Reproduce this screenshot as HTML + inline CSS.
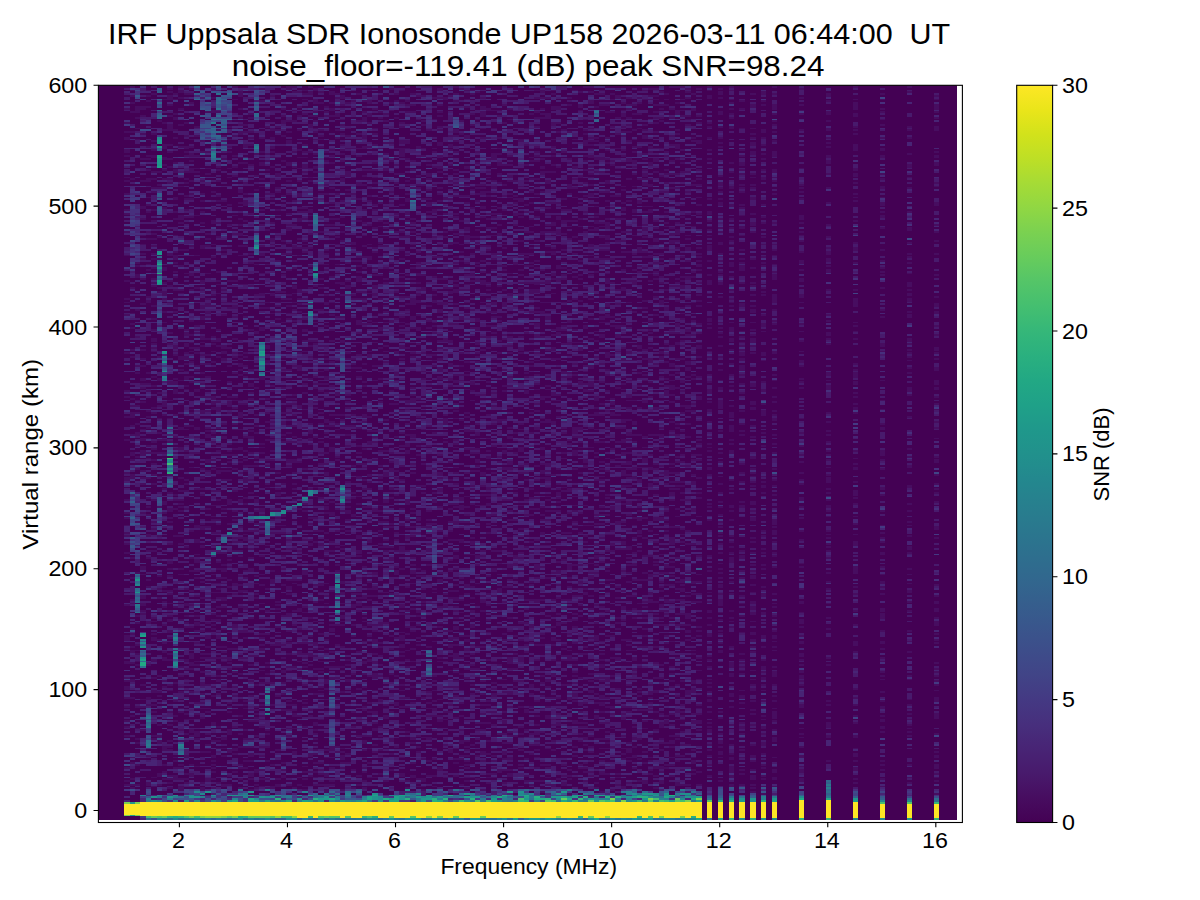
<!DOCTYPE html>
<html><head><meta charset="utf-8"><style>
html,body{margin:0;padding:0;background:#fff;width:1200px;height:900px;overflow:hidden}
svg{display:block}
text{font-family:"Liberation Sans",sans-serif;fill:#000}
</style></head><body>
<svg width="1200" height="900" viewBox="0 0 1200 900">
<defs><linearGradient id="vir" x1="0" y1="1" x2="0" y2="0"><stop offset="0.0000" stop-color="#440154"/><stop offset="0.0333" stop-color="#470d60"/><stop offset="0.0667" stop-color="#481a6c"/><stop offset="0.1000" stop-color="#482475"/><stop offset="0.1333" stop-color="#472f7d"/><stop offset="0.1667" stop-color="#443983"/><stop offset="0.2000" stop-color="#414487"/><stop offset="0.2333" stop-color="#3d4d8a"/><stop offset="0.2667" stop-color="#39568c"/><stop offset="0.3000" stop-color="#355f8d"/><stop offset="0.3333" stop-color="#31688e"/><stop offset="0.3667" stop-color="#2d708e"/><stop offset="0.4000" stop-color="#2a788e"/><stop offset="0.4333" stop-color="#27808e"/><stop offset="0.4667" stop-color="#23888e"/><stop offset="0.5000" stop-color="#21918c"/><stop offset="0.5333" stop-color="#1f988b"/><stop offset="0.5667" stop-color="#1fa188"/><stop offset="0.6000" stop-color="#22a884"/><stop offset="0.6333" stop-color="#2ab07f"/><stop offset="0.6667" stop-color="#35b779"/><stop offset="0.7000" stop-color="#44bf70"/><stop offset="0.7333" stop-color="#54c568"/><stop offset="0.7667" stop-color="#67cc5c"/><stop offset="0.8000" stop-color="#7ad151"/><stop offset="0.8333" stop-color="#90d743"/><stop offset="0.8667" stop-color="#a5db36"/><stop offset="0.9000" stop-color="#bddf26"/><stop offset="0.9333" stop-color="#d2e21b"/><stop offset="0.9667" stop-color="#eae51a"/><stop offset="1.0000" stop-color="#fde725"/></linearGradient></defs>
<rect x="0" y="0" width="1200" height="900" fill="#fff"/>
<g font-size="30">
<text x="107.95" y="43.8" textLength="842.3" lengthAdjust="spacingAndGlyphs" xml:space="preserve">IRF Uppsala SDR Ionosonde UP158 2026-03-11 06:44:00  UT</text>
<text x="231.7" y="76.3" textLength="592.8" lengthAdjust="spacingAndGlyphs">noise_floor=-119.41 (dB) peak SNR=98.24</text>
</g>
<rect x="98.4" y="85.3" width="858.60" height="734.70" fill="#440154"/>
<g transform="translate(124.2000,85.9375) scale(5.397,1.8125)" shape-rendering="crispEdges">
<path fill="#470d60" d="M23 390h1v1h-1zM30 390h1v1h-1zM61 390h1v1h-1zM82 390h1v1h-1zM92 390h1v1h-1zM118 390h1v1h-1zM150 390h1v1h-1zM37 389h1v1h-1zM77 389h1v1h-1zM88 389h1v1h-1zM95 389h1v1h-1zM116 389h1v1h-1zM10 388h1v1h-1zM14 388h1v1h-1zM23 388h1v1h-1zM33 388h1v1h-1zM37 388h1v1h-1zM40 388h1v1h-1zM55 388h1v1h-1zM66 388h1v1h-1zM90 388h1v1h-1zM1 387h1v1h-1zM8 387h1v1h-1zM10 387h1v1h-1zM14 387h1v1h-1zM16 387h1v1h-1zM21 387h1v1h-1zM24 387h1v1h-1zM26 387h2v1h-2zM31 387h1v1h-1zM42 387h1v1h-1zM44 387h1v1h-1zM52 387h1v1h-1zM63 387h1v1h-1zM87 387h1v1h-1zM92 387h1v1h-1zM94 387h1v1h-1zM98 387h1v1h-1zM116 387h1v1h-1zM5 386h1v1h-1zM10 386h1v1h-1zM13 386h1v1h-1zM18 386h1v1h-1zM25 386h1v1h-1zM27 386h2v1h-2zM33 386h1v1h-1zM37 386h1v1h-1zM54 386h2v1h-2zM57 386h1v1h-1zM79 386h1v1h-1zM92 386h1v1h-1zM112 386h1v1h-1zM118 386h1v1h-1zM120 386h1v1h-1zM140 386h1v1h-1zM0 385h3v1h-3zM4 385h1v1h-1zM6 385h1v1h-1zM18 385h2v1h-2zM24 385h1v1h-1zM28 385h1v1h-1zM30 385h1v1h-1zM32 385h1v1h-1zM35 385h4v1h-4zM43 385h1v1h-1zM62 385h1v1h-1zM75 385h1v1h-1zM78 385h2v1h-2zM81 385h1v1h-1zM91 385h1v1h-1zM102 385h3v1h-3zM106 385h1v1h-1zM112 385h1v1h-1zM114 385h1v1h-1zM116 385h1v1h-1zM4 384h1v1h-1zM8 384h1v1h-1zM11 384h1v1h-1zM14 384h1v1h-1zM17 384h1v1h-1zM22 384h1v1h-1zM54 384h1v1h-1zM67 384h1v1h-1zM70 384h1v1h-1zM81 384h1v1h-1zM87 384h1v1h-1zM93 384h1v1h-1zM96 384h1v1h-1zM99 384h1v1h-1zM102 384h1v1h-1zM135 384h1v1h-1zM145 384h1v1h-1zM0 383h1v1h-1zM15 383h1v1h-1zM38 383h1v1h-1zM44 383h1v1h-1zM48 383h1v1h-1zM52 383h1v1h-1zM55 383h1v1h-1zM63 383h1v1h-1zM74 383h4v1h-4zM85 383h1v1h-1zM95 383h2v1h-2zM99 383h1v1h-1zM110 383h1v1h-1zM125 383h1v1h-1zM150 383h1v1h-1zM1 382h1v1h-1zM7 382h5v1h-5zM15 382h2v1h-2zM21 382h1v1h-1zM23 382h1v1h-1zM25 382h2v1h-2zM28 382h1v1h-1zM33 382h1v1h-1zM41 382h1v1h-1zM54 382h2v1h-2zM65 382h1v1h-1zM80 382h1v1h-1zM82 382h1v1h-1zM90 382h1v1h-1zM116 382h1v1h-1zM118 382h1v1h-1zM120 382h1v1h-1zM125 382h1v1h-1zM135 382h1v1h-1zM140 382h1v1h-1zM5 381h1v1h-1zM9 381h1v1h-1zM29 381h1v1h-1zM32 381h1v1h-1zM35 381h1v1h-1zM40 381h1v1h-1zM45 381h2v1h-2zM49 381h1v1h-1zM53 381h1v1h-1zM59 381h1v1h-1zM63 381h2v1h-2zM67 381h2v1h-2zM78 381h1v1h-1zM91 381h1v1h-1zM112 381h1v1h-1zM116 381h1v1h-1zM120 381h1v1h-1zM145 381h1v1h-1zM150 381h1v1h-1zM6 380h1v1h-1zM8 380h2v1h-2zM12 380h1v1h-1zM19 380h1v1h-1zM23 380h1v1h-1zM29 380h1v1h-1zM34 380h1v1h-1zM37 380h1v1h-1zM43 380h1v1h-1zM51 380h1v1h-1zM53 380h1v1h-1zM56 380h2v1h-2zM61 380h1v1h-1zM71 380h1v1h-1zM74 380h1v1h-1zM81 380h2v1h-2zM86 380h1v1h-1zM98 380h1v1h-1zM101 380h1v1h-1zM108 380h1v1h-1zM112 380h1v1h-1zM116 380h1v1h-1zM118 380h1v1h-1zM6 379h1v1h-1zM11 379h2v1h-2zM23 379h1v1h-1zM36 379h2v1h-2zM47 379h1v1h-1zM51 379h1v1h-1zM59 379h1v1h-1zM67 379h2v1h-2zM71 379h1v1h-1zM78 379h1v1h-1zM88 379h2v1h-2zM91 379h1v1h-1zM97 379h1v1h-1zM105 379h1v1h-1zM114 379h1v1h-1zM150 379h1v1h-1zM7 378h1v1h-1zM16 378h1v1h-1zM20 378h1v1h-1zM24 378h1v1h-1zM33 378h3v1h-3zM44 378h1v1h-1zM62 378h1v1h-1zM69 378h1v1h-1zM85 378h2v1h-2zM88 378h1v1h-1zM99 378h1v1h-1zM106 378h1v1h-1zM112 378h1v1h-1zM120 378h1v1h-1zM125 378h1v1h-1zM24 377h2v1h-2zM29 377h1v1h-1zM36 377h1v1h-1zM42 377h1v1h-1zM49 377h1v1h-1zM58 377h1v1h-1zM69 377h3v1h-3zM82 377h1v1h-1zM97 377h1v1h-1zM103 377h1v1h-1zM105 377h1v1h-1zM112 377h1v1h-1zM114 377h1v1h-1zM116 377h1v1h-1zM120 377h1v1h-1zM125 377h1v1h-1zM135 377h1v1h-1zM140 377h1v1h-1zM0 376h1v1h-1zM9 376h2v1h-2zM16 376h1v1h-1zM21 376h2v1h-2zM38 376h1v1h-1zM40 376h1v1h-1zM44 376h1v1h-1zM58 376h1v1h-1zM63 376h1v1h-1zM68 376h1v1h-1zM73 376h1v1h-1zM76 376h1v1h-1zM78 376h1v1h-1zM84 376h2v1h-2zM94 376h1v1h-1zM98 376h3v1h-3zM112 376h1v1h-1zM118 376h1v1h-1zM135 376h1v1h-1zM150 376h1v1h-1zM13 375h1v1h-1zM33 375h1v1h-1zM75 375h1v1h-1zM89 375h1v1h-1zM97 375h3v1h-3zM112 375h1v1h-1zM125 375h1v1h-1zM150 375h1v1h-1zM2 374h1v1h-1zM7 374h1v1h-1zM10 374h1v1h-1zM12 374h1v1h-1zM16 374h1v1h-1zM21 374h1v1h-1zM27 374h1v1h-1zM63 374h1v1h-1zM73 374h1v1h-1zM77 374h2v1h-2zM81 374h1v1h-1zM84 374h1v1h-1zM100 374h2v1h-2zM108 374h1v1h-1zM118 374h1v1h-1zM140 374h1v1h-1zM145 374h1v1h-1zM150 374h1v1h-1zM1 373h1v1h-1zM29 373h1v1h-1zM35 373h2v1h-2zM40 373h2v1h-2zM45 373h1v1h-1zM53 373h1v1h-1zM61 373h1v1h-1zM85 373h1v1h-1zM96 373h1v1h-1zM105 373h1v1h-1zM9 372h1v1h-1zM16 372h1v1h-1zM22 372h2v1h-2zM26 372h1v1h-1zM56 372h1v1h-1zM63 372h1v1h-1zM66 372h1v1h-1zM68 372h1v1h-1zM88 372h1v1h-1zM93 372h1v1h-1zM97 372h1v1h-1zM102 372h1v1h-1zM105 372h1v1h-1zM116 372h1v1h-1zM130 372h1v1h-1zM135 372h1v1h-1zM140 372h1v1h-1zM40 371h1v1h-1zM55 371h1v1h-1zM57 371h1v1h-1zM61 371h2v1h-2zM70 371h2v1h-2zM74 371h1v1h-1zM92 371h1v1h-1zM95 371h1v1h-1zM112 371h1v1h-1zM1 370h1v1h-1zM9 370h1v1h-1zM11 370h1v1h-1zM16 370h1v1h-1zM33 370h1v1h-1zM37 370h2v1h-2zM40 370h1v1h-1zM51 370h1v1h-1zM71 370h1v1h-1zM76 370h1v1h-1zM93 370h2v1h-2zM97 370h1v1h-1zM101 370h1v1h-1zM105 370h1v1h-1zM110 370h1v1h-1zM112 370h1v1h-1zM114 370h1v1h-1zM116 370h1v1h-1zM120 370h1v1h-1zM125 370h1v1h-1zM150 370h1v1h-1zM4 369h1v1h-1zM11 369h1v1h-1zM16 369h1v1h-1zM18 369h1v1h-1zM23 369h1v1h-1zM25 369h1v1h-1zM34 369h1v1h-1zM40 369h1v1h-1zM47 369h1v1h-1zM62 369h2v1h-2zM65 369h1v1h-1zM68 369h1v1h-1zM83 369h1v1h-1zM94 369h1v1h-1zM102 369h2v1h-2zM108 369h1v1h-1zM116 369h1v1h-1zM125 369h1v1h-1zM135 369h1v1h-1zM150 369h1v1h-1zM20 368h1v1h-1zM23 368h1v1h-1zM31 368h1v1h-1zM34 368h2v1h-2zM37 368h1v1h-1zM41 368h1v1h-1zM49 368h1v1h-1zM66 368h2v1h-2zM70 368h1v1h-1zM75 368h1v1h-1zM92 368h1v1h-1zM110 368h1v1h-1zM112 368h1v1h-1zM118 368h1v1h-1zM135 368h1v1h-1zM14 367h2v1h-2zM19 367h1v1h-1zM31 367h1v1h-1zM39 367h2v1h-2zM46 367h1v1h-1zM54 367h1v1h-1zM60 367h1v1h-1zM66 367h1v1h-1zM70 367h1v1h-1zM86 367h1v1h-1zM93 367h1v1h-1zM96 367h1v1h-1zM110 367h1v1h-1zM150 367h1v1h-1zM7 366h2v1h-2zM19 366h2v1h-2zM28 366h1v1h-1zM35 366h1v1h-1zM37 366h2v1h-2zM44 366h1v1h-1zM47 366h1v1h-1zM60 366h1v1h-1zM63 366h1v1h-1zM73 366h1v1h-1zM76 366h1v1h-1zM79 366h1v1h-1zM85 366h1v1h-1zM93 366h1v1h-1zM99 366h1v1h-1zM105 366h1v1h-1zM108 366h1v1h-1zM114 366h1v1h-1zM7 365h1v1h-1zM15 365h1v1h-1zM17 365h2v1h-2zM20 365h1v1h-1zM38 365h1v1h-1zM40 365h1v1h-1zM45 365h1v1h-1zM57 365h1v1h-1zM61 365h1v1h-1zM68 365h1v1h-1zM78 365h1v1h-1zM88 365h2v1h-2zM92 365h2v1h-2zM135 365h1v1h-1zM7 364h2v1h-2zM21 364h3v1h-3zM25 364h2v1h-2zM38 364h2v1h-2zM50 364h1v1h-1zM54 364h1v1h-1zM63 364h1v1h-1zM72 364h1v1h-1zM83 364h1v1h-1zM86 364h1v1h-1zM90 364h1v1h-1zM94 364h1v1h-1zM98 364h1v1h-1zM101 364h1v1h-1zM110 364h1v1h-1zM125 364h1v1h-1zM15 363h1v1h-1zM46 363h1v1h-1zM59 363h1v1h-1zM64 363h1v1h-1zM75 363h2v1h-2zM85 363h1v1h-1zM103 363h2v1h-2zM108 363h1v1h-1zM112 363h1v1h-1zM116 363h1v1h-1zM118 363h1v1h-1zM2 362h1v1h-1zM6 362h1v1h-1zM42 362h1v1h-1zM44 362h1v1h-1zM53 362h1v1h-1zM62 362h1v1h-1zM70 362h2v1h-2zM82 362h1v1h-1zM89 362h1v1h-1zM93 362h1v1h-1zM98 362h4v1h-4zM110 362h1v1h-1zM118 362h1v1h-1zM6 361h1v1h-1zM8 361h1v1h-1zM10 361h2v1h-2zM16 361h2v1h-2zM44 361h1v1h-1zM49 361h1v1h-1zM62 361h2v1h-2zM67 361h1v1h-1zM76 361h1v1h-1zM79 361h1v1h-1zM84 361h1v1h-1zM101 361h1v1h-1zM110 361h1v1h-1zM120 361h1v1h-1zM2 360h1v1h-1zM5 360h1v1h-1zM13 360h1v1h-1zM18 360h1v1h-1zM22 360h2v1h-2zM35 360h1v1h-1zM49 360h1v1h-1zM53 360h1v1h-1zM56 360h1v1h-1zM65 360h1v1h-1zM85 360h1v1h-1zM87 360h3v1h-3zM94 360h2v1h-2zM99 360h1v1h-1zM102 360h1v1h-1zM120 360h1v1h-1zM6 359h1v1h-1zM18 359h1v1h-1zM53 359h1v1h-1zM55 359h2v1h-2zM73 359h1v1h-1zM76 359h1v1h-1zM84 359h2v1h-2zM94 359h1v1h-1zM97 359h1v1h-1zM120 359h1v1h-1zM125 359h1v1h-1zM130 359h1v1h-1zM135 359h1v1h-1zM0 358h1v1h-1zM5 358h2v1h-2zM12 358h2v1h-2zM24 358h1v1h-1zM30 358h1v1h-1zM43 358h3v1h-3zM47 358h1v1h-1zM54 358h1v1h-1zM71 358h2v1h-2zM86 358h1v1h-1zM92 358h1v1h-1zM101 358h2v1h-2zM130 358h1v1h-1zM135 358h1v1h-1zM145 358h1v1h-1zM11 357h1v1h-1zM13 357h1v1h-1zM15 357h1v1h-1zM19 357h1v1h-1zM21 357h1v1h-1zM26 357h1v1h-1zM35 357h1v1h-1zM69 357h2v1h-2zM73 357h1v1h-1zM75 357h2v1h-2zM84 357h1v1h-1zM95 357h1v1h-1zM97 357h1v1h-1zM110 357h1v1h-1zM114 357h1v1h-1zM118 357h1v1h-1zM125 357h1v1h-1zM150 357h1v1h-1zM12 356h2v1h-2zM19 356h1v1h-1zM52 356h1v1h-1zM59 356h1v1h-1zM71 356h1v1h-1zM76 356h2v1h-2zM82 356h1v1h-1zM89 356h1v1h-1zM103 356h1v1h-1zM108 356h1v1h-1zM140 356h1v1h-1zM145 356h1v1h-1zM3 355h1v1h-1zM10 355h1v1h-1zM12 355h1v1h-1zM19 355h1v1h-1zM22 355h1v1h-1zM26 355h1v1h-1zM35 355h1v1h-1zM46 355h1v1h-1zM62 355h1v1h-1zM65 355h2v1h-2zM74 355h1v1h-1zM79 355h1v1h-1zM98 355h1v1h-1zM106 355h1v1h-1zM108 355h1v1h-1zM120 355h1v1h-1zM2 354h1v1h-1zM21 354h1v1h-1zM30 354h2v1h-2zM46 354h1v1h-1zM51 354h1v1h-1zM72 354h1v1h-1zM80 354h1v1h-1zM90 354h1v1h-1zM92 354h1v1h-1zM96 354h1v1h-1zM110 354h1v1h-1zM114 354h1v1h-1zM118 354h1v1h-1zM125 354h1v1h-1zM140 354h1v1h-1zM145 354h1v1h-1zM0 353h1v1h-1zM17 353h1v1h-1zM20 353h1v1h-1zM25 353h1v1h-1zM33 353h1v1h-1zM42 353h1v1h-1zM47 353h1v1h-1zM73 353h1v1h-1zM84 353h2v1h-2zM94 353h1v1h-1zM99 353h1v1h-1zM108 353h1v1h-1zM114 353h1v1h-1zM118 353h1v1h-1zM130 353h1v1h-1zM140 353h1v1h-1zM6 352h1v1h-1zM8 352h1v1h-1zM16 352h1v1h-1zM32 352h1v1h-1zM35 352h1v1h-1zM44 352h1v1h-1zM68 352h1v1h-1zM76 352h1v1h-1zM79 352h2v1h-2zM99 352h1v1h-1zM101 352h1v1h-1zM112 352h1v1h-1zM116 352h1v1h-1zM130 352h1v1h-1zM145 352h1v1h-1zM16 351h1v1h-1zM35 351h1v1h-1zM46 351h1v1h-1zM53 351h1v1h-1zM65 351h3v1h-3zM70 351h1v1h-1zM80 351h1v1h-1zM83 351h3v1h-3zM88 351h2v1h-2zM99 351h2v1h-2zM105 351h2v1h-2zM108 351h1v1h-1zM114 351h1v1h-1zM130 351h1v1h-1zM135 351h1v1h-1zM0 350h1v1h-1zM9 350h1v1h-1zM23 350h2v1h-2zM39 350h1v1h-1zM58 350h1v1h-1zM70 350h1v1h-1zM83 350h1v1h-1zM96 350h1v1h-1zM100 350h1v1h-1zM105 350h2v1h-2zM120 350h1v1h-1zM140 350h1v1h-1zM11 349h2v1h-2zM25 349h1v1h-1zM36 349h1v1h-1zM39 349h1v1h-1zM42 349h3v1h-3zM58 349h2v1h-2zM79 349h1v1h-1zM92 349h1v1h-1zM98 349h1v1h-1zM102 349h2v1h-2zM112 349h1v1h-1zM118 349h1v1h-1zM140 349h1v1h-1zM145 349h1v1h-1zM14 348h1v1h-1zM24 348h1v1h-1zM48 348h1v1h-1zM61 348h1v1h-1zM78 348h1v1h-1zM87 348h1v1h-1zM92 348h1v1h-1zM110 348h1v1h-1zM120 348h1v1h-1zM150 348h1v1h-1zM1 347h1v1h-1zM9 347h1v1h-1zM21 347h1v1h-1zM25 347h1v1h-1zM31 347h2v1h-2zM34 347h1v1h-1zM48 347h1v1h-1zM56 347h3v1h-3zM62 347h1v1h-1zM76 347h1v1h-1zM78 347h1v1h-1zM85 347h1v1h-1zM87 347h1v1h-1zM100 347h1v1h-1zM103 347h1v1h-1zM118 347h1v1h-1zM120 347h1v1h-1zM135 347h1v1h-1zM140 347h1v1h-1zM150 347h1v1h-1zM3 346h1v1h-1zM11 346h1v1h-1zM13 346h1v1h-1zM24 346h1v1h-1zM31 346h1v1h-1zM46 346h1v1h-1zM66 346h1v1h-1zM80 346h1v1h-1zM90 346h1v1h-1zM92 346h1v1h-1zM99 346h1v1h-1zM101 346h1v1h-1zM105 346h2v1h-2zM116 346h1v1h-1zM120 346h1v1h-1zM145 346h1v1h-1zM150 346h1v1h-1zM5 345h1v1h-1zM8 345h1v1h-1zM10 345h1v1h-1zM15 345h1v1h-1zM19 345h1v1h-1zM42 345h1v1h-1zM45 345h2v1h-2zM49 345h1v1h-1zM59 345h2v1h-2zM67 345h2v1h-2zM70 345h1v1h-1zM74 345h1v1h-1zM84 345h1v1h-1zM88 345h1v1h-1zM93 345h1v1h-1zM98 345h1v1h-1zM102 345h2v1h-2zM108 345h1v1h-1zM110 345h1v1h-1zM120 345h1v1h-1zM23 344h2v1h-2zM29 344h3v1h-3zM34 344h1v1h-1zM44 344h1v1h-1zM57 344h1v1h-1zM74 344h1v1h-1zM87 344h1v1h-1zM95 344h3v1h-3zM102 344h1v1h-1zM116 344h1v1h-1zM10 343h1v1h-1zM13 343h3v1h-3zM22 343h1v1h-1zM48 343h1v1h-1zM56 343h2v1h-2zM67 343h3v1h-3zM77 343h1v1h-1zM80 343h1v1h-1zM90 343h2v1h-2zM106 343h1v1h-1zM118 343h1v1h-1zM120 343h1v1h-1zM140 343h1v1h-1zM145 343h1v1h-1zM0 342h1v1h-1zM2 342h2v1h-2zM19 342h1v1h-1zM24 342h1v1h-1zM33 342h1v1h-1zM44 342h1v1h-1zM51 342h2v1h-2zM71 342h1v1h-1zM73 342h1v1h-1zM75 342h1v1h-1zM78 342h1v1h-1zM89 342h2v1h-2zM92 342h2v1h-2zM97 342h1v1h-1zM112 342h1v1h-1zM125 342h1v1h-1zM140 342h1v1h-1zM4 341h2v1h-2zM22 341h1v1h-1zM25 341h1v1h-1zM27 341h1v1h-1zM30 341h2v1h-2zM48 341h1v1h-1zM50 341h1v1h-1zM60 341h1v1h-1zM66 341h2v1h-2zM84 341h1v1h-1zM88 341h1v1h-1zM103 341h1v1h-1zM106 341h1v1h-1zM125 341h1v1h-1zM130 341h1v1h-1zM135 341h1v1h-1zM145 341h1v1h-1zM13 340h2v1h-2zM19 340h1v1h-1zM33 340h1v1h-1zM42 340h1v1h-1zM45 340h1v1h-1zM50 340h1v1h-1zM53 340h1v1h-1zM56 340h1v1h-1zM62 340h1v1h-1zM84 340h2v1h-2zM87 340h2v1h-2zM97 340h1v1h-1zM114 340h1v1h-1zM9 339h1v1h-1zM22 339h1v1h-1zM30 339h1v1h-1zM47 339h1v1h-1zM57 339h1v1h-1zM67 339h1v1h-1zM76 339h1v1h-1zM83 339h1v1h-1zM108 339h1v1h-1zM116 339h1v1h-1zM118 339h1v1h-1zM120 339h1v1h-1zM130 339h1v1h-1zM140 339h1v1h-1zM150 339h1v1h-1zM3 338h2v1h-2zM18 338h2v1h-2zM29 338h1v1h-1zM33 338h1v1h-1zM37 338h1v1h-1zM44 338h1v1h-1zM47 338h1v1h-1zM49 338h1v1h-1zM58 338h1v1h-1zM82 338h1v1h-1zM87 338h1v1h-1zM91 338h1v1h-1zM100 338h1v1h-1zM108 338h1v1h-1zM125 338h1v1h-1zM145 338h1v1h-1zM150 338h1v1h-1zM0 337h2v1h-2zM4 337h1v1h-1zM39 337h1v1h-1zM51 337h2v1h-2zM55 337h1v1h-1zM60 337h1v1h-1zM78 337h3v1h-3zM82 337h1v1h-1zM88 337h2v1h-2zM97 337h1v1h-1zM103 337h1v1h-1zM114 337h1v1h-1zM135 337h1v1h-1zM150 337h1v1h-1zM6 336h1v1h-1zM16 336h1v1h-1zM20 336h1v1h-1zM23 336h1v1h-1zM28 336h1v1h-1zM56 336h1v1h-1zM61 336h1v1h-1zM68 336h1v1h-1zM77 336h1v1h-1zM83 336h1v1h-1zM88 336h1v1h-1zM95 336h1v1h-1zM100 336h1v1h-1zM102 336h1v1h-1zM108 336h1v1h-1zM112 336h1v1h-1zM114 336h1v1h-1zM120 336h1v1h-1zM11 335h1v1h-1zM14 335h1v1h-1zM17 335h1v1h-1zM26 335h1v1h-1zM29 335h1v1h-1zM35 335h2v1h-2zM64 335h1v1h-1zM66 335h1v1h-1zM68 335h1v1h-1zM71 335h1v1h-1zM75 335h1v1h-1zM83 335h1v1h-1zM87 335h1v1h-1zM97 335h1v1h-1zM104 335h1v1h-1zM112 335h1v1h-1zM5 334h2v1h-2zM10 334h1v1h-1zM12 334h1v1h-1zM40 334h1v1h-1zM56 334h1v1h-1zM70 334h2v1h-2zM79 334h1v1h-1zM86 334h1v1h-1zM95 334h1v1h-1zM97 334h2v1h-2zM104 334h2v1h-2zM108 334h1v1h-1zM140 334h1v1h-1zM2 333h2v1h-2zM5 333h1v1h-1zM8 333h1v1h-1zM11 333h1v1h-1zM30 333h1v1h-1zM36 333h1v1h-1zM44 333h1v1h-1zM46 333h1v1h-1zM51 333h1v1h-1zM57 333h1v1h-1zM61 333h2v1h-2zM86 333h1v1h-1zM98 333h1v1h-1zM104 333h2v1h-2zM114 333h1v1h-1zM116 333h1v1h-1zM118 333h1v1h-1zM150 333h1v1h-1zM0 332h1v1h-1zM31 332h1v1h-1zM37 332h1v1h-1zM43 332h1v1h-1zM65 332h1v1h-1zM68 332h1v1h-1zM91 332h1v1h-1zM95 332h1v1h-1zM105 332h1v1h-1zM116 332h1v1h-1zM135 332h1v1h-1zM0 331h1v1h-1zM7 331h1v1h-1zM10 331h1v1h-1zM16 331h1v1h-1zM18 331h1v1h-1zM20 331h1v1h-1zM36 331h1v1h-1zM44 331h1v1h-1zM53 331h1v1h-1zM59 331h3v1h-3zM72 331h1v1h-1zM75 331h1v1h-1zM78 331h1v1h-1zM101 331h1v1h-1zM108 331h1v1h-1zM3 330h1v1h-1zM8 330h1v1h-1zM14 330h2v1h-2zM24 330h1v1h-1zM33 330h1v1h-1zM51 330h1v1h-1zM56 330h1v1h-1zM64 330h1v1h-1zM75 330h1v1h-1zM81 330h2v1h-2zM89 330h1v1h-1zM93 330h1v1h-1zM97 330h1v1h-1zM102 330h1v1h-1zM116 330h1v1h-1zM118 330h1v1h-1zM120 330h1v1h-1zM125 330h1v1h-1zM150 330h1v1h-1zM9 329h1v1h-1zM11 329h1v1h-1zM14 329h1v1h-1zM25 329h3v1h-3zM29 329h1v1h-1zM37 329h1v1h-1zM54 329h1v1h-1zM68 329h1v1h-1zM77 329h1v1h-1zM83 329h1v1h-1zM105 329h1v1h-1zM108 329h1v1h-1zM0 328h2v1h-2zM7 328h1v1h-1zM17 328h1v1h-1zM23 328h1v1h-1zM37 328h1v1h-1zM41 328h1v1h-1zM57 328h1v1h-1zM61 328h1v1h-1zM66 328h1v1h-1zM72 328h2v1h-2zM78 328h1v1h-1zM86 328h1v1h-1zM88 328h2v1h-2zM101 328h1v1h-1zM103 328h1v1h-1zM105 328h1v1h-1zM125 328h1v1h-1zM150 328h1v1h-1zM1 327h1v1h-1zM11 327h1v1h-1zM17 327h1v1h-1zM30 327h1v1h-1zM37 327h2v1h-2zM41 327h1v1h-1zM69 327h2v1h-2zM76 327h1v1h-1zM78 327h1v1h-1zM85 327h1v1h-1zM87 327h1v1h-1zM89 327h2v1h-2zM106 327h1v1h-1zM108 327h1v1h-1zM116 327h1v1h-1zM118 327h1v1h-1zM140 327h1v1h-1zM145 327h1v1h-1zM0 326h1v1h-1zM5 326h1v1h-1zM32 326h1v1h-1zM36 326h1v1h-1zM38 326h2v1h-2zM46 326h1v1h-1zM48 326h1v1h-1zM55 326h1v1h-1zM63 326h1v1h-1zM66 326h2v1h-2zM84 326h1v1h-1zM87 326h3v1h-3zM98 326h2v1h-2zM118 326h1v1h-1zM125 326h1v1h-1zM6 325h1v1h-1zM10 325h1v1h-1zM15 325h1v1h-1zM17 325h1v1h-1zM28 325h1v1h-1zM45 325h3v1h-3zM50 325h1v1h-1zM57 325h1v1h-1zM77 325h1v1h-1zM79 325h1v1h-1zM83 325h1v1h-1zM90 325h1v1h-1zM112 325h1v1h-1zM120 325h1v1h-1zM125 325h1v1h-1zM140 325h1v1h-1zM145 325h1v1h-1zM150 325h1v1h-1zM21 324h1v1h-1zM26 324h1v1h-1zM42 324h1v1h-1zM44 324h1v1h-1zM46 324h1v1h-1zM49 324h1v1h-1zM62 324h1v1h-1zM79 324h1v1h-1zM86 324h1v1h-1zM94 324h1v1h-1zM101 324h1v1h-1zM112 324h1v1h-1zM114 324h1v1h-1zM120 324h1v1h-1zM14 323h1v1h-1zM20 323h1v1h-1zM27 323h1v1h-1zM29 323h1v1h-1zM36 323h1v1h-1zM61 323h1v1h-1zM83 323h1v1h-1zM118 323h1v1h-1zM120 323h1v1h-1zM125 323h1v1h-1zM140 323h1v1h-1zM150 323h1v1h-1zM16 322h1v1h-1zM25 322h1v1h-1zM29 322h2v1h-2zM40 322h1v1h-1zM50 322h1v1h-1zM60 322h1v1h-1zM94 322h1v1h-1zM101 322h1v1h-1zM104 322h1v1h-1zM106 322h1v1h-1zM114 322h1v1h-1zM116 322h1v1h-1zM125 322h1v1h-1zM11 321h2v1h-2zM17 321h1v1h-1zM19 321h1v1h-1zM32 321h1v1h-1zM35 321h2v1h-2zM42 321h1v1h-1zM49 321h1v1h-1zM61 321h1v1h-1zM63 321h3v1h-3zM71 321h2v1h-2zM87 321h1v1h-1zM94 321h1v1h-1zM118 321h1v1h-1zM150 321h1v1h-1zM10 320h1v1h-1zM20 320h2v1h-2zM26 320h1v1h-1zM30 320h2v1h-2zM33 320h1v1h-1zM37 320h4v1h-4zM52 320h1v1h-1zM85 320h1v1h-1zM88 320h1v1h-1zM95 320h1v1h-1zM101 320h1v1h-1zM108 320h1v1h-1zM112 320h1v1h-1zM114 320h1v1h-1zM118 320h1v1h-1zM120 320h1v1h-1zM2 319h1v1h-1zM4 319h1v1h-1zM12 319h2v1h-2zM23 319h1v1h-1zM29 319h1v1h-1zM34 319h1v1h-1zM41 319h1v1h-1zM47 319h1v1h-1zM63 319h2v1h-2zM69 319h1v1h-1zM83 319h1v1h-1zM88 319h1v1h-1zM99 319h1v1h-1zM112 319h1v1h-1zM125 319h1v1h-1zM130 319h1v1h-1zM0 318h2v1h-2zM12 318h1v1h-1zM19 318h1v1h-1zM26 318h1v1h-1zM33 318h1v1h-1zM44 318h1v1h-1zM46 318h1v1h-1zM54 318h1v1h-1zM56 318h1v1h-1zM71 318h1v1h-1zM98 318h1v1h-1zM112 318h1v1h-1zM114 318h1v1h-1zM150 318h1v1h-1zM0 317h1v1h-1zM2 317h1v1h-1zM5 317h1v1h-1zM11 317h1v1h-1zM13 317h1v1h-1zM15 317h2v1h-2zM18 317h1v1h-1zM22 317h1v1h-1zM32 317h1v1h-1zM36 317h2v1h-2zM44 317h3v1h-3zM48 317h1v1h-1zM51 317h1v1h-1zM53 317h1v1h-1zM58 317h2v1h-2zM68 317h1v1h-1zM71 317h1v1h-1zM73 317h1v1h-1zM80 317h1v1h-1zM89 317h1v1h-1zM92 317h1v1h-1zM96 317h1v1h-1zM140 317h1v1h-1zM5 316h1v1h-1zM7 316h2v1h-2zM11 316h1v1h-1zM19 316h1v1h-1zM41 316h1v1h-1zM45 316h1v1h-1zM52 316h1v1h-1zM67 316h1v1h-1zM71 316h1v1h-1zM73 316h1v1h-1zM76 316h1v1h-1zM79 316h1v1h-1zM81 316h3v1h-3zM87 316h2v1h-2zM91 316h1v1h-1zM94 316h1v1h-1zM108 316h1v1h-1zM114 316h1v1h-1zM118 316h1v1h-1zM125 316h1v1h-1zM7 315h1v1h-1zM12 315h1v1h-1zM14 315h6v1h-6zM21 315h2v1h-2zM29 315h1v1h-1zM33 315h1v1h-1zM58 315h1v1h-1zM61 315h2v1h-2zM71 315h1v1h-1zM73 315h1v1h-1zM82 315h1v1h-1zM90 315h2v1h-2zM94 315h1v1h-1zM102 315h1v1h-1zM106 315h1v1h-1zM130 315h1v1h-1zM140 315h1v1h-1zM12 314h1v1h-1zM23 314h2v1h-2zM34 314h2v1h-2zM47 314h1v1h-1zM51 314h1v1h-1zM60 314h2v1h-2zM63 314h1v1h-1zM81 314h2v1h-2zM108 314h1v1h-1zM125 314h1v1h-1zM2 313h1v1h-1zM8 313h1v1h-1zM12 313h1v1h-1zM14 313h2v1h-2zM30 313h1v1h-1zM32 313h3v1h-3zM46 313h1v1h-1zM55 313h1v1h-1zM61 313h1v1h-1zM64 313h1v1h-1zM72 313h1v1h-1zM84 313h2v1h-2zM88 313h1v1h-1zM105 313h1v1h-1zM114 313h1v1h-1zM125 313h1v1h-1zM1 312h1v1h-1zM7 312h1v1h-1zM18 312h1v1h-1zM28 312h1v1h-1zM32 312h1v1h-1zM38 312h1v1h-1zM43 312h1v1h-1zM51 312h1v1h-1zM74 312h1v1h-1zM110 312h1v1h-1zM116 312h1v1h-1zM135 312h1v1h-1zM145 312h1v1h-1zM1 311h2v1h-2zM4 311h1v1h-1zM24 311h2v1h-2zM50 311h1v1h-1zM52 311h1v1h-1zM63 311h1v1h-1zM82 311h1v1h-1zM90 311h1v1h-1zM93 311h2v1h-2zM98 311h1v1h-1zM105 311h1v1h-1zM110 311h1v1h-1zM120 311h1v1h-1zM0 310h1v1h-1zM19 310h2v1h-2zM25 310h1v1h-1zM35 310h1v1h-1zM37 310h1v1h-1zM49 310h1v1h-1zM53 310h1v1h-1zM63 310h1v1h-1zM81 310h1v1h-1zM140 310h1v1h-1zM1 309h1v1h-1zM15 309h1v1h-1zM17 309h2v1h-2zM36 309h1v1h-1zM40 309h1v1h-1zM47 309h1v1h-1zM51 309h1v1h-1zM56 309h1v1h-1zM60 309h1v1h-1zM65 309h2v1h-2zM85 309h1v1h-1zM95 309h2v1h-2zM98 309h1v1h-1zM112 309h1v1h-1zM116 309h1v1h-1zM118 309h1v1h-1zM120 309h1v1h-1zM2 308h1v1h-1zM25 308h1v1h-1zM27 308h3v1h-3zM35 308h1v1h-1zM39 308h1v1h-1zM51 308h1v1h-1zM54 308h1v1h-1zM60 308h2v1h-2zM64 308h1v1h-1zM74 308h1v1h-1zM76 308h2v1h-2zM79 308h1v1h-1zM81 308h1v1h-1zM87 308h1v1h-1zM93 308h1v1h-1zM135 308h1v1h-1zM7 307h1v1h-1zM13 307h1v1h-1zM28 307h1v1h-1zM30 307h1v1h-1zM32 307h4v1h-4zM46 307h2v1h-2zM75 307h1v1h-1zM83 307h1v1h-1zM100 307h1v1h-1zM110 307h1v1h-1zM125 307h1v1h-1zM135 307h1v1h-1zM140 307h1v1h-1zM150 307h1v1h-1zM44 306h3v1h-3zM57 306h1v1h-1zM63 306h1v1h-1zM66 306h1v1h-1zM68 306h1v1h-1zM74 306h1v1h-1zM84 306h1v1h-1zM86 306h1v1h-1zM88 306h1v1h-1zM94 306h2v1h-2zM97 306h1v1h-1zM101 306h1v1h-1zM103 306h1v1h-1zM116 306h1v1h-1zM120 306h1v1h-1zM125 306h1v1h-1zM135 306h1v1h-1zM140 306h1v1h-1zM145 306h1v1h-1zM0 305h1v1h-1zM5 305h2v1h-2zM30 305h1v1h-1zM33 305h1v1h-1zM37 305h1v1h-1zM46 305h1v1h-1zM51 305h1v1h-1zM60 305h1v1h-1zM63 305h1v1h-1zM70 305h1v1h-1zM73 305h1v1h-1zM79 305h2v1h-2zM85 305h1v1h-1zM87 305h1v1h-1zM92 305h2v1h-2zM98 305h1v1h-1zM104 305h1v1h-1zM116 305h1v1h-1zM150 305h1v1h-1zM0 304h1v1h-1zM5 304h1v1h-1zM8 304h1v1h-1zM15 304h1v1h-1zM17 304h1v1h-1zM22 304h1v1h-1zM25 304h1v1h-1zM50 304h2v1h-2zM54 304h1v1h-1zM60 304h2v1h-2zM76 304h2v1h-2zM79 304h1v1h-1zM86 304h2v1h-2zM97 304h1v1h-1zM105 304h1v1h-1zM118 304h1v1h-1zM120 304h1v1h-1zM0 303h1v1h-1zM15 303h1v1h-1zM17 303h1v1h-1zM20 303h1v1h-1zM34 303h1v1h-1zM42 303h1v1h-1zM45 303h1v1h-1zM49 303h1v1h-1zM51 303h1v1h-1zM62 303h2v1h-2zM72 303h1v1h-1zM74 303h1v1h-1zM84 303h1v1h-1zM87 303h1v1h-1zM89 303h2v1h-2zM96 303h1v1h-1zM100 303h1v1h-1zM106 303h1v1h-1zM108 303h1v1h-1zM118 303h1v1h-1zM120 303h1v1h-1zM125 303h1v1h-1zM1 302h1v1h-1zM5 302h1v1h-1zM25 302h2v1h-2zM36 302h1v1h-1zM52 302h1v1h-1zM70 302h1v1h-1zM77 302h1v1h-1zM82 302h1v1h-1zM85 302h1v1h-1zM108 302h1v1h-1zM110 302h1v1h-1zM116 302h1v1h-1zM150 302h1v1h-1zM8 301h2v1h-2zM11 301h1v1h-1zM17 301h1v1h-1zM19 301h1v1h-1zM21 301h3v1h-3zM32 301h1v1h-1zM51 301h1v1h-1zM55 301h1v1h-1zM67 301h1v1h-1zM78 301h1v1h-1zM83 301h1v1h-1zM104 301h1v1h-1zM114 301h1v1h-1zM116 301h1v1h-1zM8 300h1v1h-1zM13 300h2v1h-2zM21 300h2v1h-2zM30 300h1v1h-1zM38 300h1v1h-1zM46 300h1v1h-1zM53 300h1v1h-1zM59 300h2v1h-2zM71 300h1v1h-1zM104 300h1v1h-1zM106 300h1v1h-1zM110 300h1v1h-1zM120 300h1v1h-1zM140 300h1v1h-1zM145 300h1v1h-1zM1 299h1v1h-1zM16 299h1v1h-1zM18 299h1v1h-1zM32 299h1v1h-1zM35 299h1v1h-1zM38 299h1v1h-1zM61 299h1v1h-1zM85 299h1v1h-1zM91 299h1v1h-1zM96 299h1v1h-1zM130 299h1v1h-1zM11 298h2v1h-2zM19 298h2v1h-2zM25 298h1v1h-1zM28 298h1v1h-1zM34 298h2v1h-2zM44 298h1v1h-1zM52 298h2v1h-2zM58 298h1v1h-1zM61 298h1v1h-1zM64 298h1v1h-1zM75 298h1v1h-1zM78 298h2v1h-2zM83 298h1v1h-1zM88 298h1v1h-1zM106 298h1v1h-1zM112 298h1v1h-1zM125 298h1v1h-1zM7 297h1v1h-1zM13 297h1v1h-1zM16 297h1v1h-1zM20 297h1v1h-1zM31 297h1v1h-1zM38 297h3v1h-3zM42 297h1v1h-1zM45 297h3v1h-3zM54 297h1v1h-1zM64 297h1v1h-1zM75 297h1v1h-1zM80 297h1v1h-1zM98 297h3v1h-3zM102 297h3v1h-3zM108 297h1v1h-1zM135 297h1v1h-1zM150 297h1v1h-1zM2 296h1v1h-1zM4 296h1v1h-1zM11 296h1v1h-1zM13 296h1v1h-1zM15 296h1v1h-1zM47 296h2v1h-2zM58 296h1v1h-1zM73 296h2v1h-2zM80 296h2v1h-2zM87 296h1v1h-1zM91 296h1v1h-1zM101 296h1v1h-1zM125 296h1v1h-1zM150 296h1v1h-1zM4 295h2v1h-2zM8 295h1v1h-1zM17 295h1v1h-1zM35 295h1v1h-1zM38 295h1v1h-1zM40 295h1v1h-1zM44 295h1v1h-1zM53 295h2v1h-2zM59 295h1v1h-1zM105 295h1v1h-1zM112 295h1v1h-1zM116 295h1v1h-1zM125 295h1v1h-1zM150 295h1v1h-1zM8 294h1v1h-1zM10 294h1v1h-1zM16 294h2v1h-2zM67 294h1v1h-1zM82 294h2v1h-2zM92 294h1v1h-1zM98 294h1v1h-1zM110 294h1v1h-1zM125 294h1v1h-1zM5 293h1v1h-1zM23 293h1v1h-1zM34 293h1v1h-1zM40 293h1v1h-1zM44 293h1v1h-1zM61 293h1v1h-1zM64 293h1v1h-1zM71 293h1v1h-1zM86 293h1v1h-1zM91 293h1v1h-1zM94 293h1v1h-1zM96 293h1v1h-1zM99 293h1v1h-1zM101 293h1v1h-1zM104 293h1v1h-1zM108 293h1v1h-1zM112 293h1v1h-1zM130 293h1v1h-1zM140 293h1v1h-1zM150 293h1v1h-1zM2 292h1v1h-1zM8 292h1v1h-1zM11 292h1v1h-1zM13 292h1v1h-1zM17 292h1v1h-1zM29 292h2v1h-2zM40 292h1v1h-1zM54 292h2v1h-2zM78 292h1v1h-1zM84 292h1v1h-1zM88 292h1v1h-1zM104 292h1v1h-1zM114 292h1v1h-1zM120 292h1v1h-1zM140 292h1v1h-1zM3 291h1v1h-1zM16 291h1v1h-1zM19 291h1v1h-1zM30 291h1v1h-1zM51 291h2v1h-2zM80 291h1v1h-1zM83 291h1v1h-1zM86 291h1v1h-1zM96 291h1v1h-1zM98 291h1v1h-1zM100 291h1v1h-1zM102 291h3v1h-3zM116 291h1v1h-1zM118 291h1v1h-1zM140 291h1v1h-1zM20 290h1v1h-1zM24 290h1v1h-1zM33 290h1v1h-1zM36 290h1v1h-1zM46 290h1v1h-1zM48 290h1v1h-1zM50 290h1v1h-1zM54 290h1v1h-1zM58 290h2v1h-2zM62 290h1v1h-1zM64 290h1v1h-1zM74 290h1v1h-1zM88 290h1v1h-1zM90 290h1v1h-1zM95 290h2v1h-2zM108 290h1v1h-1zM110 290h1v1h-1zM116 290h1v1h-1zM118 290h1v1h-1zM125 290h1v1h-1zM3 289h1v1h-1zM26 289h1v1h-1zM31 289h2v1h-2zM43 289h1v1h-1zM52 289h1v1h-1zM54 289h1v1h-1zM61 289h1v1h-1zM64 289h1v1h-1zM66 289h1v1h-1zM89 289h1v1h-1zM93 289h1v1h-1zM99 289h2v1h-2zM108 289h1v1h-1zM112 289h1v1h-1zM135 289h1v1h-1zM140 289h1v1h-1zM145 289h1v1h-1zM150 289h1v1h-1zM11 288h1v1h-1zM16 288h1v1h-1zM22 288h1v1h-1zM28 288h1v1h-1zM32 288h1v1h-1zM53 288h1v1h-1zM74 288h1v1h-1zM86 288h1v1h-1zM92 288h1v1h-1zM94 288h1v1h-1zM116 288h1v1h-1zM140 288h1v1h-1zM150 288h1v1h-1zM7 287h1v1h-1zM9 287h1v1h-1zM17 287h2v1h-2zM21 287h2v1h-2zM24 287h1v1h-1zM33 287h1v1h-1zM42 287h1v1h-1zM44 287h2v1h-2zM48 287h1v1h-1zM51 287h1v1h-1zM58 287h2v1h-2zM61 287h1v1h-1zM79 287h1v1h-1zM88 287h1v1h-1zM92 287h1v1h-1zM96 287h1v1h-1zM99 287h1v1h-1zM116 287h1v1h-1zM120 287h1v1h-1zM0 286h1v1h-1zM3 286h1v1h-1zM11 286h2v1h-2zM28 286h1v1h-1zM42 286h2v1h-2zM51 286h1v1h-1zM55 286h1v1h-1zM59 286h1v1h-1zM67 286h1v1h-1zM84 286h1v1h-1zM87 286h1v1h-1zM99 286h1v1h-1zM103 286h1v1h-1zM110 286h1v1h-1zM1 285h1v1h-1zM3 285h1v1h-1zM8 285h1v1h-1zM11 285h1v1h-1zM25 285h1v1h-1zM37 285h1v1h-1zM40 285h1v1h-1zM43 285h1v1h-1zM48 285h1v1h-1zM53 285h2v1h-2zM56 285h2v1h-2zM81 285h1v1h-1zM95 285h1v1h-1zM110 285h1v1h-1zM114 285h1v1h-1zM116 285h1v1h-1zM120 285h1v1h-1zM125 285h1v1h-1zM130 285h1v1h-1zM150 285h1v1h-1zM7 284h1v1h-1zM28 284h1v1h-1zM35 284h1v1h-1zM55 284h1v1h-1zM66 284h1v1h-1zM70 284h1v1h-1zM76 284h1v1h-1zM96 284h3v1h-3zM100 284h2v1h-2zM105 284h2v1h-2zM108 284h1v1h-1zM110 284h1v1h-1zM116 284h1v1h-1zM125 284h1v1h-1zM145 284h1v1h-1zM150 284h1v1h-1zM1 283h1v1h-1zM16 283h1v1h-1zM18 283h1v1h-1zM36 283h1v1h-1zM45 283h1v1h-1zM53 283h1v1h-1zM61 283h2v1h-2zM66 283h1v1h-1zM74 283h4v1h-4zM79 283h1v1h-1zM81 283h2v1h-2zM84 283h1v1h-1zM97 283h1v1h-1zM100 283h1v1h-1zM102 283h2v1h-2zM110 283h1v1h-1zM3 282h1v1h-1zM6 282h1v1h-1zM14 282h2v1h-2zM17 282h2v1h-2zM24 282h1v1h-1zM42 282h3v1h-3zM54 282h1v1h-1zM60 282h2v1h-2zM64 282h1v1h-1zM80 282h1v1h-1zM91 282h1v1h-1zM96 282h1v1h-1zM99 282h1v1h-1zM3 281h1v1h-1zM13 281h1v1h-1zM19 281h1v1h-1zM37 281h1v1h-1zM44 281h3v1h-3zM50 281h2v1h-2zM62 281h1v1h-1zM66 281h1v1h-1zM68 281h1v1h-1zM83 281h2v1h-2zM86 281h1v1h-1zM88 281h1v1h-1zM93 281h2v1h-2zM104 281h1v1h-1zM114 281h1v1h-1zM118 281h1v1h-1zM150 281h1v1h-1zM8 280h1v1h-1zM20 280h1v1h-1zM24 280h1v1h-1zM30 280h1v1h-1zM39 280h2v1h-2zM42 280h2v1h-2zM49 280h1v1h-1zM59 280h1v1h-1zM63 280h1v1h-1zM67 280h1v1h-1zM85 280h1v1h-1zM97 280h1v1h-1zM105 280h2v1h-2zM110 280h1v1h-1zM112 280h1v1h-1zM118 280h1v1h-1zM120 280h1v1h-1zM135 280h1v1h-1zM140 280h1v1h-1zM1 279h1v1h-1zM16 279h2v1h-2zM21 279h1v1h-1zM36 279h1v1h-1zM40 279h1v1h-1zM47 279h2v1h-2zM57 279h1v1h-1zM69 279h1v1h-1zM80 279h1v1h-1zM85 279h1v1h-1zM89 279h1v1h-1zM94 279h1v1h-1zM97 279h1v1h-1zM108 279h1v1h-1zM116 279h1v1h-1zM145 279h1v1h-1zM7 278h2v1h-2zM12 278h1v1h-1zM21 278h2v1h-2zM38 278h1v1h-1zM60 278h2v1h-2zM69 278h1v1h-1zM92 278h1v1h-1zM99 278h1v1h-1zM103 278h1v1h-1zM145 278h1v1h-1zM6 277h1v1h-1zM9 277h1v1h-1zM11 277h1v1h-1zM17 277h1v1h-1zM26 277h1v1h-1zM30 277h1v1h-1zM45 277h2v1h-2zM55 277h1v1h-1zM57 277h1v1h-1zM69 277h1v1h-1zM83 277h1v1h-1zM85 277h1v1h-1zM102 277h2v1h-2zM125 277h1v1h-1zM130 277h1v1h-1zM4 276h1v1h-1zM7 276h1v1h-1zM19 276h1v1h-1zM30 276h1v1h-1zM42 276h1v1h-1zM46 276h1v1h-1zM52 276h1v1h-1zM63 276h2v1h-2zM70 276h2v1h-2zM74 276h1v1h-1zM82 276h1v1h-1zM91 276h1v1h-1zM99 276h1v1h-1zM110 276h1v1h-1zM118 276h1v1h-1zM135 276h1v1h-1zM140 276h1v1h-1zM20 275h2v1h-2zM25 275h1v1h-1zM29 275h1v1h-1zM32 275h1v1h-1zM35 275h2v1h-2zM61 275h1v1h-1zM63 275h1v1h-1zM75 275h1v1h-1zM80 275h1v1h-1zM89 275h1v1h-1zM100 275h2v1h-2zM103 275h1v1h-1zM110 275h1v1h-1zM116 275h1v1h-1zM150 275h1v1h-1zM8 274h1v1h-1zM16 274h3v1h-3zM20 274h1v1h-1zM24 274h1v1h-1zM27 274h1v1h-1zM31 274h1v1h-1zM36 274h2v1h-2zM40 274h2v1h-2zM48 274h1v1h-1zM53 274h1v1h-1zM56 274h1v1h-1zM65 274h1v1h-1zM69 274h1v1h-1zM73 274h1v1h-1zM84 274h1v1h-1zM104 274h2v1h-2zM140 274h1v1h-1zM145 274h1v1h-1zM14 273h1v1h-1zM27 273h1v1h-1zM40 273h1v1h-1zM45 273h1v1h-1zM58 273h1v1h-1zM75 273h1v1h-1zM84 273h1v1h-1zM88 273h1v1h-1zM93 273h1v1h-1zM99 273h1v1h-1zM102 273h2v1h-2zM105 273h2v1h-2zM112 273h1v1h-1zM130 273h1v1h-1zM140 273h1v1h-1zM4 272h1v1h-1zM19 272h1v1h-1zM27 272h1v1h-1zM30 272h3v1h-3zM58 272h1v1h-1zM64 272h1v1h-1zM66 272h1v1h-1zM71 272h1v1h-1zM89 272h2v1h-2zM94 272h4v1h-4zM103 272h1v1h-1zM108 272h1v1h-1zM1 271h1v1h-1zM13 271h1v1h-1zM17 271h2v1h-2zM22 271h1v1h-1zM43 271h1v1h-1zM62 271h1v1h-1zM72 271h1v1h-1zM76 271h1v1h-1zM78 271h1v1h-1zM82 271h1v1h-1zM86 271h1v1h-1zM100 271h1v1h-1zM110 271h1v1h-1zM114 271h1v1h-1zM116 271h1v1h-1zM6 270h1v1h-1zM8 270h1v1h-1zM21 270h1v1h-1zM24 270h1v1h-1zM54 270h2v1h-2zM65 270h1v1h-1zM67 270h1v1h-1zM80 270h2v1h-2zM86 270h1v1h-1zM92 270h1v1h-1zM97 270h1v1h-1zM101 270h1v1h-1zM116 270h1v1h-1zM3 269h1v1h-1zM10 269h1v1h-1zM14 269h1v1h-1zM16 269h1v1h-1zM25 269h1v1h-1zM33 269h1v1h-1zM42 269h1v1h-1zM45 269h2v1h-2zM50 269h1v1h-1zM69 269h1v1h-1zM76 269h1v1h-1zM97 269h2v1h-2zM103 269h1v1h-1zM106 269h1v1h-1zM140 269h1v1h-1zM145 269h1v1h-1zM2 268h1v1h-1zM6 268h1v1h-1zM33 268h1v1h-1zM43 268h1v1h-1zM46 268h1v1h-1zM50 268h1v1h-1zM53 268h1v1h-1zM58 268h1v1h-1zM79 268h2v1h-2zM86 268h2v1h-2zM93 268h1v1h-1zM96 268h1v1h-1zM99 268h2v1h-2zM104 268h1v1h-1zM110 268h1v1h-1zM130 268h1v1h-1zM135 268h1v1h-1zM12 267h2v1h-2zM18 267h1v1h-1zM22 267h2v1h-2zM27 267h1v1h-1zM33 267h1v1h-1zM39 267h1v1h-1zM44 267h1v1h-1zM50 267h1v1h-1zM53 267h1v1h-1zM55 267h1v1h-1zM60 267h1v1h-1zM68 267h1v1h-1zM73 267h1v1h-1zM80 267h1v1h-1zM89 267h1v1h-1zM92 267h1v1h-1zM108 267h1v1h-1zM114 267h1v1h-1zM116 267h1v1h-1zM135 267h1v1h-1zM3 266h1v1h-1zM8 266h1v1h-1zM10 266h1v1h-1zM17 266h2v1h-2zM23 266h1v1h-1zM29 266h1v1h-1zM51 266h1v1h-1zM54 266h1v1h-1zM61 266h1v1h-1zM68 266h1v1h-1zM76 266h1v1h-1zM82 266h1v1h-1zM110 266h1v1h-1zM118 266h1v1h-1zM135 266h1v1h-1zM145 266h1v1h-1zM3 265h1v1h-1zM19 265h1v1h-1zM44 265h1v1h-1zM50 265h1v1h-1zM71 265h1v1h-1zM76 265h2v1h-2zM82 265h1v1h-1zM89 265h1v1h-1zM100 265h2v1h-2zM120 265h1v1h-1zM125 265h1v1h-1zM135 265h1v1h-1zM140 265h1v1h-1zM18 264h1v1h-1zM39 264h1v1h-1zM47 264h1v1h-1zM53 264h1v1h-1zM56 264h1v1h-1zM65 264h1v1h-1zM71 264h2v1h-2zM76 264h1v1h-1zM82 264h3v1h-3zM87 264h1v1h-1zM93 264h2v1h-2zM98 264h1v1h-1zM100 264h1v1h-1zM116 264h1v1h-1zM118 264h1v1h-1zM8 263h1v1h-1zM19 263h1v1h-1zM32 263h1v1h-1zM35 263h1v1h-1zM59 263h1v1h-1zM69 263h1v1h-1zM72 263h1v1h-1zM86 263h1v1h-1zM94 263h1v1h-1zM105 263h1v1h-1zM110 263h1v1h-1zM125 263h1v1h-1zM8 262h1v1h-1zM13 262h1v1h-1zM17 262h1v1h-1zM46 262h1v1h-1zM80 262h1v1h-1zM88 262h1v1h-1zM98 262h1v1h-1zM101 262h1v1h-1zM112 262h1v1h-1zM13 261h1v1h-1zM19 261h1v1h-1zM48 261h2v1h-2zM60 261h1v1h-1zM81 261h1v1h-1zM99 261h1v1h-1zM112 261h1v1h-1zM1 260h1v1h-1zM4 260h1v1h-1zM12 260h1v1h-1zM23 260h1v1h-1zM41 260h1v1h-1zM49 260h1v1h-1zM53 260h1v1h-1zM61 260h1v1h-1zM65 260h1v1h-1zM72 260h2v1h-2zM84 260h1v1h-1zM87 260h1v1h-1zM93 260h1v1h-1zM102 260h1v1h-1zM112 260h1v1h-1zM114 260h1v1h-1zM130 260h1v1h-1zM21 259h1v1h-1zM25 259h1v1h-1zM29 259h1v1h-1zM37 259h1v1h-1zM40 259h1v1h-1zM43 259h1v1h-1zM61 259h1v1h-1zM65 259h2v1h-2zM72 259h1v1h-1zM77 259h1v1h-1zM81 259h1v1h-1zM87 259h2v1h-2zM96 259h2v1h-2zM104 259h1v1h-1zM106 259h1v1h-1zM108 259h1v1h-1zM114 259h1v1h-1zM120 259h1v1h-1zM13 258h1v1h-1zM20 258h1v1h-1zM38 258h1v1h-1zM53 258h1v1h-1zM63 258h2v1h-2zM69 258h1v1h-1zM71 258h1v1h-1zM99 258h1v1h-1zM140 258h1v1h-1zM0 257h1v1h-1zM17 257h2v1h-2zM43 257h1v1h-1zM73 257h1v1h-1zM75 257h1v1h-1zM87 257h1v1h-1zM94 257h1v1h-1zM110 257h1v1h-1zM112 257h1v1h-1zM116 257h1v1h-1zM118 257h1v1h-1zM120 257h1v1h-1zM140 257h1v1h-1zM145 257h1v1h-1zM4 256h2v1h-2zM20 256h2v1h-2zM32 256h1v1h-1zM37 256h2v1h-2zM43 256h1v1h-1zM48 256h1v1h-1zM50 256h3v1h-3zM56 256h1v1h-1zM61 256h1v1h-1zM66 256h1v1h-1zM68 256h2v1h-2zM89 256h2v1h-2zM95 256h1v1h-1zM114 256h1v1h-1zM130 256h1v1h-1zM23 255h1v1h-1zM30 255h2v1h-2zM40 255h1v1h-1zM51 255h1v1h-1zM56 255h1v1h-1zM60 255h1v1h-1zM76 255h1v1h-1zM79 255h1v1h-1zM91 255h3v1h-3zM102 255h1v1h-1zM118 255h1v1h-1zM145 255h1v1h-1zM11 254h1v1h-1zM14 254h1v1h-1zM22 254h1v1h-1zM39 254h1v1h-1zM47 254h3v1h-3zM51 254h1v1h-1zM74 254h1v1h-1zM93 254h1v1h-1zM112 254h1v1h-1zM130 254h1v1h-1zM145 254h1v1h-1zM14 253h1v1h-1zM16 253h1v1h-1zM26 253h1v1h-1zM34 253h1v1h-1zM36 253h1v1h-1zM40 253h1v1h-1zM48 253h1v1h-1zM65 253h1v1h-1zM72 253h1v1h-1zM76 253h3v1h-3zM87 253h1v1h-1zM90 253h1v1h-1zM135 253h1v1h-1zM0 252h1v1h-1zM8 252h1v1h-1zM10 252h1v1h-1zM23 252h1v1h-1zM34 252h1v1h-1zM36 252h1v1h-1zM47 252h1v1h-1zM56 252h1v1h-1zM64 252h1v1h-1zM87 252h1v1h-1zM90 252h1v1h-1zM92 252h1v1h-1zM101 252h1v1h-1zM104 252h2v1h-2zM110 252h1v1h-1zM130 252h1v1h-1zM135 252h1v1h-1zM13 251h1v1h-1zM20 251h2v1h-2zM24 251h1v1h-1zM35 251h1v1h-1zM38 251h1v1h-1zM45 251h1v1h-1zM62 251h1v1h-1zM64 251h1v1h-1zM75 251h1v1h-1zM85 251h1v1h-1zM92 251h1v1h-1zM98 251h1v1h-1zM101 251h1v1h-1zM103 251h1v1h-1zM112 251h1v1h-1zM116 251h1v1h-1zM120 251h1v1h-1zM135 251h1v1h-1zM140 251h1v1h-1zM13 250h1v1h-1zM22 250h1v1h-1zM30 250h1v1h-1zM33 250h2v1h-2zM37 250h1v1h-1zM45 250h1v1h-1zM48 250h1v1h-1zM50 250h1v1h-1zM60 250h3v1h-3zM76 250h1v1h-1zM101 250h1v1h-1zM125 250h1v1h-1zM20 249h3v1h-3zM43 249h1v1h-1zM52 249h1v1h-1zM56 249h2v1h-2zM64 249h1v1h-1zM71 249h1v1h-1zM82 249h2v1h-2zM88 249h1v1h-1zM92 249h1v1h-1zM94 249h1v1h-1zM96 249h1v1h-1zM101 249h1v1h-1zM116 249h1v1h-1zM130 249h1v1h-1zM140 249h1v1h-1zM150 249h1v1h-1zM0 248h1v1h-1zM4 248h1v1h-1zM6 248h1v1h-1zM9 248h2v1h-2zM43 248h1v1h-1zM47 248h1v1h-1zM52 248h2v1h-2zM59 248h1v1h-1zM85 248h1v1h-1zM95 248h1v1h-1zM110 248h1v1h-1zM112 248h1v1h-1zM118 248h1v1h-1zM145 248h1v1h-1zM4 247h1v1h-1zM22 247h1v1h-1zM34 247h1v1h-1zM77 247h1v1h-1zM89 247h2v1h-2zM100 247h1v1h-1zM103 247h1v1h-1zM120 247h1v1h-1zM130 247h1v1h-1zM135 247h1v1h-1zM0 246h1v1h-1zM16 246h2v1h-2zM25 246h1v1h-1zM27 246h3v1h-3zM37 246h1v1h-1zM50 246h1v1h-1zM53 246h2v1h-2zM67 246h1v1h-1zM77 246h1v1h-1zM81 246h2v1h-2zM84 246h1v1h-1zM95 246h1v1h-1zM110 246h1v1h-1zM120 246h1v1h-1zM140 246h1v1h-1zM12 245h1v1h-1zM22 245h3v1h-3zM35 245h2v1h-2zM39 245h1v1h-1zM41 245h1v1h-1zM47 245h1v1h-1zM58 245h1v1h-1zM60 245h1v1h-1zM69 245h1v1h-1zM90 245h1v1h-1zM93 245h1v1h-1zM95 245h1v1h-1zM97 245h1v1h-1zM100 245h1v1h-1zM104 245h1v1h-1zM118 245h1v1h-1zM120 245h1v1h-1zM125 245h1v1h-1zM130 245h1v1h-1zM5 244h1v1h-1zM14 244h1v1h-1zM40 244h1v1h-1zM73 244h1v1h-1zM103 244h1v1h-1zM150 244h1v1h-1zM13 243h3v1h-3zM21 243h1v1h-1zM48 243h2v1h-2zM52 243h2v1h-2zM55 243h2v1h-2zM101 243h2v1h-2zM110 243h1v1h-1zM120 243h1v1h-1zM150 243h1v1h-1zM0 242h1v1h-1zM8 242h1v1h-1zM13 242h1v1h-1zM25 242h1v1h-1zM28 242h2v1h-2zM32 242h1v1h-1zM41 242h2v1h-2zM51 242h1v1h-1zM65 242h1v1h-1zM82 242h2v1h-2zM85 242h2v1h-2zM94 242h1v1h-1zM140 242h1v1h-1zM145 242h1v1h-1zM14 241h1v1h-1zM17 241h1v1h-1zM19 241h1v1h-1zM24 241h2v1h-2zM34 241h1v1h-1zM49 241h1v1h-1zM51 241h1v1h-1zM56 241h2v1h-2zM61 241h1v1h-1zM67 241h1v1h-1zM87 241h2v1h-2zM91 241h1v1h-1zM100 241h1v1h-1zM120 241h1v1h-1zM135 241h1v1h-1zM2 240h1v1h-1zM5 240h1v1h-1zM8 240h1v1h-1zM47 240h2v1h-2zM60 240h4v1h-4zM83 240h1v1h-1zM91 240h2v1h-2zM110 240h1v1h-1zM120 240h1v1h-1zM145 240h1v1h-1zM16 239h2v1h-2zM20 239h1v1h-1zM24 239h2v1h-2zM27 239h1v1h-1zM38 239h1v1h-1zM41 239h1v1h-1zM45 239h1v1h-1zM52 239h1v1h-1zM54 239h1v1h-1zM56 239h1v1h-1zM71 239h2v1h-2zM77 239h2v1h-2zM95 239h1v1h-1zM98 239h3v1h-3zM108 239h1v1h-1zM112 239h1v1h-1zM116 239h1v1h-1zM120 239h1v1h-1zM0 238h1v1h-1zM8 238h1v1h-1zM28 238h1v1h-1zM34 238h2v1h-2zM54 238h1v1h-1zM87 238h1v1h-1zM94 238h3v1h-3zM98 238h2v1h-2zM116 238h1v1h-1zM125 238h1v1h-1zM2 237h1v1h-1zM16 237h1v1h-1zM29 237h1v1h-1zM42 237h1v1h-1zM67 237h1v1h-1zM69 237h1v1h-1zM78 237h1v1h-1zM100 237h1v1h-1zM102 237h1v1h-1zM106 237h1v1h-1zM130 237h1v1h-1zM135 237h1v1h-1zM4 236h1v1h-1zM23 236h1v1h-1zM25 236h1v1h-1zM29 236h1v1h-1zM38 236h1v1h-1zM42 236h1v1h-1zM45 236h1v1h-1zM63 236h1v1h-1zM67 236h2v1h-2zM74 236h2v1h-2zM77 236h1v1h-1zM87 236h3v1h-3zM93 236h1v1h-1zM110 236h1v1h-1zM0 235h1v1h-1zM3 235h1v1h-1zM7 235h1v1h-1zM37 235h2v1h-2zM41 235h1v1h-1zM53 235h1v1h-1zM82 235h1v1h-1zM84 235h1v1h-1zM8 234h1v1h-1zM10 234h1v1h-1zM20 234h1v1h-1zM24 234h2v1h-2zM27 234h2v1h-2zM33 234h1v1h-1zM40 234h2v1h-2zM46 234h2v1h-2zM56 234h1v1h-1zM71 234h1v1h-1zM78 234h3v1h-3zM83 234h1v1h-1zM95 234h1v1h-1zM100 234h1v1h-1zM105 234h1v1h-1zM112 234h1v1h-1zM116 234h1v1h-1zM130 234h1v1h-1zM140 234h1v1h-1zM145 234h1v1h-1zM8 233h2v1h-2zM11 233h1v1h-1zM15 233h1v1h-1zM18 233h1v1h-1zM25 233h1v1h-1zM32 233h1v1h-1zM37 233h1v1h-1zM39 233h1v1h-1zM46 233h1v1h-1zM51 233h1v1h-1zM53 233h1v1h-1zM60 233h1v1h-1zM62 233h1v1h-1zM75 233h2v1h-2zM90 233h1v1h-1zM96 233h1v1h-1zM102 233h1v1h-1zM105 233h1v1h-1zM1 232h1v1h-1zM4 232h1v1h-1zM6 232h1v1h-1zM10 232h1v1h-1zM37 232h1v1h-1zM41 232h1v1h-1zM44 232h2v1h-2zM58 232h1v1h-1zM61 232h3v1h-3zM77 232h1v1h-1zM88 232h1v1h-1zM90 232h1v1h-1zM95 232h1v1h-1zM100 232h1v1h-1zM108 232h1v1h-1zM110 232h1v1h-1zM112 232h1v1h-1zM114 232h1v1h-1zM125 232h1v1h-1zM130 232h1v1h-1zM15 231h3v1h-3zM40 231h1v1h-1zM47 231h2v1h-2zM62 231h1v1h-1zM65 231h3v1h-3zM73 231h1v1h-1zM79 231h1v1h-1zM83 231h3v1h-3zM112 231h1v1h-1zM114 231h1v1h-1zM130 231h1v1h-1zM7 230h1v1h-1zM10 230h1v1h-1zM19 230h1v1h-1zM22 230h1v1h-1zM33 230h1v1h-1zM37 230h1v1h-1zM43 230h1v1h-1zM52 230h1v1h-1zM60 230h2v1h-2zM64 230h1v1h-1zM67 230h1v1h-1zM69 230h1v1h-1zM92 230h2v1h-2zM108 230h1v1h-1zM116 230h1v1h-1zM135 230h1v1h-1zM145 230h1v1h-1zM7 229h1v1h-1zM19 229h1v1h-1zM21 229h1v1h-1zM24 229h1v1h-1zM38 229h1v1h-1zM48 229h1v1h-1zM52 229h1v1h-1zM57 229h1v1h-1zM80 229h1v1h-1zM91 229h1v1h-1zM93 229h1v1h-1zM110 229h1v1h-1zM114 229h1v1h-1zM116 229h1v1h-1zM150 229h1v1h-1zM0 228h1v1h-1zM5 228h1v1h-1zM9 228h2v1h-2zM17 228h1v1h-1zM19 228h1v1h-1zM21 228h1v1h-1zM24 228h1v1h-1zM31 228h1v1h-1zM37 228h1v1h-1zM41 228h1v1h-1zM48 228h1v1h-1zM52 228h1v1h-1zM57 228h1v1h-1zM62 228h1v1h-1zM70 228h2v1h-2zM74 228h1v1h-1zM78 228h1v1h-1zM90 228h3v1h-3zM95 228h1v1h-1zM101 228h1v1h-1zM103 228h2v1h-2zM125 228h1v1h-1zM130 228h1v1h-1zM4 227h1v1h-1zM22 227h1v1h-1zM36 227h1v1h-1zM42 227h1v1h-1zM49 227h1v1h-1zM61 227h2v1h-2zM67 227h1v1h-1zM75 227h2v1h-2zM80 227h1v1h-1zM89 227h1v1h-1zM106 227h1v1h-1zM125 227h1v1h-1zM135 227h1v1h-1zM11 226h1v1h-1zM30 226h1v1h-1zM35 226h1v1h-1zM38 226h1v1h-1zM43 226h1v1h-1zM45 226h1v1h-1zM53 226h1v1h-1zM63 226h1v1h-1zM65 226h1v1h-1zM69 226h1v1h-1zM78 226h1v1h-1zM83 226h1v1h-1zM87 226h1v1h-1zM9 225h1v1h-1zM14 225h1v1h-1zM28 225h1v1h-1zM50 225h1v1h-1zM66 225h2v1h-2zM80 225h1v1h-1zM89 225h1v1h-1zM98 225h1v1h-1zM101 225h1v1h-1zM120 225h1v1h-1zM135 225h1v1h-1zM140 225h1v1h-1zM8 224h1v1h-1zM23 224h1v1h-1zM28 224h1v1h-1zM42 224h1v1h-1zM55 224h1v1h-1zM57 224h1v1h-1zM68 224h1v1h-1zM72 224h1v1h-1zM76 224h1v1h-1zM80 224h1v1h-1zM101 224h1v1h-1zM103 224h1v1h-1zM106 224h1v1h-1zM110 224h1v1h-1zM118 224h1v1h-1zM130 224h1v1h-1zM135 224h1v1h-1zM150 224h1v1h-1zM10 223h2v1h-2zM16 223h2v1h-2zM20 223h1v1h-1zM58 223h1v1h-1zM81 223h2v1h-2zM135 223h1v1h-1zM7 222h1v1h-1zM13 222h2v1h-2zM28 222h1v1h-1zM31 222h1v1h-1zM34 222h1v1h-1zM36 222h1v1h-1zM44 222h2v1h-2zM49 222h1v1h-1zM58 222h1v1h-1zM64 222h1v1h-1zM67 222h1v1h-1zM72 222h1v1h-1zM75 222h1v1h-1zM80 222h1v1h-1zM82 222h1v1h-1zM101 222h2v1h-2zM112 222h1v1h-1zM130 222h1v1h-1zM140 222h1v1h-1zM150 222h1v1h-1zM26 221h1v1h-1zM35 221h1v1h-1zM39 221h1v1h-1zM49 221h1v1h-1zM53 221h1v1h-1zM67 221h1v1h-1zM69 221h1v1h-1zM74 221h1v1h-1zM78 221h1v1h-1zM81 221h1v1h-1zM92 221h1v1h-1zM96 221h1v1h-1zM118 221h1v1h-1zM140 221h1v1h-1zM145 221h1v1h-1zM28 220h1v1h-1zM37 220h1v1h-1zM54 220h2v1h-2zM64 220h1v1h-1zM66 220h1v1h-1zM92 220h2v1h-2zM97 220h1v1h-1zM102 220h2v1h-2zM116 220h1v1h-1zM118 220h1v1h-1zM120 220h1v1h-1zM145 220h1v1h-1zM3 219h1v1h-1zM5 219h1v1h-1zM11 219h1v1h-1zM26 219h1v1h-1zM29 219h1v1h-1zM31 219h1v1h-1zM61 219h1v1h-1zM80 219h1v1h-1zM88 219h1v1h-1zM97 219h1v1h-1zM100 219h1v1h-1zM105 219h1v1h-1zM110 219h1v1h-1zM125 219h1v1h-1zM150 219h1v1h-1zM17 218h1v1h-1zM22 218h1v1h-1zM36 218h1v1h-1zM41 218h1v1h-1zM45 218h1v1h-1zM71 218h1v1h-1zM95 218h1v1h-1zM98 218h1v1h-1zM101 218h3v1h-3zM105 218h1v1h-1zM114 218h1v1h-1zM116 218h1v1h-1zM118 218h1v1h-1zM130 218h1v1h-1zM135 218h1v1h-1zM0 217h1v1h-1zM11 217h1v1h-1zM18 217h2v1h-2zM22 217h2v1h-2zM44 217h1v1h-1zM51 217h1v1h-1zM60 217h1v1h-1zM69 217h1v1h-1zM74 217h1v1h-1zM76 217h1v1h-1zM78 217h1v1h-1zM87 217h2v1h-2zM95 217h1v1h-1zM112 217h1v1h-1zM120 217h1v1h-1zM125 217h1v1h-1zM130 217h1v1h-1zM0 216h2v1h-2zM3 216h2v1h-2zM10 216h1v1h-1zM14 216h1v1h-1zM22 216h1v1h-1zM43 216h1v1h-1zM47 216h1v1h-1zM50 216h1v1h-1zM58 216h1v1h-1zM70 216h1v1h-1zM77 216h2v1h-2zM85 216h1v1h-1zM93 216h2v1h-2zM98 216h1v1h-1zM106 216h1v1h-1zM130 216h1v1h-1zM1 215h1v1h-1zM6 215h1v1h-1zM14 215h1v1h-1zM16 215h1v1h-1zM21 215h1v1h-1zM24 215h3v1h-3zM39 215h1v1h-1zM43 215h1v1h-1zM45 215h1v1h-1zM47 215h3v1h-3zM82 215h1v1h-1zM84 215h1v1h-1zM87 215h2v1h-2zM94 215h1v1h-1zM110 215h1v1h-1zM116 215h1v1h-1zM118 215h1v1h-1zM1 214h1v1h-1zM5 214h1v1h-1zM8 214h1v1h-1zM35 214h1v1h-1zM37 214h1v1h-1zM45 214h1v1h-1zM48 214h1v1h-1zM58 214h1v1h-1zM66 214h1v1h-1zM78 214h2v1h-2zM92 214h2v1h-2zM100 214h1v1h-1zM105 214h1v1h-1zM108 214h1v1h-1zM130 214h1v1h-1zM150 214h1v1h-1zM0 213h1v1h-1zM17 213h1v1h-1zM21 213h1v1h-1zM28 213h1v1h-1zM31 213h1v1h-1zM37 213h1v1h-1zM48 213h1v1h-1zM53 213h1v1h-1zM58 213h1v1h-1zM61 213h1v1h-1zM63 213h1v1h-1zM66 213h1v1h-1zM68 213h1v1h-1zM73 213h2v1h-2zM77 213h1v1h-1zM84 213h1v1h-1zM90 213h1v1h-1zM92 213h1v1h-1zM99 213h4v1h-4zM114 213h1v1h-1zM116 213h1v1h-1zM125 213h1v1h-1zM3 212h1v1h-1zM15 212h1v1h-1zM17 212h3v1h-3zM22 212h1v1h-1zM49 212h2v1h-2zM64 212h2v1h-2zM77 212h2v1h-2zM89 212h1v1h-1zM92 212h1v1h-1zM96 212h1v1h-1zM100 212h1v1h-1zM2 211h1v1h-1zM14 211h1v1h-1zM16 211h1v1h-1zM20 211h1v1h-1zM27 211h1v1h-1zM33 211h1v1h-1zM49 211h1v1h-1zM57 211h1v1h-1zM67 211h1v1h-1zM70 211h2v1h-2zM80 211h1v1h-1zM83 211h1v1h-1zM88 211h1v1h-1zM93 211h2v1h-2zM97 211h2v1h-2zM108 211h1v1h-1zM116 211h1v1h-1zM120 211h1v1h-1zM135 211h1v1h-1zM140 211h1v1h-1zM12 210h1v1h-1zM17 210h1v1h-1zM22 210h1v1h-1zM41 210h1v1h-1zM44 210h1v1h-1zM61 210h1v1h-1zM70 210h2v1h-2zM79 210h1v1h-1zM84 210h2v1h-2zM94 210h4v1h-4zM101 210h1v1h-1zM108 210h1v1h-1zM130 210h1v1h-1zM135 210h1v1h-1zM145 210h1v1h-1zM22 209h3v1h-3zM26 209h1v1h-1zM30 209h1v1h-1zM42 209h1v1h-1zM47 209h1v1h-1zM51 209h1v1h-1zM56 209h1v1h-1zM65 209h1v1h-1zM73 209h1v1h-1zM76 209h1v1h-1zM78 209h1v1h-1zM85 209h1v1h-1zM89 209h1v1h-1zM91 209h1v1h-1zM99 209h1v1h-1zM103 209h2v1h-2zM106 209h1v1h-1zM145 209h1v1h-1zM5 208h1v1h-1zM36 208h2v1h-2zM43 208h2v1h-2zM53 208h1v1h-1zM55 208h1v1h-1zM71 208h1v1h-1zM74 208h1v1h-1zM77 208h2v1h-2zM92 208h2v1h-2zM98 208h1v1h-1zM101 208h1v1h-1zM114 208h1v1h-1zM135 208h1v1h-1zM15 207h1v1h-1zM19 207h1v1h-1zM21 207h1v1h-1zM30 207h3v1h-3zM45 207h1v1h-1zM49 207h1v1h-1zM60 207h1v1h-1zM65 207h1v1h-1zM69 207h1v1h-1zM71 207h1v1h-1zM85 207h1v1h-1zM88 207h1v1h-1zM93 207h1v1h-1zM96 207h1v1h-1zM102 207h2v1h-2zM110 207h1v1h-1zM125 207h1v1h-1zM150 207h1v1h-1zM1 206h1v1h-1zM5 206h1v1h-1zM15 206h2v1h-2zM22 206h1v1h-1zM26 206h2v1h-2zM30 206h2v1h-2zM39 206h1v1h-1zM46 206h1v1h-1zM65 206h1v1h-1zM85 206h1v1h-1zM90 206h1v1h-1zM96 206h1v1h-1zM105 206h2v1h-2zM130 206h1v1h-1zM140 206h1v1h-1zM150 206h1v1h-1zM4 205h1v1h-1zM7 205h1v1h-1zM21 205h1v1h-1zM24 205h2v1h-2zM29 205h1v1h-1zM32 205h1v1h-1zM55 205h1v1h-1zM57 205h1v1h-1zM67 205h1v1h-1zM77 205h1v1h-1zM81 205h1v1h-1zM89 205h1v1h-1zM91 205h1v1h-1zM96 205h1v1h-1zM99 205h1v1h-1zM114 205h1v1h-1zM116 205h1v1h-1zM135 205h1v1h-1zM2 204h1v1h-1zM24 204h1v1h-1zM39 204h1v1h-1zM67 204h1v1h-1zM69 204h1v1h-1zM77 204h1v1h-1zM87 204h1v1h-1zM95 204h1v1h-1zM102 204h1v1h-1zM116 204h1v1h-1zM145 204h1v1h-1zM150 204h1v1h-1zM1 203h1v1h-1zM3 203h1v1h-1zM18 203h3v1h-3zM54 203h1v1h-1zM58 203h1v1h-1zM83 203h1v1h-1zM92 203h1v1h-1zM97 203h1v1h-1zM100 203h1v1h-1zM103 203h1v1h-1zM105 203h2v1h-2zM125 203h1v1h-1zM130 203h1v1h-1zM140 203h1v1h-1zM1 202h1v1h-1zM3 202h5v1h-5zM9 202h1v1h-1zM12 202h2v1h-2zM23 202h1v1h-1zM25 202h1v1h-1zM36 202h2v1h-2zM43 202h1v1h-1zM49 202h1v1h-1zM52 202h1v1h-1zM64 202h2v1h-2zM70 202h1v1h-1zM72 202h1v1h-1zM81 202h1v1h-1zM83 202h1v1h-1zM87 202h1v1h-1zM92 202h2v1h-2zM95 202h1v1h-1zM110 202h1v1h-1zM112 202h1v1h-1zM120 202h1v1h-1zM140 202h1v1h-1zM3 201h1v1h-1zM11 201h1v1h-1zM17 201h1v1h-1zM19 201h1v1h-1zM22 201h1v1h-1zM27 201h1v1h-1zM38 201h1v1h-1zM47 201h2v1h-2zM52 201h1v1h-1zM67 201h1v1h-1zM70 201h1v1h-1zM73 201h1v1h-1zM83 201h1v1h-1zM108 201h1v1h-1zM112 201h1v1h-1zM130 201h1v1h-1zM135 201h1v1h-1zM140 201h1v1h-1zM5 200h1v1h-1zM9 200h2v1h-2zM20 200h2v1h-2zM38 200h1v1h-1zM44 200h1v1h-1zM63 200h3v1h-3zM71 200h1v1h-1zM73 200h1v1h-1zM77 200h1v1h-1zM90 200h1v1h-1zM98 200h1v1h-1zM145 200h1v1h-1zM10 199h1v1h-1zM13 199h1v1h-1zM18 199h1v1h-1zM21 199h1v1h-1zM25 199h1v1h-1zM38 199h1v1h-1zM61 199h1v1h-1zM73 199h2v1h-2zM77 199h1v1h-1zM84 199h1v1h-1zM86 199h1v1h-1zM93 199h2v1h-2zM96 199h1v1h-1zM98 199h1v1h-1zM105 199h2v1h-2zM108 199h1v1h-1zM2 198h1v1h-1zM4 198h1v1h-1zM14 198h1v1h-1zM17 198h1v1h-1zM41 198h1v1h-1zM43 198h1v1h-1zM48 198h1v1h-1zM51 198h2v1h-2zM54 198h1v1h-1zM56 198h1v1h-1zM68 198h1v1h-1zM70 198h1v1h-1zM102 198h1v1h-1zM118 198h1v1h-1zM125 198h1v1h-1zM19 197h1v1h-1zM25 197h1v1h-1zM32 197h1v1h-1zM34 197h1v1h-1zM45 197h1v1h-1zM52 197h1v1h-1zM61 197h1v1h-1zM82 197h1v1h-1zM106 197h1v1h-1zM108 197h1v1h-1zM112 197h1v1h-1zM120 197h1v1h-1zM5 196h1v1h-1zM8 196h1v1h-1zM16 196h1v1h-1zM29 196h3v1h-3zM36 196h1v1h-1zM45 196h2v1h-2zM59 196h1v1h-1zM73 196h1v1h-1zM84 196h1v1h-1zM87 196h2v1h-2zM91 196h2v1h-2zM94 196h1v1h-1zM130 196h1v1h-1zM0 195h1v1h-1zM3 195h1v1h-1zM6 195h2v1h-2zM26 195h2v1h-2zM32 195h1v1h-1zM34 195h1v1h-1zM42 195h1v1h-1zM53 195h1v1h-1zM61 195h1v1h-1zM82 195h1v1h-1zM92 195h2v1h-2zM99 195h1v1h-1zM106 195h1v1h-1zM112 195h1v1h-1zM3 194h2v1h-2zM18 194h1v1h-1zM23 194h1v1h-1zM29 194h1v1h-1zM34 194h1v1h-1zM38 194h2v1h-2zM65 194h1v1h-1zM67 194h1v1h-1zM71 194h1v1h-1zM75 194h1v1h-1zM150 194h1v1h-1zM9 193h1v1h-1zM11 193h1v1h-1zM13 193h1v1h-1zM15 193h2v1h-2zM18 193h1v1h-1zM22 193h2v1h-2zM27 193h1v1h-1zM31 193h1v1h-1zM35 193h1v1h-1zM46 193h1v1h-1zM50 193h1v1h-1zM53 193h1v1h-1zM71 193h1v1h-1zM74 193h1v1h-1zM83 193h2v1h-2zM96 193h1v1h-1zM99 193h1v1h-1zM104 193h1v1h-1zM108 193h1v1h-1zM116 193h1v1h-1zM1 192h2v1h-2zM15 192h1v1h-1zM29 192h1v1h-1zM41 192h1v1h-1zM52 192h2v1h-2zM65 192h1v1h-1zM79 192h1v1h-1zM89 192h1v1h-1zM93 192h3v1h-3zM97 192h3v1h-3zM101 192h2v1h-2zM114 192h1v1h-1zM120 192h1v1h-1zM130 192h1v1h-1zM2 191h1v1h-1zM6 191h1v1h-1zM16 191h1v1h-1zM24 191h1v1h-1zM30 191h1v1h-1zM34 191h1v1h-1zM37 191h1v1h-1zM51 191h1v1h-1zM57 191h1v1h-1zM65 191h1v1h-1zM72 191h1v1h-1zM75 191h1v1h-1zM81 191h1v1h-1zM83 191h1v1h-1zM93 191h1v1h-1zM118 191h1v1h-1zM125 191h1v1h-1zM15 190h1v1h-1zM23 190h1v1h-1zM34 190h1v1h-1zM45 190h2v1h-2zM63 190h2v1h-2zM83 190h1v1h-1zM101 190h1v1h-1zM103 190h1v1h-1zM110 190h1v1h-1zM112 190h1v1h-1zM114 190h1v1h-1zM130 190h1v1h-1zM3 189h1v1h-1zM10 189h2v1h-2zM13 189h1v1h-1zM20 189h2v1h-2zM37 189h1v1h-1zM39 189h1v1h-1zM44 189h1v1h-1zM52 189h1v1h-1zM55 189h1v1h-1zM61 189h1v1h-1zM63 189h1v1h-1zM67 189h1v1h-1zM73 189h1v1h-1zM76 189h1v1h-1zM83 189h2v1h-2zM87 189h1v1h-1zM89 189h1v1h-1zM108 189h1v1h-1zM112 189h1v1h-1zM140 189h1v1h-1zM4 188h1v1h-1zM10 188h1v1h-1zM13 188h1v1h-1zM15 188h1v1h-1zM17 188h1v1h-1zM26 188h1v1h-1zM33 188h1v1h-1zM43 188h1v1h-1zM71 188h1v1h-1zM76 188h1v1h-1zM81 188h1v1h-1zM83 188h2v1h-2zM86 188h1v1h-1zM91 188h2v1h-2zM99 188h1v1h-1zM102 188h1v1h-1zM112 188h1v1h-1zM140 188h1v1h-1zM150 188h1v1h-1zM1 187h1v1h-1zM11 187h2v1h-2zM24 187h1v1h-1zM27 187h1v1h-1zM30 187h2v1h-2zM37 187h2v1h-2zM40 187h3v1h-3zM56 187h1v1h-1zM63 187h1v1h-1zM112 187h1v1h-1zM116 187h1v1h-1zM2 186h1v1h-1zM18 186h1v1h-1zM20 186h1v1h-1zM29 186h1v1h-1zM34 186h1v1h-1zM36 186h1v1h-1zM39 186h1v1h-1zM52 186h1v1h-1zM59 186h1v1h-1zM65 186h1v1h-1zM68 186h1v1h-1zM73 186h1v1h-1zM79 186h1v1h-1zM94 186h1v1h-1zM102 186h1v1h-1zM104 186h1v1h-1zM114 186h1v1h-1zM140 186h1v1h-1zM26 185h2v1h-2zM29 185h1v1h-1zM37 185h2v1h-2zM44 185h1v1h-1zM59 185h1v1h-1zM69 185h1v1h-1zM77 185h3v1h-3zM92 185h1v1h-1zM94 185h1v1h-1zM101 185h1v1h-1zM108 185h1v1h-1zM130 185h1v1h-1zM150 185h1v1h-1zM20 184h1v1h-1zM37 184h1v1h-1zM40 184h1v1h-1zM48 184h1v1h-1zM58 184h2v1h-2zM62 184h1v1h-1zM68 184h3v1h-3zM78 184h1v1h-1zM92 184h2v1h-2zM99 184h1v1h-1zM120 184h1v1h-1zM6 183h1v1h-1zM8 183h1v1h-1zM13 183h3v1h-3zM32 183h1v1h-1zM59 183h1v1h-1zM61 183h1v1h-1zM77 183h1v1h-1zM101 183h1v1h-1zM114 183h1v1h-1zM120 183h1v1h-1zM125 183h1v1h-1zM0 182h2v1h-2zM4 182h1v1h-1zM21 182h1v1h-1zM27 182h1v1h-1zM41 182h1v1h-1zM44 182h2v1h-2zM54 182h1v1h-1zM63 182h1v1h-1zM80 182h1v1h-1zM112 182h1v1h-1zM145 182h1v1h-1zM1 181h1v1h-1zM7 181h1v1h-1zM9 181h1v1h-1zM21 181h1v1h-1zM24 181h1v1h-1zM31 181h1v1h-1zM38 181h3v1h-3zM42 181h1v1h-1zM44 181h1v1h-1zM59 181h1v1h-1zM67 181h1v1h-1zM86 181h3v1h-3zM90 181h2v1h-2zM112 181h1v1h-1zM118 181h1v1h-1zM120 181h1v1h-1zM1 180h2v1h-2zM5 180h1v1h-1zM12 180h1v1h-1zM14 180h1v1h-1zM19 180h1v1h-1zM21 180h1v1h-1zM26 180h1v1h-1zM29 180h2v1h-2zM36 180h1v1h-1zM50 180h1v1h-1zM63 180h1v1h-1zM75 180h1v1h-1zM87 180h1v1h-1zM90 180h1v1h-1zM103 180h1v1h-1zM112 180h1v1h-1zM118 180h1v1h-1zM130 180h1v1h-1zM135 180h1v1h-1zM4 179h1v1h-1zM14 179h2v1h-2zM17 179h1v1h-1zM51 179h1v1h-1zM61 179h1v1h-1zM76 179h1v1h-1zM89 179h1v1h-1zM104 179h2v1h-2zM108 179h1v1h-1zM114 179h1v1h-1zM118 179h1v1h-1zM120 179h1v1h-1zM12 178h1v1h-1zM16 178h2v1h-2zM33 178h1v1h-1zM52 178h1v1h-1zM65 178h1v1h-1zM80 178h1v1h-1zM98 178h1v1h-1zM108 178h1v1h-1zM116 178h1v1h-1zM135 178h1v1h-1zM140 178h1v1h-1zM150 178h1v1h-1zM5 177h1v1h-1zM16 177h2v1h-2zM20 177h1v1h-1zM30 177h1v1h-1zM32 177h1v1h-1zM35 177h1v1h-1zM41 177h1v1h-1zM61 177h1v1h-1zM71 177h1v1h-1zM87 177h1v1h-1zM90 177h1v1h-1zM93 177h1v1h-1zM95 177h1v1h-1zM98 177h2v1h-2zM104 177h1v1h-1zM110 177h1v1h-1zM116 177h1v1h-1zM135 177h1v1h-1zM1 176h2v1h-2zM6 176h2v1h-2zM19 176h1v1h-1zM32 176h1v1h-1zM44 176h1v1h-1zM68 176h1v1h-1zM103 176h2v1h-2zM110 176h1v1h-1zM112 176h1v1h-1zM7 175h1v1h-1zM10 175h1v1h-1zM16 175h1v1h-1zM19 175h1v1h-1zM21 175h2v1h-2zM30 175h2v1h-2zM49 175h2v1h-2zM61 175h1v1h-1zM66 175h1v1h-1zM76 175h1v1h-1zM88 175h1v1h-1zM90 175h1v1h-1zM105 175h1v1h-1zM110 175h1v1h-1zM116 175h1v1h-1zM118 175h1v1h-1zM135 175h1v1h-1zM150 175h1v1h-1zM3 174h1v1h-1zM7 174h1v1h-1zM16 174h2v1h-2zM19 174h1v1h-1zM35 174h1v1h-1zM41 174h1v1h-1zM47 174h1v1h-1zM52 174h2v1h-2zM68 174h1v1h-1zM74 174h1v1h-1zM90 174h1v1h-1zM96 174h1v1h-1zM101 174h1v1h-1zM108 174h1v1h-1zM110 174h1v1h-1zM116 174h1v1h-1zM120 174h1v1h-1zM2 173h1v1h-1zM8 173h1v1h-1zM20 173h2v1h-2zM36 173h1v1h-1zM51 173h3v1h-3zM60 173h2v1h-2zM64 173h1v1h-1zM79 173h2v1h-2zM87 173h1v1h-1zM93 173h2v1h-2zM96 173h1v1h-1zM99 173h1v1h-1zM110 173h1v1h-1zM140 173h1v1h-1zM1 172h1v1h-1zM16 172h1v1h-1zM23 172h1v1h-1zM26 172h1v1h-1zM30 172h2v1h-2zM50 172h1v1h-1zM53 172h2v1h-2zM60 172h1v1h-1zM75 172h1v1h-1zM77 172h1v1h-1zM87 172h1v1h-1zM90 172h1v1h-1zM106 172h1v1h-1zM0 171h1v1h-1zM7 171h1v1h-1zM14 171h3v1h-3zM19 171h2v1h-2zM29 171h1v1h-1zM77 171h2v1h-2zM87 171h1v1h-1zM93 171h1v1h-1zM97 171h1v1h-1zM106 171h1v1h-1zM120 171h1v1h-1zM135 171h1v1h-1zM150 171h1v1h-1zM31 170h1v1h-1zM39 170h1v1h-1zM41 170h1v1h-1zM53 170h1v1h-1zM65 170h2v1h-2zM79 170h2v1h-2zM93 170h1v1h-1zM100 170h2v1h-2zM145 170h1v1h-1zM6 169h1v1h-1zM9 169h1v1h-1zM23 169h1v1h-1zM33 169h1v1h-1zM37 169h1v1h-1zM39 169h1v1h-1zM68 169h1v1h-1zM74 169h1v1h-1zM79 169h1v1h-1zM100 169h1v1h-1zM108 169h1v1h-1zM114 169h1v1h-1zM135 169h1v1h-1zM0 168h1v1h-1zM4 168h1v1h-1zM9 168h1v1h-1zM13 168h1v1h-1zM26 168h2v1h-2zM36 168h1v1h-1zM49 168h1v1h-1zM53 168h1v1h-1zM64 168h1v1h-1zM70 168h1v1h-1zM74 168h1v1h-1zM85 168h2v1h-2zM89 168h1v1h-1zM94 168h1v1h-1zM100 168h1v1h-1zM103 168h1v1h-1zM108 168h1v1h-1zM118 168h1v1h-1zM145 168h1v1h-1zM9 167h1v1h-1zM11 167h1v1h-1zM13 167h1v1h-1zM17 167h1v1h-1zM37 167h1v1h-1zM59 167h2v1h-2zM63 167h1v1h-1zM76 167h1v1h-1zM78 167h1v1h-1zM85 167h1v1h-1zM92 167h1v1h-1zM94 167h1v1h-1zM101 167h1v1h-1zM108 167h1v1h-1zM110 167h1v1h-1zM112 167h1v1h-1zM118 167h1v1h-1zM130 167h1v1h-1zM145 167h1v1h-1zM150 167h1v1h-1zM3 166h1v1h-1zM14 166h1v1h-1zM24 166h1v1h-1zM29 166h1v1h-1zM35 166h1v1h-1zM50 166h1v1h-1zM53 166h1v1h-1zM91 166h1v1h-1zM101 166h2v1h-2zM110 166h1v1h-1zM120 166h1v1h-1zM125 166h1v1h-1zM130 166h1v1h-1zM145 166h1v1h-1zM150 166h1v1h-1zM5 165h1v1h-1zM11 165h1v1h-1zM23 165h1v1h-1zM27 165h1v1h-1zM30 165h1v1h-1zM38 165h1v1h-1zM44 165h1v1h-1zM55 165h1v1h-1zM60 165h1v1h-1zM70 165h2v1h-2zM78 165h1v1h-1zM86 165h1v1h-1zM95 165h1v1h-1zM100 165h2v1h-2zM112 165h1v1h-1zM116 165h1v1h-1zM130 165h1v1h-1zM3 164h2v1h-2zM8 164h2v1h-2zM14 164h1v1h-1zM23 164h1v1h-1zM26 164h1v1h-1zM33 164h1v1h-1zM35 164h3v1h-3zM48 164h1v1h-1zM64 164h1v1h-1zM76 164h1v1h-1zM82 164h1v1h-1zM84 164h3v1h-3zM92 164h1v1h-1zM114 164h1v1h-1zM116 164h1v1h-1zM135 164h1v1h-1zM150 164h1v1h-1zM8 163h2v1h-2zM12 163h1v1h-1zM19 163h1v1h-1zM41 163h1v1h-1zM44 163h1v1h-1zM61 163h1v1h-1zM64 163h1v1h-1zM67 163h1v1h-1zM84 163h1v1h-1zM86 163h1v1h-1zM88 163h1v1h-1zM97 163h1v1h-1zM103 163h1v1h-1zM108 163h1v1h-1zM118 163h1v1h-1zM125 163h1v1h-1zM135 163h1v1h-1zM150 163h1v1h-1zM3 162h1v1h-1zM6 162h1v1h-1zM10 162h1v1h-1zM17 162h1v1h-1zM46 162h1v1h-1zM50 162h1v1h-1zM60 162h3v1h-3zM82 162h1v1h-1zM87 162h1v1h-1zM93 162h2v1h-2zM96 162h1v1h-1zM99 162h1v1h-1zM101 162h1v1h-1zM103 162h1v1h-1zM110 162h1v1h-1zM120 162h1v1h-1zM130 162h1v1h-1zM140 162h1v1h-1zM150 162h1v1h-1zM3 161h1v1h-1zM6 161h1v1h-1zM9 161h1v1h-1zM11 161h1v1h-1zM25 161h1v1h-1zM34 161h1v1h-1zM37 161h1v1h-1zM47 161h1v1h-1zM55 161h1v1h-1zM58 161h1v1h-1zM60 161h1v1h-1zM65 161h1v1h-1zM100 161h1v1h-1zM105 161h1v1h-1zM125 161h1v1h-1zM5 160h1v1h-1zM11 160h2v1h-2zM15 160h1v1h-1zM22 160h1v1h-1zM25 160h1v1h-1zM35 160h1v1h-1zM37 160h1v1h-1zM43 160h1v1h-1zM58 160h1v1h-1zM71 160h1v1h-1zM74 160h1v1h-1zM78 160h1v1h-1zM81 160h2v1h-2zM85 160h1v1h-1zM92 160h1v1h-1zM99 160h1v1h-1zM104 160h1v1h-1zM106 160h1v1h-1zM135 160h1v1h-1zM21 159h1v1h-1zM40 159h1v1h-1zM50 159h1v1h-1zM61 159h3v1h-3zM76 159h1v1h-1zM83 159h1v1h-1zM89 159h1v1h-1zM96 159h1v1h-1zM101 159h1v1h-1zM105 159h1v1h-1zM108 159h1v1h-1zM112 159h1v1h-1zM114 159h1v1h-1zM120 159h1v1h-1zM130 159h1v1h-1zM135 159h1v1h-1zM2 158h1v1h-1zM4 158h1v1h-1zM14 158h1v1h-1zM20 158h1v1h-1zM22 158h1v1h-1zM50 158h1v1h-1zM74 158h1v1h-1zM81 158h2v1h-2zM95 158h1v1h-1zM102 158h1v1h-1zM130 158h1v1h-1zM135 158h1v1h-1zM145 158h1v1h-1zM9 157h1v1h-1zM11 157h1v1h-1zM35 157h2v1h-2zM44 157h1v1h-1zM54 157h2v1h-2zM58 157h1v1h-1zM63 157h1v1h-1zM69 157h1v1h-1zM71 157h1v1h-1zM81 157h1v1h-1zM85 157h1v1h-1zM99 157h1v1h-1zM10 156h1v1h-1zM13 156h1v1h-1zM21 156h1v1h-1zM23 156h1v1h-1zM27 156h1v1h-1zM29 156h2v1h-2zM32 156h1v1h-1zM37 156h1v1h-1zM58 156h1v1h-1zM70 156h1v1h-1zM89 156h1v1h-1zM92 156h1v1h-1zM104 156h1v1h-1zM110 156h1v1h-1zM114 156h1v1h-1zM135 156h1v1h-1zM150 156h1v1h-1zM32 155h1v1h-1zM42 155h2v1h-2zM58 155h1v1h-1zM68 155h1v1h-1zM86 155h1v1h-1zM102 155h1v1h-1zM104 155h1v1h-1zM114 155h1v1h-1zM145 155h1v1h-1zM150 155h1v1h-1zM2 154h2v1h-2zM13 154h1v1h-1zM19 154h1v1h-1zM21 154h2v1h-2zM31 154h2v1h-2zM39 154h1v1h-1zM41 154h1v1h-1zM46 154h2v1h-2zM57 154h1v1h-1zM60 154h1v1h-1zM62 154h1v1h-1zM75 154h1v1h-1zM85 154h2v1h-2zM101 154h1v1h-1zM114 154h1v1h-1zM125 154h1v1h-1zM11 153h1v1h-1zM14 153h2v1h-2zM21 153h1v1h-1zM42 153h1v1h-1zM44 153h1v1h-1zM60 153h1v1h-1zM83 153h1v1h-1zM88 153h1v1h-1zM98 153h1v1h-1zM101 153h1v1h-1zM104 153h1v1h-1zM112 153h1v1h-1zM135 153h1v1h-1zM12 152h1v1h-1zM16 152h1v1h-1zM26 152h1v1h-1zM38 152h1v1h-1zM48 152h1v1h-1zM63 152h1v1h-1zM65 152h1v1h-1zM75 152h1v1h-1zM85 152h1v1h-1zM90 152h1v1h-1zM97 152h1v1h-1zM100 152h1v1h-1zM104 152h1v1h-1zM125 152h1v1h-1zM18 151h1v1h-1zM26 151h1v1h-1zM33 151h1v1h-1zM36 151h1v1h-1zM39 151h1v1h-1zM43 151h1v1h-1zM47 151h1v1h-1zM57 151h2v1h-2zM76 151h1v1h-1zM91 151h4v1h-4zM97 151h1v1h-1zM114 151h1v1h-1zM118 151h1v1h-1zM125 151h1v1h-1zM145 151h1v1h-1zM3 150h1v1h-1zM10 150h3v1h-3zM18 150h1v1h-1zM21 150h1v1h-1zM31 150h1v1h-1zM35 150h1v1h-1zM37 150h1v1h-1zM41 150h2v1h-2zM51 150h1v1h-1zM54 150h1v1h-1zM58 150h1v1h-1zM68 150h1v1h-1zM79 150h2v1h-2zM92 150h1v1h-1zM96 150h2v1h-2zM99 150h1v1h-1zM102 150h2v1h-2zM114 150h1v1h-1zM150 150h1v1h-1zM1 149h1v1h-1zM6 149h1v1h-1zM10 149h2v1h-2zM17 149h1v1h-1zM20 149h1v1h-1zM22 149h1v1h-1zM29 149h1v1h-1zM34 149h1v1h-1zM45 149h1v1h-1zM53 149h1v1h-1zM65 149h1v1h-1zM87 149h1v1h-1zM89 149h1v1h-1zM99 149h1v1h-1zM106 149h1v1h-1zM108 149h1v1h-1zM110 149h1v1h-1zM145 149h1v1h-1zM9 148h1v1h-1zM14 148h2v1h-2zM21 148h1v1h-1zM27 148h1v1h-1zM37 148h1v1h-1zM43 148h1v1h-1zM45 148h1v1h-1zM56 148h2v1h-2zM89 148h2v1h-2zM100 148h1v1h-1zM114 148h1v1h-1zM118 148h1v1h-1zM0 147h1v1h-1zM11 147h1v1h-1zM13 147h1v1h-1zM18 147h1v1h-1zM20 147h1v1h-1zM22 147h1v1h-1zM32 147h1v1h-1zM39 147h1v1h-1zM41 147h1v1h-1zM50 147h1v1h-1zM53 147h1v1h-1zM55 147h1v1h-1zM62 147h1v1h-1zM65 147h1v1h-1zM69 147h1v1h-1zM71 147h1v1h-1zM73 147h1v1h-1zM76 147h1v1h-1zM89 147h1v1h-1zM93 147h1v1h-1zM99 147h1v1h-1zM114 147h1v1h-1zM116 147h1v1h-1zM118 147h1v1h-1zM120 147h1v1h-1zM145 147h1v1h-1zM150 147h1v1h-1zM5 146h1v1h-1zM9 146h1v1h-1zM12 146h1v1h-1zM16 146h1v1h-1zM18 146h1v1h-1zM24 146h1v1h-1zM26 146h1v1h-1zM33 146h1v1h-1zM45 146h1v1h-1zM48 146h1v1h-1zM50 146h1v1h-1zM74 146h1v1h-1zM91 146h1v1h-1zM93 146h1v1h-1zM95 146h1v1h-1zM99 146h1v1h-1zM108 146h1v1h-1zM120 146h1v1h-1zM125 146h1v1h-1zM140 146h1v1h-1zM1 145h1v1h-1zM3 145h1v1h-1zM30 145h1v1h-1zM36 145h1v1h-1zM59 145h1v1h-1zM66 145h1v1h-1zM73 145h1v1h-1zM76 145h1v1h-1zM78 145h2v1h-2zM84 145h1v1h-1zM87 145h1v1h-1zM96 145h1v1h-1zM100 145h1v1h-1zM112 145h1v1h-1zM114 145h1v1h-1zM145 145h1v1h-1zM150 145h1v1h-1zM5 144h1v1h-1zM9 144h1v1h-1zM12 144h2v1h-2zM18 144h2v1h-2zM24 144h1v1h-1zM26 144h1v1h-1zM47 144h1v1h-1zM51 144h2v1h-2zM58 144h1v1h-1zM67 144h1v1h-1zM73 144h1v1h-1zM79 144h1v1h-1zM84 144h1v1h-1zM92 144h1v1h-1zM95 144h1v1h-1zM97 144h1v1h-1zM106 144h1v1h-1zM150 144h1v1h-1zM9 143h1v1h-1zM11 143h1v1h-1zM14 143h1v1h-1zM17 143h2v1h-2zM26 143h1v1h-1zM34 143h1v1h-1zM36 143h2v1h-2zM48 143h1v1h-1zM51 143h1v1h-1zM70 143h2v1h-2zM95 143h1v1h-1zM101 143h1v1h-1zM103 143h1v1h-1zM106 143h1v1h-1zM110 143h1v1h-1zM114 143h1v1h-1zM116 143h1v1h-1zM140 143h1v1h-1zM5 142h1v1h-1zM8 142h1v1h-1zM11 142h1v1h-1zM16 142h1v1h-1zM35 142h1v1h-1zM54 142h1v1h-1zM65 142h1v1h-1zM81 142h2v1h-2zM100 142h1v1h-1zM102 142h1v1h-1zM130 142h1v1h-1zM140 142h1v1h-1zM145 142h1v1h-1zM12 141h1v1h-1zM14 141h1v1h-1zM22 141h1v1h-1zM36 141h1v1h-1zM40 141h1v1h-1zM46 141h1v1h-1zM60 141h1v1h-1zM63 141h1v1h-1zM65 141h3v1h-3zM82 141h3v1h-3zM102 141h1v1h-1zM106 141h1v1h-1zM114 141h1v1h-1zM116 141h1v1h-1zM5 140h1v1h-1zM16 140h2v1h-2zM30 140h1v1h-1zM33 140h3v1h-3zM38 140h1v1h-1zM40 140h1v1h-1zM58 140h3v1h-3zM69 140h1v1h-1zM87 140h1v1h-1zM103 140h1v1h-1zM112 140h1v1h-1zM116 140h1v1h-1zM125 140h1v1h-1zM145 140h1v1h-1zM5 139h1v1h-1zM14 139h2v1h-2zM17 139h1v1h-1zM20 139h1v1h-1zM59 139h1v1h-1zM70 139h1v1h-1zM86 139h1v1h-1zM112 139h1v1h-1zM116 139h1v1h-1zM130 139h1v1h-1zM135 139h1v1h-1zM145 139h1v1h-1zM2 138h1v1h-1zM14 138h1v1h-1zM16 138h1v1h-1zM42 138h1v1h-1zM66 138h2v1h-2zM71 138h1v1h-1zM73 138h1v1h-1zM76 138h2v1h-2zM88 138h1v1h-1zM91 138h1v1h-1zM98 138h1v1h-1zM110 138h1v1h-1zM114 138h1v1h-1zM11 137h2v1h-2zM45 137h1v1h-1zM58 137h1v1h-1zM70 137h1v1h-1zM76 137h1v1h-1zM79 137h2v1h-2zM88 137h1v1h-1zM91 137h1v1h-1zM104 137h2v1h-2zM116 137h1v1h-1zM130 137h1v1h-1zM150 137h1v1h-1zM8 136h1v1h-1zM11 136h1v1h-1zM13 136h1v1h-1zM24 136h1v1h-1zM43 136h1v1h-1zM57 136h1v1h-1zM68 136h1v1h-1zM74 136h1v1h-1zM80 136h1v1h-1zM97 136h1v1h-1zM100 136h3v1h-3zM106 136h1v1h-1zM110 136h1v1h-1zM130 136h1v1h-1zM22 135h1v1h-1zM24 135h1v1h-1zM33 135h1v1h-1zM35 135h1v1h-1zM42 135h1v1h-1zM48 135h1v1h-1zM51 135h2v1h-2zM70 135h1v1h-1zM82 135h1v1h-1zM87 135h1v1h-1zM96 135h1v1h-1zM104 135h2v1h-2zM112 135h1v1h-1zM114 135h1v1h-1zM118 135h1v1h-1zM125 135h1v1h-1zM135 135h1v1h-1zM5 134h1v1h-1zM11 134h1v1h-1zM13 134h1v1h-1zM17 134h1v1h-1zM23 134h1v1h-1zM25 134h1v1h-1zM33 134h1v1h-1zM38 134h1v1h-1zM47 134h1v1h-1zM54 134h1v1h-1zM65 134h1v1h-1zM79 134h3v1h-3zM83 134h1v1h-1zM97 134h1v1h-1zM101 134h1v1h-1zM104 134h1v1h-1zM112 134h1v1h-1zM116 134h1v1h-1zM1 133h1v1h-1zM25 133h1v1h-1zM47 133h1v1h-1zM53 133h2v1h-2zM56 133h1v1h-1zM58 133h1v1h-1zM64 133h2v1h-2zM70 133h1v1h-1zM80 133h1v1h-1zM82 133h1v1h-1zM85 133h1v1h-1zM91 133h1v1h-1zM93 133h1v1h-1zM108 133h1v1h-1zM110 133h1v1h-1zM112 133h1v1h-1zM13 132h1v1h-1zM22 132h1v1h-1zM37 132h1v1h-1zM51 132h1v1h-1zM57 132h1v1h-1zM67 132h2v1h-2zM76 132h1v1h-1zM81 132h1v1h-1zM85 132h1v1h-1zM90 132h3v1h-3zM102 132h1v1h-1zM105 132h1v1h-1zM118 132h1v1h-1zM135 132h1v1h-1zM150 132h1v1h-1zM1 131h1v1h-1zM43 131h3v1h-3zM52 131h1v1h-1zM60 131h2v1h-2zM76 131h1v1h-1zM102 131h1v1h-1zM106 131h1v1h-1zM108 131h1v1h-1zM118 131h1v1h-1zM120 131h1v1h-1zM125 131h1v1h-1zM7 130h1v1h-1zM29 130h2v1h-2zM35 130h1v1h-1zM43 130h1v1h-1zM46 130h1v1h-1zM48 130h2v1h-2zM51 130h1v1h-1zM57 130h1v1h-1zM78 130h1v1h-1zM82 130h1v1h-1zM88 130h2v1h-2zM92 130h2v1h-2zM98 130h1v1h-1zM110 130h1v1h-1zM112 130h1v1h-1zM116 130h1v1h-1zM135 130h1v1h-1zM12 129h1v1h-1zM31 129h1v1h-1zM43 129h1v1h-1zM45 129h1v1h-1zM49 129h1v1h-1zM56 129h1v1h-1zM65 129h1v1h-1zM69 129h1v1h-1zM82 129h1v1h-1zM97 129h1v1h-1zM105 129h1v1h-1zM108 129h1v1h-1zM120 129h1v1h-1zM130 129h1v1h-1zM5 128h1v1h-1zM14 128h1v1h-1zM28 128h1v1h-1zM30 128h1v1h-1zM32 128h2v1h-2zM50 128h1v1h-1zM53 128h1v1h-1zM59 128h1v1h-1zM62 128h1v1h-1zM65 128h1v1h-1zM78 128h1v1h-1zM86 128h1v1h-1zM88 128h1v1h-1zM103 128h1v1h-1zM108 128h1v1h-1zM14 127h2v1h-2zM20 127h1v1h-1zM22 127h1v1h-1zM35 127h1v1h-1zM39 127h2v1h-2zM51 127h1v1h-1zM53 127h1v1h-1zM62 127h1v1h-1zM68 127h2v1h-2zM78 127h1v1h-1zM88 127h3v1h-3zM140 127h1v1h-1zM145 127h1v1h-1zM0 126h1v1h-1zM18 126h1v1h-1zM38 126h1v1h-1zM54 126h1v1h-1zM63 126h1v1h-1zM89 126h1v1h-1zM98 126h1v1h-1zM118 126h1v1h-1zM130 126h1v1h-1zM145 126h1v1h-1zM1 125h1v1h-1zM15 125h1v1h-1zM27 125h1v1h-1zM30 125h2v1h-2zM36 125h1v1h-1zM47 125h1v1h-1zM52 125h1v1h-1zM66 125h1v1h-1zM73 125h1v1h-1zM77 125h2v1h-2zM84 125h1v1h-1zM95 125h1v1h-1zM103 125h1v1h-1zM110 125h1v1h-1zM150 125h1v1h-1zM7 124h1v1h-1zM9 124h1v1h-1zM15 124h1v1h-1zM28 124h1v1h-1zM32 124h1v1h-1zM48 124h1v1h-1zM50 124h1v1h-1zM58 124h1v1h-1zM67 124h2v1h-2zM75 124h3v1h-3zM94 124h1v1h-1zM116 124h1v1h-1zM145 124h1v1h-1zM150 124h1v1h-1zM2 123h1v1h-1zM27 123h1v1h-1zM31 123h1v1h-1zM35 123h2v1h-2zM52 123h1v1h-1zM58 123h1v1h-1zM64 123h1v1h-1zM73 123h1v1h-1zM93 123h1v1h-1zM100 123h1v1h-1zM116 123h1v1h-1zM120 123h1v1h-1zM140 123h1v1h-1zM9 122h1v1h-1zM14 122h1v1h-1zM19 122h2v1h-2zM25 122h2v1h-2zM63 122h1v1h-1zM76 122h1v1h-1zM83 122h1v1h-1zM96 122h1v1h-1zM100 122h1v1h-1zM103 122h1v1h-1zM5 121h1v1h-1zM14 121h3v1h-3zM20 121h1v1h-1zM28 121h1v1h-1zM30 121h1v1h-1zM48 121h1v1h-1zM56 121h1v1h-1zM67 121h1v1h-1zM70 121h1v1h-1zM72 121h1v1h-1zM89 121h1v1h-1zM104 121h1v1h-1zM106 121h1v1h-1zM112 121h1v1h-1zM114 121h1v1h-1zM116 121h1v1h-1zM135 121h1v1h-1zM150 121h1v1h-1zM3 120h1v1h-1zM15 120h1v1h-1zM32 120h1v1h-1zM37 120h1v1h-1zM52 120h2v1h-2zM58 120h2v1h-2zM61 120h1v1h-1zM68 120h1v1h-1zM70 120h1v1h-1zM89 120h1v1h-1zM91 120h1v1h-1zM99 120h1v1h-1zM114 120h1v1h-1zM135 120h1v1h-1zM150 120h1v1h-1zM0 119h1v1h-1zM4 119h1v1h-1zM8 119h1v1h-1zM18 119h3v1h-3zM25 119h2v1h-2zM28 119h1v1h-1zM31 119h1v1h-1zM35 119h4v1h-4zM44 119h1v1h-1zM53 119h3v1h-3zM57 119h3v1h-3zM63 119h1v1h-1zM66 119h1v1h-1zM68 119h1v1h-1zM70 119h1v1h-1zM75 119h1v1h-1zM77 119h2v1h-2zM81 119h1v1h-1zM93 119h1v1h-1zM99 119h1v1h-1zM105 119h1v1h-1zM112 119h1v1h-1zM120 119h1v1h-1zM125 119h1v1h-1zM135 119h1v1h-1zM4 118h1v1h-1zM48 118h1v1h-1zM53 118h2v1h-2zM57 118h1v1h-1zM82 118h1v1h-1zM84 118h1v1h-1zM96 118h1v1h-1zM99 118h1v1h-1zM102 118h1v1h-1zM106 118h1v1h-1zM120 118h1v1h-1zM135 118h1v1h-1zM145 118h1v1h-1zM0 117h1v1h-1zM7 117h1v1h-1zM15 117h1v1h-1zM24 117h1v1h-1zM29 117h2v1h-2zM32 117h2v1h-2zM42 117h3v1h-3zM47 117h1v1h-1zM53 117h1v1h-1zM60 117h1v1h-1zM67 117h1v1h-1zM75 117h1v1h-1zM83 117h1v1h-1zM86 117h1v1h-1zM100 117h1v1h-1zM104 117h1v1h-1zM112 117h1v1h-1zM120 117h1v1h-1zM135 117h1v1h-1zM145 117h1v1h-1zM4 116h1v1h-1zM18 116h1v1h-1zM51 116h2v1h-2zM88 116h1v1h-1zM98 116h1v1h-1zM110 116h1v1h-1zM120 116h1v1h-1zM125 116h1v1h-1zM150 116h1v1h-1zM7 115h1v1h-1zM16 115h1v1h-1zM24 115h2v1h-2zM27 115h1v1h-1zM30 115h1v1h-1zM37 115h1v1h-1zM40 115h1v1h-1zM42 115h1v1h-1zM46 115h1v1h-1zM54 115h1v1h-1zM57 115h1v1h-1zM71 115h1v1h-1zM85 115h1v1h-1zM95 115h1v1h-1zM106 115h1v1h-1zM116 115h1v1h-1zM118 115h1v1h-1zM120 115h1v1h-1zM125 115h1v1h-1zM145 115h1v1h-1zM7 114h1v1h-1zM10 114h1v1h-1zM12 114h1v1h-1zM17 114h1v1h-1zM25 114h1v1h-1zM27 114h1v1h-1zM31 114h1v1h-1zM45 114h2v1h-2zM48 114h1v1h-1zM54 114h1v1h-1zM60 114h1v1h-1zM67 114h1v1h-1zM71 114h1v1h-1zM73 114h1v1h-1zM75 114h1v1h-1zM79 114h1v1h-1zM108 114h1v1h-1zM145 114h1v1h-1zM6 113h2v1h-2zM28 113h2v1h-2zM32 113h2v1h-2zM39 113h1v1h-1zM43 113h2v1h-2zM50 113h1v1h-1zM60 113h2v1h-2zM75 113h2v1h-2zM82 113h1v1h-1zM118 113h1v1h-1zM9 112h2v1h-2zM12 112h1v1h-1zM14 112h1v1h-1zM16 112h1v1h-1zM18 112h1v1h-1zM32 112h1v1h-1zM45 112h1v1h-1zM54 112h2v1h-2zM57 112h1v1h-1zM61 112h3v1h-3zM67 112h1v1h-1zM70 112h1v1h-1zM75 112h2v1h-2zM91 112h2v1h-2zM100 112h1v1h-1zM112 112h1v1h-1zM130 112h1v1h-1zM135 112h1v1h-1zM145 112h1v1h-1zM1 111h1v1h-1zM6 111h1v1h-1zM13 111h1v1h-1zM31 111h1v1h-1zM34 111h1v1h-1zM36 111h1v1h-1zM41 111h1v1h-1zM46 111h1v1h-1zM55 111h1v1h-1zM59 111h2v1h-2zM73 111h1v1h-1zM85 111h1v1h-1zM92 111h1v1h-1zM103 111h1v1h-1zM118 111h1v1h-1zM140 111h1v1h-1zM5 110h1v1h-1zM8 110h1v1h-1zM23 110h1v1h-1zM31 110h1v1h-1zM35 110h1v1h-1zM41 110h1v1h-1zM46 110h1v1h-1zM61 110h1v1h-1zM67 110h1v1h-1zM69 110h1v1h-1zM81 110h1v1h-1zM101 110h3v1h-3zM116 110h1v1h-1zM145 110h1v1h-1zM11 109h1v1h-1zM17 109h1v1h-1zM21 109h2v1h-2zM27 109h1v1h-1zM40 109h1v1h-1zM61 109h1v1h-1zM63 109h1v1h-1zM66 109h1v1h-1zM76 109h1v1h-1zM84 109h1v1h-1zM94 109h1v1h-1zM108 109h1v1h-1zM110 109h1v1h-1zM145 109h1v1h-1zM5 108h1v1h-1zM7 108h1v1h-1zM14 108h1v1h-1zM27 108h1v1h-1zM39 108h2v1h-2zM48 108h1v1h-1zM54 108h1v1h-1zM66 108h2v1h-2zM73 108h6v1h-6zM89 108h2v1h-2zM94 108h1v1h-1zM99 108h1v1h-1zM102 108h1v1h-1zM106 108h1v1h-1zM108 108h1v1h-1zM110 108h1v1h-1zM114 108h1v1h-1zM116 108h1v1h-1zM145 108h1v1h-1zM0 107h1v1h-1zM8 107h1v1h-1zM14 107h1v1h-1zM17 107h1v1h-1zM19 107h2v1h-2zM24 107h1v1h-1zM41 107h1v1h-1zM43 107h1v1h-1zM61 107h1v1h-1zM64 107h3v1h-3zM69 107h1v1h-1zM78 107h1v1h-1zM80 107h1v1h-1zM89 107h1v1h-1zM93 107h2v1h-2zM97 107h1v1h-1zM103 107h1v1h-1zM108 107h1v1h-1zM125 107h1v1h-1zM3 106h1v1h-1zM5 106h1v1h-1zM36 106h1v1h-1zM39 106h1v1h-1zM43 106h1v1h-1zM48 106h1v1h-1zM53 106h1v1h-1zM58 106h2v1h-2zM65 106h1v1h-1zM79 106h3v1h-3zM84 106h1v1h-1zM89 106h1v1h-1zM98 106h1v1h-1zM102 106h1v1h-1zM104 106h1v1h-1zM120 106h1v1h-1zM125 106h1v1h-1zM2 105h1v1h-1zM9 105h1v1h-1zM18 105h1v1h-1zM38 105h1v1h-1zM43 105h1v1h-1zM51 105h1v1h-1zM57 105h1v1h-1zM69 105h1v1h-1zM83 105h1v1h-1zM94 105h1v1h-1zM99 105h1v1h-1zM103 105h3v1h-3zM112 105h1v1h-1zM120 105h1v1h-1zM2 104h1v1h-1zM12 104h1v1h-1zM29 104h1v1h-1zM46 104h2v1h-2zM52 104h1v1h-1zM54 104h2v1h-2zM63 104h2v1h-2zM73 104h1v1h-1zM79 104h1v1h-1zM81 104h1v1h-1zM84 104h1v1h-1zM86 104h1v1h-1zM98 104h1v1h-1zM108 104h1v1h-1zM110 104h1v1h-1zM120 104h1v1h-1zM140 104h1v1h-1zM150 104h1v1h-1zM11 103h2v1h-2zM15 103h1v1h-1zM25 103h2v1h-2zM34 103h1v1h-1zM37 103h1v1h-1zM54 103h1v1h-1zM64 103h1v1h-1zM67 103h1v1h-1zM71 103h1v1h-1zM79 103h1v1h-1zM89 103h1v1h-1zM97 103h1v1h-1zM106 103h1v1h-1zM145 103h1v1h-1zM9 102h1v1h-1zM17 102h1v1h-1zM21 102h1v1h-1zM43 102h1v1h-1zM49 102h1v1h-1zM66 102h1v1h-1zM87 102h1v1h-1zM95 102h1v1h-1zM98 102h1v1h-1zM105 102h1v1h-1zM110 102h1v1h-1zM120 102h1v1h-1zM130 102h1v1h-1zM140 102h1v1h-1zM4 101h1v1h-1zM7 101h1v1h-1zM30 101h1v1h-1zM37 101h1v1h-1zM63 101h1v1h-1zM68 101h1v1h-1zM70 101h1v1h-1zM73 101h1v1h-1zM77 101h1v1h-1zM82 101h1v1h-1zM92 101h1v1h-1zM94 101h1v1h-1zM106 101h1v1h-1zM114 101h1v1h-1zM125 101h1v1h-1zM130 101h1v1h-1zM1 100h1v1h-1zM5 100h1v1h-1zM7 100h1v1h-1zM31 100h1v1h-1zM42 100h1v1h-1zM44 100h1v1h-1zM46 100h1v1h-1zM48 100h1v1h-1zM53 100h1v1h-1zM61 100h1v1h-1zM76 100h1v1h-1zM80 100h2v1h-2zM88 100h1v1h-1zM96 100h1v1h-1zM114 100h1v1h-1zM116 100h1v1h-1zM140 100h1v1h-1zM2 99h1v1h-1zM10 99h1v1h-1zM34 99h1v1h-1zM43 99h1v1h-1zM54 99h1v1h-1zM65 99h1v1h-1zM69 99h2v1h-2zM74 99h2v1h-2zM80 99h1v1h-1zM89 99h1v1h-1zM95 99h1v1h-1zM106 99h1v1h-1zM112 99h1v1h-1zM114 99h1v1h-1zM118 99h1v1h-1zM130 99h1v1h-1zM4 98h1v1h-1zM8 98h1v1h-1zM13 98h1v1h-1zM24 98h1v1h-1zM26 98h1v1h-1zM36 98h2v1h-2zM39 98h1v1h-1zM55 98h1v1h-1zM59 98h1v1h-1zM72 98h1v1h-1zM84 98h2v1h-2zM97 98h1v1h-1zM106 98h1v1h-1zM112 98h1v1h-1zM120 98h1v1h-1zM2 97h1v1h-1zM9 97h1v1h-1zM23 97h1v1h-1zM41 97h1v1h-1zM47 97h1v1h-1zM49 97h1v1h-1zM54 97h1v1h-1zM61 97h1v1h-1zM63 97h1v1h-1zM65 97h1v1h-1zM72 97h1v1h-1zM75 97h1v1h-1zM98 97h2v1h-2zM112 97h1v1h-1zM114 97h1v1h-1zM118 97h1v1h-1zM125 97h1v1h-1zM135 97h1v1h-1zM145 97h1v1h-1zM28 96h1v1h-1zM31 96h1v1h-1zM42 96h2v1h-2zM62 96h1v1h-1zM66 96h1v1h-1zM69 96h1v1h-1zM76 96h1v1h-1zM84 96h1v1h-1zM104 96h1v1h-1zM106 96h1v1h-1zM108 96h1v1h-1zM110 96h1v1h-1zM125 96h1v1h-1zM130 96h1v1h-1zM140 96h1v1h-1zM3 95h1v1h-1zM5 95h2v1h-2zM9 95h1v1h-1zM45 95h1v1h-1zM51 95h1v1h-1zM68 95h1v1h-1zM86 95h5v1h-5zM99 95h1v1h-1zM101 95h1v1h-1zM114 95h1v1h-1zM116 95h1v1h-1zM130 95h1v1h-1zM9 94h1v1h-1zM16 94h1v1h-1zM43 94h3v1h-3zM57 94h2v1h-2zM61 94h1v1h-1zM73 94h2v1h-2zM96 94h2v1h-2zM103 94h1v1h-1zM106 94h1v1h-1zM118 94h1v1h-1zM145 94h1v1h-1zM0 93h1v1h-1zM6 93h1v1h-1zM8 93h2v1h-2zM13 93h1v1h-1zM21 93h2v1h-2zM25 93h1v1h-1zM32 93h1v1h-1zM62 93h1v1h-1zM86 93h1v1h-1zM97 93h1v1h-1zM120 93h1v1h-1zM3 92h1v1h-1zM5 92h1v1h-1zM8 92h1v1h-1zM18 92h1v1h-1zM23 92h1v1h-1zM25 92h1v1h-1zM29 92h2v1h-2zM37 92h1v1h-1zM52 92h1v1h-1zM56 92h1v1h-1zM64 92h1v1h-1zM68 92h2v1h-2zM73 92h3v1h-3zM79 92h1v1h-1zM83 92h1v1h-1zM94 92h1v1h-1zM98 92h2v1h-2zM106 92h1v1h-1zM110 92h1v1h-1zM130 92h1v1h-1zM145 92h1v1h-1zM150 92h1v1h-1zM9 91h1v1h-1zM17 91h1v1h-1zM33 91h1v1h-1zM39 91h1v1h-1zM46 91h1v1h-1zM54 91h1v1h-1zM62 91h1v1h-1zM78 91h2v1h-2zM92 91h2v1h-2zM95 91h2v1h-2zM125 91h1v1h-1zM130 91h1v1h-1zM10 90h2v1h-2zM18 90h1v1h-1zM30 90h1v1h-1zM37 90h1v1h-1zM51 90h1v1h-1zM65 90h1v1h-1zM67 90h1v1h-1zM81 90h1v1h-1zM86 90h1v1h-1zM88 90h2v1h-2zM95 90h1v1h-1zM104 90h1v1h-1zM108 90h1v1h-1zM114 90h1v1h-1zM120 90h1v1h-1zM135 90h1v1h-1zM140 90h1v1h-1zM14 89h1v1h-1zM31 89h4v1h-4zM42 89h1v1h-1zM46 89h1v1h-1zM59 89h1v1h-1zM70 89h1v1h-1zM75 89h1v1h-1zM79 89h1v1h-1zM95 89h1v1h-1zM100 89h1v1h-1zM102 89h1v1h-1zM104 89h1v1h-1zM106 89h1v1h-1zM108 89h1v1h-1zM130 89h1v1h-1zM135 89h1v1h-1zM5 88h1v1h-1zM12 88h1v1h-1zM14 88h2v1h-2zM21 88h2v1h-2zM25 88h1v1h-1zM31 88h1v1h-1zM40 88h1v1h-1zM44 88h1v1h-1zM47 88h2v1h-2zM55 88h1v1h-1zM66 88h2v1h-2zM76 88h1v1h-1zM78 88h1v1h-1zM86 88h1v1h-1zM88 88h2v1h-2zM108 88h1v1h-1zM3 87h1v1h-1zM16 87h1v1h-1zM27 87h1v1h-1zM29 87h1v1h-1zM33 87h1v1h-1zM39 87h1v1h-1zM42 87h1v1h-1zM45 87h1v1h-1zM53 87h1v1h-1zM58 87h1v1h-1zM60 87h1v1h-1zM62 87h1v1h-1zM69 87h2v1h-2zM74 87h1v1h-1zM81 87h1v1h-1zM84 87h1v1h-1zM86 87h1v1h-1zM110 87h1v1h-1zM112 87h1v1h-1zM118 87h1v1h-1zM120 87h1v1h-1zM30 86h1v1h-1zM35 86h1v1h-1zM41 86h2v1h-2zM47 86h1v1h-1zM60 86h2v1h-2zM65 86h1v1h-1zM89 86h1v1h-1zM95 86h1v1h-1zM101 86h1v1h-1zM106 86h1v1h-1zM110 86h1v1h-1zM135 86h1v1h-1zM145 86h1v1h-1zM27 85h1v1h-1zM29 85h1v1h-1zM33 85h1v1h-1zM40 85h1v1h-1zM64 85h1v1h-1zM73 85h1v1h-1zM76 85h1v1h-1zM91 85h2v1h-2zM98 85h1v1h-1zM101 85h2v1h-2zM112 85h1v1h-1zM125 85h1v1h-1zM150 85h1v1h-1zM4 84h2v1h-2zM15 84h1v1h-1zM27 84h1v1h-1zM32 84h1v1h-1zM63 84h1v1h-1zM66 84h1v1h-1zM82 84h1v1h-1zM89 84h1v1h-1zM98 84h1v1h-1zM104 84h1v1h-1zM6 83h1v1h-1zM17 83h1v1h-1zM37 83h1v1h-1zM39 83h1v1h-1zM51 83h2v1h-2zM57 83h1v1h-1zM59 83h1v1h-1zM63 83h3v1h-3zM83 83h1v1h-1zM88 83h2v1h-2zM96 83h1v1h-1zM112 83h1v1h-1zM118 83h1v1h-1zM130 83h1v1h-1zM3 82h1v1h-1zM9 82h1v1h-1zM12 82h1v1h-1zM21 82h1v1h-1zM28 82h1v1h-1zM38 82h1v1h-1zM44 82h1v1h-1zM52 82h1v1h-1zM58 82h1v1h-1zM63 82h1v1h-1zM67 82h3v1h-3zM78 82h1v1h-1zM89 82h1v1h-1zM94 82h1v1h-1zM101 82h1v1h-1zM104 82h1v1h-1zM108 82h1v1h-1zM114 82h1v1h-1zM125 82h1v1h-1zM5 81h1v1h-1zM15 81h1v1h-1zM20 81h2v1h-2zM34 81h1v1h-1zM61 81h2v1h-2zM69 81h1v1h-1zM77 81h1v1h-1zM80 81h2v1h-2zM101 81h2v1h-2zM0 80h1v1h-1zM4 80h1v1h-1zM24 80h1v1h-1zM35 80h2v1h-2zM40 80h1v1h-1zM50 80h2v1h-2zM53 80h1v1h-1zM59 80h1v1h-1zM74 80h2v1h-2zM77 80h4v1h-4zM85 80h1v1h-1zM92 80h2v1h-2zM95 80h1v1h-1zM102 80h1v1h-1zM110 80h1v1h-1zM116 80h1v1h-1zM125 80h1v1h-1zM150 80h1v1h-1zM26 79h1v1h-1zM30 79h1v1h-1zM61 79h1v1h-1zM63 79h1v1h-1zM65 79h1v1h-1zM80 79h1v1h-1zM86 79h2v1h-2zM96 79h1v1h-1zM102 79h1v1h-1zM108 79h1v1h-1zM145 79h1v1h-1zM30 78h1v1h-1zM46 78h1v1h-1zM48 78h1v1h-1zM63 78h1v1h-1zM67 78h2v1h-2zM87 78h1v1h-1zM89 78h1v1h-1zM96 78h1v1h-1zM98 78h1v1h-1zM101 78h1v1h-1zM110 78h1v1h-1zM112 78h1v1h-1zM114 78h1v1h-1zM140 78h1v1h-1zM145 78h1v1h-1zM0 77h1v1h-1zM47 77h1v1h-1zM56 77h1v1h-1zM75 77h1v1h-1zM82 77h1v1h-1zM84 77h1v1h-1zM86 77h1v1h-1zM88 77h2v1h-2zM91 77h1v1h-1zM95 77h1v1h-1zM100 77h1v1h-1zM103 77h1v1h-1zM105 77h1v1h-1zM108 77h1v1h-1zM114 77h1v1h-1zM19 76h1v1h-1zM21 76h1v1h-1zM25 76h1v1h-1zM30 76h2v1h-2zM34 76h1v1h-1zM37 76h2v1h-2zM45 76h1v1h-1zM52 76h1v1h-1zM69 76h1v1h-1zM72 76h1v1h-1zM78 76h2v1h-2zM89 76h1v1h-1zM96 76h1v1h-1zM116 76h1v1h-1zM130 76h1v1h-1zM150 76h1v1h-1zM10 75h1v1h-1zM14 75h1v1h-1zM16 75h2v1h-2zM27 75h1v1h-1zM44 75h1v1h-1zM48 75h1v1h-1zM53 75h1v1h-1zM79 75h1v1h-1zM81 75h1v1h-1zM87 75h3v1h-3zM100 75h1v1h-1zM102 75h1v1h-1zM116 75h1v1h-1zM118 75h1v1h-1zM120 75h1v1h-1zM125 75h1v1h-1zM5 74h1v1h-1zM16 74h1v1h-1zM22 74h1v1h-1zM32 74h1v1h-1zM43 74h1v1h-1zM47 74h1v1h-1zM52 74h1v1h-1zM62 74h1v1h-1zM81 74h3v1h-3zM87 74h1v1h-1zM98 74h1v1h-1zM108 74h1v1h-1zM135 74h1v1h-1zM3 73h1v1h-1zM9 73h2v1h-2zM21 73h1v1h-1zM32 73h2v1h-2zM38 73h2v1h-2zM53 73h1v1h-1zM67 73h1v1h-1zM71 73h1v1h-1zM75 73h1v1h-1zM80 73h1v1h-1zM84 73h1v1h-1zM89 73h1v1h-1zM91 73h2v1h-2zM110 73h1v1h-1zM112 73h1v1h-1zM125 73h1v1h-1zM10 72h3v1h-3zM40 72h1v1h-1zM43 72h1v1h-1zM50 72h1v1h-1zM52 72h1v1h-1zM61 72h1v1h-1zM66 72h1v1h-1zM68 72h1v1h-1zM73 72h1v1h-1zM76 72h1v1h-1zM80 72h1v1h-1zM87 72h1v1h-1zM103 72h1v1h-1zM118 72h1v1h-1zM125 72h1v1h-1zM140 72h1v1h-1zM10 71h1v1h-1zM13 71h1v1h-1zM20 71h1v1h-1zM34 71h1v1h-1zM56 71h1v1h-1zM65 71h1v1h-1zM72 71h1v1h-1zM74 71h1v1h-1zM78 71h1v1h-1zM110 71h1v1h-1zM114 71h1v1h-1zM125 71h1v1h-1zM140 71h1v1h-1zM0 70h1v1h-1zM23 70h1v1h-1zM30 70h1v1h-1zM50 70h1v1h-1zM52 70h1v1h-1zM59 70h1v1h-1zM61 70h1v1h-1zM67 70h3v1h-3zM72 70h2v1h-2zM87 70h1v1h-1zM104 70h1v1h-1zM106 70h1v1h-1zM108 70h1v1h-1zM116 70h1v1h-1zM4 69h1v1h-1zM9 69h1v1h-1zM14 69h1v1h-1zM32 69h3v1h-3zM42 69h1v1h-1zM52 69h1v1h-1zM56 69h2v1h-2zM74 69h1v1h-1zM77 69h1v1h-1zM85 69h1v1h-1zM94 69h1v1h-1zM96 69h2v1h-2zM100 69h1v1h-1zM105 69h1v1h-1zM108 69h1v1h-1zM140 69h1v1h-1zM145 69h1v1h-1zM0 68h1v1h-1zM5 68h1v1h-1zM11 68h1v1h-1zM25 68h1v1h-1zM28 68h1v1h-1zM34 68h1v1h-1zM44 68h1v1h-1zM46 68h1v1h-1zM57 68h1v1h-1zM70 68h1v1h-1zM76 68h1v1h-1zM81 68h2v1h-2zM92 68h1v1h-1zM94 68h1v1h-1zM97 68h1v1h-1zM3 67h1v1h-1zM7 67h1v1h-1zM32 67h2v1h-2zM39 67h1v1h-1zM54 67h1v1h-1zM59 67h1v1h-1zM64 67h1v1h-1zM66 67h1v1h-1zM69 67h1v1h-1zM78 67h1v1h-1zM90 67h1v1h-1zM92 67h1v1h-1zM114 67h1v1h-1zM3 66h1v1h-1zM48 66h1v1h-1zM54 66h1v1h-1zM56 66h1v1h-1zM66 66h1v1h-1zM80 66h1v1h-1zM87 66h1v1h-1zM89 66h1v1h-1zM91 66h1v1h-1zM96 66h2v1h-2zM101 66h1v1h-1zM112 66h1v1h-1zM4 65h1v1h-1zM19 65h1v1h-1zM22 65h1v1h-1zM46 65h1v1h-1zM51 65h1v1h-1zM56 65h1v1h-1zM71 65h1v1h-1zM74 65h1v1h-1zM103 65h1v1h-1zM106 65h1v1h-1zM110 65h1v1h-1zM112 65h1v1h-1zM114 65h1v1h-1zM118 65h1v1h-1zM140 65h1v1h-1zM150 65h1v1h-1zM21 64h2v1h-2zM38 64h1v1h-1zM47 64h1v1h-1zM49 64h1v1h-1zM56 64h1v1h-1zM63 64h1v1h-1zM72 64h1v1h-1zM75 64h1v1h-1zM78 64h3v1h-3zM84 64h1v1h-1zM92 64h1v1h-1zM95 64h1v1h-1zM110 64h1v1h-1zM130 64h1v1h-1zM140 64h1v1h-1zM150 64h1v1h-1zM14 63h1v1h-1zM17 63h2v1h-2zM22 63h1v1h-1zM31 63h1v1h-1zM40 63h1v1h-1zM45 63h1v1h-1zM52 63h1v1h-1zM58 63h1v1h-1zM65 63h1v1h-1zM73 63h1v1h-1zM89 63h1v1h-1zM93 63h1v1h-1zM95 63h1v1h-1zM135 63h1v1h-1zM9 62h1v1h-1zM11 62h2v1h-2zM27 62h1v1h-1zM35 62h1v1h-1zM43 62h1v1h-1zM49 62h1v1h-1zM52 62h1v1h-1zM55 62h2v1h-2zM59 62h2v1h-2zM72 62h2v1h-2zM81 62h1v1h-1zM85 62h1v1h-1zM108 62h1v1h-1zM110 62h1v1h-1zM116 62h1v1h-1zM125 62h1v1h-1zM4 61h1v1h-1zM9 61h1v1h-1zM22 61h1v1h-1zM25 61h1v1h-1zM47 61h1v1h-1zM59 61h1v1h-1zM71 61h1v1h-1zM83 61h1v1h-1zM96 61h2v1h-2zM106 61h1v1h-1zM116 61h1v1h-1zM135 61h1v1h-1zM140 61h1v1h-1zM11 60h1v1h-1zM17 60h1v1h-1zM29 60h1v1h-1zM32 60h1v1h-1zM45 60h1v1h-1zM61 60h3v1h-3zM67 60h1v1h-1zM70 60h1v1h-1zM72 60h1v1h-1zM85 60h2v1h-2zM90 60h2v1h-2zM0 59h1v1h-1zM12 59h1v1h-1zM14 59h1v1h-1zM22 59h1v1h-1zM26 59h2v1h-2zM30 59h1v1h-1zM32 59h1v1h-1zM36 59h2v1h-2zM39 59h1v1h-1zM41 59h2v1h-2zM52 59h1v1h-1zM58 59h1v1h-1zM65 59h2v1h-2zM71 59h1v1h-1zM76 59h1v1h-1zM82 59h1v1h-1zM86 59h1v1h-1zM120 59h1v1h-1zM135 59h1v1h-1zM5 58h1v1h-1zM16 58h1v1h-1zM21 58h1v1h-1zM28 58h1v1h-1zM49 58h1v1h-1zM61 58h1v1h-1zM66 58h2v1h-2zM75 58h1v1h-1zM77 58h1v1h-1zM88 58h2v1h-2zM99 58h2v1h-2zM104 58h1v1h-1zM110 58h1v1h-1zM114 58h1v1h-1zM125 58h1v1h-1zM21 57h1v1h-1zM24 57h1v1h-1zM31 57h1v1h-1zM41 57h1v1h-1zM56 57h1v1h-1zM64 57h1v1h-1zM92 57h1v1h-1zM5 56h3v1h-3zM28 56h1v1h-1zM38 56h1v1h-1zM53 56h2v1h-2zM58 56h1v1h-1zM65 56h2v1h-2zM68 56h1v1h-1zM82 56h2v1h-2zM95 56h1v1h-1zM101 56h2v1h-2zM110 56h1v1h-1zM112 56h1v1h-1zM114 56h1v1h-1zM116 56h1v1h-1zM125 56h1v1h-1zM130 56h1v1h-1zM140 56h1v1h-1zM145 56h1v1h-1zM7 55h2v1h-2zM10 55h1v1h-1zM25 55h1v1h-1zM45 55h1v1h-1zM47 55h1v1h-1zM64 55h1v1h-1zM68 55h1v1h-1zM73 55h1v1h-1zM82 55h1v1h-1zM85 55h1v1h-1zM92 55h1v1h-1zM94 55h1v1h-1zM97 55h1v1h-1zM108 55h1v1h-1zM112 55h1v1h-1zM140 55h1v1h-1zM150 55h1v1h-1zM6 54h1v1h-1zM37 54h1v1h-1zM43 54h2v1h-2zM52 54h1v1h-1zM54 54h2v1h-2zM57 54h1v1h-1zM63 54h1v1h-1zM65 54h2v1h-2zM70 54h1v1h-1zM82 54h1v1h-1zM84 54h1v1h-1zM86 54h1v1h-1zM96 54h2v1h-2zM105 54h2v1h-2zM110 54h1v1h-1zM114 54h1v1h-1zM116 54h1v1h-1zM125 54h1v1h-1zM8 53h1v1h-1zM11 53h1v1h-1zM22 53h1v1h-1zM43 53h1v1h-1zM46 53h1v1h-1zM50 53h1v1h-1zM61 53h1v1h-1zM69 53h1v1h-1zM78 53h1v1h-1zM85 53h1v1h-1zM89 53h1v1h-1zM96 53h1v1h-1zM100 53h1v1h-1zM110 53h1v1h-1zM135 53h1v1h-1zM150 53h1v1h-1zM0 52h1v1h-1zM3 52h2v1h-2zM12 52h1v1h-1zM14 52h1v1h-1zM17 52h1v1h-1zM21 52h1v1h-1zM27 52h1v1h-1zM30 52h1v1h-1zM32 52h1v1h-1zM34 52h1v1h-1zM40 52h1v1h-1zM52 52h1v1h-1zM60 52h1v1h-1zM68 52h1v1h-1zM71 52h2v1h-2zM74 52h1v1h-1zM78 52h1v1h-1zM89 52h1v1h-1zM105 52h1v1h-1zM120 52h1v1h-1zM1 51h1v1h-1zM4 51h2v1h-2zM7 51h2v1h-2zM11 51h1v1h-1zM25 51h1v1h-1zM27 51h1v1h-1zM40 51h1v1h-1zM53 51h1v1h-1zM56 51h1v1h-1zM61 51h1v1h-1zM75 51h2v1h-2zM83 51h1v1h-1zM93 51h1v1h-1zM95 51h3v1h-3zM106 51h1v1h-1zM118 51h1v1h-1zM140 51h1v1h-1zM0 50h1v1h-1zM19 50h1v1h-1zM21 50h2v1h-2zM31 50h1v1h-1zM34 50h1v1h-1zM42 50h1v1h-1zM46 50h1v1h-1zM59 50h1v1h-1zM67 50h1v1h-1zM71 50h1v1h-1zM84 50h1v1h-1zM86 50h1v1h-1zM100 50h1v1h-1zM116 50h1v1h-1zM118 50h1v1h-1zM120 50h1v1h-1zM145 50h1v1h-1zM20 49h1v1h-1zM24 49h1v1h-1zM28 49h1v1h-1zM40 49h2v1h-2zM44 49h1v1h-1zM54 49h1v1h-1zM56 49h1v1h-1zM71 49h1v1h-1zM74 49h1v1h-1zM84 49h1v1h-1zM96 49h1v1h-1zM99 49h1v1h-1zM110 49h1v1h-1zM135 49h1v1h-1zM15 48h1v1h-1zM28 48h1v1h-1zM41 48h1v1h-1zM50 48h2v1h-2zM56 48h1v1h-1zM61 48h1v1h-1zM69 48h1v1h-1zM77 48h1v1h-1zM86 48h1v1h-1zM94 48h1v1h-1zM96 48h1v1h-1zM100 48h3v1h-3zM114 48h1v1h-1zM116 48h1v1h-1zM130 48h1v1h-1zM135 48h1v1h-1zM140 48h1v1h-1zM5 47h2v1h-2zM9 47h1v1h-1zM11 47h3v1h-3zM33 47h1v1h-1zM35 47h1v1h-1zM41 47h1v1h-1zM58 47h1v1h-1zM65 47h1v1h-1zM67 47h1v1h-1zM77 47h3v1h-3zM87 47h2v1h-2zM98 47h1v1h-1zM103 47h2v1h-2zM112 47h1v1h-1zM120 47h1v1h-1zM4 46h1v1h-1zM7 46h1v1h-1zM9 46h1v1h-1zM12 46h1v1h-1zM17 46h1v1h-1zM26 46h1v1h-1zM39 46h1v1h-1zM44 46h3v1h-3zM48 46h1v1h-1zM53 46h1v1h-1zM61 46h1v1h-1zM85 46h2v1h-2zM96 46h1v1h-1zM100 46h1v1h-1zM106 46h1v1h-1zM114 46h1v1h-1zM118 46h1v1h-1zM120 46h1v1h-1zM135 46h1v1h-1zM12 45h2v1h-2zM15 45h1v1h-1zM19 45h1v1h-1zM32 45h4v1h-4zM48 45h1v1h-1zM50 45h1v1h-1zM58 45h1v1h-1zM63 45h1v1h-1zM77 45h1v1h-1zM83 45h1v1h-1zM91 45h2v1h-2zM110 45h1v1h-1zM125 45h1v1h-1zM135 45h1v1h-1zM8 44h1v1h-1zM17 44h1v1h-1zM20 44h1v1h-1zM27 44h1v1h-1zM31 44h1v1h-1zM33 44h1v1h-1zM35 44h1v1h-1zM57 44h2v1h-2zM63 44h1v1h-1zM77 44h1v1h-1zM80 44h1v1h-1zM83 44h1v1h-1zM86 44h1v1h-1zM94 44h1v1h-1zM145 44h1v1h-1zM7 43h1v1h-1zM23 43h1v1h-1zM25 43h1v1h-1zM30 43h1v1h-1zM33 43h1v1h-1zM41 43h1v1h-1zM50 43h1v1h-1zM56 43h1v1h-1zM60 43h1v1h-1zM67 43h1v1h-1zM69 43h3v1h-3zM74 43h1v1h-1zM79 43h1v1h-1zM90 43h1v1h-1zM97 43h1v1h-1zM114 43h1v1h-1zM145 43h1v1h-1zM150 43h1v1h-1zM9 42h1v1h-1zM21 42h2v1h-2zM25 42h1v1h-1zM30 42h1v1h-1zM38 42h1v1h-1zM46 42h1v1h-1zM65 42h1v1h-1zM69 42h1v1h-1zM82 42h1v1h-1zM89 42h1v1h-1zM94 42h1v1h-1zM97 42h1v1h-1zM103 42h1v1h-1zM112 42h1v1h-1zM114 42h1v1h-1zM130 42h1v1h-1zM150 42h1v1h-1zM12 41h1v1h-1zM26 41h1v1h-1zM29 41h1v1h-1zM37 41h1v1h-1zM40 41h1v1h-1zM49 41h1v1h-1zM53 41h1v1h-1zM75 41h2v1h-2zM85 41h1v1h-1zM90 41h1v1h-1zM93 41h2v1h-2zM98 41h1v1h-1zM101 41h1v1h-1zM130 41h1v1h-1zM3 40h2v1h-2zM7 40h2v1h-2zM18 40h1v1h-1zM48 40h1v1h-1zM52 40h1v1h-1zM67 40h2v1h-2zM77 40h1v1h-1zM82 40h1v1h-1zM87 40h3v1h-3zM93 40h1v1h-1zM96 40h1v1h-1zM98 40h1v1h-1zM102 40h1v1h-1zM108 40h1v1h-1zM118 40h1v1h-1zM5 39h1v1h-1zM7 39h1v1h-1zM17 39h1v1h-1zM21 39h1v1h-1zM27 39h2v1h-2zM32 39h2v1h-2zM37 39h1v1h-1zM56 39h1v1h-1zM58 39h1v1h-1zM68 39h1v1h-1zM75 39h1v1h-1zM86 39h3v1h-3zM103 39h1v1h-1zM130 39h1v1h-1zM140 39h1v1h-1zM150 39h1v1h-1zM0 38h1v1h-1zM4 38h2v1h-2zM11 38h3v1h-3zM20 38h1v1h-1zM38 38h1v1h-1zM43 38h1v1h-1zM51 38h1v1h-1zM54 38h2v1h-2zM58 38h1v1h-1zM60 38h1v1h-1zM68 38h1v1h-1zM71 38h1v1h-1zM76 38h1v1h-1zM79 38h1v1h-1zM85 38h2v1h-2zM92 38h1v1h-1zM100 38h1v1h-1zM114 38h1v1h-1zM120 38h1v1h-1zM130 38h1v1h-1zM140 38h1v1h-1zM150 38h1v1h-1zM12 37h1v1h-1zM24 37h1v1h-1zM26 37h1v1h-1zM35 37h1v1h-1zM40 37h1v1h-1zM45 37h1v1h-1zM48 37h1v1h-1zM51 37h1v1h-1zM68 37h2v1h-2zM96 37h1v1h-1zM116 37h1v1h-1zM118 37h1v1h-1zM120 37h1v1h-1zM145 37h1v1h-1zM0 36h1v1h-1zM8 36h1v1h-1zM11 36h1v1h-1zM14 36h2v1h-2zM19 36h1v1h-1zM25 36h1v1h-1zM27 36h1v1h-1zM31 36h1v1h-1zM33 36h2v1h-2zM37 36h1v1h-1zM51 36h1v1h-1zM57 36h1v1h-1zM61 36h1v1h-1zM65 36h1v1h-1zM76 36h1v1h-1zM79 36h1v1h-1zM81 36h1v1h-1zM94 36h1v1h-1zM97 36h1v1h-1zM100 36h1v1h-1zM116 36h1v1h-1zM120 36h1v1h-1zM150 36h1v1h-1zM0 35h1v1h-1zM5 35h1v1h-1zM32 35h1v1h-1zM38 35h1v1h-1zM40 35h1v1h-1zM51 35h1v1h-1zM60 35h1v1h-1zM71 35h1v1h-1zM79 35h1v1h-1zM89 35h1v1h-1zM92 35h1v1h-1zM103 35h1v1h-1zM108 35h1v1h-1zM114 35h1v1h-1zM135 35h1v1h-1zM140 35h1v1h-1zM7 34h1v1h-1zM11 34h1v1h-1zM27 34h1v1h-1zM41 34h4v1h-4zM46 34h2v1h-2zM50 34h3v1h-3zM54 34h2v1h-2zM57 34h1v1h-1zM69 34h1v1h-1zM73 34h1v1h-1zM77 34h2v1h-2zM86 34h1v1h-1zM90 34h2v1h-2zM97 34h3v1h-3zM102 34h1v1h-1zM116 34h1v1h-1zM135 34h1v1h-1zM140 34h1v1h-1zM4 33h1v1h-1zM7 33h1v1h-1zM10 33h3v1h-3zM19 33h1v1h-1zM22 33h1v1h-1zM27 33h1v1h-1zM36 33h1v1h-1zM44 33h2v1h-2zM54 33h1v1h-1zM60 33h1v1h-1zM76 33h1v1h-1zM79 33h1v1h-1zM89 33h1v1h-1zM94 33h2v1h-2zM97 33h1v1h-1zM102 33h1v1h-1zM110 33h1v1h-1zM130 33h1v1h-1zM135 33h1v1h-1zM7 32h2v1h-2zM22 32h2v1h-2zM33 32h1v1h-1zM40 32h1v1h-1zM46 32h1v1h-1zM58 32h1v1h-1zM60 32h1v1h-1zM74 32h1v1h-1zM85 32h2v1h-2zM101 32h2v1h-2zM116 32h1v1h-1zM118 32h1v1h-1zM135 32h1v1h-1zM17 31h1v1h-1zM30 31h1v1h-1zM48 31h2v1h-2zM51 31h2v1h-2zM58 31h1v1h-1zM65 31h1v1h-1zM85 31h1v1h-1zM88 31h1v1h-1zM106 31h1v1h-1zM110 31h1v1h-1zM116 31h1v1h-1zM130 31h1v1h-1zM5 30h1v1h-1zM14 30h1v1h-1zM30 30h1v1h-1zM51 30h2v1h-2zM61 30h1v1h-1zM73 30h1v1h-1zM85 30h3v1h-3zM93 30h1v1h-1zM105 30h2v1h-2zM120 30h1v1h-1zM0 29h1v1h-1zM2 29h1v1h-1zM12 29h1v1h-1zM19 29h1v1h-1zM27 29h1v1h-1zM35 29h2v1h-2zM43 29h1v1h-1zM73 29h1v1h-1zM76 29h1v1h-1zM79 29h1v1h-1zM83 29h1v1h-1zM94 29h1v1h-1zM104 29h1v1h-1zM0 28h1v1h-1zM9 28h1v1h-1zM23 28h1v1h-1zM25 28h1v1h-1zM27 28h1v1h-1zM39 28h1v1h-1zM44 28h1v1h-1zM63 28h1v1h-1zM66 28h2v1h-2zM69 28h1v1h-1zM86 28h2v1h-2zM89 28h1v1h-1zM96 28h1v1h-1zM105 28h1v1h-1zM108 28h1v1h-1zM110 28h1v1h-1zM116 28h1v1h-1zM118 28h1v1h-1zM130 28h1v1h-1zM140 28h1v1h-1zM145 28h1v1h-1zM11 27h1v1h-1zM13 27h1v1h-1zM18 27h1v1h-1zM20 27h1v1h-1zM29 27h1v1h-1zM36 27h1v1h-1zM41 27h1v1h-1zM44 27h1v1h-1zM60 27h2v1h-2zM63 27h1v1h-1zM92 27h1v1h-1zM96 27h1v1h-1zM101 27h1v1h-1zM3 26h1v1h-1zM5 26h1v1h-1zM17 26h1v1h-1zM21 26h1v1h-1zM40 26h1v1h-1zM43 26h1v1h-1zM46 26h1v1h-1zM62 26h1v1h-1zM81 26h1v1h-1zM85 26h1v1h-1zM91 26h1v1h-1zM102 26h1v1h-1zM116 26h1v1h-1zM135 26h1v1h-1zM0 25h2v1h-2zM21 25h3v1h-3zM30 25h1v1h-1zM35 25h1v1h-1zM61 25h1v1h-1zM80 25h1v1h-1zM82 25h1v1h-1zM92 25h2v1h-2zM98 25h1v1h-1zM118 25h1v1h-1zM120 25h1v1h-1zM7 24h3v1h-3zM17 24h1v1h-1zM27 24h2v1h-2zM32 24h1v1h-1zM36 24h1v1h-1zM39 24h1v1h-1zM56 24h1v1h-1zM58 24h1v1h-1zM61 24h1v1h-1zM81 24h1v1h-1zM85 24h1v1h-1zM94 24h1v1h-1zM96 24h1v1h-1zM102 24h1v1h-1zM118 24h1v1h-1zM125 24h1v1h-1zM130 24h1v1h-1zM135 24h1v1h-1zM145 24h1v1h-1zM150 24h1v1h-1zM2 23h1v1h-1zM8 23h1v1h-1zM20 23h1v1h-1zM27 23h1v1h-1zM30 23h1v1h-1zM35 23h1v1h-1zM41 23h1v1h-1zM46 23h1v1h-1zM66 23h1v1h-1zM68 23h1v1h-1zM74 23h1v1h-1zM86 23h1v1h-1zM95 23h1v1h-1zM112 23h1v1h-1zM114 23h1v1h-1zM116 23h1v1h-1zM130 23h1v1h-1zM150 23h1v1h-1zM8 22h1v1h-1zM13 22h1v1h-1zM19 22h1v1h-1zM26 22h1v1h-1zM28 22h1v1h-1zM34 22h1v1h-1zM51 22h1v1h-1zM58 22h1v1h-1zM76 22h1v1h-1zM90 22h1v1h-1zM92 22h1v1h-1zM108 22h1v1h-1zM110 22h1v1h-1zM112 22h1v1h-1zM135 22h1v1h-1zM145 22h1v1h-1zM150 22h1v1h-1zM8 21h1v1h-1zM10 21h1v1h-1zM21 21h2v1h-2zM34 21h1v1h-1zM40 21h1v1h-1zM55 21h1v1h-1zM64 21h1v1h-1zM67 21h1v1h-1zM79 21h1v1h-1zM93 21h1v1h-1zM96 21h1v1h-1zM104 21h1v1h-1zM120 21h1v1h-1zM140 21h1v1h-1zM0 20h1v1h-1zM7 20h1v1h-1zM11 20h1v1h-1zM29 20h1v1h-1zM45 20h1v1h-1zM51 20h1v1h-1zM70 20h1v1h-1zM72 20h1v1h-1zM79 20h2v1h-2zM84 20h1v1h-1zM98 20h1v1h-1zM106 20h1v1h-1zM108 20h1v1h-1zM6 19h1v1h-1zM19 19h1v1h-1zM29 19h3v1h-3zM35 19h1v1h-1zM43 19h2v1h-2zM48 19h1v1h-1zM55 19h1v1h-1zM62 19h1v1h-1zM99 19h1v1h-1zM120 19h1v1h-1zM130 19h1v1h-1zM9 18h1v1h-1zM40 18h1v1h-1zM44 18h1v1h-1zM54 18h1v1h-1zM57 18h1v1h-1zM65 18h1v1h-1zM71 18h1v1h-1zM85 18h1v1h-1zM92 18h1v1h-1zM104 18h1v1h-1zM140 18h1v1h-1zM2 17h1v1h-1zM9 17h1v1h-1zM21 17h1v1h-1zM23 17h1v1h-1zM44 17h1v1h-1zM47 17h1v1h-1zM50 17h1v1h-1zM76 17h3v1h-3zM91 17h1v1h-1zM93 17h1v1h-1zM98 17h2v1h-2zM101 17h1v1h-1zM112 17h1v1h-1zM150 17h1v1h-1zM3 16h1v1h-1zM8 16h1v1h-1zM18 16h1v1h-1zM29 16h1v1h-1zM32 16h1v1h-1zM34 16h2v1h-2zM37 16h3v1h-3zM45 16h1v1h-1zM58 16h1v1h-1zM66 16h1v1h-1zM69 16h1v1h-1zM78 16h1v1h-1zM92 16h1v1h-1zM103 16h2v1h-2zM106 16h1v1h-1zM135 16h1v1h-1zM9 15h1v1h-1zM23 15h1v1h-1zM33 15h1v1h-1zM39 15h1v1h-1zM45 15h1v1h-1zM48 15h1v1h-1zM64 15h1v1h-1zM66 15h1v1h-1zM75 15h1v1h-1zM77 15h2v1h-2zM92 15h1v1h-1zM94 15h2v1h-2zM102 15h1v1h-1zM110 15h1v1h-1zM112 15h1v1h-1zM120 15h1v1h-1zM125 15h1v1h-1zM130 15h1v1h-1zM135 15h1v1h-1zM1 14h2v1h-2zM15 14h3v1h-3zM35 14h1v1h-1zM37 14h1v1h-1zM44 14h1v1h-1zM47 14h1v1h-1zM52 14h2v1h-2zM58 14h1v1h-1zM66 14h1v1h-1zM76 14h1v1h-1zM89 14h2v1h-2zM98 14h1v1h-1zM102 14h1v1h-1zM110 14h1v1h-1zM130 14h1v1h-1zM140 14h1v1h-1zM150 14h1v1h-1zM2 13h1v1h-1zM16 13h1v1h-1zM23 13h1v1h-1zM27 13h2v1h-2zM31 13h1v1h-1zM38 13h1v1h-1zM49 13h1v1h-1zM67 13h3v1h-3zM84 13h1v1h-1zM92 13h1v1h-1zM102 13h2v1h-2zM105 13h1v1h-1zM125 13h1v1h-1zM0 12h1v1h-1zM2 12h2v1h-2zM10 12h1v1h-1zM21 12h1v1h-1zM29 12h1v1h-1zM38 12h1v1h-1zM46 12h1v1h-1zM66 12h2v1h-2zM71 12h1v1h-1zM77 12h1v1h-1zM79 12h2v1h-2zM93 12h1v1h-1zM99 12h1v1h-1zM101 12h1v1h-1zM105 12h1v1h-1zM112 12h1v1h-1zM114 12h1v1h-1zM120 12h1v1h-1zM135 12h1v1h-1zM140 12h1v1h-1zM150 12h1v1h-1zM2 11h3v1h-3zM32 11h1v1h-1zM37 11h1v1h-1zM63 11h1v1h-1zM66 11h1v1h-1zM79 11h2v1h-2zM84 11h1v1h-1zM87 11h1v1h-1zM116 11h1v1h-1zM120 11h1v1h-1zM135 11h1v1h-1zM150 11h1v1h-1zM8 10h1v1h-1zM40 10h1v1h-1zM52 10h2v1h-2zM58 10h1v1h-1zM70 10h1v1h-1zM82 10h1v1h-1zM84 10h1v1h-1zM88 10h2v1h-2zM93 10h2v1h-2zM98 10h3v1h-3zM116 10h1v1h-1zM118 10h1v1h-1zM120 10h1v1h-1zM125 10h1v1h-1zM135 10h1v1h-1zM150 10h1v1h-1zM1 9h1v1h-1zM12 9h1v1h-1zM35 9h2v1h-2zM38 9h1v1h-1zM41 9h1v1h-1zM45 9h1v1h-1zM49 9h1v1h-1zM51 9h1v1h-1zM86 9h1v1h-1zM92 9h1v1h-1zM95 9h1v1h-1zM102 9h1v1h-1zM112 9h1v1h-1zM135 9h1v1h-1zM4 8h1v1h-1zM25 8h1v1h-1zM35 8h1v1h-1zM42 8h1v1h-1zM44 8h2v1h-2zM50 8h1v1h-1zM52 8h1v1h-1zM61 8h1v1h-1zM86 8h1v1h-1zM114 8h1v1h-1zM118 8h1v1h-1zM130 8h1v1h-1zM2 7h1v1h-1zM7 7h3v1h-3zM20 7h1v1h-1zM33 7h1v1h-1zM35 7h1v1h-1zM51 7h1v1h-1zM59 7h1v1h-1zM63 7h1v1h-1zM90 7h1v1h-1zM96 7h3v1h-3zM100 7h1v1h-1zM103 7h1v1h-1zM112 7h1v1h-1zM135 7h1v1h-1zM140 7h1v1h-1zM150 7h1v1h-1zM8 6h1v1h-1zM10 6h1v1h-1zM16 6h1v1h-1zM39 6h2v1h-2zM57 6h3v1h-3zM66 6h1v1h-1zM76 6h3v1h-3zM82 6h1v1h-1zM91 6h1v1h-1zM93 6h1v1h-1zM95 6h1v1h-1zM104 6h1v1h-1zM108 6h1v1h-1zM110 6h1v1h-1zM125 6h1v1h-1zM1 5h1v1h-1zM4 5h1v1h-1zM8 5h1v1h-1zM21 5h1v1h-1zM27 5h1v1h-1zM40 5h1v1h-1zM54 5h2v1h-2zM60 5h1v1h-1zM91 5h1v1h-1zM97 5h2v1h-2zM108 5h1v1h-1zM130 5h1v1h-1zM150 5h1v1h-1zM5 4h1v1h-1zM9 4h1v1h-1zM11 4h2v1h-2zM21 4h1v1h-1zM33 4h2v1h-2zM38 4h2v1h-2zM43 4h1v1h-1zM50 4h1v1h-1zM53 4h1v1h-1zM61 4h1v1h-1zM64 4h1v1h-1zM79 4h1v1h-1zM87 4h2v1h-2zM90 4h1v1h-1zM100 4h1v1h-1zM105 4h1v1h-1zM110 4h1v1h-1zM116 4h1v1h-1zM118 4h1v1h-1zM120 4h1v1h-1zM130 4h1v1h-1zM140 4h1v1h-1zM8 3h1v1h-1zM10 3h1v1h-1zM21 3h1v1h-1zM31 3h2v1h-2zM34 3h1v1h-1zM36 3h1v1h-1zM38 3h1v1h-1zM65 3h1v1h-1zM77 3h1v1h-1zM84 3h1v1h-1zM86 3h1v1h-1zM99 3h1v1h-1zM104 3h1v1h-1zM110 3h1v1h-1zM118 3h1v1h-1zM145 3h1v1h-1zM1 2h1v1h-1zM4 2h1v1h-1zM10 2h1v1h-1zM33 2h1v1h-1zM35 2h1v1h-1zM45 2h1v1h-1zM51 2h1v1h-1zM58 2h1v1h-1zM63 2h2v1h-2zM70 2h1v1h-1zM76 2h2v1h-2zM79 2h1v1h-1zM83 2h1v1h-1zM88 2h1v1h-1zM96 2h1v1h-1zM108 2h1v1h-1zM112 2h1v1h-1zM8 1h1v1h-1zM12 1h1v1h-1zM16 1h1v1h-1zM25 1h1v1h-1zM30 1h1v1h-1zM35 1h1v1h-1zM49 1h1v1h-1zM58 1h1v1h-1zM62 1h1v1h-1zM78 1h1v1h-1zM97 1h2v1h-2zM104 1h1v1h-1zM106 1h1v1h-1zM110 1h1v1h-1zM125 1h1v1h-1zM1 0h1v1h-1zM10 0h2v1h-2zM20 0h1v1h-1zM30 0h2v1h-2zM34 0h1v1h-1zM61 0h1v1h-1zM85 0h2v1h-2zM101 0h3v1h-3zM108 0h1v1h-1zM112 0h1v1h-1zM120 0h1v1h-1zM135 0h1v1h-1zM145 0h1v1h-1z"/>
<path fill="#481a6c" d="M10 394h1v1h-1zM53 394h1v1h-1zM5 393h1v1h-1zM19 392h1v1h-1zM10 391h1v1h-1zM14 391h2v1h-2zM55 391h1v1h-1zM82 391h1v1h-1zM86 391h1v1h-1zM16 390h1v1h-1zM51 390h1v1h-1zM55 390h1v1h-1zM68 390h1v1h-1zM120 390h1v1h-1zM51 389h3v1h-3zM55 389h1v1h-1zM68 389h1v1h-1zM91 389h1v1h-1zM104 389h1v1h-1zM7 388h1v1h-1zM24 388h1v1h-1zM32 388h1v1h-1zM44 388h1v1h-1zM99 388h1v1h-1zM4 387h1v1h-1zM17 387h1v1h-1zM22 387h1v1h-1zM25 387h1v1h-1zM41 387h1v1h-1zM49 387h1v1h-1zM58 387h1v1h-1zM68 387h1v1h-1zM79 387h2v1h-2zM83 387h1v1h-1zM86 387h1v1h-1zM90 387h2v1h-2zM104 387h1v1h-1zM135 387h1v1h-1zM8 386h1v1h-1zM11 386h2v1h-2zM26 386h1v1h-1zM29 386h1v1h-1zM34 386h1v1h-1zM38 386h1v1h-1zM71 386h1v1h-1zM73 386h1v1h-1zM75 386h1v1h-1zM85 386h2v1h-2zM91 386h1v1h-1zM94 386h1v1h-1zM110 386h1v1h-1zM10 385h1v1h-1zM14 385h2v1h-2zM41 385h1v1h-1zM45 385h2v1h-2zM56 385h1v1h-1zM64 385h2v1h-2zM70 385h1v1h-1zM77 385h1v1h-1zM82 385h1v1h-1zM93 385h2v1h-2zM7 384h1v1h-1zM12 384h1v1h-1zM16 384h1v1h-1zM35 384h1v1h-1zM44 384h2v1h-2zM53 384h1v1h-1zM57 384h1v1h-1zM71 384h2v1h-2zM74 384h1v1h-1zM85 384h1v1h-1zM91 384h1v1h-1zM98 384h1v1h-1zM9 383h2v1h-2zM18 383h1v1h-1zM22 383h1v1h-1zM24 383h1v1h-1zM26 383h1v1h-1zM36 383h1v1h-1zM40 383h4v1h-4zM51 383h1v1h-1zM68 383h1v1h-1zM81 383h1v1h-1zM91 383h1v1h-1zM94 383h1v1h-1zM101 383h3v1h-3zM112 383h1v1h-1zM30 382h1v1h-1zM37 382h3v1h-3zM70 382h1v1h-1zM98 382h1v1h-1zM145 382h1v1h-1zM2 381h2v1h-2zM15 381h1v1h-1zM17 381h2v1h-2zM36 381h1v1h-1zM39 381h1v1h-1zM56 381h1v1h-1zM60 381h1v1h-1zM62 381h1v1h-1zM81 381h1v1h-1zM99 381h1v1h-1zM102 381h1v1h-1zM108 381h1v1h-1zM110 381h1v1h-1zM22 380h1v1h-1zM25 380h1v1h-1zM41 380h1v1h-1zM45 380h1v1h-1zM48 380h1v1h-1zM58 380h2v1h-2zM63 380h1v1h-1zM72 380h2v1h-2zM75 380h1v1h-1zM77 380h1v1h-1zM83 380h1v1h-1zM87 380h1v1h-1zM140 380h1v1h-1zM0 379h1v1h-1zM7 379h1v1h-1zM13 379h2v1h-2zM19 379h1v1h-1zM39 379h1v1h-1zM46 379h1v1h-1zM55 379h1v1h-1zM58 379h1v1h-1zM60 379h2v1h-2zM66 379h1v1h-1zM72 379h2v1h-2zM80 379h2v1h-2zM86 379h1v1h-1zM96 379h1v1h-1zM104 379h1v1h-1zM125 379h1v1h-1zM135 379h1v1h-1zM140 379h1v1h-1zM9 378h1v1h-1zM12 378h2v1h-2zM23 378h1v1h-1zM28 378h1v1h-1zM39 378h1v1h-1zM58 378h2v1h-2zM80 378h1v1h-1zM83 378h1v1h-1zM95 378h1v1h-1zM110 378h1v1h-1zM150 378h1v1h-1zM3 377h2v1h-2zM15 377h1v1h-1zM27 377h2v1h-2zM38 377h1v1h-1zM48 377h1v1h-1zM53 377h1v1h-1zM79 377h1v1h-1zM87 377h1v1h-1zM95 377h1v1h-1zM99 377h1v1h-1zM102 377h1v1h-1zM1 376h1v1h-1zM11 376h1v1h-1zM35 376h1v1h-1zM51 376h1v1h-1zM66 376h1v1h-1zM75 376h1v1h-1zM79 376h1v1h-1zM81 376h1v1h-1zM86 376h1v1h-1zM89 376h2v1h-2zM97 376h1v1h-1zM101 376h4v1h-4zM125 376h1v1h-1zM130 376h1v1h-1zM1 375h1v1h-1zM14 375h2v1h-2zM23 375h1v1h-1zM26 375h1v1h-1zM44 375h2v1h-2zM48 375h2v1h-2zM57 375h1v1h-1zM62 375h1v1h-1zM68 375h2v1h-2zM79 375h1v1h-1zM82 375h1v1h-1zM85 375h1v1h-1zM90 375h1v1h-1zM106 375h1v1h-1zM120 375h1v1h-1zM130 375h1v1h-1zM6 374h1v1h-1zM8 374h1v1h-1zM20 374h1v1h-1zM28 374h1v1h-1zM30 374h2v1h-2zM38 374h2v1h-2zM44 374h1v1h-1zM49 374h1v1h-1zM51 374h1v1h-1zM64 374h1v1h-1zM71 374h1v1h-1zM87 374h2v1h-2zM92 374h1v1h-1zM95 374h1v1h-1zM112 374h1v1h-1zM130 374h1v1h-1zM6 373h1v1h-1zM14 373h1v1h-1zM30 373h1v1h-1zM42 373h1v1h-1zM47 373h1v1h-1zM75 373h1v1h-1zM81 373h1v1h-1zM89 373h2v1h-2zM94 373h1v1h-1zM99 373h1v1h-1zM108 373h1v1h-1zM110 373h1v1h-1zM120 373h1v1h-1zM4 372h1v1h-1zM6 372h1v1h-1zM19 372h2v1h-2zM36 372h1v1h-1zM42 372h1v1h-1zM44 372h1v1h-1zM51 372h1v1h-1zM71 372h1v1h-1zM77 372h1v1h-1zM79 372h2v1h-2zM86 372h1v1h-1zM98 372h3v1h-3zM106 372h1v1h-1zM108 372h1v1h-1zM145 372h1v1h-1zM5 371h1v1h-1zM14 371h1v1h-1zM20 371h1v1h-1zM28 371h1v1h-1zM34 371h1v1h-1zM50 371h1v1h-1zM54 371h1v1h-1zM60 371h1v1h-1zM65 371h2v1h-2zM76 371h1v1h-1zM80 371h2v1h-2zM90 371h1v1h-1zM102 371h3v1h-3zM114 371h1v1h-1zM118 371h1v1h-1zM145 371h1v1h-1zM4 370h1v1h-1zM14 370h1v1h-1zM22 370h1v1h-1zM28 370h1v1h-1zM44 370h1v1h-1zM47 370h2v1h-2zM50 370h1v1h-1zM55 370h1v1h-1zM57 370h1v1h-1zM65 370h1v1h-1zM69 370h1v1h-1zM2 369h2v1h-2zM5 369h1v1h-1zM41 369h1v1h-1zM46 369h1v1h-1zM51 369h1v1h-1zM54 369h1v1h-1zM71 369h1v1h-1zM85 369h3v1h-3zM90 369h2v1h-2zM95 369h1v1h-1zM98 369h1v1h-1zM100 369h1v1h-1zM0 368h1v1h-1zM2 368h1v1h-1zM6 368h1v1h-1zM9 368h1v1h-1zM11 368h1v1h-1zM21 368h2v1h-2zM24 368h2v1h-2zM28 368h1v1h-1zM47 368h2v1h-2zM54 368h1v1h-1zM61 368h1v1h-1zM88 368h1v1h-1zM100 368h1v1h-1zM102 368h1v1h-1zM104 368h1v1h-1zM114 368h1v1h-1zM11 367h3v1h-3zM17 367h1v1h-1zM27 367h1v1h-1zM38 367h1v1h-1zM58 367h1v1h-1zM63 367h1v1h-1zM65 367h1v1h-1zM68 367h2v1h-2zM71 367h1v1h-1zM74 367h2v1h-2zM81 367h1v1h-1zM83 367h1v1h-1zM91 367h1v1h-1zM100 367h1v1h-1zM106 367h1v1h-1zM112 367h1v1h-1zM140 367h1v1h-1zM3 366h1v1h-1zM11 366h1v1h-1zM33 366h2v1h-2zM36 366h1v1h-1zM48 366h1v1h-1zM57 366h1v1h-1zM59 366h1v1h-1zM97 366h1v1h-1zM112 366h1v1h-1zM140 366h1v1h-1zM25 365h1v1h-1zM30 365h1v1h-1zM34 365h1v1h-1zM41 365h1v1h-1zM53 365h1v1h-1zM60 365h1v1h-1zM65 365h1v1h-1zM71 365h2v1h-2zM86 365h1v1h-1zM90 365h1v1h-1zM98 365h1v1h-1zM145 365h1v1h-1zM150 365h1v1h-1zM24 364h1v1h-1zM35 364h1v1h-1zM37 364h1v1h-1zM48 364h1v1h-1zM59 364h1v1h-1zM73 364h1v1h-1zM78 364h1v1h-1zM81 364h1v1h-1zM100 364h1v1h-1zM106 364h1v1h-1zM114 364h1v1h-1zM118 364h1v1h-1zM7 363h2v1h-2zM18 363h1v1h-1zM20 363h1v1h-1zM25 363h2v1h-2zM40 363h2v1h-2zM50 363h1v1h-1zM56 363h1v1h-1zM60 363h1v1h-1zM77 363h1v1h-1zM91 363h1v1h-1zM95 363h1v1h-1zM97 363h2v1h-2zM7 362h1v1h-1zM9 362h1v1h-1zM26 362h1v1h-1zM28 362h1v1h-1zM35 362h1v1h-1zM48 362h1v1h-1zM52 362h1v1h-1zM65 362h1v1h-1zM76 362h1v1h-1zM78 362h2v1h-2zM87 362h1v1h-1zM103 362h1v1h-1zM108 362h1v1h-1zM116 362h1v1h-1zM13 361h1v1h-1zM22 361h2v1h-2zM33 361h1v1h-1zM55 361h2v1h-2zM68 361h1v1h-1zM80 361h2v1h-2zM90 361h1v1h-1zM99 361h1v1h-1zM118 361h1v1h-1zM24 360h1v1h-1zM28 360h1v1h-1zM47 360h1v1h-1zM57 360h1v1h-1zM59 360h1v1h-1zM68 360h1v1h-1zM81 360h4v1h-4zM112 360h1v1h-1zM17 359h1v1h-1zM25 359h1v1h-1zM30 359h2v1h-2zM33 359h1v1h-1zM39 359h2v1h-2zM43 359h1v1h-1zM48 359h1v1h-1zM50 359h1v1h-1zM59 359h1v1h-1zM74 359h2v1h-2zM83 359h1v1h-1zM91 359h2v1h-2zM95 359h1v1h-1zM104 359h1v1h-1zM108 359h1v1h-1zM114 359h1v1h-1zM1 358h1v1h-1zM18 358h1v1h-1zM25 358h1v1h-1zM52 358h1v1h-1zM61 358h1v1h-1zM63 358h1v1h-1zM67 358h1v1h-1zM75 358h1v1h-1zM89 358h1v1h-1zM94 358h2v1h-2zM118 358h1v1h-1zM30 357h1v1h-1zM34 357h1v1h-1zM39 357h1v1h-1zM58 357h2v1h-2zM62 357h1v1h-1zM64 357h3v1h-3zM78 357h2v1h-2zM83 357h1v1h-1zM90 357h1v1h-1zM102 357h1v1h-1zM105 357h1v1h-1zM130 357h1v1h-1zM10 356h1v1h-1zM16 356h1v1h-1zM18 356h1v1h-1zM29 356h1v1h-1zM34 356h1v1h-1zM37 356h1v1h-1zM39 356h1v1h-1zM51 356h1v1h-1zM62 356h1v1h-1zM65 356h1v1h-1zM72 356h1v1h-1zM74 356h1v1h-1zM80 356h1v1h-1zM85 356h2v1h-2zM98 356h1v1h-1zM104 356h1v1h-1zM112 356h1v1h-1zM118 356h1v1h-1zM2 355h1v1h-1zM8 355h1v1h-1zM16 355h1v1h-1zM30 355h1v1h-1zM34 355h1v1h-1zM36 355h2v1h-2zM40 355h1v1h-1zM47 355h2v1h-2zM54 355h1v1h-1zM57 355h1v1h-1zM60 355h2v1h-2zM87 355h1v1h-1zM91 355h2v1h-2zM95 355h1v1h-1zM104 355h1v1h-1zM112 355h1v1h-1zM114 355h1v1h-1zM116 355h1v1h-1zM0 354h1v1h-1zM10 354h1v1h-1zM12 354h2v1h-2zM29 354h1v1h-1zM32 354h1v1h-1zM41 354h3v1h-3zM47 354h1v1h-1zM54 354h3v1h-3zM58 354h2v1h-2zM82 354h7v1h-7zM102 354h1v1h-1zM130 354h1v1h-1zM150 354h1v1h-1zM10 353h1v1h-1zM26 353h2v1h-2zM30 353h1v1h-1zM37 353h1v1h-1zM41 353h1v1h-1zM43 353h1v1h-1zM49 353h1v1h-1zM55 353h1v1h-1zM68 353h1v1h-1zM79 353h1v1h-1zM82 353h1v1h-1zM89 353h1v1h-1zM91 353h1v1h-1zM100 353h1v1h-1zM105 353h1v1h-1zM116 353h1v1h-1zM1 352h1v1h-1zM3 352h1v1h-1zM20 352h2v1h-2zM25 352h2v1h-2zM36 352h2v1h-2zM51 352h1v1h-1zM55 352h2v1h-2zM60 352h1v1h-1zM72 352h2v1h-2zM81 352h1v1h-1zM89 352h3v1h-3zM103 352h1v1h-1zM114 352h1v1h-1zM2 351h1v1h-1zM5 351h1v1h-1zM10 351h1v1h-1zM20 351h1v1h-1zM26 351h1v1h-1zM40 351h2v1h-2zM45 351h1v1h-1zM50 351h1v1h-1zM52 351h1v1h-1zM60 351h1v1h-1zM74 351h2v1h-2zM79 351h1v1h-1zM90 351h2v1h-2zM94 351h1v1h-1zM116 351h1v1h-1zM120 351h1v1h-1zM145 351h1v1h-1zM11 350h1v1h-1zM25 350h2v1h-2zM28 350h1v1h-1zM43 350h1v1h-1zM49 350h2v1h-2zM54 350h2v1h-2zM60 350h1v1h-1zM63 350h2v1h-2zM69 350h1v1h-1zM79 350h2v1h-2zM82 350h1v1h-1zM89 350h1v1h-1zM99 350h1v1h-1zM135 350h1v1h-1zM5 349h1v1h-1zM13 349h1v1h-1zM24 349h1v1h-1zM70 349h2v1h-2zM94 349h1v1h-1zM100 349h1v1h-1zM108 349h1v1h-1zM0 348h1v1h-1zM25 348h1v1h-1zM33 348h4v1h-4zM43 348h1v1h-1zM54 348h1v1h-1zM56 348h1v1h-1zM58 348h1v1h-1zM60 348h1v1h-1zM63 348h2v1h-2zM69 348h1v1h-1zM79 348h2v1h-2zM84 348h2v1h-2zM88 348h1v1h-1zM103 348h1v1h-1zM130 348h1v1h-1zM145 348h1v1h-1zM5 347h1v1h-1zM7 347h2v1h-2zM14 347h1v1h-1zM20 347h1v1h-1zM37 347h2v1h-2zM40 347h1v1h-1zM45 347h1v1h-1zM54 347h2v1h-2zM59 347h2v1h-2zM64 347h1v1h-1zM80 347h3v1h-3zM90 347h1v1h-1zM92 347h2v1h-2zM99 347h1v1h-1zM102 347h1v1h-1zM114 347h1v1h-1zM8 346h1v1h-1zM14 346h1v1h-1zM16 346h1v1h-1zM56 346h2v1h-2zM60 346h1v1h-1zM64 346h1v1h-1zM68 346h2v1h-2zM79 346h1v1h-1zM82 346h1v1h-1zM102 346h1v1h-1zM125 346h1v1h-1zM25 345h1v1h-1zM30 345h1v1h-1zM37 345h1v1h-1zM48 345h1v1h-1zM57 345h1v1h-1zM66 345h1v1h-1zM75 345h2v1h-2zM79 345h1v1h-1zM85 345h1v1h-1zM89 345h1v1h-1zM92 345h1v1h-1zM106 345h1v1h-1zM140 345h1v1h-1zM150 345h1v1h-1zM0 344h1v1h-1zM11 344h2v1h-2zM27 344h1v1h-1zM33 344h1v1h-1zM38 344h1v1h-1zM48 344h1v1h-1zM51 344h1v1h-1zM61 344h1v1h-1zM77 344h1v1h-1zM79 344h1v1h-1zM82 344h1v1h-1zM94 344h1v1h-1zM99 344h1v1h-1zM104 344h1v1h-1zM106 344h1v1h-1zM145 344h1v1h-1zM6 343h1v1h-1zM31 343h1v1h-1zM34 343h3v1h-3zM39 343h1v1h-1zM43 343h3v1h-3zM60 343h1v1h-1zM64 343h1v1h-1zM75 343h1v1h-1zM81 343h1v1h-1zM97 343h1v1h-1zM102 343h1v1h-1zM104 343h1v1h-1zM114 343h1v1h-1zM4 342h1v1h-1zM11 342h1v1h-1zM23 342h1v1h-1zM36 342h2v1h-2zM49 342h1v1h-1zM53 342h1v1h-1zM55 342h1v1h-1zM58 342h1v1h-1zM61 342h1v1h-1zM74 342h1v1h-1zM79 342h3v1h-3zM85 342h1v1h-1zM94 342h1v1h-1zM103 342h1v1h-1zM108 342h1v1h-1zM150 342h1v1h-1zM0 341h1v1h-1zM2 341h1v1h-1zM17 341h1v1h-1zM20 341h2v1h-2zM36 341h1v1h-1zM39 341h1v1h-1zM57 341h1v1h-1zM65 341h1v1h-1zM92 341h1v1h-1zM96 341h1v1h-1zM4 340h1v1h-1zM6 340h1v1h-1zM12 340h1v1h-1zM46 340h2v1h-2zM49 340h1v1h-1zM60 340h1v1h-1zM80 340h1v1h-1zM89 340h1v1h-1zM91 340h1v1h-1zM102 340h1v1h-1zM104 340h1v1h-1zM125 340h1v1h-1zM4 339h2v1h-2zM7 339h1v1h-1zM10 339h1v1h-1zM14 339h1v1h-1zM20 339h1v1h-1zM23 339h1v1h-1zM25 339h1v1h-1zM32 339h1v1h-1zM61 339h1v1h-1zM66 339h1v1h-1zM73 339h1v1h-1zM78 339h1v1h-1zM85 339h2v1h-2zM99 339h2v1h-2zM102 339h1v1h-1zM104 339h2v1h-2zM112 339h1v1h-1zM5 338h2v1h-2zM9 338h1v1h-1zM15 338h1v1h-1zM20 338h1v1h-1zM25 338h1v1h-1zM31 338h1v1h-1zM36 338h1v1h-1zM51 338h1v1h-1zM62 338h4v1h-4zM76 338h1v1h-1zM88 338h2v1h-2zM93 338h2v1h-2zM98 338h1v1h-1zM110 338h1v1h-1zM10 337h2v1h-2zM21 337h1v1h-1zM24 337h1v1h-1zM46 337h1v1h-1zM56 337h1v1h-1zM61 337h2v1h-2zM64 337h1v1h-1zM68 337h1v1h-1zM76 337h1v1h-1zM83 337h1v1h-1zM86 337h2v1h-2zM90 337h2v1h-2zM110 337h1v1h-1zM116 337h1v1h-1zM140 337h1v1h-1zM145 337h1v1h-1zM9 336h2v1h-2zM17 336h1v1h-1zM47 336h3v1h-3zM54 336h1v1h-1zM59 336h1v1h-1zM64 336h2v1h-2zM75 336h1v1h-1zM80 336h1v1h-1zM86 336h1v1h-1zM92 336h1v1h-1zM104 336h1v1h-1zM116 336h1v1h-1zM135 336h1v1h-1zM145 336h1v1h-1zM0 335h1v1h-1zM9 335h2v1h-2zM20 335h1v1h-1zM28 335h1v1h-1zM34 335h1v1h-1zM42 335h1v1h-1zM44 335h1v1h-1zM47 335h1v1h-1zM49 335h1v1h-1zM56 335h1v1h-1zM58 335h1v1h-1zM69 335h2v1h-2zM72 335h2v1h-2zM79 335h1v1h-1zM82 335h1v1h-1zM93 335h2v1h-2zM96 335h1v1h-1zM102 335h1v1h-1zM106 335h1v1h-1zM145 335h1v1h-1zM2 334h1v1h-1zM13 334h1v1h-1zM18 334h1v1h-1zM41 334h1v1h-1zM55 334h1v1h-1zM60 334h1v1h-1zM65 334h1v1h-1zM72 334h1v1h-1zM83 334h2v1h-2zM120 334h1v1h-1zM130 334h1v1h-1zM6 333h1v1h-1zM17 333h1v1h-1zM20 333h1v1h-1zM27 333h1v1h-1zM38 333h1v1h-1zM58 333h1v1h-1zM64 333h1v1h-1zM74 333h1v1h-1zM76 333h1v1h-1zM85 333h1v1h-1zM90 333h1v1h-1zM99 333h1v1h-1zM101 333h1v1h-1zM145 333h1v1h-1zM1 332h1v1h-1zM5 332h1v1h-1zM7 332h2v1h-2zM11 332h1v1h-1zM18 332h3v1h-3zM27 332h1v1h-1zM41 332h1v1h-1zM47 332h1v1h-1zM49 332h2v1h-2zM52 332h1v1h-1zM58 332h1v1h-1zM61 332h1v1h-1zM67 332h1v1h-1zM71 332h1v1h-1zM74 332h3v1h-3zM90 332h1v1h-1zM100 332h1v1h-1zM103 332h1v1h-1zM106 332h1v1h-1zM120 332h1v1h-1zM125 332h1v1h-1zM145 332h1v1h-1zM14 331h1v1h-1zM34 331h1v1h-1zM55 331h1v1h-1zM58 331h1v1h-1zM68 331h1v1h-1zM70 331h1v1h-1zM84 331h1v1h-1zM87 331h2v1h-2zM105 331h1v1h-1zM112 331h1v1h-1zM116 331h1v1h-1zM118 331h1v1h-1zM120 331h1v1h-1zM135 331h1v1h-1zM10 330h3v1h-3zM18 330h1v1h-1zM25 330h1v1h-1zM27 330h1v1h-1zM52 330h1v1h-1zM57 330h2v1h-2zM69 330h2v1h-2zM77 330h1v1h-1zM85 330h1v1h-1zM88 330h1v1h-1zM130 330h1v1h-1zM135 330h1v1h-1zM1 329h1v1h-1zM23 329h1v1h-1zM33 329h1v1h-1zM36 329h1v1h-1zM43 329h1v1h-1zM48 329h2v1h-2zM55 329h1v1h-1zM73 329h1v1h-1zM80 329h1v1h-1zM97 329h1v1h-1zM99 329h1v1h-1zM106 329h1v1h-1zM112 329h1v1h-1zM125 329h1v1h-1zM130 329h1v1h-1zM11 328h2v1h-2zM26 328h1v1h-1zM30 328h1v1h-1zM32 328h1v1h-1zM34 328h1v1h-1zM52 328h1v1h-1zM55 328h1v1h-1zM59 328h2v1h-2zM63 328h1v1h-1zM79 328h1v1h-1zM90 328h1v1h-1zM93 328h2v1h-2zM106 328h1v1h-1zM14 327h1v1h-1zM23 327h1v1h-1zM26 327h1v1h-1zM31 327h1v1h-1zM33 327h1v1h-1zM39 327h1v1h-1zM42 327h1v1h-1zM44 327h1v1h-1zM50 327h1v1h-1zM74 327h1v1h-1zM88 327h1v1h-1zM92 327h1v1h-1zM97 327h1v1h-1zM104 327h1v1h-1zM125 327h1v1h-1zM150 327h1v1h-1zM3 326h1v1h-1zM22 326h1v1h-1zM25 326h1v1h-1zM80 326h1v1h-1zM85 326h2v1h-2zM93 326h3v1h-3zM130 326h1v1h-1zM4 325h1v1h-1zM16 325h1v1h-1zM29 325h1v1h-1zM35 325h1v1h-1zM41 325h1v1h-1zM64 325h2v1h-2zM81 325h1v1h-1zM94 325h1v1h-1zM96 325h1v1h-1zM99 325h1v1h-1zM135 325h1v1h-1zM10 324h2v1h-2zM19 324h1v1h-1zM47 324h1v1h-1zM55 324h1v1h-1zM57 324h3v1h-3zM70 324h1v1h-1zM78 324h1v1h-1zM87 324h2v1h-2zM91 324h1v1h-1zM96 324h1v1h-1zM99 324h1v1h-1zM103 324h2v1h-2zM110 324h1v1h-1zM118 324h1v1h-1zM135 324h1v1h-1zM150 324h1v1h-1zM15 323h1v1h-1zM23 323h2v1h-2zM38 323h1v1h-1zM40 323h1v1h-1zM42 323h1v1h-1zM52 323h1v1h-1zM68 323h1v1h-1zM76 323h2v1h-2zM94 323h1v1h-1zM97 323h1v1h-1zM145 323h1v1h-1zM5 322h1v1h-1zM13 322h1v1h-1zM27 322h1v1h-1zM34 322h1v1h-1zM69 322h1v1h-1zM71 322h1v1h-1zM75 322h1v1h-1zM79 322h1v1h-1zM81 322h1v1h-1zM83 322h1v1h-1zM120 322h1v1h-1zM135 322h1v1h-1zM140 322h1v1h-1zM2 321h1v1h-1zM9 321h1v1h-1zM30 321h2v1h-2zM38 321h2v1h-2zM69 321h1v1h-1zM76 321h1v1h-1zM78 321h1v1h-1zM81 321h1v1h-1zM90 321h1v1h-1zM92 321h1v1h-1zM98 321h2v1h-2zM102 321h1v1h-1zM108 321h1v1h-1zM114 321h1v1h-1zM135 321h1v1h-1zM11 320h1v1h-1zM15 320h1v1h-1zM18 320h2v1h-2zM42 320h1v1h-1zM46 320h1v1h-1zM53 320h1v1h-1zM58 320h1v1h-1zM66 320h1v1h-1zM73 320h1v1h-1zM76 320h1v1h-1zM96 320h1v1h-1zM150 320h1v1h-1zM42 319h1v1h-1zM60 319h1v1h-1zM68 319h1v1h-1zM80 319h1v1h-1zM86 319h1v1h-1zM95 319h1v1h-1zM98 319h1v1h-1zM106 319h1v1h-1zM114 319h1v1h-1zM4 318h1v1h-1zM11 318h1v1h-1zM24 318h1v1h-1zM50 318h2v1h-2zM59 318h3v1h-3zM64 318h1v1h-1zM72 318h2v1h-2zM100 318h1v1h-1zM103 318h1v1h-1zM116 318h1v1h-1zM14 317h1v1h-1zM27 317h1v1h-1zM34 317h1v1h-1zM38 317h1v1h-1zM43 317h1v1h-1zM50 317h1v1h-1zM52 317h1v1h-1zM54 317h1v1h-1zM63 317h1v1h-1zM75 317h1v1h-1zM93 317h1v1h-1zM104 317h1v1h-1zM106 317h1v1h-1zM108 317h1v1h-1zM110 317h1v1h-1zM112 317h1v1h-1zM125 317h1v1h-1zM130 317h1v1h-1zM2 316h1v1h-1zM10 316h1v1h-1zM15 316h2v1h-2zM18 316h1v1h-1zM21 316h2v1h-2zM42 316h1v1h-1zM54 316h1v1h-1zM68 316h1v1h-1zM75 316h1v1h-1zM78 316h1v1h-1zM89 316h1v1h-1zM96 316h1v1h-1zM105 316h1v1h-1zM116 316h1v1h-1zM140 316h1v1h-1zM2 315h1v1h-1zM35 315h2v1h-2zM49 315h1v1h-1zM59 315h1v1h-1zM64 315h1v1h-1zM68 315h2v1h-2zM72 315h1v1h-1zM75 315h2v1h-2zM83 315h1v1h-1zM86 315h1v1h-1zM103 315h1v1h-1zM145 315h1v1h-1zM1 314h2v1h-2zM6 314h1v1h-1zM10 314h1v1h-1zM32 314h2v1h-2zM41 314h1v1h-1zM73 314h1v1h-1zM77 314h1v1h-1zM79 314h1v1h-1zM86 314h1v1h-1zM96 314h1v1h-1zM106 314h1v1h-1zM118 314h1v1h-1zM130 314h1v1h-1zM135 314h1v1h-1zM4 313h1v1h-1zM11 313h1v1h-1zM17 313h1v1h-1zM21 313h1v1h-1zM31 313h1v1h-1zM37 313h1v1h-1zM45 313h1v1h-1zM54 313h1v1h-1zM58 313h1v1h-1zM67 313h1v1h-1zM70 313h1v1h-1zM75 313h1v1h-1zM78 313h1v1h-1zM80 313h1v1h-1zM83 313h1v1h-1zM93 313h1v1h-1zM101 313h4v1h-4zM112 313h1v1h-1zM11 312h1v1h-1zM16 312h1v1h-1zM22 312h1v1h-1zM29 312h1v1h-1zM48 312h1v1h-1zM54 312h1v1h-1zM58 312h1v1h-1zM60 312h1v1h-1zM63 312h1v1h-1zM65 312h1v1h-1zM97 312h2v1h-2zM101 312h1v1h-1zM6 311h2v1h-2zM11 311h2v1h-2zM22 311h2v1h-2zM28 311h1v1h-1zM36 311h1v1h-1zM48 311h1v1h-1zM58 311h3v1h-3zM71 311h1v1h-1zM78 311h1v1h-1zM86 311h1v1h-1zM88 311h1v1h-1zM91 311h1v1h-1zM96 311h1v1h-1zM104 311h1v1h-1zM108 311h1v1h-1zM23 310h1v1h-1zM28 310h1v1h-1zM34 310h1v1h-1zM40 310h2v1h-2zM48 310h1v1h-1zM71 310h2v1h-2zM84 310h1v1h-1zM87 310h1v1h-1zM90 310h1v1h-1zM97 310h1v1h-1zM100 310h1v1h-1zM108 310h1v1h-1zM112 310h1v1h-1zM4 309h1v1h-1zM21 309h1v1h-1zM29 309h2v1h-2zM39 309h1v1h-1zM48 309h3v1h-3zM64 309h1v1h-1zM68 309h1v1h-1zM73 309h2v1h-2zM82 309h1v1h-1zM91 309h1v1h-1zM97 309h1v1h-1zM99 309h1v1h-1zM104 309h2v1h-2zM4 308h2v1h-2zM13 308h2v1h-2zM30 308h1v1h-1zM34 308h1v1h-1zM45 308h1v1h-1zM62 308h1v1h-1zM72 308h1v1h-1zM89 308h1v1h-1zM91 308h1v1h-1zM102 308h1v1h-1zM2 307h1v1h-1zM26 307h2v1h-2zM29 307h1v1h-1zM31 307h1v1h-1zM44 307h1v1h-1zM52 307h1v1h-1zM70 307h2v1h-2zM81 307h1v1h-1zM88 307h1v1h-1zM108 307h1v1h-1zM114 307h1v1h-1zM7 306h2v1h-2zM12 306h2v1h-2zM33 306h1v1h-1zM48 306h1v1h-1zM54 306h1v1h-1zM83 306h1v1h-1zM93 306h1v1h-1zM102 306h1v1h-1zM106 306h1v1h-1zM10 305h1v1h-1zM28 305h1v1h-1zM61 305h1v1h-1zM67 305h1v1h-1zM71 305h1v1h-1zM74 305h2v1h-2zM84 305h1v1h-1zM86 305h1v1h-1zM89 305h2v1h-2zM110 305h1v1h-1zM145 305h1v1h-1zM20 304h1v1h-1zM27 304h1v1h-1zM32 304h2v1h-2zM69 304h1v1h-1zM73 304h2v1h-2zM84 304h1v1h-1zM90 304h1v1h-1zM1 303h1v1h-1zM8 303h1v1h-1zM12 303h3v1h-3zM28 303h1v1h-1zM33 303h1v1h-1zM37 303h1v1h-1zM39 303h1v1h-1zM55 303h1v1h-1zM57 303h1v1h-1zM64 303h1v1h-1zM75 303h1v1h-1zM82 303h1v1h-1zM94 303h2v1h-2zM104 303h1v1h-1zM130 303h1v1h-1zM135 303h1v1h-1zM140 303h1v1h-1zM16 302h1v1h-1zM24 302h1v1h-1zM32 302h1v1h-1zM37 302h2v1h-2zM45 302h1v1h-1zM48 302h1v1h-1zM58 302h1v1h-1zM64 302h1v1h-1zM67 302h1v1h-1zM75 302h2v1h-2zM84 302h1v1h-1zM98 302h1v1h-1zM114 302h1v1h-1zM125 302h1v1h-1zM130 302h1v1h-1zM140 302h1v1h-1zM7 301h1v1h-1zM15 301h2v1h-2zM28 301h1v1h-1zM50 301h1v1h-1zM62 301h1v1h-1zM64 301h1v1h-1zM66 301h1v1h-1zM76 301h2v1h-2zM81 301h2v1h-2zM90 301h1v1h-1zM94 301h1v1h-1zM99 301h2v1h-2zM140 301h1v1h-1zM5 300h1v1h-1zM7 300h1v1h-1zM17 300h1v1h-1zM20 300h1v1h-1zM23 300h1v1h-1zM31 300h1v1h-1zM35 300h1v1h-1zM47 300h1v1h-1zM55 300h1v1h-1zM74 300h2v1h-2zM82 300h2v1h-2zM97 300h1v1h-1zM112 300h1v1h-1zM10 299h1v1h-1zM14 299h1v1h-1zM20 299h1v1h-1zM22 299h1v1h-1zM27 299h1v1h-1zM33 299h1v1h-1zM44 299h3v1h-3zM48 299h1v1h-1zM53 299h2v1h-2zM67 299h2v1h-2zM71 299h1v1h-1zM73 299h1v1h-1zM75 299h1v1h-1zM83 299h1v1h-1zM94 299h1v1h-1zM103 299h1v1h-1zM112 299h1v1h-1zM120 299h1v1h-1zM6 298h1v1h-1zM15 298h1v1h-1zM21 298h1v1h-1zM23 298h2v1h-2zM32 298h1v1h-1zM43 298h1v1h-1zM46 298h1v1h-1zM57 298h1v1h-1zM69 298h5v1h-5zM85 298h2v1h-2zM94 298h2v1h-2zM100 298h1v1h-1zM102 298h1v1h-1zM116 298h1v1h-1zM5 297h1v1h-1zM12 297h1v1h-1zM14 297h1v1h-1zM43 297h1v1h-1zM48 297h1v1h-1zM56 297h1v1h-1zM74 297h1v1h-1zM90 297h1v1h-1zM92 297h1v1h-1zM114 297h1v1h-1zM120 297h1v1h-1zM7 296h1v1h-1zM31 296h2v1h-2zM34 296h1v1h-1zM36 296h1v1h-1zM45 296h1v1h-1zM52 296h1v1h-1zM56 296h1v1h-1zM69 296h1v1h-1zM77 296h1v1h-1zM86 296h1v1h-1zM89 296h1v1h-1zM92 296h1v1h-1zM118 296h1v1h-1zM130 296h1v1h-1zM14 295h3v1h-3zM26 295h1v1h-1zM31 295h1v1h-1zM47 295h1v1h-1zM49 295h1v1h-1zM52 295h1v1h-1zM61 295h2v1h-2zM73 295h1v1h-1zM82 295h1v1h-1zM85 295h1v1h-1zM89 295h1v1h-1zM98 295h2v1h-2zM145 295h1v1h-1zM3 294h1v1h-1zM13 294h2v1h-2zM31 294h1v1h-1zM33 294h1v1h-1zM41 294h1v1h-1zM46 294h2v1h-2zM77 294h2v1h-2zM80 294h1v1h-1zM105 294h1v1h-1zM118 294h1v1h-1zM120 294h1v1h-1zM140 294h1v1h-1zM3 293h1v1h-1zM9 293h1v1h-1zM14 293h1v1h-1zM20 293h1v1h-1zM25 293h2v1h-2zM33 293h1v1h-1zM35 293h1v1h-1zM52 293h1v1h-1zM55 293h1v1h-1zM59 293h1v1h-1zM62 293h1v1h-1zM72 293h1v1h-1zM75 293h1v1h-1zM79 293h1v1h-1zM83 293h1v1h-1zM92 293h1v1h-1zM95 293h1v1h-1zM98 293h1v1h-1zM106 293h1v1h-1zM3 292h1v1h-1zM5 292h1v1h-1zM12 292h1v1h-1zM14 292h1v1h-1zM32 292h1v1h-1zM38 292h1v1h-1zM41 292h1v1h-1zM52 292h2v1h-2zM63 292h1v1h-1zM65 292h1v1h-1zM68 292h2v1h-2zM74 292h1v1h-1zM81 292h1v1h-1zM92 292h1v1h-1zM97 292h1v1h-1zM100 292h1v1h-1zM105 292h1v1h-1zM135 292h1v1h-1zM145 292h1v1h-1zM7 291h3v1h-3zM21 291h2v1h-2zM44 291h1v1h-1zM49 291h2v1h-2zM61 291h1v1h-1zM65 291h1v1h-1zM67 291h1v1h-1zM77 291h1v1h-1zM93 291h1v1h-1zM95 291h1v1h-1zM97 291h1v1h-1zM120 291h1v1h-1zM125 291h1v1h-1zM3 290h1v1h-1zM10 290h3v1h-3zM15 290h1v1h-1zM23 290h1v1h-1zM26 290h1v1h-1zM28 290h1v1h-1zM35 290h1v1h-1zM41 290h1v1h-1zM49 290h1v1h-1zM56 290h2v1h-2zM61 290h1v1h-1zM77 290h1v1h-1zM94 290h1v1h-1zM100 290h1v1h-1zM103 290h1v1h-1zM145 290h1v1h-1zM6 289h1v1h-1zM8 289h1v1h-1zM13 289h1v1h-1zM17 289h1v1h-1zM29 289h1v1h-1zM34 289h1v1h-1zM40 289h1v1h-1zM47 289h1v1h-1zM51 289h1v1h-1zM55 289h1v1h-1zM68 289h2v1h-2zM73 289h1v1h-1zM79 289h1v1h-1zM84 289h1v1h-1zM94 289h2v1h-2zM97 289h1v1h-1zM103 289h1v1h-1zM106 289h1v1h-1zM116 289h1v1h-1zM4 288h1v1h-1zM6 288h1v1h-1zM15 288h1v1h-1zM20 288h1v1h-1zM25 288h1v1h-1zM27 288h1v1h-1zM43 288h3v1h-3zM58 288h1v1h-1zM79 288h1v1h-1zM81 288h1v1h-1zM88 288h2v1h-2zM101 288h1v1h-1zM135 288h1v1h-1zM10 287h1v1h-1zM12 287h1v1h-1zM37 287h1v1h-1zM60 287h1v1h-1zM65 287h1v1h-1zM71 287h1v1h-1zM77 287h1v1h-1zM81 287h1v1h-1zM87 287h1v1h-1zM102 287h1v1h-1zM114 287h1v1h-1zM1 286h1v1h-1zM7 286h1v1h-1zM10 286h1v1h-1zM15 286h1v1h-1zM18 286h1v1h-1zM21 286h1v1h-1zM30 286h2v1h-2zM33 286h1v1h-1zM49 286h1v1h-1zM63 286h1v1h-1zM72 286h1v1h-1zM80 286h1v1h-1zM82 286h1v1h-1zM91 286h1v1h-1zM101 286h1v1h-1zM104 286h1v1h-1zM116 286h1v1h-1zM12 285h1v1h-1zM14 285h1v1h-1zM31 285h1v1h-1zM41 285h1v1h-1zM50 285h2v1h-2zM59 285h2v1h-2zM64 285h1v1h-1zM67 285h1v1h-1zM69 285h2v1h-2zM73 285h2v1h-2zM84 285h1v1h-1zM87 285h2v1h-2zM90 285h1v1h-1zM96 285h1v1h-1zM103 285h1v1h-1zM1 284h1v1h-1zM3 284h2v1h-2zM10 284h1v1h-1zM43 284h1v1h-1zM46 284h1v1h-1zM52 284h1v1h-1zM56 284h1v1h-1zM58 284h1v1h-1zM60 284h1v1h-1zM67 284h1v1h-1zM72 284h1v1h-1zM75 284h1v1h-1zM82 284h2v1h-2zM89 284h1v1h-1zM91 284h3v1h-3zM103 284h2v1h-2zM135 284h1v1h-1zM13 283h1v1h-1zM17 283h1v1h-1zM23 283h1v1h-1zM30 283h1v1h-1zM34 283h1v1h-1zM39 283h1v1h-1zM48 283h2v1h-2zM51 283h1v1h-1zM60 283h1v1h-1zM96 283h1v1h-1zM101 283h1v1h-1zM9 282h1v1h-1zM11 282h1v1h-1zM23 282h1v1h-1zM34 282h1v1h-1zM47 282h1v1h-1zM55 282h1v1h-1zM67 282h1v1h-1zM73 282h1v1h-1zM83 282h1v1h-1zM110 282h1v1h-1zM114 282h1v1h-1zM125 282h1v1h-1zM130 282h1v1h-1zM12 281h1v1h-1zM20 281h2v1h-2zM23 281h1v1h-1zM47 281h1v1h-1zM55 281h1v1h-1zM73 281h1v1h-1zM77 281h1v1h-1zM80 281h1v1h-1zM96 281h2v1h-2zM100 281h1v1h-1zM108 281h1v1h-1zM110 281h1v1h-1zM135 281h1v1h-1zM145 281h1v1h-1zM0 280h2v1h-2zM10 280h1v1h-1zM15 280h1v1h-1zM31 280h1v1h-1zM36 280h2v1h-2zM50 280h1v1h-1zM55 280h1v1h-1zM65 280h1v1h-1zM70 280h1v1h-1zM75 280h1v1h-1zM81 280h1v1h-1zM89 280h1v1h-1zM94 280h1v1h-1zM116 280h1v1h-1zM8 279h1v1h-1zM15 279h1v1h-1zM18 279h3v1h-3zM22 279h2v1h-2zM29 279h1v1h-1zM66 279h1v1h-1zM68 279h1v1h-1zM74 279h1v1h-1zM81 279h1v1h-1zM104 279h1v1h-1zM110 279h1v1h-1zM135 279h1v1h-1zM1 278h1v1h-1zM6 278h1v1h-1zM14 278h1v1h-1zM18 278h1v1h-1zM30 278h1v1h-1zM43 278h1v1h-1zM47 278h1v1h-1zM49 278h1v1h-1zM65 278h1v1h-1zM68 278h1v1h-1zM72 278h1v1h-1zM75 278h1v1h-1zM77 278h1v1h-1zM82 278h1v1h-1zM84 278h1v1h-1zM87 278h1v1h-1zM91 278h1v1h-1zM105 278h1v1h-1zM112 278h1v1h-1zM114 278h1v1h-1zM118 278h1v1h-1zM130 278h1v1h-1zM135 278h1v1h-1zM0 277h2v1h-2zM5 277h1v1h-1zM10 277h1v1h-1zM18 277h1v1h-1zM20 277h1v1h-1zM41 277h1v1h-1zM43 277h2v1h-2zM67 277h1v1h-1zM79 277h1v1h-1zM84 277h1v1h-1zM87 277h1v1h-1zM108 277h1v1h-1zM140 277h1v1h-1zM145 277h1v1h-1zM1 276h1v1h-1zM6 276h1v1h-1zM13 276h1v1h-1zM20 276h1v1h-1zM23 276h1v1h-1zM35 276h1v1h-1zM38 276h1v1h-1zM43 276h1v1h-1zM50 276h1v1h-1zM55 276h2v1h-2zM95 276h1v1h-1zM101 276h1v1h-1zM108 276h1v1h-1zM150 276h1v1h-1zM16 275h2v1h-2zM22 275h2v1h-2zM44 275h1v1h-1zM46 275h1v1h-1zM51 275h2v1h-2zM55 275h2v1h-2zM69 275h1v1h-1zM71 275h1v1h-1zM78 275h1v1h-1zM84 275h1v1h-1zM91 275h1v1h-1zM99 275h1v1h-1zM9 274h1v1h-1zM11 274h1v1h-1zM22 274h2v1h-2zM33 274h2v1h-2zM42 274h1v1h-1zM52 274h1v1h-1zM62 274h1v1h-1zM72 274h1v1h-1zM83 274h1v1h-1zM114 274h1v1h-1zM1 273h1v1h-1zM9 273h2v1h-2zM18 273h1v1h-1zM41 273h1v1h-1zM49 273h1v1h-1zM62 273h1v1h-1zM64 273h1v1h-1zM67 273h2v1h-2zM72 273h1v1h-1zM74 273h1v1h-1zM76 273h1v1h-1zM82 273h1v1h-1zM85 273h1v1h-1zM108 273h1v1h-1zM110 273h1v1h-1zM15 272h1v1h-1zM21 272h1v1h-1zM35 272h1v1h-1zM43 272h1v1h-1zM47 272h1v1h-1zM49 272h1v1h-1zM52 272h1v1h-1zM54 272h1v1h-1zM61 272h1v1h-1zM84 272h1v1h-1zM99 272h1v1h-1zM104 272h1v1h-1zM125 272h1v1h-1zM8 271h1v1h-1zM14 271h1v1h-1zM25 271h2v1h-2zM31 271h1v1h-1zM49 271h2v1h-2zM53 271h1v1h-1zM59 271h2v1h-2zM75 271h1v1h-1zM77 271h1v1h-1zM85 271h1v1h-1zM94 271h1v1h-1zM97 271h1v1h-1zM102 271h1v1h-1zM104 271h1v1h-1zM112 271h1v1h-1zM31 270h2v1h-2zM34 270h1v1h-1zM41 270h1v1h-1zM44 270h1v1h-1zM46 270h1v1h-1zM51 270h2v1h-2zM56 270h2v1h-2zM61 270h1v1h-1zM71 270h1v1h-1zM83 270h1v1h-1zM87 270h1v1h-1zM98 270h1v1h-1zM125 270h1v1h-1zM11 269h1v1h-1zM21 269h2v1h-2zM30 269h1v1h-1zM34 269h1v1h-1zM41 269h1v1h-1zM43 269h1v1h-1zM48 269h1v1h-1zM61 269h3v1h-3zM71 269h2v1h-2zM78 269h1v1h-1zM87 269h1v1h-1zM90 269h1v1h-1zM99 269h1v1h-1zM118 269h1v1h-1zM0 268h1v1h-1zM4 268h1v1h-1zM37 268h3v1h-3zM45 268h1v1h-1zM48 268h1v1h-1zM54 268h2v1h-2zM59 268h1v1h-1zM61 268h1v1h-1zM66 268h1v1h-1zM81 268h1v1h-1zM92 268h1v1h-1zM98 268h1v1h-1zM101 268h1v1h-1zM105 268h1v1h-1zM116 268h1v1h-1zM150 268h1v1h-1zM16 267h1v1h-1zM36 267h2v1h-2zM79 267h1v1h-1zM81 267h1v1h-1zM83 267h2v1h-2zM86 267h2v1h-2zM94 267h1v1h-1zM97 267h1v1h-1zM104 267h1v1h-1zM9 266h1v1h-1zM13 266h3v1h-3zM20 266h1v1h-1zM25 266h1v1h-1zM36 266h1v1h-1zM40 266h1v1h-1zM48 266h2v1h-2zM60 266h1v1h-1zM62 266h2v1h-2zM70 266h1v1h-1zM84 266h1v1h-1zM92 266h1v1h-1zM102 266h1v1h-1zM130 266h1v1h-1zM140 266h1v1h-1zM21 265h2v1h-2zM25 265h1v1h-1zM29 265h1v1h-1zM40 265h1v1h-1zM46 265h1v1h-1zM52 265h1v1h-1zM61 265h1v1h-1zM73 265h1v1h-1zM108 265h1v1h-1zM112 265h1v1h-1zM5 264h1v1h-1zM12 264h1v1h-1zM19 264h1v1h-1zM22 264h1v1h-1zM28 264h1v1h-1zM32 264h1v1h-1zM34 264h2v1h-2zM37 264h1v1h-1zM42 264h1v1h-1zM48 264h3v1h-3zM58 264h2v1h-2zM67 264h2v1h-2zM74 264h1v1h-1zM85 264h1v1h-1zM112 264h1v1h-1zM150 264h1v1h-1zM20 263h1v1h-1zM24 263h1v1h-1zM26 263h1v1h-1zM30 263h2v1h-2zM37 263h1v1h-1zM41 263h1v1h-1zM60 263h2v1h-2zM65 263h1v1h-1zM68 263h1v1h-1zM70 263h2v1h-2zM73 263h1v1h-1zM77 263h2v1h-2zM81 263h2v1h-2zM89 263h2v1h-2zM103 263h2v1h-2zM112 263h1v1h-1zM140 263h1v1h-1zM2 262h1v1h-1zM10 262h2v1h-2zM14 262h2v1h-2zM33 262h1v1h-1zM42 262h2v1h-2zM45 262h1v1h-1zM66 262h1v1h-1zM72 262h1v1h-1zM74 262h1v1h-1zM79 262h1v1h-1zM81 262h1v1h-1zM84 262h1v1h-1zM93 262h1v1h-1zM96 262h1v1h-1zM108 262h1v1h-1zM116 262h1v1h-1zM120 262h1v1h-1zM125 262h1v1h-1zM2 261h1v1h-1zM5 261h2v1h-2zM8 261h1v1h-1zM17 261h1v1h-1zM36 261h1v1h-1zM44 261h1v1h-1zM52 261h1v1h-1zM55 261h2v1h-2zM68 261h2v1h-2zM73 261h1v1h-1zM77 261h1v1h-1zM79 261h1v1h-1zM88 261h1v1h-1zM90 261h1v1h-1zM94 261h1v1h-1zM96 261h1v1h-1zM104 261h1v1h-1zM125 261h1v1h-1zM135 261h1v1h-1zM140 261h1v1h-1zM5 260h1v1h-1zM9 260h1v1h-1zM13 260h1v1h-1zM15 260h1v1h-1zM29 260h1v1h-1zM39 260h2v1h-2zM51 260h1v1h-1zM59 260h1v1h-1zM66 260h1v1h-1zM75 260h1v1h-1zM77 260h1v1h-1zM86 260h1v1h-1zM89 260h1v1h-1zM96 260h1v1h-1zM98 260h2v1h-2zM101 260h1v1h-1zM103 260h1v1h-1zM106 260h1v1h-1zM108 260h1v1h-1zM4 259h1v1h-1zM19 259h1v1h-1zM32 259h1v1h-1zM34 259h1v1h-1zM41 259h2v1h-2zM46 259h2v1h-2zM71 259h1v1h-1zM73 259h3v1h-3zM79 259h1v1h-1zM94 259h1v1h-1zM98 259h1v1h-1zM118 259h1v1h-1zM130 259h1v1h-1zM135 259h1v1h-1zM3 258h1v1h-1zM25 258h2v1h-2zM33 258h1v1h-1zM48 258h1v1h-1zM59 258h2v1h-2zM66 258h1v1h-1zM80 258h1v1h-1zM84 258h1v1h-1zM93 258h2v1h-2zM97 258h1v1h-1zM100 258h2v1h-2zM112 258h1v1h-1zM120 258h1v1h-1zM145 258h1v1h-1zM6 257h1v1h-1zM15 257h1v1h-1zM24 257h1v1h-1zM27 257h1v1h-1zM32 257h1v1h-1zM37 257h1v1h-1zM40 257h1v1h-1zM45 257h1v1h-1zM48 257h1v1h-1zM51 257h1v1h-1zM54 257h2v1h-2zM58 257h3v1h-3zM70 257h2v1h-2zM76 257h1v1h-1zM81 257h1v1h-1zM84 257h1v1h-1zM88 257h1v1h-1zM90 257h1v1h-1zM114 257h1v1h-1zM135 257h1v1h-1zM7 256h1v1h-1zM15 256h3v1h-3zM19 256h1v1h-1zM25 256h2v1h-2zM29 256h2v1h-2zM42 256h1v1h-1zM46 256h1v1h-1zM49 256h1v1h-1zM55 256h1v1h-1zM59 256h1v1h-1zM70 256h1v1h-1zM78 256h1v1h-1zM81 256h4v1h-4zM98 256h1v1h-1zM102 256h2v1h-2zM6 255h1v1h-1zM19 255h1v1h-1zM26 255h1v1h-1zM28 255h1v1h-1zM32 255h1v1h-1zM42 255h1v1h-1zM72 255h3v1h-3zM85 255h1v1h-1zM89 255h1v1h-1zM100 255h1v1h-1zM106 255h1v1h-1zM116 255h1v1h-1zM120 255h1v1h-1zM150 255h1v1h-1zM4 254h2v1h-2zM16 254h1v1h-1zM24 254h1v1h-1zM27 254h1v1h-1zM31 254h1v1h-1zM36 254h1v1h-1zM42 254h1v1h-1zM68 254h1v1h-1zM70 254h1v1h-1zM73 254h1v1h-1zM76 254h3v1h-3zM95 254h1v1h-1zM98 254h1v1h-1zM105 254h1v1h-1zM108 254h1v1h-1zM110 254h1v1h-1zM114 254h1v1h-1zM120 254h1v1h-1zM125 254h1v1h-1zM2 253h1v1h-1zM11 253h1v1h-1zM23 253h1v1h-1zM30 253h1v1h-1zM44 253h3v1h-3zM56 253h1v1h-1zM66 253h1v1h-1zM73 253h1v1h-1zM84 253h2v1h-2zM94 253h1v1h-1zM110 253h1v1h-1zM120 253h1v1h-1zM19 252h1v1h-1zM25 252h1v1h-1zM28 252h1v1h-1zM32 252h2v1h-2zM38 252h2v1h-2zM52 252h3v1h-3zM58 252h1v1h-1zM60 252h1v1h-1zM66 252h1v1h-1zM69 252h2v1h-2zM80 252h1v1h-1zM95 252h1v1h-1zM99 252h2v1h-2zM106 252h1v1h-1zM118 252h1v1h-1zM150 252h1v1h-1zM0 251h1v1h-1zM4 251h1v1h-1zM8 251h1v1h-1zM11 251h1v1h-1zM14 251h1v1h-1zM26 251h1v1h-1zM30 251h1v1h-1zM50 251h1v1h-1zM53 251h1v1h-1zM59 251h1v1h-1zM63 251h1v1h-1zM72 251h1v1h-1zM74 251h1v1h-1zM78 251h1v1h-1zM81 251h1v1h-1zM90 251h2v1h-2zM102 251h1v1h-1zM106 251h1v1h-1zM118 251h1v1h-1zM125 251h1v1h-1zM11 250h1v1h-1zM20 250h1v1h-1zM23 250h2v1h-2zM52 250h1v1h-1zM72 250h1v1h-1zM82 250h1v1h-1zM84 250h1v1h-1zM97 250h2v1h-2zM105 250h1v1h-1zM112 250h1v1h-1zM6 249h1v1h-1zM17 249h1v1h-1zM30 249h1v1h-1zM33 249h1v1h-1zM36 249h1v1h-1zM58 249h1v1h-1zM66 249h1v1h-1zM75 249h2v1h-2zM86 249h1v1h-1zM100 249h1v1h-1zM103 249h1v1h-1zM118 249h1v1h-1zM120 249h1v1h-1zM5 248h1v1h-1zM21 248h1v1h-1zM26 248h2v1h-2zM50 248h1v1h-1zM55 248h1v1h-1zM72 248h2v1h-2zM80 248h3v1h-3zM88 248h1v1h-1zM100 248h1v1h-1zM114 248h1v1h-1zM0 247h1v1h-1zM7 247h1v1h-1zM16 247h2v1h-2zM24 247h1v1h-1zM27 247h1v1h-1zM32 247h1v1h-1zM41 247h1v1h-1zM50 247h2v1h-2zM53 247h2v1h-2zM59 247h1v1h-1zM62 247h1v1h-1zM70 247h1v1h-1zM74 247h1v1h-1zM84 247h3v1h-3zM88 247h1v1h-1zM98 247h1v1h-1zM10 246h2v1h-2zM30 246h1v1h-1zM40 246h1v1h-1zM42 246h1v1h-1zM44 246h1v1h-1zM46 246h1v1h-1zM56 246h2v1h-2zM64 246h1v1h-1zM68 246h1v1h-1zM72 246h1v1h-1zM74 246h1v1h-1zM79 246h1v1h-1zM89 246h2v1h-2zM104 246h1v1h-1zM118 246h1v1h-1zM145 246h1v1h-1zM4 245h2v1h-2zM17 245h1v1h-1zM20 245h1v1h-1zM25 245h1v1h-1zM27 245h3v1h-3zM33 245h2v1h-2zM38 245h1v1h-1zM43 245h1v1h-1zM45 245h1v1h-1zM52 245h1v1h-1zM68 245h1v1h-1zM72 245h1v1h-1zM75 245h1v1h-1zM108 245h1v1h-1zM116 245h1v1h-1zM145 245h1v1h-1zM8 244h1v1h-1zM12 244h2v1h-2zM15 244h1v1h-1zM21 244h1v1h-1zM24 244h1v1h-1zM29 244h1v1h-1zM56 244h1v1h-1zM60 244h1v1h-1zM63 244h1v1h-1zM68 244h2v1h-2zM74 244h1v1h-1zM83 244h1v1h-1zM92 244h2v1h-2zM130 244h1v1h-1zM3 243h1v1h-1zM5 243h1v1h-1zM7 243h1v1h-1zM25 243h1v1h-1zM27 243h1v1h-1zM32 243h1v1h-1zM42 243h1v1h-1zM54 243h1v1h-1zM58 243h1v1h-1zM60 243h1v1h-1zM62 243h1v1h-1zM67 243h1v1h-1zM70 243h1v1h-1zM75 243h1v1h-1zM78 243h1v1h-1zM87 243h1v1h-1zM98 243h3v1h-3zM103 243h1v1h-1zM130 243h1v1h-1zM34 242h1v1h-1zM40 242h1v1h-1zM56 242h1v1h-1zM63 242h1v1h-1zM68 242h1v1h-1zM70 242h2v1h-2zM77 242h1v1h-1zM84 242h1v1h-1zM92 242h1v1h-1zM100 242h1v1h-1zM114 242h1v1h-1zM116 242h1v1h-1zM150 242h1v1h-1zM5 241h1v1h-1zM38 241h1v1h-1zM54 241h1v1h-1zM65 241h1v1h-1zM71 241h1v1h-1zM79 241h1v1h-1zM83 241h1v1h-1zM90 241h1v1h-1zM106 241h1v1h-1zM110 241h1v1h-1zM150 241h1v1h-1zM12 240h1v1h-1zM15 240h2v1h-2zM23 240h1v1h-1zM28 240h1v1h-1zM31 240h1v1h-1zM36 240h1v1h-1zM38 240h1v1h-1zM45 240h1v1h-1zM68 240h1v1h-1zM78 240h1v1h-1zM80 240h1v1h-1zM86 240h1v1h-1zM89 240h1v1h-1zM97 240h1v1h-1zM118 240h1v1h-1zM7 239h1v1h-1zM14 239h1v1h-1zM28 239h2v1h-2zM35 239h1v1h-1zM37 239h1v1h-1zM61 239h1v1h-1zM75 239h1v1h-1zM81 239h1v1h-1zM92 239h1v1h-1zM150 239h1v1h-1zM10 238h1v1h-1zM36 238h1v1h-1zM39 238h1v1h-1zM48 238h1v1h-1zM50 238h1v1h-1zM52 238h1v1h-1zM61 238h1v1h-1zM66 238h1v1h-1zM69 238h1v1h-1zM81 238h1v1h-1zM7 237h1v1h-1zM9 237h1v1h-1zM18 237h1v1h-1zM39 237h1v1h-1zM43 237h1v1h-1zM47 237h1v1h-1zM61 237h1v1h-1zM74 237h1v1h-1zM80 237h1v1h-1zM98 237h1v1h-1zM108 237h1v1h-1zM114 237h1v1h-1zM116 237h1v1h-1zM145 237h1v1h-1zM3 236h1v1h-1zM9 236h1v1h-1zM15 236h1v1h-1zM35 236h1v1h-1zM46 236h1v1h-1zM54 236h1v1h-1zM59 236h2v1h-2zM64 236h1v1h-1zM70 236h1v1h-1zM81 236h1v1h-1zM83 236h1v1h-1zM99 236h1v1h-1zM104 236h1v1h-1zM118 236h1v1h-1zM120 236h1v1h-1zM125 236h1v1h-1zM140 236h1v1h-1zM18 235h1v1h-1zM21 235h1v1h-1zM25 235h1v1h-1zM35 235h2v1h-2zM48 235h2v1h-2zM51 235h1v1h-1zM54 235h1v1h-1zM59 235h1v1h-1zM63 235h2v1h-2zM68 235h1v1h-1zM72 235h1v1h-1zM74 235h1v1h-1zM80 235h1v1h-1zM87 235h1v1h-1zM92 235h2v1h-2zM104 235h1v1h-1zM116 235h1v1h-1zM4 234h1v1h-1zM22 234h1v1h-1zM30 234h1v1h-1zM44 234h2v1h-2zM54 234h1v1h-1zM65 234h1v1h-1zM74 234h1v1h-1zM82 234h1v1h-1zM84 234h1v1h-1zM87 234h2v1h-2zM99 234h1v1h-1zM103 234h1v1h-1zM108 234h1v1h-1zM114 234h1v1h-1zM150 234h1v1h-1zM14 233h1v1h-1zM19 233h1v1h-1zM24 233h1v1h-1zM27 233h2v1h-2zM48 233h2v1h-2zM56 233h1v1h-1zM58 233h1v1h-1zM65 233h1v1h-1zM85 233h2v1h-2zM91 233h1v1h-1zM100 233h1v1h-1zM104 233h1v1h-1zM114 233h1v1h-1zM116 233h1v1h-1zM120 233h1v1h-1zM130 233h1v1h-1zM8 232h1v1h-1zM11 232h1v1h-1zM17 232h1v1h-1zM35 232h2v1h-2zM66 232h1v1h-1zM71 232h2v1h-2zM78 232h1v1h-1zM80 232h1v1h-1zM89 232h1v1h-1zM91 232h1v1h-1zM93 232h1v1h-1zM98 232h2v1h-2zM135 232h1v1h-1zM18 231h1v1h-1zM25 231h1v1h-1zM45 231h1v1h-1zM49 231h1v1h-1zM55 231h1v1h-1zM70 231h1v1h-1zM88 231h1v1h-1zM90 231h2v1h-2zM95 231h1v1h-1zM120 231h1v1h-1zM135 231h1v1h-1zM9 230h1v1h-1zM13 230h1v1h-1zM34 230h1v1h-1zM39 230h1v1h-1zM59 230h1v1h-1zM77 230h1v1h-1zM95 230h1v1h-1zM120 230h1v1h-1zM150 230h1v1h-1zM2 229h1v1h-1zM20 229h1v1h-1zM34 229h1v1h-1zM41 229h1v1h-1zM55 229h1v1h-1zM68 229h1v1h-1zM73 229h2v1h-2zM99 229h1v1h-1zM104 229h1v1h-1zM140 229h1v1h-1zM3 228h1v1h-1zM8 228h1v1h-1zM34 228h1v1h-1zM36 228h1v1h-1zM46 228h1v1h-1zM50 228h1v1h-1zM61 228h1v1h-1zM69 228h1v1h-1zM75 228h1v1h-1zM81 228h1v1h-1zM85 228h1v1h-1zM93 228h2v1h-2zM98 228h1v1h-1zM108 228h1v1h-1zM9 227h1v1h-1zM13 227h1v1h-1zM16 227h1v1h-1zM18 227h1v1h-1zM23 227h1v1h-1zM28 227h1v1h-1zM41 227h1v1h-1zM44 227h2v1h-2zM56 227h1v1h-1zM64 227h1v1h-1zM69 227h2v1h-2zM79 227h1v1h-1zM97 227h1v1h-1zM104 227h1v1h-1zM6 226h1v1h-1zM8 226h1v1h-1zM10 226h1v1h-1zM16 226h1v1h-1zM23 226h2v1h-2zM32 226h3v1h-3zM42 226h1v1h-1zM48 226h1v1h-1zM59 226h1v1h-1zM68 226h1v1h-1zM72 226h1v1h-1zM74 226h1v1h-1zM77 226h1v1h-1zM80 226h1v1h-1zM84 226h2v1h-2zM101 226h1v1h-1zM104 226h1v1h-1zM118 226h1v1h-1zM130 226h1v1h-1zM53 225h1v1h-1zM61 225h1v1h-1zM68 225h1v1h-1zM74 225h1v1h-1zM87 225h1v1h-1zM90 225h2v1h-2zM94 225h3v1h-3zM116 225h1v1h-1zM150 225h1v1h-1zM2 224h1v1h-1zM4 224h1v1h-1zM6 224h1v1h-1zM14 224h1v1h-1zM26 224h1v1h-1zM29 224h1v1h-1zM31 224h1v1h-1zM41 224h1v1h-1zM44 224h1v1h-1zM48 224h2v1h-2zM51 224h1v1h-1zM53 224h1v1h-1zM58 224h1v1h-1zM62 224h1v1h-1zM78 224h1v1h-1zM87 224h1v1h-1zM96 224h1v1h-1zM105 224h1v1h-1zM112 224h1v1h-1zM116 224h1v1h-1zM38 223h2v1h-2zM51 223h1v1h-1zM53 223h1v1h-1zM67 223h1v1h-1zM74 223h1v1h-1zM85 223h1v1h-1zM88 223h1v1h-1zM90 223h1v1h-1zM94 223h1v1h-1zM96 223h1v1h-1zM104 223h1v1h-1zM120 223h1v1h-1zM0 222h1v1h-1zM9 222h1v1h-1zM15 222h1v1h-1zM20 222h2v1h-2zM25 222h1v1h-1zM32 222h1v1h-1zM39 222h1v1h-1zM41 222h1v1h-1zM47 222h1v1h-1zM50 222h1v1h-1zM53 222h2v1h-2zM61 222h1v1h-1zM63 222h1v1h-1zM74 222h1v1h-1zM79 222h1v1h-1zM83 222h2v1h-2zM90 222h1v1h-1zM93 222h1v1h-1zM97 222h2v1h-2zM104 222h1v1h-1zM106 222h1v1h-1zM116 222h1v1h-1zM145 222h1v1h-1zM10 221h1v1h-1zM18 221h1v1h-1zM22 221h1v1h-1zM24 221h1v1h-1zM27 221h1v1h-1zM29 221h1v1h-1zM32 221h1v1h-1zM34 221h1v1h-1zM36 221h1v1h-1zM44 221h1v1h-1zM47 221h1v1h-1zM62 221h2v1h-2zM70 221h1v1h-1zM80 221h1v1h-1zM97 221h1v1h-1zM105 221h1v1h-1zM108 221h1v1h-1zM2 220h1v1h-1zM7 220h1v1h-1zM10 220h1v1h-1zM18 220h1v1h-1zM38 220h1v1h-1zM41 220h1v1h-1zM43 220h2v1h-2zM60 220h2v1h-2zM67 220h1v1h-1zM69 220h1v1h-1zM78 220h1v1h-1zM82 220h1v1h-1zM85 220h1v1h-1zM98 220h1v1h-1zM100 220h2v1h-2zM112 220h1v1h-1zM140 220h1v1h-1zM2 219h1v1h-1zM7 219h1v1h-1zM9 219h1v1h-1zM35 219h1v1h-1zM39 219h1v1h-1zM41 219h3v1h-3zM56 219h1v1h-1zM59 219h2v1h-2zM64 219h1v1h-1zM66 219h2v1h-2zM70 219h1v1h-1zM73 219h1v1h-1zM75 219h1v1h-1zM77 219h1v1h-1zM81 219h1v1h-1zM83 219h1v1h-1zM94 219h1v1h-1zM104 219h1v1h-1zM0 218h1v1h-1zM9 218h1v1h-1zM12 218h4v1h-4zM34 218h1v1h-1zM37 218h3v1h-3zM47 218h1v1h-1zM51 218h1v1h-1zM63 218h2v1h-2zM66 218h1v1h-1zM75 218h1v1h-1zM78 218h1v1h-1zM93 218h1v1h-1zM108 218h1v1h-1zM13 217h1v1h-1zM21 217h1v1h-1zM27 217h1v1h-1zM33 217h1v1h-1zM50 217h1v1h-1zM54 217h1v1h-1zM56 217h1v1h-1zM58 217h1v1h-1zM70 217h1v1h-1zM82 217h1v1h-1zM89 217h1v1h-1zM94 217h1v1h-1zM116 217h1v1h-1zM6 216h1v1h-1zM13 216h1v1h-1zM23 216h1v1h-1zM29 216h1v1h-1zM34 216h1v1h-1zM59 216h1v1h-1zM61 216h1v1h-1zM63 216h1v1h-1zM69 216h1v1h-1zM71 216h2v1h-2zM76 216h1v1h-1zM87 216h1v1h-1zM99 216h2v1h-2zM118 216h1v1h-1zM120 216h1v1h-1zM140 216h1v1h-1zM23 215h1v1h-1zM34 215h3v1h-3zM42 215h1v1h-1zM50 215h1v1h-1zM55 215h2v1h-2zM59 215h1v1h-1zM72 215h1v1h-1zM91 215h1v1h-1zM96 215h2v1h-2zM100 215h1v1h-1zM105 215h1v1h-1zM108 215h1v1h-1zM0 214h1v1h-1zM15 214h1v1h-1zM23 214h1v1h-1zM47 214h1v1h-1zM56 214h2v1h-2zM76 214h1v1h-1zM80 214h1v1h-1zM85 214h1v1h-1zM96 214h1v1h-1zM99 214h1v1h-1zM102 214h1v1h-1zM114 214h1v1h-1zM120 214h1v1h-1zM15 213h1v1h-1zM24 213h1v1h-1zM32 213h1v1h-1zM40 213h1v1h-1zM51 213h1v1h-1zM57 213h1v1h-1zM60 213h1v1h-1zM86 213h1v1h-1zM96 213h1v1h-1zM118 213h1v1h-1zM130 213h1v1h-1zM145 213h1v1h-1zM1 212h1v1h-1zM4 212h1v1h-1zM14 212h1v1h-1zM35 212h1v1h-1zM48 212h1v1h-1zM52 212h1v1h-1zM71 212h1v1h-1zM73 212h3v1h-3zM87 212h1v1h-1zM98 212h1v1h-1zM5 211h1v1h-1zM10 211h1v1h-1zM34 211h2v1h-2zM40 211h1v1h-1zM43 211h2v1h-2zM56 211h1v1h-1zM69 211h1v1h-1zM72 211h1v1h-1zM86 211h1v1h-1zM89 211h1v1h-1zM96 211h1v1h-1zM1 210h2v1h-2zM13 210h1v1h-1zM19 210h1v1h-1zM29 210h2v1h-2zM35 210h1v1h-1zM56 210h1v1h-1zM59 210h1v1h-1zM65 210h1v1h-1zM90 210h4v1h-4zM99 210h1v1h-1zM104 210h1v1h-1zM140 210h1v1h-1zM36 209h1v1h-1zM44 209h1v1h-1zM53 209h1v1h-1zM63 209h1v1h-1zM74 209h1v1h-1zM81 209h1v1h-1zM94 209h1v1h-1zM110 209h1v1h-1zM116 209h1v1h-1zM7 208h1v1h-1zM20 208h1v1h-1zM26 208h1v1h-1zM30 208h1v1h-1zM50 208h1v1h-1zM62 208h1v1h-1zM70 208h1v1h-1zM73 208h1v1h-1zM79 208h1v1h-1zM86 208h1v1h-1zM89 208h1v1h-1zM104 208h1v1h-1zM108 208h1v1h-1zM118 208h1v1h-1zM130 208h1v1h-1zM145 208h1v1h-1zM2 207h2v1h-2zM9 207h1v1h-1zM12 207h1v1h-1zM24 207h1v1h-1zM37 207h2v1h-2zM50 207h1v1h-1zM57 207h2v1h-2zM77 207h1v1h-1zM83 207h1v1h-1zM86 207h1v1h-1zM90 207h3v1h-3zM105 207h1v1h-1zM114 207h1v1h-1zM120 207h1v1h-1zM130 207h1v1h-1zM140 207h1v1h-1zM3 206h2v1h-2zM14 206h1v1h-1zM17 206h1v1h-1zM25 206h1v1h-1zM32 206h1v1h-1zM37 206h1v1h-1zM45 206h1v1h-1zM49 206h2v1h-2zM71 206h1v1h-1zM74 206h1v1h-1zM80 206h1v1h-1zM98 206h3v1h-3zM102 206h1v1h-1zM108 206h1v1h-1zM120 206h1v1h-1zM145 206h1v1h-1zM9 205h1v1h-1zM11 205h2v1h-2zM19 205h1v1h-1zM26 205h1v1h-1zM34 205h1v1h-1zM36 205h1v1h-1zM41 205h1v1h-1zM44 205h1v1h-1zM46 205h1v1h-1zM53 205h1v1h-1zM61 205h1v1h-1zM80 205h1v1h-1zM85 205h1v1h-1zM98 205h1v1h-1zM106 205h1v1h-1zM110 205h1v1h-1zM120 205h1v1h-1zM0 204h1v1h-1zM9 204h1v1h-1zM11 204h1v1h-1zM16 204h2v1h-2zM22 204h1v1h-1zM26 204h1v1h-1zM33 204h1v1h-1zM35 204h1v1h-1zM43 204h1v1h-1zM50 204h2v1h-2zM55 204h1v1h-1zM61 204h1v1h-1zM66 204h1v1h-1zM73 204h2v1h-2zM80 204h1v1h-1zM99 204h2v1h-2zM103 204h1v1h-1zM105 204h1v1h-1zM108 204h1v1h-1zM118 204h1v1h-1zM7 203h1v1h-1zM11 203h2v1h-2zM36 203h1v1h-1zM39 203h1v1h-1zM55 203h1v1h-1zM63 203h1v1h-1zM66 203h2v1h-2zM69 203h1v1h-1zM71 203h2v1h-2zM78 203h1v1h-1zM84 203h2v1h-2zM91 203h1v1h-1zM94 203h3v1h-3zM150 203h1v1h-1zM2 202h1v1h-1zM16 202h2v1h-2zM24 202h1v1h-1zM47 202h1v1h-1zM50 202h2v1h-2zM56 202h1v1h-1zM58 202h1v1h-1zM60 202h1v1h-1zM71 202h1v1h-1zM80 202h1v1h-1zM82 202h1v1h-1zM89 202h1v1h-1zM94 202h1v1h-1zM116 202h1v1h-1zM125 202h1v1h-1zM135 202h1v1h-1zM10 201h1v1h-1zM30 201h1v1h-1zM35 201h2v1h-2zM49 201h1v1h-1zM57 201h1v1h-1zM61 201h1v1h-1zM64 201h2v1h-2zM84 201h1v1h-1zM86 201h1v1h-1zM90 201h1v1h-1zM99 201h1v1h-1zM1 200h1v1h-1zM35 200h2v1h-2zM40 200h1v1h-1zM45 200h1v1h-1zM49 200h1v1h-1zM51 200h1v1h-1zM56 200h2v1h-2zM76 200h1v1h-1zM79 200h1v1h-1zM104 200h1v1h-1zM110 200h1v1h-1zM114 200h1v1h-1zM140 200h1v1h-1zM5 199h1v1h-1zM9 199h1v1h-1zM16 199h1v1h-1zM23 199h1v1h-1zM35 199h1v1h-1zM41 199h1v1h-1zM50 199h1v1h-1zM58 199h1v1h-1zM63 199h2v1h-2zM69 199h2v1h-2zM72 199h1v1h-1zM85 199h1v1h-1zM89 199h1v1h-1zM91 199h1v1h-1zM102 199h2v1h-2zM120 199h1v1h-1zM5 198h1v1h-1zM11 198h1v1h-1zM18 198h1v1h-1zM35 198h1v1h-1zM37 198h1v1h-1zM42 198h1v1h-1zM44 198h3v1h-3zM55 198h1v1h-1zM60 198h1v1h-1zM75 198h1v1h-1zM79 198h4v1h-4zM97 198h1v1h-1zM99 198h2v1h-2zM106 198h1v1h-1zM7 197h1v1h-1zM9 197h1v1h-1zM13 197h1v1h-1zM16 197h1v1h-1zM18 197h1v1h-1zM37 197h1v1h-1zM41 197h2v1h-2zM44 197h1v1h-1zM46 197h1v1h-1zM57 197h1v1h-1zM60 197h1v1h-1zM68 197h3v1h-3zM76 197h1v1h-1zM78 197h1v1h-1zM81 197h1v1h-1zM85 197h1v1h-1zM98 197h1v1h-1zM130 197h1v1h-1zM1 196h1v1h-1zM11 196h1v1h-1zM15 196h1v1h-1zM20 196h1v1h-1zM23 196h1v1h-1zM32 196h2v1h-2zM41 196h1v1h-1zM55 196h1v1h-1zM61 196h1v1h-1zM80 196h2v1h-2zM83 196h1v1h-1zM89 196h1v1h-1zM125 196h1v1h-1zM2 195h1v1h-1zM5 195h1v1h-1zM8 195h1v1h-1zM10 195h1v1h-1zM13 195h2v1h-2zM21 195h1v1h-1zM30 195h1v1h-1zM33 195h1v1h-1zM51 195h1v1h-1zM57 195h1v1h-1zM68 195h1v1h-1zM72 195h1v1h-1zM74 195h1v1h-1zM76 195h1v1h-1zM90 195h1v1h-1zM98 195h1v1h-1zM102 195h1v1h-1zM116 195h1v1h-1zM7 194h1v1h-1zM13 194h1v1h-1zM20 194h1v1h-1zM32 194h1v1h-1zM36 194h1v1h-1zM46 194h1v1h-1zM48 194h1v1h-1zM53 194h1v1h-1zM59 194h1v1h-1zM66 194h1v1h-1zM73 194h1v1h-1zM86 194h1v1h-1zM88 194h1v1h-1zM96 194h1v1h-1zM120 194h1v1h-1zM135 194h1v1h-1zM140 194h1v1h-1zM145 194h1v1h-1zM2 193h1v1h-1zM12 193h1v1h-1zM20 193h1v1h-1zM37 193h1v1h-1zM48 193h1v1h-1zM85 193h2v1h-2zM89 193h2v1h-2zM102 193h2v1h-2zM106 193h1v1h-1zM118 193h1v1h-1zM140 193h1v1h-1zM0 192h1v1h-1zM3 192h1v1h-1zM7 192h3v1h-3zM22 192h1v1h-1zM26 192h1v1h-1zM33 192h1v1h-1zM39 192h2v1h-2zM42 192h1v1h-1zM48 192h1v1h-1zM56 192h4v1h-4zM61 192h1v1h-1zM64 192h1v1h-1zM69 192h1v1h-1zM83 192h2v1h-2zM90 192h1v1h-1zM103 192h1v1h-1zM125 192h1v1h-1zM140 192h1v1h-1zM145 192h1v1h-1zM4 191h2v1h-2zM59 191h1v1h-1zM68 191h2v1h-2zM71 191h1v1h-1zM73 191h2v1h-2zM76 191h1v1h-1zM79 191h1v1h-1zM101 191h1v1h-1zM108 191h1v1h-1zM135 191h1v1h-1zM140 191h1v1h-1zM3 190h1v1h-1zM16 190h1v1h-1zM25 190h1v1h-1zM47 190h1v1h-1zM49 190h1v1h-1zM65 190h1v1h-1zM69 190h1v1h-1zM71 190h1v1h-1zM74 190h1v1h-1zM77 190h2v1h-2zM81 190h1v1h-1zM84 190h1v1h-1zM88 190h1v1h-1zM93 190h1v1h-1zM116 190h1v1h-1zM125 190h1v1h-1zM145 190h1v1h-1zM0 189h1v1h-1zM6 189h2v1h-2zM9 189h1v1h-1zM22 189h1v1h-1zM34 189h1v1h-1zM41 189h1v1h-1zM48 189h3v1h-3zM53 189h1v1h-1zM56 189h1v1h-1zM59 189h1v1h-1zM79 189h1v1h-1zM85 189h1v1h-1zM88 189h1v1h-1zM93 189h2v1h-2zM99 189h1v1h-1zM103 189h1v1h-1zM118 189h1v1h-1zM150 189h1v1h-1zM0 188h1v1h-1zM22 188h2v1h-2zM27 188h1v1h-1zM32 188h1v1h-1zM40 188h3v1h-3zM54 188h2v1h-2zM58 188h1v1h-1zM64 188h1v1h-1zM89 188h1v1h-1zM3 187h2v1h-2zM9 187h1v1h-1zM32 187h1v1h-1zM55 187h1v1h-1zM66 187h1v1h-1zM69 187h1v1h-1zM76 187h1v1h-1zM85 187h1v1h-1zM91 187h2v1h-2zM118 187h1v1h-1zM150 187h1v1h-1zM8 186h1v1h-1zM27 186h1v1h-1zM32 186h1v1h-1zM38 186h1v1h-1zM50 186h1v1h-1zM58 186h1v1h-1zM67 186h1v1h-1zM70 186h1v1h-1zM84 186h1v1h-1zM99 186h1v1h-1zM120 186h1v1h-1zM150 186h1v1h-1zM4 185h1v1h-1zM8 185h1v1h-1zM18 185h1v1h-1zM31 185h2v1h-2zM40 185h1v1h-1zM43 185h1v1h-1zM47 185h1v1h-1zM53 185h1v1h-1zM56 185h1v1h-1zM60 185h1v1h-1zM68 185h1v1h-1zM72 185h3v1h-3zM81 185h1v1h-1zM83 185h1v1h-1zM85 185h1v1h-1zM87 185h1v1h-1zM90 185h2v1h-2zM97 185h1v1h-1zM125 185h1v1h-1zM140 185h1v1h-1zM6 184h1v1h-1zM8 184h1v1h-1zM27 184h1v1h-1zM30 184h1v1h-1zM42 184h1v1h-1zM44 184h1v1h-1zM52 184h1v1h-1zM55 184h2v1h-2zM64 184h1v1h-1zM66 184h1v1h-1zM74 184h1v1h-1zM90 184h2v1h-2zM103 184h1v1h-1zM106 184h1v1h-1zM112 184h1v1h-1zM116 184h1v1h-1zM135 184h1v1h-1zM140 184h1v1h-1zM150 184h1v1h-1zM35 183h1v1h-1zM64 183h1v1h-1zM68 183h1v1h-1zM71 183h1v1h-1zM110 183h1v1h-1zM140 183h1v1h-1zM145 183h1v1h-1zM13 182h1v1h-1zM29 182h1v1h-1zM34 182h1v1h-1zM36 182h1v1h-1zM43 182h1v1h-1zM55 182h1v1h-1zM57 182h1v1h-1zM66 182h3v1h-3zM77 182h1v1h-1zM81 182h1v1h-1zM89 182h1v1h-1zM96 182h1v1h-1zM104 182h1v1h-1zM106 182h1v1h-1zM120 182h1v1h-1zM125 182h1v1h-1zM11 181h1v1h-1zM13 181h1v1h-1zM22 181h1v1h-1zM27 181h1v1h-1zM34 181h2v1h-2zM41 181h1v1h-1zM54 181h1v1h-1zM57 181h1v1h-1zM64 181h1v1h-1zM82 181h1v1h-1zM84 181h1v1h-1zM95 181h1v1h-1zM125 181h1v1h-1zM130 181h1v1h-1zM150 181h1v1h-1zM0 180h1v1h-1zM10 180h1v1h-1zM15 180h1v1h-1zM23 180h1v1h-1zM31 180h2v1h-2zM49 180h1v1h-1zM55 180h1v1h-1zM60 180h1v1h-1zM71 180h1v1h-1zM78 180h1v1h-1zM88 180h2v1h-2zM94 180h1v1h-1zM105 180h1v1h-1zM108 180h1v1h-1zM110 180h1v1h-1zM13 179h1v1h-1zM19 179h1v1h-1zM23 179h1v1h-1zM26 179h2v1h-2zM30 179h1v1h-1zM52 179h1v1h-1zM66 179h1v1h-1zM80 179h1v1h-1zM93 179h2v1h-2zM97 179h1v1h-1zM110 179h1v1h-1zM145 179h1v1h-1zM150 179h1v1h-1zM2 178h1v1h-1zM7 178h2v1h-2zM11 178h1v1h-1zM30 178h1v1h-1zM36 178h1v1h-1zM50 178h1v1h-1zM55 178h1v1h-1zM68 178h2v1h-2zM75 178h1v1h-1zM88 178h2v1h-2zM91 178h1v1h-1zM93 178h1v1h-1zM96 178h2v1h-2zM118 178h1v1h-1zM125 178h1v1h-1zM6 177h1v1h-1zM8 177h1v1h-1zM11 177h1v1h-1zM24 177h1v1h-1zM26 177h2v1h-2zM44 177h1v1h-1zM47 177h1v1h-1zM52 177h3v1h-3zM57 177h1v1h-1zM59 177h2v1h-2zM68 177h2v1h-2zM81 177h1v1h-1zM85 177h2v1h-2zM91 177h2v1h-2zM100 177h1v1h-1zM8 176h1v1h-1zM12 176h1v1h-1zM17 176h1v1h-1zM23 176h1v1h-1zM25 176h1v1h-1zM31 176h1v1h-1zM34 176h1v1h-1zM37 176h1v1h-1zM55 176h1v1h-1zM59 176h1v1h-1zM62 176h1v1h-1zM73 176h1v1h-1zM80 176h2v1h-2zM86 176h1v1h-1zM89 176h1v1h-1zM105 176h1v1h-1zM125 176h1v1h-1zM12 175h1v1h-1zM18 175h1v1h-1zM26 175h1v1h-1zM29 175h1v1h-1zM33 175h3v1h-3zM39 175h1v1h-1zM52 175h1v1h-1zM58 175h1v1h-1zM79 175h3v1h-3zM145 175h1v1h-1zM2 174h1v1h-1zM6 174h1v1h-1zM12 174h1v1h-1zM14 174h1v1h-1zM21 174h2v1h-2zM31 174h1v1h-1zM34 174h1v1h-1zM37 174h2v1h-2zM45 174h1v1h-1zM54 174h2v1h-2zM62 174h1v1h-1zM75 174h2v1h-2zM78 174h1v1h-1zM98 174h1v1h-1zM105 174h1v1h-1zM125 174h1v1h-1zM130 174h1v1h-1zM145 174h1v1h-1zM0 173h1v1h-1zM11 173h1v1h-1zM13 173h1v1h-1zM17 173h1v1h-1zM19 173h1v1h-1zM22 173h3v1h-3zM34 173h1v1h-1zM39 173h1v1h-1zM58 173h1v1h-1zM66 173h1v1h-1zM71 173h2v1h-2zM89 173h1v1h-1zM95 173h1v1h-1zM98 173h1v1h-1zM100 173h1v1h-1zM104 173h1v1h-1zM112 173h1v1h-1zM150 173h1v1h-1zM9 172h1v1h-1zM25 172h1v1h-1zM35 172h2v1h-2zM41 172h1v1h-1zM47 172h1v1h-1zM72 172h3v1h-3zM82 172h1v1h-1zM84 172h1v1h-1zM96 172h1v1h-1zM102 172h1v1h-1zM108 172h1v1h-1zM110 172h1v1h-1zM125 172h1v1h-1zM4 171h1v1h-1zM13 171h1v1h-1zM17 171h1v1h-1zM35 171h1v1h-1zM37 171h2v1h-2zM44 171h1v1h-1zM51 171h2v1h-2zM54 171h1v1h-1zM68 171h1v1h-1zM71 171h1v1h-1zM75 171h1v1h-1zM81 171h1v1h-1zM85 171h1v1h-1zM88 171h1v1h-1zM99 171h1v1h-1zM104 171h1v1h-1zM114 171h1v1h-1zM130 171h1v1h-1zM140 171h1v1h-1zM2 170h1v1h-1zM5 170h1v1h-1zM12 170h1v1h-1zM18 170h1v1h-1zM30 170h1v1h-1zM50 170h2v1h-2zM55 170h1v1h-1zM59 170h1v1h-1zM68 170h1v1h-1zM76 170h1v1h-1zM86 170h2v1h-2zM91 170h2v1h-2zM94 170h3v1h-3zM99 170h1v1h-1zM104 170h2v1h-2zM130 170h1v1h-1zM150 170h1v1h-1zM7 169h1v1h-1zM10 169h1v1h-1zM12 169h1v1h-1zM15 169h1v1h-1zM41 169h1v1h-1zM44 169h1v1h-1zM55 169h2v1h-2zM64 169h3v1h-3zM82 169h2v1h-2zM89 169h1v1h-1zM92 169h1v1h-1zM98 169h1v1h-1zM103 169h1v1h-1zM105 169h2v1h-2zM130 169h1v1h-1zM140 169h1v1h-1zM3 168h1v1h-1zM11 168h1v1h-1zM16 168h1v1h-1zM43 168h1v1h-1zM55 168h1v1h-1zM68 168h1v1h-1zM97 168h1v1h-1zM110 168h1v1h-1zM114 168h1v1h-1zM140 168h1v1h-1zM4 167h1v1h-1zM15 167h1v1h-1zM36 167h1v1h-1zM55 167h1v1h-1zM103 167h1v1h-1zM10 166h1v1h-1zM19 166h1v1h-1zM28 166h1v1h-1zM30 166h1v1h-1zM36 166h3v1h-3zM43 166h1v1h-1zM46 166h1v1h-1zM55 166h2v1h-2zM59 166h1v1h-1zM68 166h1v1h-1zM71 166h3v1h-3zM81 166h1v1h-1zM94 166h1v1h-1zM97 166h1v1h-1zM99 166h2v1h-2zM104 166h1v1h-1zM108 166h1v1h-1zM118 166h1v1h-1zM2 165h3v1h-3zM15 165h2v1h-2zM20 165h2v1h-2zM33 165h1v1h-1zM61 165h2v1h-2zM67 165h1v1h-1zM73 165h3v1h-3zM83 165h2v1h-2zM87 165h1v1h-1zM94 165h1v1h-1zM108 165h1v1h-1zM118 165h1v1h-1zM1 164h2v1h-2zM21 164h1v1h-1zM56 164h1v1h-1zM58 164h1v1h-1zM60 164h1v1h-1zM65 164h1v1h-1zM73 164h1v1h-1zM81 164h1v1h-1zM89 164h1v1h-1zM99 164h1v1h-1zM118 164h1v1h-1zM125 164h1v1h-1zM130 164h1v1h-1zM0 163h1v1h-1zM7 163h1v1h-1zM13 163h2v1h-2zM26 163h1v1h-1zM29 163h1v1h-1zM35 163h1v1h-1zM50 163h1v1h-1zM54 163h2v1h-2zM62 163h2v1h-2zM71 163h2v1h-2zM74 163h1v1h-1zM76 163h1v1h-1zM91 163h1v1h-1zM93 163h1v1h-1zM100 163h1v1h-1zM112 163h1v1h-1zM116 163h1v1h-1zM145 163h1v1h-1zM8 162h1v1h-1zM26 162h1v1h-1zM30 162h1v1h-1zM33 162h1v1h-1zM36 162h2v1h-2zM54 162h3v1h-3zM64 162h1v1h-1zM66 162h1v1h-1zM71 162h1v1h-1zM75 162h1v1h-1zM81 162h1v1h-1zM85 162h1v1h-1zM88 162h1v1h-1zM98 162h1v1h-1zM104 162h1v1h-1zM108 162h1v1h-1zM14 161h2v1h-2zM24 161h1v1h-1zM27 161h1v1h-1zM33 161h1v1h-1zM43 161h1v1h-1zM48 161h2v1h-2zM51 161h1v1h-1zM57 161h1v1h-1zM59 161h1v1h-1zM62 161h1v1h-1zM69 161h1v1h-1zM71 161h1v1h-1zM76 161h1v1h-1zM81 161h1v1h-1zM84 161h3v1h-3zM88 161h1v1h-1zM93 161h1v1h-1zM95 161h2v1h-2zM99 161h1v1h-1zM102 161h2v1h-2zM106 161h1v1h-1zM108 161h1v1h-1zM135 161h1v1h-1zM26 160h2v1h-2zM29 160h1v1h-1zM36 160h1v1h-1zM38 160h1v1h-1zM56 160h1v1h-1zM60 160h1v1h-1zM62 160h1v1h-1zM66 160h2v1h-2zM75 160h1v1h-1zM91 160h1v1h-1zM112 160h1v1h-1zM114 160h1v1h-1zM118 160h1v1h-1zM130 160h1v1h-1zM6 159h1v1h-1zM33 159h1v1h-1zM35 159h1v1h-1zM56 159h1v1h-1zM66 159h1v1h-1zM69 159h1v1h-1zM71 159h1v1h-1zM78 159h1v1h-1zM82 159h1v1h-1zM90 159h1v1h-1zM116 159h1v1h-1zM6 158h1v1h-1zM10 158h2v1h-2zM55 158h1v1h-1zM60 158h1v1h-1zM64 158h1v1h-1zM69 158h1v1h-1zM72 158h1v1h-1zM89 158h1v1h-1zM91 158h1v1h-1zM94 158h1v1h-1zM100 158h1v1h-1zM114 158h1v1h-1zM18 157h1v1h-1zM23 157h1v1h-1zM26 157h1v1h-1zM29 157h1v1h-1zM41 157h1v1h-1zM43 157h1v1h-1zM47 157h2v1h-2zM50 157h1v1h-1zM56 157h1v1h-1zM59 157h1v1h-1zM72 157h1v1h-1zM75 157h1v1h-1zM83 157h1v1h-1zM88 157h2v1h-2zM96 157h1v1h-1zM100 157h1v1h-1zM116 157h1v1h-1zM135 157h1v1h-1zM24 156h1v1h-1zM35 156h1v1h-1zM44 156h1v1h-1zM46 156h1v1h-1zM49 156h1v1h-1zM52 156h2v1h-2zM55 156h1v1h-1zM59 156h1v1h-1zM61 156h1v1h-1zM66 156h1v1h-1zM74 156h1v1h-1zM79 156h2v1h-2zM84 156h2v1h-2zM88 156h1v1h-1zM94 156h1v1h-1zM99 156h4v1h-4zM108 156h1v1h-1zM22 155h1v1h-1zM29 155h1v1h-1zM31 155h1v1h-1zM41 155h1v1h-1zM51 155h2v1h-2zM55 155h1v1h-1zM64 155h1v1h-1zM78 155h1v1h-1zM106 155h1v1h-1zM108 155h1v1h-1zM5 154h2v1h-2zM10 154h1v1h-1zM16 154h1v1h-1zM24 154h1v1h-1zM35 154h1v1h-1zM54 154h3v1h-3zM61 154h1v1h-1zM64 154h1v1h-1zM69 154h2v1h-2zM72 154h1v1h-1zM74 154h1v1h-1zM76 154h2v1h-2zM80 154h1v1h-1zM83 154h1v1h-1zM95 154h1v1h-1zM97 154h2v1h-2zM102 154h1v1h-1zM108 154h1v1h-1zM116 154h1v1h-1zM130 154h1v1h-1zM135 154h1v1h-1zM145 154h1v1h-1zM150 154h1v1h-1zM4 153h1v1h-1zM12 153h1v1h-1zM20 153h1v1h-1zM26 153h1v1h-1zM30 153h2v1h-2zM36 153h2v1h-2zM48 153h1v1h-1zM57 153h1v1h-1zM69 153h1v1h-1zM72 153h1v1h-1zM76 153h2v1h-2zM87 153h1v1h-1zM105 153h1v1h-1zM110 153h1v1h-1zM125 153h1v1h-1zM150 153h1v1h-1zM18 152h1v1h-1zM24 152h1v1h-1zM34 152h2v1h-2zM51 152h1v1h-1zM53 152h1v1h-1zM64 152h1v1h-1zM67 152h1v1h-1zM74 152h1v1h-1zM82 152h2v1h-2zM88 152h2v1h-2zM95 152h1v1h-1zM99 152h1v1h-1zM105 152h1v1h-1zM0 151h1v1h-1zM5 151h1v1h-1zM9 151h1v1h-1zM19 151h2v1h-2zM23 151h2v1h-2zM29 151h1v1h-1zM53 151h1v1h-1zM56 151h1v1h-1zM62 151h1v1h-1zM66 151h1v1h-1zM73 151h1v1h-1zM79 151h1v1h-1zM81 151h1v1h-1zM86 151h1v1h-1zM88 151h1v1h-1zM95 151h1v1h-1zM98 151h1v1h-1zM0 150h1v1h-1zM8 150h1v1h-1zM15 150h1v1h-1zM27 150h1v1h-1zM34 150h1v1h-1zM38 150h2v1h-2zM69 150h1v1h-1zM75 150h1v1h-1zM77 150h2v1h-2zM87 150h1v1h-1zM101 150h1v1h-1zM105 150h1v1h-1zM108 150h1v1h-1zM110 150h1v1h-1zM112 150h1v1h-1zM120 150h1v1h-1zM140 150h1v1h-1zM2 149h1v1h-1zM14 149h1v1h-1zM24 149h1v1h-1zM26 149h1v1h-1zM32 149h2v1h-2zM42 149h2v1h-2zM48 149h1v1h-1zM56 149h1v1h-1zM59 149h1v1h-1zM82 149h1v1h-1zM85 149h1v1h-1zM95 149h1v1h-1zM104 149h1v1h-1zM135 149h1v1h-1zM2 148h1v1h-1zM11 148h2v1h-2zM20 148h1v1h-1zM26 148h1v1h-1zM33 148h2v1h-2zM36 148h1v1h-1zM48 148h1v1h-1zM51 148h1v1h-1zM59 148h1v1h-1zM66 148h3v1h-3zM76 148h2v1h-2zM83 148h2v1h-2zM125 148h1v1h-1zM140 148h1v1h-1zM145 148h1v1h-1zM9 147h1v1h-1zM14 147h1v1h-1zM17 147h1v1h-1zM23 147h1v1h-1zM54 147h1v1h-1zM59 147h2v1h-2zM63 147h1v1h-1zM80 147h1v1h-1zM82 147h1v1h-1zM91 147h1v1h-1zM94 147h1v1h-1zM96 147h1v1h-1zM98 147h1v1h-1zM100 147h1v1h-1zM105 147h1v1h-1zM108 147h1v1h-1zM112 147h1v1h-1zM6 146h1v1h-1zM41 146h1v1h-1zM53 146h1v1h-1zM55 146h1v1h-1zM65 146h1v1h-1zM68 146h1v1h-1zM75 146h1v1h-1zM79 146h1v1h-1zM82 146h1v1h-1zM96 146h1v1h-1zM114 146h1v1h-1zM5 145h1v1h-1zM9 145h1v1h-1zM13 145h1v1h-1zM23 145h2v1h-2zM35 145h1v1h-1zM37 145h1v1h-1zM39 145h1v1h-1zM55 145h2v1h-2zM58 145h1v1h-1zM61 145h1v1h-1zM63 145h1v1h-1zM71 145h2v1h-2zM83 145h1v1h-1zM91 145h1v1h-1zM93 145h1v1h-1zM98 145h1v1h-1zM104 145h2v1h-2zM116 145h1v1h-1zM140 145h1v1h-1zM2 144h1v1h-1zM35 144h1v1h-1zM37 144h1v1h-1zM60 144h3v1h-3zM71 144h1v1h-1zM88 144h3v1h-3zM100 144h1v1h-1zM105 144h1v1h-1zM108 144h1v1h-1zM116 144h1v1h-1zM3 143h1v1h-1zM8 143h1v1h-1zM15 143h1v1h-1zM23 143h2v1h-2zM35 143h1v1h-1zM42 143h1v1h-1zM44 143h1v1h-1zM66 143h1v1h-1zM68 143h2v1h-2zM83 143h1v1h-1zM85 143h1v1h-1zM92 143h1v1h-1zM94 143h1v1h-1zM104 143h1v1h-1zM9 142h1v1h-1zM19 142h1v1h-1zM23 142h1v1h-1zM60 142h1v1h-1zM71 142h1v1h-1zM75 142h1v1h-1zM78 142h1v1h-1zM90 142h1v1h-1zM97 142h1v1h-1zM103 142h1v1h-1zM114 142h1v1h-1zM118 142h1v1h-1zM135 142h1v1h-1zM21 141h1v1h-1zM23 141h1v1h-1zM27 141h1v1h-1zM42 141h2v1h-2zM49 141h2v1h-2zM52 141h2v1h-2zM58 141h2v1h-2zM72 141h2v1h-2zM76 141h1v1h-1zM78 141h1v1h-1zM80 141h1v1h-1zM88 141h1v1h-1zM93 141h2v1h-2zM100 141h1v1h-1zM103 141h1v1h-1zM118 141h1v1h-1zM140 141h1v1h-1zM7 140h1v1h-1zM9 140h1v1h-1zM21 140h1v1h-1zM26 140h1v1h-1zM65 140h1v1h-1zM71 140h2v1h-2zM82 140h1v1h-1zM97 140h1v1h-1zM100 140h1v1h-1zM104 140h1v1h-1zM130 140h1v1h-1zM140 140h1v1h-1zM1 139h3v1h-3zM9 139h1v1h-1zM23 139h1v1h-1zM26 139h1v1h-1zM34 139h2v1h-2zM39 139h1v1h-1zM51 139h1v1h-1zM67 139h1v1h-1zM71 139h1v1h-1zM75 139h1v1h-1zM114 139h1v1h-1zM120 139h1v1h-1zM125 139h1v1h-1zM3 138h1v1h-1zM11 138h1v1h-1zM27 138h1v1h-1zM37 138h1v1h-1zM41 138h1v1h-1zM52 138h1v1h-1zM54 138h2v1h-2zM68 138h1v1h-1zM78 138h1v1h-1zM85 138h1v1h-1zM92 138h2v1h-2zM95 138h1v1h-1zM97 138h1v1h-1zM103 138h2v1h-2zM140 138h1v1h-1zM150 138h1v1h-1zM2 137h3v1h-3zM14 137h1v1h-1zM18 137h1v1h-1zM23 137h1v1h-1zM46 137h3v1h-3zM50 137h1v1h-1zM64 137h1v1h-1zM66 137h1v1h-1zM81 137h1v1h-1zM87 137h1v1h-1zM94 137h1v1h-1zM96 137h1v1h-1zM112 137h1v1h-1zM140 137h1v1h-1zM0 136h1v1h-1zM20 136h2v1h-2zM51 136h2v1h-2zM58 136h1v1h-1zM71 136h1v1h-1zM75 136h1v1h-1zM77 136h1v1h-1zM86 136h1v1h-1zM92 136h1v1h-1zM103 136h1v1h-1zM105 136h1v1h-1zM116 136h1v1h-1zM135 136h1v1h-1zM150 136h1v1h-1zM5 135h1v1h-1zM34 135h1v1h-1zM49 135h1v1h-1zM57 135h1v1h-1zM60 135h1v1h-1zM64 135h1v1h-1zM67 135h1v1h-1zM74 135h1v1h-1zM93 135h1v1h-1zM98 135h1v1h-1zM101 135h1v1h-1zM103 135h1v1h-1zM110 135h1v1h-1zM2 134h3v1h-3zM22 134h1v1h-1zM41 134h1v1h-1zM45 134h2v1h-2zM49 134h1v1h-1zM51 134h2v1h-2zM59 134h1v1h-1zM69 134h1v1h-1zM88 134h1v1h-1zM92 134h1v1h-1zM95 134h2v1h-2zM102 134h2v1h-2zM120 134h1v1h-1zM4 133h1v1h-1zM10 133h1v1h-1zM14 133h1v1h-1zM16 133h1v1h-1zM26 133h1v1h-1zM30 133h1v1h-1zM36 133h1v1h-1zM48 133h1v1h-1zM52 133h1v1h-1zM61 133h2v1h-2zM69 133h1v1h-1zM74 133h1v1h-1zM76 133h1v1h-1zM81 133h1v1h-1zM102 133h1v1h-1zM104 133h1v1h-1zM118 133h1v1h-1zM150 133h1v1h-1zM4 132h1v1h-1zM6 132h1v1h-1zM14 132h1v1h-1zM20 132h1v1h-1zM24 132h1v1h-1zM27 132h2v1h-2zM35 132h1v1h-1zM44 132h1v1h-1zM58 132h1v1h-1zM60 132h3v1h-3zM66 132h1v1h-1zM82 132h2v1h-2zM97 132h2v1h-2zM103 132h1v1h-1zM106 132h1v1h-1zM114 132h1v1h-1zM125 132h1v1h-1zM4 131h1v1h-1zM26 131h2v1h-2zM31 131h1v1h-1zM40 131h1v1h-1zM55 131h1v1h-1zM66 131h1v1h-1zM69 131h1v1h-1zM75 131h1v1h-1zM79 131h1v1h-1zM89 131h1v1h-1zM93 131h1v1h-1zM98 131h1v1h-1zM100 131h1v1h-1zM104 131h1v1h-1zM110 131h1v1h-1zM150 131h1v1h-1zM20 130h2v1h-2zM25 130h1v1h-1zM32 130h1v1h-1zM37 130h1v1h-1zM59 130h2v1h-2zM63 130h1v1h-1zM68 130h1v1h-1zM71 130h2v1h-2zM81 130h1v1h-1zM85 130h1v1h-1zM90 130h1v1h-1zM96 130h1v1h-1zM100 130h1v1h-1zM103 130h1v1h-1zM105 130h1v1h-1zM118 130h1v1h-1zM120 130h1v1h-1zM150 130h1v1h-1zM9 129h2v1h-2zM27 129h1v1h-1zM32 129h1v1h-1zM50 129h1v1h-1zM57 129h1v1h-1zM59 129h1v1h-1zM64 129h1v1h-1zM66 129h1v1h-1zM90 129h1v1h-1zM94 129h1v1h-1zM102 129h2v1h-2zM118 129h1v1h-1zM125 129h1v1h-1zM1 128h2v1h-2zM4 128h1v1h-1zM39 128h2v1h-2zM48 128h1v1h-1zM56 128h1v1h-1zM61 128h1v1h-1zM63 128h2v1h-2zM68 128h1v1h-1zM76 128h1v1h-1zM91 128h1v1h-1zM97 128h1v1h-1zM101 128h2v1h-2zM110 128h1v1h-1zM8 127h1v1h-1zM12 127h1v1h-1zM26 127h1v1h-1zM33 127h1v1h-1zM42 127h1v1h-1zM44 127h1v1h-1zM46 127h1v1h-1zM55 127h1v1h-1zM58 127h1v1h-1zM60 127h2v1h-2zM85 127h1v1h-1zM92 127h1v1h-1zM96 127h1v1h-1zM99 127h1v1h-1zM101 127h1v1h-1zM105 127h1v1h-1zM110 127h1v1h-1zM150 127h1v1h-1zM15 126h1v1h-1zM17 126h1v1h-1zM20 126h1v1h-1zM30 126h2v1h-2zM47 126h2v1h-2zM50 126h3v1h-3zM59 126h1v1h-1zM71 126h1v1h-1zM77 126h2v1h-2zM82 126h1v1h-1zM85 126h2v1h-2zM97 126h1v1h-1zM100 126h1v1h-1zM104 126h1v1h-1zM108 126h1v1h-1zM120 126h1v1h-1zM0 125h1v1h-1zM12 125h1v1h-1zM17 125h2v1h-2zM21 125h1v1h-1zM33 125h1v1h-1zM35 125h1v1h-1zM50 125h1v1h-1zM60 125h4v1h-4zM68 125h1v1h-1zM72 125h1v1h-1zM75 125h1v1h-1zM82 125h1v1h-1zM88 125h1v1h-1zM91 125h1v1h-1zM100 125h1v1h-1zM105 125h1v1h-1zM108 125h1v1h-1zM118 125h1v1h-1zM120 125h1v1h-1zM130 125h1v1h-1zM8 124h1v1h-1zM11 124h1v1h-1zM20 124h1v1h-1zM22 124h1v1h-1zM25 124h1v1h-1zM36 124h2v1h-2zM51 124h2v1h-2zM60 124h1v1h-1zM69 124h2v1h-2zM74 124h1v1h-1zM85 124h1v1h-1zM96 124h1v1h-1zM108 124h1v1h-1zM110 124h1v1h-1zM120 124h1v1h-1zM135 124h1v1h-1zM0 123h1v1h-1zM10 123h1v1h-1zM13 123h8v1h-8zM44 123h1v1h-1zM61 123h1v1h-1zM65 123h1v1h-1zM69 123h1v1h-1zM71 123h1v1h-1zM75 123h1v1h-1zM78 123h2v1h-2zM88 123h1v1h-1zM98 123h1v1h-1zM102 123h1v1h-1zM112 123h1v1h-1zM10 122h1v1h-1zM18 122h1v1h-1zM32 122h2v1h-2zM39 122h1v1h-1zM44 122h1v1h-1zM46 122h1v1h-1zM61 122h1v1h-1zM67 122h1v1h-1zM71 122h2v1h-2zM80 122h1v1h-1zM88 122h1v1h-1zM90 122h1v1h-1zM95 122h1v1h-1zM102 122h1v1h-1zM114 122h1v1h-1zM125 122h1v1h-1zM140 122h1v1h-1zM150 122h1v1h-1zM21 121h1v1h-1zM31 121h1v1h-1zM51 121h1v1h-1zM55 121h1v1h-1zM59 121h1v1h-1zM66 121h1v1h-1zM75 121h1v1h-1zM80 121h1v1h-1zM84 121h1v1h-1zM90 121h2v1h-2zM100 121h1v1h-1zM110 121h1v1h-1zM8 120h1v1h-1zM10 120h2v1h-2zM14 120h1v1h-1zM18 120h3v1h-3zM25 120h1v1h-1zM33 120h2v1h-2zM45 120h1v1h-1zM60 120h1v1h-1zM64 120h1v1h-1zM67 120h1v1h-1zM81 120h1v1h-1zM85 120h1v1h-1zM98 120h1v1h-1zM120 120h1v1h-1zM140 120h1v1h-1zM13 119h3v1h-3zM27 119h1v1h-1zM29 119h2v1h-2zM46 119h1v1h-1zM71 119h1v1h-1zM79 119h2v1h-2zM83 119h1v1h-1zM91 119h1v1h-1zM95 119h1v1h-1zM100 119h1v1h-1zM104 119h1v1h-1zM108 119h1v1h-1zM130 119h1v1h-1zM145 119h1v1h-1zM7 118h1v1h-1zM15 118h1v1h-1zM18 118h1v1h-1zM20 118h1v1h-1zM38 118h1v1h-1zM44 118h1v1h-1zM58 118h1v1h-1zM63 118h1v1h-1zM71 118h1v1h-1zM76 118h1v1h-1zM97 118h1v1h-1zM103 118h1v1h-1zM112 118h1v1h-1zM116 118h1v1h-1zM4 117h1v1h-1zM9 117h1v1h-1zM22 117h1v1h-1zM39 117h1v1h-1zM51 117h1v1h-1zM64 117h1v1h-1zM98 117h1v1h-1zM102 117h1v1h-1zM5 116h1v1h-1zM13 116h2v1h-2zM20 116h1v1h-1zM24 116h2v1h-2zM28 116h1v1h-1zM46 116h1v1h-1zM49 116h2v1h-2zM53 116h1v1h-1zM56 116h1v1h-1zM68 116h1v1h-1zM70 116h2v1h-2zM74 116h1v1h-1zM76 116h2v1h-2zM85 116h1v1h-1zM89 116h1v1h-1zM91 116h1v1h-1zM95 116h1v1h-1zM101 116h1v1h-1zM104 116h1v1h-1zM112 116h1v1h-1zM130 116h1v1h-1zM1 115h2v1h-2zM5 115h2v1h-2zM14 115h1v1h-1zM32 115h1v1h-1zM36 115h1v1h-1zM38 115h1v1h-1zM41 115h1v1h-1zM59 115h1v1h-1zM62 115h1v1h-1zM66 115h2v1h-2zM73 115h1v1h-1zM78 115h1v1h-1zM82 115h1v1h-1zM84 115h1v1h-1zM93 115h1v1h-1zM140 115h1v1h-1zM16 114h1v1h-1zM26 114h1v1h-1zM34 114h1v1h-1zM42 114h1v1h-1zM44 114h1v1h-1zM49 114h1v1h-1zM55 114h1v1h-1zM64 114h1v1h-1zM68 114h1v1h-1zM76 114h1v1h-1zM87 114h1v1h-1zM90 114h2v1h-2zM125 114h1v1h-1zM130 114h1v1h-1zM14 113h1v1h-1zM16 113h1v1h-1zM18 113h1v1h-1zM46 113h1v1h-1zM48 113h2v1h-2zM54 113h1v1h-1zM58 113h2v1h-2zM69 113h1v1h-1zM74 113h1v1h-1zM77 113h1v1h-1zM81 113h1v1h-1zM83 113h1v1h-1zM87 113h1v1h-1zM93 113h1v1h-1zM98 113h1v1h-1zM104 113h1v1h-1zM112 113h1v1h-1zM125 113h1v1h-1zM130 113h1v1h-1zM7 112h1v1h-1zM46 112h1v1h-1zM48 112h1v1h-1zM50 112h1v1h-1zM65 112h1v1h-1zM72 112h1v1h-1zM78 112h1v1h-1zM90 112h1v1h-1zM93 112h1v1h-1zM97 112h1v1h-1zM99 112h1v1h-1zM114 112h1v1h-1zM116 112h1v1h-1zM125 112h1v1h-1zM7 111h3v1h-3zM14 111h1v1h-1zM18 111h1v1h-1zM21 111h2v1h-2zM37 111h1v1h-1zM54 111h1v1h-1zM62 111h2v1h-2zM78 111h2v1h-2zM83 111h1v1h-1zM89 111h1v1h-1zM101 111h2v1h-2zM104 111h1v1h-1zM106 111h1v1h-1zM19 110h2v1h-2zM22 110h1v1h-1zM26 110h2v1h-2zM42 110h1v1h-1zM47 110h1v1h-1zM59 110h1v1h-1zM63 110h1v1h-1zM78 110h1v1h-1zM85 110h2v1h-2zM90 110h1v1h-1zM95 110h1v1h-1zM104 110h1v1h-1zM125 110h1v1h-1zM7 109h1v1h-1zM23 109h1v1h-1zM28 109h2v1h-2zM36 109h1v1h-1zM42 109h1v1h-1zM44 109h2v1h-2zM47 109h2v1h-2zM64 109h1v1h-1zM67 109h1v1h-1zM71 109h1v1h-1zM88 109h1v1h-1zM112 109h1v1h-1zM1 108h1v1h-1zM29 108h1v1h-1zM50 108h2v1h-2zM53 108h1v1h-1zM56 108h2v1h-2zM60 108h1v1h-1zM69 108h4v1h-4zM87 108h1v1h-1zM92 108h2v1h-2zM100 108h1v1h-1zM104 108h1v1h-1zM118 108h1v1h-1zM11 107h1v1h-1zM15 107h2v1h-2zM26 107h1v1h-1zM50 107h1v1h-1zM60 107h1v1h-1zM63 107h1v1h-1zM74 107h4v1h-4zM95 107h1v1h-1zM99 107h1v1h-1zM104 107h1v1h-1zM106 107h1v1h-1zM110 107h1v1h-1zM15 106h1v1h-1zM21 106h1v1h-1zM26 106h1v1h-1zM30 106h1v1h-1zM44 106h1v1h-1zM50 106h1v1h-1zM52 106h1v1h-1zM56 106h2v1h-2zM70 106h1v1h-1zM92 106h3v1h-3zM99 106h2v1h-2zM114 106h1v1h-1zM150 106h1v1h-1zM1 105h1v1h-1zM11 105h1v1h-1zM13 105h1v1h-1zM22 105h1v1h-1zM29 105h1v1h-1zM56 105h1v1h-1zM60 105h1v1h-1zM63 105h2v1h-2zM71 105h1v1h-1zM74 105h2v1h-2zM77 105h2v1h-2zM81 105h1v1h-1zM86 105h1v1h-1zM114 105h1v1h-1zM116 105h1v1h-1zM135 105h1v1h-1zM14 104h1v1h-1zM20 104h1v1h-1zM25 104h1v1h-1zM39 104h1v1h-1zM69 104h1v1h-1zM75 104h3v1h-3zM95 104h1v1h-1zM100 104h2v1h-2zM118 104h1v1h-1zM14 103h1v1h-1zM20 103h1v1h-1zM23 103h1v1h-1zM44 103h1v1h-1zM51 103h1v1h-1zM70 103h1v1h-1zM82 103h1v1h-1zM95 103h1v1h-1zM98 103h1v1h-1zM101 103h1v1h-1zM118 103h1v1h-1zM120 103h1v1h-1zM1 102h1v1h-1zM12 102h2v1h-2zM23 102h2v1h-2zM26 102h2v1h-2zM29 102h1v1h-1zM36 102h1v1h-1zM39 102h1v1h-1zM46 102h1v1h-1zM50 102h1v1h-1zM64 102h1v1h-1zM79 102h1v1h-1zM83 102h1v1h-1zM85 102h2v1h-2zM89 102h1v1h-1zM92 102h1v1h-1zM102 102h1v1h-1zM112 102h1v1h-1zM135 102h1v1h-1zM145 102h1v1h-1zM0 101h1v1h-1zM34 101h1v1h-1zM85 101h1v1h-1zM99 101h1v1h-1zM105 101h1v1h-1zM110 101h1v1h-1zM118 101h1v1h-1zM150 101h1v1h-1zM13 100h1v1h-1zM19 100h1v1h-1zM37 100h1v1h-1zM41 100h1v1h-1zM47 100h1v1h-1zM49 100h1v1h-1zM54 100h4v1h-4zM60 100h1v1h-1zM62 100h1v1h-1zM78 100h1v1h-1zM95 100h1v1h-1zM97 100h1v1h-1zM99 100h1v1h-1zM103 100h1v1h-1zM3 99h1v1h-1zM9 99h1v1h-1zM22 99h1v1h-1zM29 99h1v1h-1zM45 99h1v1h-1zM48 99h1v1h-1zM59 99h1v1h-1zM66 99h1v1h-1zM83 99h1v1h-1zM91 99h1v1h-1zM93 99h1v1h-1zM96 99h1v1h-1zM99 99h2v1h-2zM110 99h1v1h-1zM120 99h1v1h-1zM140 99h1v1h-1zM7 98h1v1h-1zM11 98h2v1h-2zM54 98h1v1h-1zM60 98h2v1h-2zM67 98h3v1h-3zM73 98h1v1h-1zM82 98h1v1h-1zM86 98h2v1h-2zM98 98h1v1h-1zM100 98h1v1h-1zM102 98h1v1h-1zM11 97h1v1h-1zM15 97h2v1h-2zM22 97h1v1h-1zM36 97h1v1h-1zM44 97h1v1h-1zM55 97h2v1h-2zM67 97h1v1h-1zM81 97h1v1h-1zM87 97h2v1h-2zM93 97h1v1h-1zM97 97h1v1h-1zM101 97h1v1h-1zM130 97h1v1h-1zM3 96h2v1h-2zM14 96h1v1h-1zM16 96h1v1h-1zM23 96h3v1h-3zM27 96h1v1h-1zM40 96h1v1h-1zM50 96h1v1h-1zM63 96h1v1h-1zM88 96h1v1h-1zM91 96h1v1h-1zM98 96h1v1h-1zM103 96h1v1h-1zM150 96h1v1h-1zM14 95h2v1h-2zM25 95h2v1h-2zM38 95h1v1h-1zM49 95h1v1h-1zM71 95h1v1h-1zM80 95h1v1h-1zM82 95h2v1h-2zM135 95h1v1h-1zM145 95h1v1h-1zM150 95h1v1h-1zM23 94h1v1h-1zM36 94h2v1h-2zM47 94h1v1h-1zM63 94h2v1h-2zM68 94h2v1h-2zM71 94h2v1h-2zM81 94h2v1h-2zM87 94h1v1h-1zM90 94h3v1h-3zM94 94h2v1h-2zM102 94h1v1h-1zM110 94h1v1h-1zM116 94h1v1h-1zM120 94h1v1h-1zM135 94h1v1h-1zM140 94h1v1h-1zM10 93h3v1h-3zM16 93h1v1h-1zM18 93h1v1h-1zM31 93h1v1h-1zM34 93h1v1h-1zM36 93h2v1h-2zM39 93h1v1h-1zM48 93h1v1h-1zM52 93h1v1h-1zM56 93h1v1h-1zM59 93h1v1h-1zM64 93h1v1h-1zM68 93h1v1h-1zM75 93h1v1h-1zM77 93h1v1h-1zM85 93h1v1h-1zM89 93h1v1h-1zM99 93h1v1h-1zM103 93h1v1h-1zM105 93h1v1h-1zM118 93h1v1h-1zM0 92h1v1h-1zM19 92h1v1h-1zM22 92h1v1h-1zM34 92h1v1h-1zM36 92h1v1h-1zM48 92h1v1h-1zM58 92h1v1h-1zM60 92h1v1h-1zM66 92h2v1h-2zM77 92h1v1h-1zM81 92h1v1h-1zM105 92h1v1h-1zM112 92h1v1h-1zM19 91h2v1h-2zM25 91h2v1h-2zM34 91h1v1h-1zM36 91h1v1h-1zM42 91h2v1h-2zM52 91h1v1h-1zM66 91h1v1h-1zM80 91h1v1h-1zM82 91h1v1h-1zM85 91h1v1h-1zM94 91h1v1h-1zM97 91h1v1h-1zM103 91h1v1h-1zM118 91h1v1h-1zM135 91h1v1h-1zM0 90h1v1h-1zM3 90h2v1h-2zM6 90h1v1h-1zM19 90h1v1h-1zM33 90h1v1h-1zM50 90h1v1h-1zM54 90h1v1h-1zM56 90h1v1h-1zM83 90h2v1h-2zM96 90h1v1h-1zM101 90h2v1h-2zM112 90h1v1h-1zM125 90h1v1h-1zM130 90h1v1h-1zM0 89h1v1h-1zM3 89h1v1h-1zM12 89h1v1h-1zM15 89h2v1h-2zM28 89h3v1h-3zM38 89h1v1h-1zM45 89h1v1h-1zM51 89h1v1h-1zM53 89h1v1h-1zM55 89h1v1h-1zM64 89h1v1h-1zM67 89h1v1h-1zM82 89h1v1h-1zM86 89h4v1h-4zM99 89h1v1h-1zM116 89h1v1h-1zM118 89h1v1h-1zM120 89h1v1h-1zM125 89h1v1h-1zM3 88h1v1h-1zM19 88h1v1h-1zM27 88h1v1h-1zM29 88h1v1h-1zM32 88h1v1h-1zM34 88h1v1h-1zM39 88h1v1h-1zM59 88h1v1h-1zM69 88h1v1h-1zM79 88h1v1h-1zM87 88h1v1h-1zM97 88h1v1h-1zM103 88h1v1h-1zM116 88h1v1h-1zM118 88h1v1h-1zM120 88h1v1h-1zM125 88h1v1h-1zM130 88h1v1h-1zM135 88h1v1h-1zM150 88h1v1h-1zM5 87h1v1h-1zM31 87h1v1h-1zM38 87h1v1h-1zM41 87h1v1h-1zM50 87h1v1h-1zM65 87h1v1h-1zM72 87h1v1h-1zM82 87h1v1h-1zM88 87h2v1h-2zM93 87h1v1h-1zM95 87h1v1h-1zM99 87h1v1h-1zM104 87h1v1h-1zM135 87h1v1h-1zM150 87h1v1h-1zM0 86h1v1h-1zM11 86h2v1h-2zM27 86h1v1h-1zM53 86h1v1h-1zM58 86h1v1h-1zM63 86h1v1h-1zM79 86h3v1h-3zM91 86h1v1h-1zM102 86h1v1h-1zM108 86h1v1h-1zM112 86h1v1h-1zM118 86h1v1h-1zM120 86h1v1h-1zM140 86h1v1h-1zM8 85h1v1h-1zM11 85h2v1h-2zM22 85h1v1h-1zM25 85h1v1h-1zM56 85h1v1h-1zM70 85h1v1h-1zM72 85h1v1h-1zM77 85h1v1h-1zM81 85h2v1h-2zM84 85h2v1h-2zM114 85h1v1h-1zM3 84h1v1h-1zM8 84h1v1h-1zM13 84h1v1h-1zM17 84h2v1h-2zM26 84h1v1h-1zM38 84h1v1h-1zM56 84h2v1h-2zM75 84h1v1h-1zM92 84h1v1h-1zM108 84h1v1h-1zM130 84h1v1h-1zM10 83h1v1h-1zM23 83h1v1h-1zM28 83h1v1h-1zM33 83h1v1h-1zM43 83h1v1h-1zM46 83h1v1h-1zM49 83h2v1h-2zM54 83h1v1h-1zM58 83h1v1h-1zM61 83h1v1h-1zM67 83h1v1h-1zM78 83h2v1h-2zM81 83h1v1h-1zM85 83h1v1h-1zM97 83h1v1h-1zM125 83h1v1h-1zM2 82h1v1h-1zM20 82h1v1h-1zM22 82h1v1h-1zM47 82h2v1h-2zM62 82h1v1h-1zM75 82h2v1h-2zM80 82h1v1h-1zM85 82h1v1h-1zM88 82h1v1h-1zM95 82h1v1h-1zM106 82h1v1h-1zM4 81h1v1h-1zM12 81h1v1h-1zM28 81h2v1h-2zM39 81h1v1h-1zM41 81h2v1h-2zM44 81h1v1h-1zM54 81h1v1h-1zM57 81h1v1h-1zM72 81h1v1h-1zM79 81h1v1h-1zM84 81h2v1h-2zM91 81h1v1h-1zM96 81h2v1h-2zM99 81h1v1h-1zM114 81h1v1h-1zM118 81h1v1h-1zM135 81h1v1h-1zM7 80h1v1h-1zM11 80h1v1h-1zM14 80h1v1h-1zM16 80h1v1h-1zM34 80h1v1h-1zM37 80h2v1h-2zM55 80h2v1h-2zM63 80h1v1h-1zM96 80h1v1h-1zM99 80h1v1h-1zM103 80h1v1h-1zM112 80h1v1h-1zM5 79h2v1h-2zM9 79h1v1h-1zM14 79h1v1h-1zM18 79h1v1h-1zM21 79h3v1h-3zM25 79h1v1h-1zM34 79h1v1h-1zM51 79h1v1h-1zM60 79h1v1h-1zM62 79h1v1h-1zM70 79h1v1h-1zM72 79h3v1h-3zM82 79h1v1h-1zM90 79h1v1h-1zM100 79h1v1h-1zM106 79h1v1h-1zM118 79h1v1h-1zM135 79h1v1h-1zM8 78h2v1h-2zM11 78h1v1h-1zM20 78h1v1h-1zM25 78h1v1h-1zM27 78h1v1h-1zM31 78h2v1h-2zM37 78h3v1h-3zM41 78h1v1h-1zM53 78h1v1h-1zM59 78h1v1h-1zM74 78h1v1h-1zM78 78h1v1h-1zM85 78h1v1h-1zM105 78h1v1h-1zM116 78h1v1h-1zM2 77h1v1h-1zM6 77h1v1h-1zM19 77h1v1h-1zM30 77h3v1h-3zM49 77h1v1h-1zM54 77h1v1h-1zM66 77h1v1h-1zM73 77h1v1h-1zM81 77h1v1h-1zM97 77h1v1h-1zM101 77h1v1h-1zM104 77h1v1h-1zM130 77h1v1h-1zM140 77h1v1h-1zM7 76h1v1h-1zM11 76h1v1h-1zM20 76h1v1h-1zM23 76h1v1h-1zM39 76h2v1h-2zM44 76h1v1h-1zM49 76h1v1h-1zM53 76h1v1h-1zM56 76h1v1h-1zM76 76h1v1h-1zM81 76h1v1h-1zM93 76h1v1h-1zM102 76h2v1h-2zM120 76h1v1h-1zM3 75h3v1h-3zM26 75h1v1h-1zM29 75h2v1h-2zM39 75h1v1h-1zM45 75h1v1h-1zM72 75h1v1h-1zM94 75h1v1h-1zM96 75h1v1h-1zM110 75h1v1h-1zM145 75h1v1h-1zM0 74h1v1h-1zM11 74h1v1h-1zM18 74h2v1h-2zM25 74h2v1h-2zM34 74h1v1h-1zM37 74h1v1h-1zM46 74h1v1h-1zM54 74h1v1h-1zM63 74h1v1h-1zM72 74h1v1h-1zM77 74h1v1h-1zM88 74h1v1h-1zM96 74h1v1h-1zM112 74h1v1h-1zM114 74h1v1h-1zM116 74h1v1h-1zM118 74h1v1h-1zM120 74h1v1h-1zM17 73h1v1h-1zM36 73h1v1h-1zM46 73h1v1h-1zM48 73h1v1h-1zM59 73h1v1h-1zM61 73h1v1h-1zM68 73h2v1h-2zM85 73h1v1h-1zM90 73h1v1h-1zM94 73h1v1h-1zM96 73h1v1h-1zM98 73h1v1h-1zM104 73h1v1h-1zM108 73h1v1h-1zM116 73h1v1h-1zM140 73h1v1h-1zM2 72h2v1h-2zM5 72h1v1h-1zM24 72h1v1h-1zM33 72h1v1h-1zM46 72h2v1h-2zM56 72h2v1h-2zM60 72h1v1h-1zM65 72h1v1h-1zM69 72h1v1h-1zM78 72h1v1h-1zM83 72h1v1h-1zM86 72h1v1h-1zM100 72h1v1h-1zM106 72h1v1h-1zM130 72h1v1h-1zM135 72h1v1h-1zM145 72h1v1h-1zM3 71h1v1h-1zM12 71h1v1h-1zM16 71h1v1h-1zM22 71h1v1h-1zM28 71h1v1h-1zM38 71h1v1h-1zM49 71h2v1h-2zM58 71h1v1h-1zM70 71h1v1h-1zM91 71h1v1h-1zM94 71h1v1h-1zM99 71h2v1h-2zM102 71h1v1h-1zM105 71h1v1h-1zM112 71h1v1h-1zM118 71h1v1h-1zM120 71h1v1h-1zM7 70h1v1h-1zM22 70h1v1h-1zM38 70h1v1h-1zM46 70h1v1h-1zM54 70h1v1h-1zM57 70h1v1h-1zM60 70h1v1h-1zM78 70h3v1h-3zM85 70h1v1h-1zM88 70h1v1h-1zM92 70h1v1h-1zM103 70h1v1h-1zM114 70h1v1h-1zM150 70h1v1h-1zM7 69h2v1h-2zM11 69h2v1h-2zM21 69h1v1h-1zM40 69h1v1h-1zM46 69h1v1h-1zM51 69h1v1h-1zM64 69h1v1h-1zM72 69h1v1h-1zM75 69h1v1h-1zM81 69h2v1h-2zM88 69h1v1h-1zM90 69h2v1h-2zM102 69h2v1h-2zM106 69h1v1h-1zM114 69h1v1h-1zM135 69h1v1h-1zM150 69h1v1h-1zM4 68h1v1h-1zM7 68h1v1h-1zM12 68h1v1h-1zM16 68h1v1h-1zM18 68h2v1h-2zM29 68h1v1h-1zM39 68h1v1h-1zM42 68h2v1h-2zM48 68h2v1h-2zM58 68h1v1h-1zM64 68h1v1h-1zM68 68h1v1h-1zM73 68h1v1h-1zM84 68h2v1h-2zM88 68h2v1h-2zM135 68h1v1h-1zM14 67h1v1h-1zM16 67h1v1h-1zM19 67h1v1h-1zM26 67h1v1h-1zM43 67h1v1h-1zM60 67h1v1h-1zM72 67h1v1h-1zM77 67h1v1h-1zM80 67h1v1h-1zM84 67h2v1h-2zM135 67h1v1h-1zM140 67h1v1h-1zM18 66h1v1h-1zM21 66h1v1h-1zM29 66h1v1h-1zM33 66h2v1h-2zM38 66h1v1h-1zM41 66h1v1h-1zM43 66h1v1h-1zM46 66h1v1h-1zM49 66h2v1h-2zM60 66h1v1h-1zM68 66h1v1h-1zM71 66h1v1h-1zM81 66h1v1h-1zM84 66h3v1h-3zM145 66h1v1h-1zM5 65h1v1h-1zM9 65h1v1h-1zM17 65h1v1h-1zM29 65h1v1h-1zM39 65h1v1h-1zM44 65h1v1h-1zM48 65h2v1h-2zM59 65h1v1h-1zM70 65h1v1h-1zM72 65h1v1h-1zM80 65h1v1h-1zM90 65h1v1h-1zM102 65h1v1h-1zM116 65h1v1h-1zM120 65h1v1h-1zM23 64h1v1h-1zM27 64h1v1h-1zM30 64h1v1h-1zM37 64h1v1h-1zM39 64h3v1h-3zM45 64h1v1h-1zM57 64h1v1h-1zM65 64h1v1h-1zM69 64h1v1h-1zM86 64h2v1h-2zM102 64h1v1h-1zM116 64h1v1h-1zM11 63h2v1h-2zM16 63h1v1h-1zM29 63h1v1h-1zM32 63h1v1h-1zM44 63h1v1h-1zM78 63h2v1h-2zM86 63h1v1h-1zM91 63h1v1h-1zM96 63h1v1h-1zM99 63h1v1h-1zM101 63h1v1h-1zM116 63h1v1h-1zM150 63h1v1h-1zM5 62h1v1h-1zM18 62h1v1h-1zM26 62h1v1h-1zM36 62h1v1h-1zM38 62h1v1h-1zM42 62h1v1h-1zM50 62h1v1h-1zM80 62h1v1h-1zM84 62h1v1h-1zM98 62h3v1h-3zM103 62h1v1h-1zM105 62h1v1h-1zM112 62h1v1h-1zM118 62h1v1h-1zM150 62h1v1h-1zM5 61h1v1h-1zM23 61h1v1h-1zM26 61h1v1h-1zM31 61h1v1h-1zM35 61h1v1h-1zM44 61h1v1h-1zM62 61h2v1h-2zM69 61h1v1h-1zM76 61h1v1h-1zM86 61h2v1h-2zM98 61h1v1h-1zM101 61h1v1h-1zM118 61h1v1h-1zM5 60h1v1h-1zM12 60h1v1h-1zM16 60h1v1h-1zM21 60h1v1h-1zM27 60h1v1h-1zM39 60h1v1h-1zM42 60h1v1h-1zM46 60h1v1h-1zM50 60h1v1h-1zM60 60h1v1h-1zM66 60h1v1h-1zM68 60h1v1h-1zM79 60h1v1h-1zM93 60h1v1h-1zM99 60h1v1h-1zM108 60h1v1h-1zM116 60h1v1h-1zM125 60h1v1h-1zM10 59h1v1h-1zM17 59h1v1h-1zM23 59h1v1h-1zM38 59h1v1h-1zM49 59h1v1h-1zM54 59h1v1h-1zM64 59h1v1h-1zM70 59h1v1h-1zM87 59h1v1h-1zM91 59h1v1h-1zM94 59h1v1h-1zM97 59h2v1h-2zM104 59h1v1h-1zM108 59h1v1h-1zM140 59h1v1h-1zM4 58h1v1h-1zM26 58h1v1h-1zM30 58h1v1h-1zM33 58h2v1h-2zM58 58h1v1h-1zM68 58h1v1h-1zM70 58h1v1h-1zM78 58h1v1h-1zM97 58h2v1h-2zM112 58h1v1h-1zM118 58h1v1h-1zM145 58h1v1h-1zM9 57h1v1h-1zM28 57h1v1h-1zM30 57h1v1h-1zM36 57h1v1h-1zM39 57h1v1h-1zM43 57h1v1h-1zM49 57h1v1h-1zM60 57h1v1h-1zM75 57h1v1h-1zM78 57h3v1h-3zM87 57h1v1h-1zM89 57h1v1h-1zM99 57h2v1h-2zM104 57h1v1h-1zM106 57h1v1h-1zM114 57h1v1h-1zM116 57h1v1h-1zM120 57h1v1h-1zM140 57h1v1h-1zM26 56h1v1h-1zM33 56h1v1h-1zM45 56h1v1h-1zM48 56h2v1h-2zM51 56h1v1h-1zM56 56h1v1h-1zM73 56h2v1h-2zM76 56h1v1h-1zM135 56h1v1h-1zM4 55h1v1h-1zM11 55h1v1h-1zM18 55h2v1h-2zM30 55h1v1h-1zM37 55h1v1h-1zM50 55h2v1h-2zM77 55h1v1h-1zM79 55h1v1h-1zM83 55h1v1h-1zM100 55h1v1h-1zM106 55h1v1h-1zM110 55h1v1h-1zM120 55h1v1h-1zM135 55h1v1h-1zM15 54h1v1h-1zM22 54h2v1h-2zM53 54h1v1h-1zM61 54h2v1h-2zM67 54h2v1h-2zM73 54h2v1h-2zM91 54h1v1h-1zM104 54h1v1h-1zM112 54h1v1h-1zM150 54h1v1h-1zM1 53h1v1h-1zM10 53h1v1h-1zM14 53h2v1h-2zM18 53h1v1h-1zM24 53h1v1h-1zM27 53h1v1h-1zM35 53h1v1h-1zM37 53h2v1h-2zM57 53h2v1h-2zM60 53h1v1h-1zM66 53h1v1h-1zM73 53h1v1h-1zM83 53h2v1h-2zM88 53h1v1h-1zM90 53h1v1h-1zM101 53h1v1h-1zM103 53h1v1h-1zM118 53h1v1h-1zM125 53h1v1h-1zM145 53h1v1h-1zM8 52h1v1h-1zM16 52h1v1h-1zM38 52h1v1h-1zM45 52h1v1h-1zM49 52h1v1h-1zM61 52h1v1h-1zM67 52h1v1h-1zM73 52h1v1h-1zM83 52h1v1h-1zM112 52h1v1h-1zM140 52h1v1h-1zM150 52h1v1h-1zM14 51h1v1h-1zM23 51h1v1h-1zM28 51h1v1h-1zM63 51h1v1h-1zM78 51h1v1h-1zM81 51h1v1h-1zM98 51h1v1h-1zM114 51h1v1h-1zM125 51h1v1h-1zM135 51h1v1h-1zM145 51h1v1h-1zM150 51h1v1h-1zM2 50h1v1h-1zM10 50h1v1h-1zM29 50h2v1h-2zM32 50h2v1h-2zM35 50h1v1h-1zM39 50h1v1h-1zM47 50h1v1h-1zM73 50h2v1h-2zM81 50h1v1h-1zM83 50h1v1h-1zM85 50h1v1h-1zM112 50h1v1h-1zM125 50h1v1h-1zM9 49h1v1h-1zM13 49h1v1h-1zM17 49h1v1h-1zM23 49h1v1h-1zM29 49h1v1h-1zM37 49h3v1h-3zM45 49h2v1h-2zM60 49h1v1h-1zM64 49h1v1h-1zM69 49h1v1h-1zM77 49h1v1h-1zM81 49h1v1h-1zM91 49h1v1h-1zM100 49h1v1h-1zM102 49h1v1h-1zM106 49h1v1h-1zM114 49h1v1h-1zM118 49h1v1h-1zM3 48h1v1h-1zM19 48h2v1h-2zM26 48h1v1h-1zM33 48h1v1h-1zM37 48h2v1h-2zM45 48h1v1h-1zM47 48h1v1h-1zM55 48h1v1h-1zM59 48h1v1h-1zM67 48h1v1h-1zM71 48h2v1h-2zM88 48h2v1h-2zM97 48h1v1h-1zM99 48h1v1h-1zM103 48h1v1h-1zM145 48h1v1h-1zM0 47h1v1h-1zM10 47h1v1h-1zM16 47h1v1h-1zM18 47h1v1h-1zM49 47h1v1h-1zM52 47h1v1h-1zM62 47h2v1h-2zM66 47h1v1h-1zM83 47h1v1h-1zM86 47h1v1h-1zM91 47h1v1h-1zM96 47h1v1h-1zM116 47h1v1h-1zM118 47h1v1h-1zM130 47h1v1h-1zM150 47h1v1h-1zM0 46h1v1h-1zM3 46h1v1h-1zM11 46h1v1h-1zM23 46h1v1h-1zM28 46h1v1h-1zM31 46h1v1h-1zM34 46h1v1h-1zM38 46h1v1h-1zM40 46h1v1h-1zM43 46h1v1h-1zM64 46h1v1h-1zM67 46h1v1h-1zM87 46h1v1h-1zM104 46h1v1h-1zM130 46h1v1h-1zM2 45h2v1h-2zM7 45h1v1h-1zM11 45h1v1h-1zM22 45h1v1h-1zM28 45h1v1h-1zM43 45h1v1h-1zM59 45h2v1h-2zM66 45h1v1h-1zM68 45h1v1h-1zM88 45h1v1h-1zM94 45h1v1h-1zM104 45h2v1h-2zM108 45h1v1h-1zM112 45h1v1h-1zM114 45h1v1h-1zM130 45h1v1h-1zM140 45h1v1h-1zM145 45h1v1h-1zM0 44h1v1h-1zM5 44h1v1h-1zM10 44h1v1h-1zM23 44h1v1h-1zM29 44h1v1h-1zM40 44h1v1h-1zM47 44h1v1h-1zM52 44h1v1h-1zM72 44h2v1h-2zM84 44h1v1h-1zM91 44h1v1h-1zM97 44h2v1h-2zM106 44h1v1h-1zM130 44h1v1h-1zM135 44h1v1h-1zM1 43h1v1h-1zM3 43h1v1h-1zM11 43h1v1h-1zM20 43h1v1h-1zM26 43h1v1h-1zM28 43h1v1h-1zM53 43h2v1h-2zM57 43h2v1h-2zM65 43h1v1h-1zM73 43h1v1h-1zM80 43h1v1h-1zM84 43h1v1h-1zM86 43h2v1h-2zM93 43h2v1h-2zM135 43h1v1h-1zM17 42h1v1h-1zM19 42h1v1h-1zM37 42h1v1h-1zM43 42h3v1h-3zM48 42h1v1h-1zM58 42h1v1h-1zM60 42h1v1h-1zM63 42h1v1h-1zM78 42h1v1h-1zM83 42h1v1h-1zM90 42h1v1h-1zM101 42h1v1h-1zM108 42h1v1h-1zM118 42h1v1h-1zM120 42h1v1h-1zM125 42h1v1h-1zM145 42h1v1h-1zM0 41h1v1h-1zM19 41h1v1h-1zM34 41h1v1h-1zM44 41h3v1h-3zM52 41h1v1h-1zM56 41h1v1h-1zM66 41h2v1h-2zM69 41h1v1h-1zM71 41h1v1h-1zM81 41h2v1h-2zM88 41h1v1h-1zM92 41h1v1h-1zM105 41h1v1h-1zM110 41h1v1h-1zM114 41h1v1h-1zM116 41h1v1h-1zM1 40h1v1h-1zM20 40h1v1h-1zM23 40h1v1h-1zM25 40h1v1h-1zM40 40h1v1h-1zM49 40h1v1h-1zM51 40h1v1h-1zM57 40h1v1h-1zM61 40h1v1h-1zM70 40h1v1h-1zM76 40h1v1h-1zM81 40h1v1h-1zM90 40h2v1h-2zM100 40h1v1h-1zM103 40h1v1h-1zM106 40h1v1h-1zM114 40h1v1h-1zM130 40h1v1h-1zM140 40h1v1h-1zM1 39h2v1h-2zM12 39h2v1h-2zM18 39h1v1h-1zM22 39h1v1h-1zM26 39h1v1h-1zM38 39h1v1h-1zM66 39h1v1h-1zM89 39h1v1h-1zM97 39h2v1h-2zM100 39h1v1h-1zM120 39h1v1h-1zM18 38h1v1h-1zM25 38h1v1h-1zM27 38h1v1h-1zM41 38h1v1h-1zM47 38h1v1h-1zM59 38h1v1h-1zM77 38h2v1h-2zM87 38h2v1h-2zM95 38h1v1h-1zM105 38h1v1h-1zM116 38h1v1h-1zM135 38h1v1h-1zM22 37h1v1h-1zM28 37h2v1h-2zM33 37h1v1h-1zM39 37h1v1h-1zM42 37h1v1h-1zM46 37h1v1h-1zM59 37h1v1h-1zM65 37h1v1h-1zM71 37h2v1h-2zM74 37h1v1h-1zM76 37h1v1h-1zM80 37h1v1h-1zM86 37h1v1h-1zM88 37h1v1h-1zM91 37h2v1h-2zM95 37h1v1h-1zM97 37h2v1h-2zM108 37h1v1h-1zM125 37h1v1h-1zM12 36h2v1h-2zM18 36h1v1h-1zM30 36h1v1h-1zM38 36h2v1h-2zM42 36h1v1h-1zM46 36h1v1h-1zM52 36h3v1h-3zM59 36h1v1h-1zM63 36h1v1h-1zM90 36h2v1h-2zM9 35h1v1h-1zM31 35h1v1h-1zM34 35h1v1h-1zM41 35h1v1h-1zM52 35h2v1h-2zM55 35h1v1h-1zM62 35h1v1h-1zM81 35h1v1h-1zM86 35h1v1h-1zM99 35h1v1h-1zM5 34h1v1h-1zM15 34h1v1h-1zM19 34h1v1h-1zM23 34h1v1h-1zM38 34h1v1h-1zM61 34h1v1h-1zM64 34h3v1h-3zM68 34h1v1h-1zM70 34h1v1h-1zM75 34h1v1h-1zM79 34h1v1h-1zM83 34h1v1h-1zM88 34h1v1h-1zM92 34h1v1h-1zM100 34h1v1h-1zM105 34h2v1h-2zM118 34h1v1h-1zM3 33h1v1h-1zM31 33h1v1h-1zM40 33h3v1h-3zM61 33h1v1h-1zM63 33h1v1h-1zM88 33h1v1h-1zM92 33h1v1h-1zM100 33h2v1h-2zM116 33h1v1h-1zM5 32h1v1h-1zM12 32h1v1h-1zM16 32h1v1h-1zM19 32h2v1h-2zM28 32h2v1h-2zM41 32h1v1h-1zM49 32h1v1h-1zM51 32h1v1h-1zM63 32h2v1h-2zM73 32h1v1h-1zM75 32h2v1h-2zM87 32h4v1h-4zM112 32h1v1h-1zM125 32h1v1h-1zM2 31h1v1h-1zM10 31h1v1h-1zM22 31h2v1h-2zM32 31h1v1h-1zM41 31h1v1h-1zM43 31h3v1h-3zM55 31h2v1h-2zM62 31h1v1h-1zM73 31h2v1h-2zM81 31h1v1h-1zM83 31h2v1h-2zM90 31h1v1h-1zM93 31h1v1h-1zM95 31h3v1h-3zM100 31h1v1h-1zM112 31h1v1h-1zM118 31h1v1h-1zM120 31h1v1h-1zM2 30h1v1h-1zM18 30h1v1h-1zM22 30h1v1h-1zM35 30h1v1h-1zM38 30h1v1h-1zM40 30h1v1h-1zM59 30h1v1h-1zM62 30h1v1h-1zM66 30h1v1h-1zM76 30h1v1h-1zM78 30h1v1h-1zM81 30h1v1h-1zM89 30h1v1h-1zM118 30h1v1h-1zM4 29h1v1h-1zM13 29h1v1h-1zM20 29h1v1h-1zM23 29h1v1h-1zM26 29h1v1h-1zM32 29h2v1h-2zM44 29h1v1h-1zM51 29h2v1h-2zM59 29h2v1h-2zM66 29h1v1h-1zM80 29h1v1h-1zM86 29h1v1h-1zM98 29h2v1h-2zM101 29h1v1h-1zM108 29h1v1h-1zM112 29h1v1h-1zM114 29h1v1h-1zM116 29h1v1h-1zM118 29h1v1h-1zM130 29h1v1h-1zM11 28h1v1h-1zM30 28h1v1h-1zM41 28h3v1h-3zM57 28h1v1h-1zM59 28h2v1h-2zM65 28h1v1h-1zM68 28h1v1h-1zM80 28h2v1h-2zM84 28h1v1h-1zM97 28h1v1h-1zM99 28h1v1h-1zM101 28h1v1h-1zM12 27h1v1h-1zM40 27h1v1h-1zM83 27h1v1h-1zM86 27h1v1h-1zM88 27h1v1h-1zM90 27h1v1h-1zM106 27h1v1h-1zM110 27h1v1h-1zM145 27h1v1h-1zM10 26h2v1h-2zM22 26h1v1h-1zM25 26h1v1h-1zM28 26h1v1h-1zM36 26h1v1h-1zM38 26h1v1h-1zM44 26h1v1h-1zM48 26h1v1h-1zM53 26h1v1h-1zM64 26h3v1h-3zM72 26h1v1h-1zM75 26h1v1h-1zM83 26h1v1h-1zM100 26h1v1h-1zM105 26h1v1h-1zM2 25h1v1h-1zM5 25h1v1h-1zM9 25h3v1h-3zM19 25h1v1h-1zM24 25h2v1h-2zM42 25h1v1h-1zM44 25h1v1h-1zM60 25h1v1h-1zM62 25h1v1h-1zM70 25h3v1h-3zM74 25h1v1h-1zM91 25h1v1h-1zM96 25h2v1h-2zM110 25h1v1h-1zM112 25h1v1h-1zM114 25h1v1h-1zM125 25h1v1h-1zM19 24h1v1h-1zM23 24h1v1h-1zM26 24h1v1h-1zM29 24h1v1h-1zM34 24h2v1h-2zM37 24h1v1h-1zM40 24h1v1h-1zM46 24h1v1h-1zM53 24h2v1h-2zM57 24h1v1h-1zM65 24h1v1h-1zM68 24h1v1h-1zM71 24h1v1h-1zM73 24h2v1h-2zM86 24h1v1h-1zM91 24h1v1h-1zM97 24h1v1h-1zM114 24h1v1h-1zM140 24h1v1h-1zM13 23h1v1h-1zM22 23h1v1h-1zM25 23h1v1h-1zM34 23h1v1h-1zM49 23h1v1h-1zM53 23h1v1h-1zM56 23h1v1h-1zM58 23h1v1h-1zM64 23h1v1h-1zM72 23h2v1h-2zM75 23h1v1h-1zM82 23h2v1h-2zM85 23h1v1h-1zM87 23h1v1h-1zM90 23h3v1h-3zM105 23h1v1h-1zM108 23h1v1h-1zM120 23h1v1h-1zM145 23h1v1h-1zM4 22h1v1h-1zM23 22h1v1h-1zM40 22h2v1h-2zM48 22h2v1h-2zM59 22h2v1h-2zM79 22h1v1h-1zM84 22h1v1h-1zM86 22h1v1h-1zM93 22h1v1h-1zM104 22h2v1h-2zM120 22h1v1h-1zM1 21h1v1h-1zM23 21h1v1h-1zM29 21h1v1h-1zM51 21h2v1h-2zM75 21h1v1h-1zM81 21h1v1h-1zM89 21h1v1h-1zM92 21h1v1h-1zM135 21h1v1h-1zM8 20h1v1h-1zM21 20h1v1h-1zM26 20h2v1h-2zM31 20h3v1h-3zM42 20h2v1h-2zM65 20h1v1h-1zM75 20h2v1h-2zM90 20h2v1h-2zM97 20h1v1h-1zM101 20h1v1h-1zM116 20h1v1h-1zM135 20h1v1h-1zM3 19h1v1h-1zM38 19h1v1h-1zM42 19h1v1h-1zM47 19h1v1h-1zM59 19h2v1h-2zM68 19h1v1h-1zM73 19h1v1h-1zM90 19h1v1h-1zM92 19h1v1h-1zM95 19h2v1h-2zM103 19h2v1h-2zM108 19h1v1h-1zM116 19h1v1h-1zM4 18h1v1h-1zM22 18h1v1h-1zM30 18h1v1h-1zM32 18h2v1h-2zM39 18h1v1h-1zM60 18h1v1h-1zM68 18h1v1h-1zM76 18h1v1h-1zM84 18h1v1h-1zM86 18h1v1h-1zM93 18h2v1h-2zM97 18h2v1h-2zM105 18h1v1h-1zM3 17h3v1h-3zM28 17h1v1h-1zM30 17h1v1h-1zM32 17h1v1h-1zM36 17h1v1h-1zM40 17h1v1h-1zM54 17h1v1h-1zM60 17h1v1h-1zM63 17h1v1h-1zM65 17h1v1h-1zM72 17h1v1h-1zM84 17h3v1h-3zM140 17h1v1h-1zM21 16h1v1h-1zM26 16h1v1h-1zM42 16h1v1h-1zM48 16h1v1h-1zM52 16h1v1h-1zM60 16h1v1h-1zM70 16h1v1h-1zM72 16h1v1h-1zM86 16h1v1h-1zM97 16h3v1h-3zM101 16h1v1h-1zM112 16h1v1h-1zM118 16h1v1h-1zM145 16h1v1h-1zM20 15h1v1h-1zM27 15h1v1h-1zM29 15h1v1h-1zM42 15h1v1h-1zM44 15h1v1h-1zM50 15h1v1h-1zM62 15h2v1h-2zM73 15h1v1h-1zM80 15h2v1h-2zM85 15h1v1h-1zM106 15h1v1h-1zM118 15h1v1h-1zM140 15h1v1h-1zM145 15h1v1h-1zM7 14h2v1h-2zM11 14h1v1h-1zM25 14h1v1h-1zM27 14h2v1h-2zM31 14h1v1h-1zM33 14h2v1h-2zM40 14h1v1h-1zM42 14h1v1h-1zM46 14h1v1h-1zM51 14h1v1h-1zM60 14h1v1h-1zM64 14h2v1h-2zM69 14h1v1h-1zM79 14h2v1h-2zM84 14h1v1h-1zM92 14h1v1h-1zM95 14h2v1h-2zM99 14h1v1h-1zM108 14h1v1h-1zM116 14h1v1h-1zM0 13h1v1h-1zM5 13h1v1h-1zM10 13h1v1h-1zM17 13h1v1h-1zM32 13h1v1h-1zM35 13h2v1h-2zM48 13h1v1h-1zM54 13h2v1h-2zM58 13h1v1h-1zM65 13h1v1h-1zM72 13h2v1h-2zM76 13h1v1h-1zM80 13h1v1h-1zM88 13h1v1h-1zM93 13h1v1h-1zM95 13h2v1h-2zM104 13h1v1h-1zM114 13h1v1h-1zM116 13h1v1h-1zM118 13h1v1h-1zM37 12h1v1h-1zM40 12h1v1h-1zM56 12h1v1h-1zM64 12h1v1h-1zM73 12h1v1h-1zM75 12h1v1h-1zM81 12h1v1h-1zM16 11h1v1h-1zM25 11h2v1h-2zM42 11h1v1h-1zM44 11h1v1h-1zM52 11h1v1h-1zM57 11h1v1h-1zM60 11h3v1h-3zM64 11h1v1h-1zM68 11h1v1h-1zM73 11h2v1h-2zM101 11h1v1h-1zM12 10h1v1h-1zM20 10h1v1h-1zM27 10h2v1h-2zM33 10h1v1h-1zM41 10h1v1h-1zM48 10h1v1h-1zM50 10h2v1h-2zM55 10h2v1h-2zM65 10h1v1h-1zM81 10h1v1h-1zM91 10h1v1h-1zM104 10h1v1h-1zM26 9h2v1h-2zM33 9h1v1h-1zM40 9h1v1h-1zM42 9h1v1h-1zM46 9h1v1h-1zM61 9h1v1h-1zM64 9h1v1h-1zM70 9h1v1h-1zM74 9h1v1h-1zM78 9h1v1h-1zM88 9h2v1h-2zM94 9h1v1h-1zM97 9h1v1h-1zM116 9h1v1h-1zM120 9h1v1h-1zM130 9h1v1h-1zM16 8h1v1h-1zM24 8h1v1h-1zM34 8h1v1h-1zM39 8h2v1h-2zM47 8h1v1h-1zM62 8h1v1h-1zM64 8h2v1h-2zM71 8h2v1h-2zM74 8h3v1h-3zM82 8h1v1h-1zM92 8h1v1h-1zM95 8h1v1h-1zM120 8h1v1h-1zM125 8h1v1h-1zM0 7h1v1h-1zM26 7h1v1h-1zM28 7h1v1h-1zM31 7h1v1h-1zM39 7h1v1h-1zM45 7h2v1h-2zM52 7h1v1h-1zM66 7h1v1h-1zM69 7h1v1h-1zM88 7h1v1h-1zM92 7h1v1h-1zM106 7h1v1h-1zM114 7h1v1h-1zM0 6h1v1h-1zM11 6h1v1h-1zM14 6h1v1h-1zM22 6h2v1h-2zM25 6h1v1h-1zM27 6h1v1h-1zM41 6h1v1h-1zM44 6h1v1h-1zM46 6h1v1h-1zM74 6h2v1h-2zM80 6h1v1h-1zM89 6h1v1h-1zM94 6h1v1h-1zM96 6h1v1h-1zM150 6h1v1h-1zM3 5h1v1h-1zM9 5h1v1h-1zM30 5h2v1h-2zM33 5h2v1h-2zM44 5h1v1h-1zM46 5h1v1h-1zM58 5h1v1h-1zM66 5h1v1h-1zM71 5h2v1h-2zM75 5h2v1h-2zM89 5h1v1h-1zM92 5h1v1h-1zM94 5h1v1h-1zM96 5h1v1h-1zM106 5h1v1h-1zM118 5h1v1h-1zM120 5h1v1h-1zM0 4h1v1h-1zM27 4h2v1h-2zM36 4h1v1h-1zM47 4h1v1h-1zM49 4h1v1h-1zM54 4h1v1h-1zM70 4h1v1h-1zM76 4h2v1h-2zM83 4h1v1h-1zM94 4h1v1h-1zM112 4h1v1h-1zM125 4h1v1h-1zM135 4h1v1h-1zM150 4h1v1h-1zM11 3h2v1h-2zM50 3h1v1h-1zM59 3h1v1h-1zM63 3h1v1h-1zM88 3h1v1h-1zM93 3h1v1h-1zM95 3h2v1h-2zM106 3h1v1h-1zM112 3h1v1h-1zM114 3h1v1h-1zM120 3h1v1h-1zM125 3h1v1h-1zM3 2h1v1h-1zM16 2h2v1h-2zM21 2h1v1h-1zM26 2h1v1h-1zM32 2h1v1h-1zM42 2h1v1h-1zM50 2h1v1h-1zM55 2h1v1h-1zM66 2h1v1h-1zM74 2h2v1h-2zM78 2h1v1h-1zM98 2h1v1h-1zM102 2h1v1h-1zM104 2h1v1h-1zM125 2h1v1h-1zM145 2h1v1h-1zM0 1h1v1h-1zM3 1h1v1h-1zM10 1h1v1h-1zM21 1h4v1h-4zM26 1h2v1h-2zM29 1h1v1h-1zM31 1h1v1h-1zM36 1h1v1h-1zM40 1h1v1h-1zM50 1h2v1h-2zM63 1h1v1h-1zM71 1h1v1h-1zM77 1h1v1h-1zM80 1h2v1h-2zM91 1h1v1h-1zM94 1h1v1h-1zM96 1h1v1h-1zM112 1h1v1h-1zM135 1h1v1h-1zM140 1h1v1h-1zM5 0h1v1h-1zM8 0h1v1h-1zM45 0h1v1h-1zM52 0h1v1h-1zM55 0h2v1h-2zM70 0h1v1h-1zM80 0h2v1h-2zM125 0h1v1h-1z"/>
<path fill="#482475" d="M3 404h1v1h-1zM0 394h1v1h-1zM3 394h1v1h-1zM31 394h1v1h-1zM37 394h1v1h-1zM3 393h1v1h-1zM6 393h1v1h-1zM14 393h1v1h-1zM16 393h1v1h-1zM19 393h1v1h-1zM29 393h1v1h-1zM33 393h1v1h-1zM60 393h1v1h-1zM62 393h1v1h-1zM67 393h1v1h-1zM72 393h1v1h-1zM92 393h1v1h-1zM95 393h1v1h-1zM104 393h1v1h-1zM0 392h1v1h-1zM23 392h1v1h-1zM32 392h1v1h-1zM43 392h1v1h-1zM86 392h1v1h-1zM88 392h1v1h-1zM4 391h2v1h-2zM18 391h1v1h-1zM44 391h1v1h-1zM48 391h1v1h-1zM63 391h1v1h-1zM67 391h1v1h-1zM72 391h1v1h-1zM106 391h1v1h-1zM145 391h1v1h-1zM1 390h1v1h-1zM11 390h1v1h-1zM18 390h1v1h-1zM31 390h1v1h-1zM59 390h1v1h-1zM66 390h1v1h-1zM71 390h1v1h-1zM78 390h1v1h-1zM89 390h1v1h-1zM108 390h1v1h-1zM140 390h1v1h-1zM1 389h1v1h-1zM17 389h1v1h-1zM20 389h1v1h-1zM40 389h1v1h-1zM60 389h1v1h-1zM62 389h2v1h-2zM65 389h1v1h-1zM72 389h1v1h-1zM15 388h1v1h-1zM35 388h2v1h-2zM49 388h1v1h-1zM60 388h1v1h-1zM71 388h1v1h-1zM108 388h1v1h-1zM114 388h1v1h-1zM118 388h1v1h-1zM150 388h1v1h-1zM7 387h1v1h-1zM34 387h1v1h-1zM36 387h2v1h-2zM66 387h1v1h-1zM76 387h1v1h-1zM101 387h1v1h-1zM106 387h1v1h-1zM108 387h1v1h-1zM140 387h1v1h-1zM0 386h1v1h-1zM2 386h1v1h-1zM15 386h2v1h-2zM19 386h1v1h-1zM23 386h1v1h-1zM41 386h1v1h-1zM47 386h1v1h-1zM49 386h1v1h-1zM53 386h1v1h-1zM59 386h2v1h-2zM62 386h2v1h-2zM68 386h1v1h-1zM95 386h1v1h-1zM101 386h1v1h-1zM106 386h1v1h-1zM114 386h1v1h-1zM5 385h1v1h-1zM11 385h1v1h-1zM17 385h1v1h-1zM22 385h1v1h-1zM29 385h1v1h-1zM44 385h1v1h-1zM47 385h1v1h-1zM55 385h1v1h-1zM68 385h1v1h-1zM71 385h1v1h-1zM85 385h1v1h-1zM95 385h1v1h-1zM97 385h1v1h-1zM120 385h1v1h-1zM140 385h1v1h-1zM145 385h1v1h-1zM6 384h1v1h-1zM13 384h1v1h-1zM15 384h1v1h-1zM21 384h1v1h-1zM30 384h1v1h-1zM58 384h1v1h-1zM68 384h1v1h-1zM78 384h1v1h-1zM84 384h1v1h-1zM90 384h1v1h-1zM103 384h1v1h-1zM125 384h1v1h-1zM4 383h1v1h-1zM6 383h1v1h-1zM12 383h1v1h-1zM20 383h1v1h-1zM66 383h2v1h-2zM79 383h1v1h-1zM93 383h1v1h-1zM140 383h1v1h-1zM2 382h1v1h-1zM19 382h1v1h-1zM24 382h1v1h-1zM31 382h1v1h-1zM35 382h2v1h-2zM43 382h1v1h-1zM47 382h2v1h-2zM69 382h1v1h-1zM72 382h2v1h-2zM84 382h1v1h-1zM88 382h1v1h-1zM96 382h1v1h-1zM99 382h1v1h-1zM102 382h1v1h-1zM104 382h1v1h-1zM12 381h1v1h-1zM20 381h3v1h-3zM24 381h1v1h-1zM26 381h1v1h-1zM42 381h1v1h-1zM47 381h1v1h-1zM50 381h1v1h-1zM66 381h1v1h-1zM75 381h1v1h-1zM85 381h2v1h-2zM90 381h1v1h-1zM92 381h1v1h-1zM96 381h1v1h-1zM15 380h1v1h-1zM20 380h1v1h-1zM33 380h1v1h-1zM64 380h2v1h-2zM68 380h1v1h-1zM70 380h1v1h-1zM79 380h1v1h-1zM84 380h1v1h-1zM100 380h1v1h-1zM104 380h1v1h-1zM125 380h1v1h-1zM150 380h1v1h-1zM25 379h1v1h-1zM28 379h1v1h-1zM31 379h1v1h-1zM34 379h1v1h-1zM50 379h1v1h-1zM62 379h1v1h-1zM74 379h1v1h-1zM79 379h1v1h-1zM90 379h1v1h-1zM92 379h2v1h-2zM102 379h1v1h-1zM110 379h1v1h-1zM2 378h1v1h-1zM10 378h1v1h-1zM18 378h1v1h-1zM22 378h1v1h-1zM25 378h1v1h-1zM29 378h1v1h-1zM36 378h1v1h-1zM42 378h1v1h-1zM63 378h2v1h-2zM66 378h1v1h-1zM102 378h1v1h-1zM135 378h1v1h-1zM0 377h1v1h-1zM8 377h2v1h-2zM12 377h1v1h-1zM26 377h1v1h-1zM34 377h1v1h-1zM39 377h2v1h-2zM50 377h1v1h-1zM62 377h1v1h-1zM72 377h1v1h-1zM86 377h1v1h-1zM88 377h1v1h-1zM108 377h1v1h-1zM130 377h1v1h-1zM26 376h1v1h-1zM36 376h1v1h-1zM46 376h3v1h-3zM57 376h1v1h-1zM59 376h1v1h-1zM69 376h1v1h-1zM74 376h1v1h-1zM18 375h1v1h-1zM21 375h1v1h-1zM29 375h1v1h-1zM40 375h1v1h-1zM46 375h2v1h-2zM50 375h1v1h-1zM54 375h1v1h-1zM59 375h1v1h-1zM64 375h1v1h-1zM84 375h1v1h-1zM87 375h1v1h-1zM94 375h1v1h-1zM108 375h1v1h-1zM114 375h1v1h-1zM135 375h1v1h-1zM145 375h1v1h-1zM1 374h1v1h-1zM4 374h2v1h-2zM41 374h1v1h-1zM56 374h1v1h-1zM59 374h1v1h-1zM66 374h1v1h-1zM69 374h1v1h-1zM90 374h1v1h-1zM125 374h1v1h-1zM3 373h3v1h-3zM8 373h1v1h-1zM19 373h1v1h-1zM33 373h1v1h-1zM46 373h1v1h-1zM48 373h1v1h-1zM57 373h1v1h-1zM59 373h1v1h-1zM65 373h3v1h-3zM70 373h1v1h-1zM80 373h1v1h-1zM88 373h1v1h-1zM91 373h1v1h-1zM98 373h1v1h-1zM101 373h1v1h-1zM104 373h1v1h-1zM114 373h1v1h-1zM118 373h1v1h-1zM3 372h1v1h-1zM5 372h1v1h-1zM46 372h1v1h-1zM50 372h1v1h-1zM70 372h1v1h-1zM73 372h1v1h-1zM84 372h2v1h-2zM110 372h1v1h-1zM150 372h1v1h-1zM11 371h1v1h-1zM13 371h1v1h-1zM43 371h1v1h-1zM48 371h2v1h-2zM58 371h1v1h-1zM68 371h1v1h-1zM77 371h1v1h-1zM79 371h1v1h-1zM82 371h1v1h-1zM99 371h2v1h-2zM116 371h1v1h-1zM3 370h1v1h-1zM12 370h1v1h-1zM25 370h1v1h-1zM31 370h1v1h-1zM43 370h1v1h-1zM46 370h1v1h-1zM49 370h1v1h-1zM53 370h2v1h-2zM60 370h1v1h-1zM62 370h1v1h-1zM84 370h1v1h-1zM86 370h1v1h-1zM89 370h1v1h-1zM96 370h1v1h-1zM98 370h2v1h-2zM108 370h1v1h-1zM7 369h1v1h-1zM19 369h1v1h-1zM31 369h3v1h-3zM66 369h1v1h-1zM69 369h1v1h-1zM73 369h1v1h-1zM89 369h1v1h-1zM96 369h1v1h-1zM105 369h1v1h-1zM114 369h1v1h-1zM118 369h1v1h-1zM140 369h1v1h-1zM5 368h1v1h-1zM17 368h1v1h-1zM29 368h2v1h-2zM33 368h1v1h-1zM50 368h1v1h-1zM64 368h1v1h-1zM76 368h1v1h-1zM81 368h1v1h-1zM90 368h1v1h-1zM105 368h1v1h-1zM4 367h1v1h-1zM7 367h2v1h-2zM36 367h1v1h-1zM51 367h1v1h-1zM55 367h1v1h-1zM89 367h1v1h-1zM25 366h1v1h-1zM29 366h1v1h-1zM39 366h1v1h-1zM46 366h1v1h-1zM50 366h2v1h-2zM70 366h1v1h-1zM82 366h1v1h-1zM86 366h1v1h-1zM102 366h1v1h-1zM135 366h1v1h-1zM2 365h1v1h-1zM4 365h2v1h-2zM13 365h1v1h-1zM16 365h1v1h-1zM31 365h1v1h-1zM44 365h1v1h-1zM46 365h2v1h-2zM52 365h1v1h-1zM64 365h1v1h-1zM80 365h1v1h-1zM84 365h1v1h-1zM97 365h1v1h-1zM102 365h2v1h-2zM106 365h1v1h-1zM112 365h1v1h-1zM13 364h1v1h-1zM30 364h1v1h-1zM33 364h1v1h-1zM42 364h1v1h-1zM53 364h1v1h-1zM61 364h1v1h-1zM66 364h1v1h-1zM69 364h1v1h-1zM91 364h1v1h-1zM96 364h1v1h-1zM102 364h1v1h-1zM112 364h1v1h-1zM3 363h1v1h-1zM6 363h1v1h-1zM17 363h1v1h-1zM33 363h1v1h-1zM49 363h1v1h-1zM52 363h1v1h-1zM66 363h1v1h-1zM73 363h1v1h-1zM82 363h1v1h-1zM90 363h1v1h-1zM93 363h1v1h-1zM125 363h1v1h-1zM130 363h1v1h-1zM145 363h1v1h-1zM16 362h1v1h-1zM22 362h1v1h-1zM43 362h1v1h-1zM49 362h1v1h-1zM59 362h1v1h-1zM66 362h1v1h-1zM73 362h1v1h-1zM75 362h1v1h-1zM88 362h1v1h-1zM90 362h3v1h-3zM125 362h1v1h-1zM130 362h1v1h-1zM150 362h1v1h-1zM3 361h1v1h-1zM5 361h1v1h-1zM24 361h2v1h-2zM29 361h2v1h-2zM43 361h1v1h-1zM69 361h1v1h-1zM71 361h1v1h-1zM73 361h2v1h-2zM82 361h1v1h-1zM85 361h2v1h-2zM94 361h1v1h-1zM97 361h2v1h-2zM130 361h1v1h-1zM3 360h1v1h-1zM9 360h1v1h-1zM11 360h2v1h-2zM14 360h2v1h-2zM46 360h1v1h-1zM48 360h1v1h-1zM54 360h1v1h-1zM60 360h1v1h-1zM69 360h3v1h-3zM73 360h1v1h-1zM78 360h1v1h-1zM90 360h1v1h-1zM97 360h1v1h-1zM105 360h1v1h-1zM110 360h1v1h-1zM15 359h1v1h-1zM37 359h1v1h-1zM49 359h1v1h-1zM60 359h1v1h-1zM65 359h1v1h-1zM68 359h1v1h-1zM78 359h1v1h-1zM89 359h2v1h-2zM96 359h1v1h-1zM16 358h1v1h-1zM29 358h1v1h-1zM35 358h1v1h-1zM42 358h1v1h-1zM51 358h1v1h-1zM53 358h1v1h-1zM70 358h1v1h-1zM77 358h1v1h-1zM79 358h1v1h-1zM81 358h1v1h-1zM90 358h1v1h-1zM96 358h1v1h-1zM103 358h1v1h-1zM106 358h1v1h-1zM110 358h1v1h-1zM10 357h1v1h-1zM25 357h1v1h-1zM44 357h1v1h-1zM50 357h1v1h-1zM53 357h4v1h-4zM61 357h1v1h-1zM67 357h1v1h-1zM80 357h1v1h-1zM82 357h1v1h-1zM86 357h1v1h-1zM92 357h1v1h-1zM94 357h1v1h-1zM96 357h1v1h-1zM103 357h2v1h-2zM106 357h1v1h-1zM108 357h1v1h-1zM112 357h1v1h-1zM120 357h1v1h-1zM135 357h1v1h-1zM0 356h1v1h-1zM2 356h1v1h-1zM9 356h1v1h-1zM14 356h2v1h-2zM17 356h1v1h-1zM42 356h1v1h-1zM45 356h1v1h-1zM47 356h2v1h-2zM50 356h1v1h-1zM66 356h1v1h-1zM83 356h1v1h-1zM95 356h1v1h-1zM17 355h1v1h-1zM23 355h1v1h-1zM28 355h1v1h-1zM58 355h1v1h-1zM72 355h1v1h-1zM75 355h2v1h-2zM81 355h1v1h-1zM83 355h1v1h-1zM110 355h1v1h-1zM14 354h1v1h-1zM33 354h1v1h-1zM40 354h1v1h-1zM49 354h1v1h-1zM62 354h1v1h-1zM64 354h1v1h-1zM67 354h1v1h-1zM101 354h1v1h-1zM105 354h1v1h-1zM9 353h1v1h-1zM11 353h1v1h-1zM15 353h1v1h-1zM34 353h1v1h-1zM48 353h1v1h-1zM50 353h1v1h-1zM62 353h1v1h-1zM65 353h1v1h-1zM69 353h2v1h-2zM83 353h1v1h-1zM95 353h1v1h-1zM101 353h1v1h-1zM106 353h1v1h-1zM10 352h1v1h-1zM12 352h1v1h-1zM31 352h1v1h-1zM39 352h1v1h-1zM45 352h1v1h-1zM48 352h1v1h-1zM54 352h1v1h-1zM75 352h1v1h-1zM86 352h1v1h-1zM95 352h1v1h-1zM104 352h2v1h-2zM118 352h1v1h-1zM11 351h1v1h-1zM25 351h1v1h-1zM42 351h1v1h-1zM49 351h1v1h-1zM54 351h1v1h-1zM63 351h1v1h-1zM69 351h1v1h-1zM71 351h1v1h-1zM95 351h1v1h-1zM98 351h1v1h-1zM112 351h1v1h-1zM125 351h1v1h-1zM5 350h1v1h-1zM8 350h1v1h-1zM13 350h1v1h-1zM19 350h1v1h-1zM30 350h1v1h-1zM44 350h1v1h-1zM46 350h1v1h-1zM61 350h1v1h-1zM71 350h1v1h-1zM75 350h1v1h-1zM81 350h1v1h-1zM88 350h1v1h-1zM94 350h1v1h-1zM98 350h1v1h-1zM101 350h1v1h-1zM145 350h1v1h-1zM2 349h1v1h-1zM6 349h1v1h-1zM19 349h2v1h-2zM23 349h1v1h-1zM32 349h1v1h-1zM41 349h1v1h-1zM56 349h1v1h-1zM61 349h1v1h-1zM73 349h1v1h-1zM85 349h2v1h-2zM96 349h2v1h-2zM105 349h1v1h-1zM5 348h1v1h-1zM7 348h1v1h-1zM28 348h1v1h-1zM47 348h1v1h-1zM53 348h1v1h-1zM68 348h1v1h-1zM73 348h1v1h-1zM6 347h1v1h-1zM12 347h1v1h-1zM28 347h1v1h-1zM36 347h1v1h-1zM50 347h1v1h-1zM75 347h1v1h-1zM104 347h2v1h-2zM125 347h1v1h-1zM2 346h1v1h-1zM7 346h1v1h-1zM25 346h1v1h-1zM32 346h1v1h-1zM37 346h1v1h-1zM40 346h1v1h-1zM50 346h1v1h-1zM67 346h1v1h-1zM85 346h1v1h-1zM93 346h3v1h-3zM12 345h1v1h-1zM27 345h1v1h-1zM34 345h1v1h-1zM36 345h1v1h-1zM43 345h1v1h-1zM51 345h1v1h-1zM54 345h1v1h-1zM58 345h1v1h-1zM72 345h1v1h-1zM81 345h1v1h-1zM97 345h1v1h-1zM101 345h1v1h-1zM104 345h1v1h-1zM130 345h1v1h-1zM3 344h1v1h-1zM16 344h3v1h-3zM28 344h1v1h-1zM53 344h3v1h-3zM59 344h1v1h-1zM62 344h1v1h-1zM64 344h1v1h-1zM66 344h3v1h-3zM76 344h1v1h-1zM78 344h1v1h-1zM80 344h1v1h-1zM135 344h1v1h-1zM140 344h1v1h-1zM12 343h1v1h-1zM20 343h1v1h-1zM23 343h1v1h-1zM25 343h1v1h-1zM38 343h1v1h-1zM49 343h2v1h-2zM65 343h1v1h-1zM71 343h2v1h-2zM78 343h2v1h-2zM83 343h1v1h-1zM99 343h1v1h-1zM103 343h1v1h-1zM150 343h1v1h-1zM6 342h1v1h-1zM9 342h1v1h-1zM31 342h1v1h-1zM39 342h1v1h-1zM45 342h1v1h-1zM60 342h1v1h-1zM64 342h1v1h-1zM68 342h1v1h-1zM100 342h1v1h-1zM102 342h1v1h-1zM145 342h1v1h-1zM8 341h1v1h-1zM13 341h2v1h-2zM18 341h1v1h-1zM23 341h1v1h-1zM28 341h2v1h-2zM35 341h1v1h-1zM41 341h1v1h-1zM43 341h1v1h-1zM52 341h4v1h-4zM58 341h1v1h-1zM64 341h1v1h-1zM69 341h1v1h-1zM71 341h1v1h-1zM97 341h1v1h-1zM99 341h1v1h-1zM17 340h1v1h-1zM29 340h1v1h-1zM40 340h1v1h-1zM54 340h1v1h-1zM59 340h1v1h-1zM82 340h1v1h-1zM86 340h1v1h-1zM93 340h2v1h-2zM106 340h1v1h-1zM118 340h1v1h-1zM135 340h1v1h-1zM18 339h2v1h-2zM35 339h1v1h-1zM44 339h1v1h-1zM48 339h1v1h-1zM62 339h1v1h-1zM68 339h1v1h-1zM72 339h1v1h-1zM81 339h1v1h-1zM84 339h1v1h-1zM91 339h2v1h-2zM135 339h1v1h-1zM2 338h1v1h-1zM8 338h1v1h-1zM23 338h1v1h-1zM28 338h1v1h-1zM39 338h1v1h-1zM50 338h1v1h-1zM52 338h2v1h-2zM55 338h1v1h-1zM85 338h1v1h-1zM92 338h1v1h-1zM102 338h3v1h-3zM118 338h1v1h-1zM135 338h1v1h-1zM14 337h1v1h-1zM20 337h1v1h-1zM23 337h1v1h-1zM29 337h2v1h-2zM43 337h2v1h-2zM49 337h2v1h-2zM59 337h1v1h-1zM63 337h1v1h-1zM67 337h1v1h-1zM69 337h1v1h-1zM71 337h1v1h-1zM77 337h1v1h-1zM84 337h1v1h-1zM94 337h1v1h-1zM99 337h1v1h-1zM0 336h1v1h-1zM24 336h1v1h-1zM36 336h1v1h-1zM42 336h1v1h-1zM46 336h1v1h-1zM50 336h2v1h-2zM73 336h1v1h-1zM76 336h1v1h-1zM85 336h1v1h-1zM125 336h1v1h-1zM12 335h1v1h-1zM15 335h1v1h-1zM25 335h1v1h-1zM48 335h1v1h-1zM54 335h2v1h-2zM89 335h1v1h-1zM91 335h1v1h-1zM105 335h1v1h-1zM125 335h1v1h-1zM130 335h1v1h-1zM0 334h2v1h-2zM3 334h2v1h-2zM7 334h1v1h-1zM21 334h1v1h-1zM23 334h1v1h-1zM29 334h2v1h-2zM39 334h1v1h-1zM44 334h1v1h-1zM46 334h1v1h-1zM48 334h1v1h-1zM54 334h1v1h-1zM61 334h2v1h-2zM69 334h1v1h-1zM74 334h1v1h-1zM77 334h1v1h-1zM91 334h1v1h-1zM93 334h1v1h-1zM96 334h1v1h-1zM99 334h2v1h-2zM125 334h1v1h-1zM13 333h2v1h-2zM16 333h1v1h-1zM22 333h1v1h-1zM31 333h1v1h-1zM54 333h1v1h-1zM68 333h1v1h-1zM70 333h3v1h-3zM79 333h1v1h-1zM88 333h1v1h-1zM91 333h1v1h-1zM97 333h1v1h-1zM110 333h1v1h-1zM2 332h1v1h-1zM12 332h2v1h-2zM15 332h2v1h-2zM30 332h1v1h-1zM33 332h1v1h-1zM55 332h1v1h-1zM59 332h2v1h-2zM73 332h1v1h-1zM78 332h1v1h-1zM80 332h1v1h-1zM83 332h1v1h-1zM85 332h1v1h-1zM88 332h1v1h-1zM93 332h1v1h-1zM97 332h1v1h-1zM101 332h1v1h-1zM1 331h1v1h-1zM4 331h1v1h-1zM15 331h1v1h-1zM23 331h1v1h-1zM32 331h1v1h-1zM48 331h1v1h-1zM56 331h1v1h-1zM66 331h1v1h-1zM86 331h1v1h-1zM89 331h1v1h-1zM94 331h1v1h-1zM96 331h2v1h-2zM102 331h1v1h-1zM5 330h1v1h-1zM16 330h1v1h-1zM20 330h1v1h-1zM29 330h1v1h-1zM34 330h1v1h-1zM36 330h1v1h-1zM42 330h1v1h-1zM49 330h2v1h-2zM55 330h1v1h-1zM60 330h2v1h-2zM67 330h1v1h-1zM71 330h1v1h-1zM73 330h1v1h-1zM80 330h1v1h-1zM83 330h1v1h-1zM100 330h1v1h-1zM104 330h1v1h-1zM4 329h1v1h-1zM10 329h1v1h-1zM18 329h1v1h-1zM39 329h1v1h-1zM44 329h1v1h-1zM56 329h1v1h-1zM60 329h2v1h-2zM74 329h1v1h-1zM79 329h1v1h-1zM87 329h1v1h-1zM89 329h1v1h-1zM93 329h1v1h-1zM10 328h1v1h-1zM14 328h1v1h-1zM19 328h1v1h-1zM24 328h1v1h-1zM35 328h2v1h-2zM40 328h1v1h-1zM50 328h1v1h-1zM53 328h1v1h-1zM64 328h1v1h-1zM76 328h1v1h-1zM82 328h1v1h-1zM91 328h1v1h-1zM118 328h1v1h-1zM2 327h1v1h-1zM7 327h1v1h-1zM16 327h1v1h-1zM36 327h1v1h-1zM46 327h1v1h-1zM48 327h1v1h-1zM52 327h1v1h-1zM54 327h1v1h-1zM62 327h1v1h-1zM72 327h2v1h-2zM83 327h2v1h-2zM91 327h1v1h-1zM96 327h1v1h-1zM100 327h1v1h-1zM4 326h1v1h-1zM8 326h1v1h-1zM21 326h1v1h-1zM26 326h1v1h-1zM30 326h1v1h-1zM40 326h1v1h-1zM47 326h1v1h-1zM51 326h1v1h-1zM61 326h1v1h-1zM64 326h1v1h-1zM72 326h1v1h-1zM78 326h1v1h-1zM104 326h1v1h-1zM0 325h2v1h-2zM8 325h1v1h-1zM12 325h1v1h-1zM18 325h1v1h-1zM20 325h1v1h-1zM30 325h2v1h-2zM34 325h1v1h-1zM39 325h1v1h-1zM55 325h1v1h-1zM60 325h1v1h-1zM63 325h1v1h-1zM71 325h2v1h-2zM76 325h1v1h-1zM88 325h2v1h-2zM91 325h1v1h-1zM93 325h1v1h-1zM108 325h1v1h-1zM3 324h1v1h-1zM5 324h1v1h-1zM12 324h1v1h-1zM15 324h2v1h-2zM22 324h2v1h-2zM27 324h1v1h-1zM30 324h2v1h-2zM34 324h2v1h-2zM45 324h1v1h-1zM52 324h1v1h-1zM63 324h2v1h-2zM102 324h1v1h-1zM5 323h1v1h-1zM11 323h1v1h-1zM18 323h1v1h-1zM33 323h1v1h-1zM78 323h1v1h-1zM93 323h1v1h-1zM104 323h2v1h-2zM130 323h1v1h-1zM135 323h1v1h-1zM9 322h1v1h-1zM42 322h2v1h-2zM46 322h1v1h-1zM49 322h1v1h-1zM64 322h2v1h-2zM87 322h1v1h-1zM91 322h2v1h-2zM99 322h1v1h-1zM105 322h1v1h-1zM118 322h1v1h-1zM150 322h1v1h-1zM10 321h1v1h-1zM13 321h1v1h-1zM18 321h1v1h-1zM24 321h1v1h-1zM28 321h1v1h-1zM68 321h1v1h-1zM75 321h1v1h-1zM83 321h1v1h-1zM86 321h1v1h-1zM89 321h1v1h-1zM101 321h1v1h-1zM104 321h1v1h-1zM112 321h1v1h-1zM140 321h1v1h-1zM145 321h1v1h-1zM17 320h1v1h-1zM25 320h1v1h-1zM29 320h1v1h-1zM45 320h1v1h-1zM48 320h2v1h-2zM51 320h1v1h-1zM62 320h1v1h-1zM68 320h1v1h-1zM75 320h1v1h-1zM80 320h1v1h-1zM86 320h2v1h-2zM90 320h1v1h-1zM92 320h2v1h-2zM97 320h1v1h-1zM104 320h1v1h-1zM145 320h1v1h-1zM15 319h1v1h-1zM17 319h1v1h-1zM24 319h1v1h-1zM43 319h1v1h-1zM50 319h1v1h-1zM54 319h1v1h-1zM62 319h1v1h-1zM67 319h1v1h-1zM73 319h1v1h-1zM82 319h1v1h-1zM89 319h1v1h-1zM94 319h1v1h-1zM102 319h1v1h-1zM5 318h1v1h-1zM43 318h1v1h-1zM77 318h1v1h-1zM80 318h1v1h-1zM86 318h1v1h-1zM90 318h1v1h-1zM97 318h1v1h-1zM102 318h1v1h-1zM104 318h1v1h-1zM145 318h1v1h-1zM1 317h1v1h-1zM4 317h1v1h-1zM23 317h1v1h-1zM28 317h2v1h-2zM42 317h1v1h-1zM65 317h1v1h-1zM70 317h1v1h-1zM114 317h1v1h-1zM145 317h1v1h-1zM1 316h1v1h-1zM23 316h1v1h-1zM27 316h1v1h-1zM31 316h1v1h-1zM33 316h1v1h-1zM35 316h1v1h-1zM40 316h1v1h-1zM46 316h1v1h-1zM55 316h1v1h-1zM61 316h2v1h-2zM65 316h2v1h-2zM72 316h1v1h-1zM92 316h1v1h-1zM120 316h1v1h-1zM0 315h1v1h-1zM5 315h2v1h-2zM23 315h1v1h-1zM44 315h1v1h-1zM46 315h2v1h-2zM70 315h1v1h-1zM78 315h2v1h-2zM87 315h1v1h-1zM101 315h1v1h-1zM104 315h1v1h-1zM118 315h1v1h-1zM135 315h1v1h-1zM16 314h1v1h-1zM18 314h1v1h-1zM36 314h2v1h-2zM45 314h1v1h-1zM50 314h1v1h-1zM57 314h1v1h-1zM67 314h1v1h-1zM74 314h1v1h-1zM76 314h1v1h-1zM78 314h1v1h-1zM84 314h1v1h-1zM94 314h1v1h-1zM112 314h1v1h-1zM116 314h1v1h-1zM1 313h1v1h-1zM16 313h1v1h-1zM23 313h2v1h-2zM28 313h2v1h-2zM35 313h1v1h-1zM42 313h2v1h-2zM49 313h1v1h-1zM59 313h1v1h-1zM62 313h1v1h-1zM71 313h1v1h-1zM86 313h1v1h-1zM91 313h1v1h-1zM108 313h1v1h-1zM116 313h1v1h-1zM135 313h1v1h-1zM140 313h1v1h-1zM13 312h1v1h-1zM21 312h1v1h-1zM25 312h1v1h-1zM34 312h1v1h-1zM39 312h2v1h-2zM44 312h1v1h-1zM62 312h1v1h-1zM64 312h1v1h-1zM68 312h1v1h-1zM99 312h2v1h-2zM0 311h1v1h-1zM8 311h2v1h-2zM13 311h1v1h-1zM17 311h2v1h-2zM66 311h1v1h-1zM69 311h2v1h-2zM72 311h1v1h-1zM74 311h1v1h-1zM85 311h1v1h-1zM100 311h1v1h-1zM4 310h1v1h-1zM8 310h1v1h-1zM10 310h2v1h-2zM21 310h1v1h-1zM24 310h1v1h-1zM26 310h1v1h-1zM32 310h1v1h-1zM42 310h1v1h-1zM69 310h1v1h-1zM73 310h1v1h-1zM78 310h1v1h-1zM91 310h1v1h-1zM96 310h1v1h-1zM125 310h1v1h-1zM0 309h1v1h-1zM6 309h1v1h-1zM35 309h1v1h-1zM44 309h1v1h-1zM46 309h1v1h-1zM70 309h1v1h-1zM84 309h1v1h-1zM94 309h1v1h-1zM102 309h1v1h-1zM108 309h1v1h-1zM150 309h1v1h-1zM9 308h1v1h-1zM55 308h1v1h-1zM59 308h1v1h-1zM67 308h1v1h-1zM69 308h1v1h-1zM78 308h1v1h-1zM86 308h1v1h-1zM103 308h1v1h-1zM106 308h1v1h-1zM16 307h1v1h-1zM20 307h1v1h-1zM36 307h2v1h-2zM48 307h1v1h-1zM58 307h1v1h-1zM66 307h1v1h-1zM68 307h1v1h-1zM72 307h1v1h-1zM80 307h1v1h-1zM84 307h1v1h-1zM87 307h1v1h-1zM94 307h2v1h-2zM99 307h1v1h-1zM103 307h1v1h-1zM145 307h1v1h-1zM0 306h2v1h-2zM10 306h1v1h-1zM19 306h1v1h-1zM21 306h1v1h-1zM26 306h1v1h-1zM28 306h2v1h-2zM37 306h1v1h-1zM42 306h1v1h-1zM58 306h2v1h-2zM70 306h1v1h-1zM76 306h1v1h-1zM89 306h1v1h-1zM99 306h1v1h-1zM105 306h1v1h-1zM118 306h1v1h-1zM16 305h1v1h-1zM21 305h1v1h-1zM25 305h1v1h-1zM29 305h1v1h-1zM32 305h1v1h-1zM34 305h1v1h-1zM42 305h2v1h-2zM45 305h1v1h-1zM50 305h1v1h-1zM52 305h2v1h-2zM55 305h1v1h-1zM59 305h1v1h-1zM72 305h1v1h-1zM106 305h1v1h-1zM114 305h1v1h-1zM2 304h1v1h-1zM10 304h1v1h-1zM12 304h1v1h-1zM24 304h1v1h-1zM47 304h1v1h-1zM65 304h1v1h-1zM68 304h1v1h-1zM75 304h1v1h-1zM95 304h1v1h-1zM100 304h1v1h-1zM114 304h1v1h-1zM145 304h1v1h-1zM150 304h1v1h-1zM56 303h1v1h-1zM60 303h1v1h-1zM71 303h1v1h-1zM80 303h1v1h-1zM86 303h1v1h-1zM101 303h1v1h-1zM110 303h1v1h-1zM114 303h1v1h-1zM17 302h1v1h-1zM50 302h1v1h-1zM57 302h1v1h-1zM59 302h1v1h-1zM73 302h1v1h-1zM83 302h1v1h-1zM88 302h1v1h-1zM91 302h1v1h-1zM145 302h1v1h-1zM0 301h2v1h-2zM6 301h1v1h-1zM24 301h1v1h-1zM26 301h1v1h-1zM31 301h1v1h-1zM34 301h1v1h-1zM37 301h1v1h-1zM41 301h1v1h-1zM48 301h1v1h-1zM59 301h1v1h-1zM61 301h1v1h-1zM73 301h3v1h-3zM79 301h1v1h-1zM84 301h1v1h-1zM86 301h1v1h-1zM101 301h1v1h-1zM108 301h1v1h-1zM27 300h1v1h-1zM41 300h1v1h-1zM58 300h1v1h-1zM65 300h2v1h-2zM77 300h2v1h-2zM85 300h2v1h-2zM89 300h1v1h-1zM108 300h1v1h-1zM150 300h1v1h-1zM8 299h2v1h-2zM21 299h1v1h-1zM25 299h2v1h-2zM31 299h1v1h-1zM34 299h1v1h-1zM56 299h1v1h-1zM63 299h1v1h-1zM72 299h1v1h-1zM78 299h1v1h-1zM81 299h1v1h-1zM97 299h1v1h-1zM100 299h1v1h-1zM0 298h1v1h-1zM4 298h1v1h-1zM8 298h1v1h-1zM29 298h1v1h-1zM33 298h1v1h-1zM47 298h1v1h-1zM56 298h1v1h-1zM68 298h1v1h-1zM76 298h2v1h-2zM81 298h1v1h-1zM90 298h1v1h-1zM93 298h1v1h-1zM105 298h1v1h-1zM114 298h1v1h-1zM118 298h1v1h-1zM135 298h1v1h-1zM4 297h1v1h-1zM11 297h1v1h-1zM19 297h1v1h-1zM21 297h2v1h-2zM24 297h3v1h-3zM33 297h2v1h-2zM52 297h1v1h-1zM65 297h1v1h-1zM101 297h1v1h-1zM112 297h1v1h-1zM1 296h1v1h-1zM17 296h1v1h-1zM19 296h1v1h-1zM26 296h1v1h-1zM33 296h1v1h-1zM39 296h1v1h-1zM46 296h1v1h-1zM54 296h1v1h-1zM59 296h1v1h-1zM61 296h1v1h-1zM64 296h1v1h-1zM95 296h2v1h-2zM103 296h1v1h-1zM114 296h1v1h-1zM41 295h1v1h-1zM46 295h1v1h-1zM55 295h1v1h-1zM65 295h1v1h-1zM70 295h1v1h-1zM77 295h1v1h-1zM81 295h1v1h-1zM87 295h1v1h-1zM97 295h1v1h-1zM102 295h1v1h-1zM110 295h1v1h-1zM130 295h1v1h-1zM1 294h1v1h-1zM4 294h1v1h-1zM6 294h1v1h-1zM9 294h1v1h-1zM19 294h3v1h-3zM32 294h1v1h-1zM36 294h1v1h-1zM42 294h1v1h-1zM49 294h2v1h-2zM58 294h2v1h-2zM63 294h1v1h-1zM74 294h2v1h-2zM89 294h1v1h-1zM102 294h1v1h-1zM114 294h1v1h-1zM150 294h1v1h-1zM27 293h1v1h-1zM29 293h2v1h-2zM41 293h1v1h-1zM67 293h1v1h-1zM80 293h2v1h-2zM97 293h1v1h-1zM7 292h1v1h-1zM18 292h1v1h-1zM22 292h1v1h-1zM27 292h1v1h-1zM31 292h1v1h-1zM46 292h1v1h-1zM48 292h1v1h-1zM70 292h1v1h-1zM90 292h1v1h-1zM110 292h1v1h-1zM118 292h1v1h-1zM125 292h1v1h-1zM5 291h1v1h-1zM15 291h1v1h-1zM31 291h1v1h-1zM41 291h2v1h-2zM56 291h1v1h-1zM64 291h1v1h-1zM74 291h3v1h-3zM88 291h2v1h-2zM9 290h1v1h-1zM16 290h1v1h-1zM27 290h1v1h-1zM34 290h1v1h-1zM37 290h2v1h-2zM71 290h2v1h-2zM82 290h1v1h-1zM101 290h1v1h-1zM105 290h1v1h-1zM19 289h2v1h-2zM22 289h1v1h-1zM35 289h1v1h-1zM42 289h1v1h-1zM57 289h2v1h-2zM63 289h1v1h-1zM71 289h1v1h-1zM78 289h1v1h-1zM92 289h1v1h-1zM98 289h1v1h-1zM101 289h1v1h-1zM105 289h1v1h-1zM110 289h1v1h-1zM14 288h1v1h-1zM35 288h1v1h-1zM49 288h1v1h-1zM54 288h1v1h-1zM56 288h1v1h-1zM60 288h3v1h-3zM82 288h2v1h-2zM99 288h2v1h-2zM110 288h1v1h-1zM118 288h1v1h-1zM19 287h1v1h-1zM23 287h1v1h-1zM34 287h3v1h-3zM40 287h2v1h-2zM46 287h2v1h-2zM52 287h1v1h-1zM56 287h1v1h-1zM68 287h1v1h-1zM75 287h2v1h-2zM101 287h1v1h-1zM103 287h1v1h-1zM130 287h1v1h-1zM145 287h1v1h-1zM13 286h1v1h-1zM22 286h1v1h-1zM24 286h1v1h-1zM53 286h1v1h-1zM57 286h1v1h-1zM78 286h1v1h-1zM100 286h1v1h-1zM145 286h1v1h-1zM0 285h1v1h-1zM6 285h2v1h-2zM32 285h1v1h-1zM46 285h2v1h-2zM75 285h2v1h-2zM80 285h1v1h-1zM93 285h1v1h-1zM105 285h1v1h-1zM16 284h1v1h-1zM30 284h1v1h-1zM48 284h1v1h-1zM57 284h1v1h-1zM78 284h2v1h-2zM86 284h1v1h-1zM114 284h1v1h-1zM130 284h1v1h-1zM140 284h1v1h-1zM11 283h2v1h-2zM15 283h1v1h-1zM32 283h1v1h-1zM41 283h2v1h-2zM50 283h1v1h-1zM68 283h1v1h-1zM70 283h1v1h-1zM72 283h1v1h-1zM78 283h1v1h-1zM83 283h1v1h-1zM86 283h1v1h-1zM99 283h1v1h-1zM108 283h1v1h-1zM120 283h1v1h-1zM135 283h1v1h-1zM145 283h1v1h-1zM5 282h1v1h-1zM10 282h1v1h-1zM26 282h2v1h-2zM51 282h1v1h-1zM58 282h2v1h-2zM62 282h1v1h-1zM66 282h1v1h-1zM71 282h1v1h-1zM84 282h1v1h-1zM88 282h1v1h-1zM118 282h1v1h-1zM9 281h1v1h-1zM22 281h1v1h-1zM25 281h1v1h-1zM31 281h1v1h-1zM39 281h1v1h-1zM48 281h1v1h-1zM53 281h2v1h-2zM58 281h1v1h-1zM67 281h1v1h-1zM70 281h1v1h-1zM89 281h1v1h-1zM103 281h1v1h-1zM106 281h1v1h-1zM125 281h1v1h-1zM3 280h2v1h-2zM6 280h2v1h-2zM13 280h1v1h-1zM23 280h1v1h-1zM34 280h1v1h-1zM44 280h1v1h-1zM51 280h1v1h-1zM66 280h1v1h-1zM68 280h1v1h-1zM71 280h1v1h-1zM130 280h1v1h-1zM150 280h1v1h-1zM11 279h1v1h-1zM50 279h1v1h-1zM59 279h1v1h-1zM71 279h1v1h-1zM73 279h1v1h-1zM77 279h2v1h-2zM82 279h1v1h-1zM84 279h1v1h-1zM92 279h1v1h-1zM98 279h1v1h-1zM102 279h1v1h-1zM0 278h1v1h-1zM3 278h1v1h-1zM24 278h1v1h-1zM27 278h1v1h-1zM35 278h1v1h-1zM37 278h1v1h-1zM41 278h2v1h-2zM53 278h1v1h-1zM71 278h1v1h-1zM73 278h1v1h-1zM83 278h1v1h-1zM97 278h2v1h-2zM110 278h1v1h-1zM14 277h2v1h-2zM28 277h1v1h-1zM38 277h1v1h-1zM50 277h1v1h-1zM59 277h1v1h-1zM64 277h3v1h-3zM76 277h2v1h-2zM80 277h1v1h-1zM82 277h1v1h-1zM86 277h1v1h-1zM88 277h1v1h-1zM90 277h1v1h-1zM94 277h1v1h-1zM100 277h1v1h-1zM150 277h1v1h-1zM5 276h1v1h-1zM11 276h1v1h-1zM15 276h1v1h-1zM33 276h1v1h-1zM47 276h1v1h-1zM60 276h1v1h-1zM62 276h1v1h-1zM72 276h1v1h-1zM80 276h1v1h-1zM105 276h1v1h-1zM114 276h1v1h-1zM6 275h3v1h-3zM18 275h1v1h-1zM27 275h1v1h-1zM33 275h1v1h-1zM41 275h2v1h-2zM57 275h1v1h-1zM73 275h1v1h-1zM95 275h1v1h-1zM97 275h1v1h-1zM108 275h1v1h-1zM140 275h1v1h-1zM7 274h1v1h-1zM15 274h1v1h-1zM49 274h1v1h-1zM54 274h1v1h-1zM60 274h1v1h-1zM79 274h2v1h-2zM86 274h1v1h-1zM88 274h1v1h-1zM90 274h1v1h-1zM97 274h1v1h-1zM106 274h1v1h-1zM112 274h1v1h-1zM120 274h1v1h-1zM135 274h1v1h-1zM23 273h1v1h-1zM28 273h1v1h-1zM34 273h1v1h-1zM36 273h1v1h-1zM42 273h2v1h-2zM59 273h1v1h-1zM71 273h1v1h-1zM83 273h1v1h-1zM86 273h1v1h-1zM97 273h1v1h-1zM0 272h1v1h-1zM12 272h1v1h-1zM16 272h1v1h-1zM22 272h1v1h-1zM28 272h1v1h-1zM34 272h1v1h-1zM75 272h2v1h-2zM85 272h1v1h-1zM135 272h1v1h-1zM145 272h1v1h-1zM21 271h1v1h-1zM41 271h1v1h-1zM47 271h1v1h-1zM55 271h2v1h-2zM65 271h1v1h-1zM79 271h1v1h-1zM83 271h1v1h-1zM91 271h1v1h-1zM99 271h1v1h-1zM108 271h1v1h-1zM118 271h1v1h-1zM120 271h1v1h-1zM15 270h1v1h-1zM17 270h1v1h-1zM28 270h1v1h-1zM43 270h1v1h-1zM45 270h1v1h-1zM48 270h1v1h-1zM58 270h2v1h-2zM62 270h2v1h-2zM70 270h1v1h-1zM73 270h1v1h-1zM77 270h1v1h-1zM91 270h1v1h-1zM120 270h1v1h-1zM13 269h1v1h-1zM17 269h1v1h-1zM59 269h1v1h-1zM65 269h1v1h-1zM67 269h1v1h-1zM73 269h2v1h-2zM79 269h2v1h-2zM86 269h1v1h-1zM92 269h2v1h-2zM150 269h1v1h-1zM5 268h1v1h-1zM14 268h1v1h-1zM22 268h3v1h-3zM26 268h1v1h-1zM62 268h1v1h-1zM73 268h1v1h-1zM75 268h1v1h-1zM77 268h1v1h-1zM84 268h1v1h-1zM103 268h1v1h-1zM114 268h1v1h-1zM140 268h1v1h-1zM3 267h1v1h-1zM6 267h1v1h-1zM15 267h1v1h-1zM20 267h1v1h-1zM29 267h1v1h-1zM34 267h1v1h-1zM48 267h1v1h-1zM58 267h1v1h-1zM66 267h2v1h-2zM75 267h1v1h-1zM82 267h1v1h-1zM85 267h1v1h-1zM102 267h1v1h-1zM112 267h1v1h-1zM150 267h1v1h-1zM16 266h1v1h-1zM19 266h1v1h-1zM30 266h1v1h-1zM41 266h1v1h-1zM44 266h1v1h-1zM53 266h1v1h-1zM57 266h1v1h-1zM69 266h1v1h-1zM77 266h1v1h-1zM94 266h1v1h-1zM99 266h1v1h-1zM104 266h1v1h-1zM116 266h1v1h-1zM49 265h1v1h-1zM58 265h1v1h-1zM64 265h1v1h-1zM80 265h1v1h-1zM84 265h1v1h-1zM88 265h1v1h-1zM92 265h1v1h-1zM104 265h1v1h-1zM2 264h1v1h-1zM6 264h2v1h-2zM21 264h1v1h-1zM24 264h4v1h-4zM33 264h1v1h-1zM46 264h1v1h-1zM55 264h1v1h-1zM64 264h1v1h-1zM77 264h1v1h-1zM120 264h1v1h-1zM2 263h1v1h-1zM14 263h1v1h-1zM29 263h1v1h-1zM50 263h1v1h-1zM52 263h1v1h-1zM67 263h1v1h-1zM74 263h1v1h-1zM84 263h1v1h-1zM96 263h1v1h-1zM100 263h1v1h-1zM130 263h1v1h-1zM1 262h1v1h-1zM5 262h1v1h-1zM21 262h1v1h-1zM27 262h3v1h-3zM36 262h2v1h-2zM49 262h1v1h-1zM52 262h1v1h-1zM59 262h1v1h-1zM71 262h1v1h-1zM73 262h1v1h-1zM75 262h2v1h-2zM85 262h1v1h-1zM87 262h1v1h-1zM94 262h1v1h-1zM99 262h1v1h-1zM7 261h1v1h-1zM9 261h1v1h-1zM27 261h1v1h-1zM32 261h1v1h-1zM41 261h3v1h-3zM53 261h1v1h-1zM59 261h1v1h-1zM62 261h1v1h-1zM72 261h1v1h-1zM75 261h2v1h-2zM82 261h2v1h-2zM95 261h1v1h-1zM100 261h1v1h-1zM106 261h1v1h-1zM114 261h1v1h-1zM130 261h1v1h-1zM0 260h1v1h-1zM11 260h1v1h-1zM14 260h1v1h-1zM28 260h1v1h-1zM31 260h1v1h-1zM35 260h1v1h-1zM46 260h1v1h-1zM48 260h1v1h-1zM52 260h1v1h-1zM55 260h2v1h-2zM60 260h1v1h-1zM63 260h1v1h-1zM67 260h1v1h-1zM80 260h1v1h-1zM82 260h1v1h-1zM88 260h1v1h-1zM104 260h1v1h-1zM116 260h1v1h-1zM10 259h1v1h-1zM16 259h1v1h-1zM27 259h2v1h-2zM30 259h2v1h-2zM38 259h1v1h-1zM49 259h1v1h-1zM58 259h1v1h-1zM67 259h1v1h-1zM69 259h1v1h-1zM80 259h1v1h-1zM84 259h1v1h-1zM91 259h1v1h-1zM145 259h1v1h-1zM6 258h2v1h-2zM10 258h1v1h-1zM24 258h1v1h-1zM37 258h1v1h-1zM39 258h2v1h-2zM42 258h1v1h-1zM54 258h2v1h-2zM57 258h1v1h-1zM73 258h1v1h-1zM75 258h3v1h-3zM83 258h1v1h-1zM85 258h1v1h-1zM89 258h1v1h-1zM104 258h1v1h-1zM130 258h1v1h-1zM3 257h2v1h-2zM42 257h1v1h-1zM50 257h1v1h-1zM52 257h2v1h-2zM56 257h1v1h-1zM65 257h2v1h-2zM85 257h1v1h-1zM97 257h1v1h-1zM101 257h1v1h-1zM105 257h2v1h-2zM130 257h1v1h-1zM8 256h1v1h-1zM10 256h1v1h-1zM34 256h2v1h-2zM39 256h1v1h-1zM41 256h1v1h-1zM53 256h1v1h-1zM76 256h2v1h-2zM87 256h2v1h-2zM97 256h1v1h-1zM3 255h1v1h-1zM35 255h2v1h-2zM59 255h1v1h-1zM65 255h1v1h-1zM67 255h1v1h-1zM84 255h1v1h-1zM86 255h1v1h-1zM99 255h1v1h-1zM105 255h1v1h-1zM110 255h1v1h-1zM10 254h1v1h-1zM18 254h2v1h-2zM21 254h1v1h-1zM23 254h1v1h-1zM30 254h1v1h-1zM33 254h1v1h-1zM60 254h1v1h-1zM64 254h1v1h-1zM75 254h1v1h-1zM84 254h1v1h-1zM89 254h1v1h-1zM91 254h1v1h-1zM101 254h1v1h-1zM135 254h1v1h-1zM140 254h1v1h-1zM21 253h1v1h-1zM27 253h1v1h-1zM63 253h1v1h-1zM68 253h1v1h-1zM79 253h3v1h-3zM86 253h1v1h-1zM103 253h1v1h-1zM114 253h1v1h-1zM7 252h1v1h-1zM16 252h2v1h-2zM20 252h1v1h-1zM24 252h1v1h-1zM30 252h1v1h-1zM44 252h1v1h-1zM50 252h2v1h-2zM68 252h1v1h-1zM72 252h1v1h-1zM81 252h2v1h-2zM91 252h1v1h-1zM108 252h1v1h-1zM120 252h1v1h-1zM145 252h1v1h-1zM5 251h1v1h-1zM7 251h1v1h-1zM12 251h1v1h-1zM23 251h1v1h-1zM31 251h3v1h-3zM36 251h1v1h-1zM39 251h1v1h-1zM54 251h4v1h-4zM65 251h1v1h-1zM69 251h1v1h-1zM71 251h1v1h-1zM83 251h1v1h-1zM97 251h1v1h-1zM105 251h1v1h-1zM108 251h1v1h-1zM145 251h1v1h-1zM12 250h1v1h-1zM17 250h1v1h-1zM19 250h1v1h-1zM25 250h1v1h-1zM39 250h4v1h-4zM70 250h1v1h-1zM73 250h1v1h-1zM88 250h1v1h-1zM94 250h1v1h-1zM100 250h1v1h-1zM102 250h1v1h-1zM104 250h1v1h-1zM108 250h1v1h-1zM140 250h1v1h-1zM3 249h3v1h-3zM7 249h1v1h-1zM14 249h1v1h-1zM23 249h1v1h-1zM25 249h2v1h-2zM34 249h1v1h-1zM45 249h1v1h-1zM48 249h1v1h-1zM70 249h1v1h-1zM74 249h1v1h-1zM80 249h1v1h-1zM87 249h1v1h-1zM99 249h1v1h-1zM2 248h1v1h-1zM19 248h2v1h-2zM29 248h1v1h-1zM46 248h1v1h-1zM57 248h2v1h-2zM69 248h1v1h-1zM77 248h1v1h-1zM79 248h1v1h-1zM87 248h1v1h-1zM91 248h1v1h-1zM104 248h1v1h-1zM18 247h1v1h-1zM33 247h1v1h-1zM39 247h1v1h-1zM44 247h1v1h-1zM47 247h1v1h-1zM57 247h1v1h-1zM80 247h1v1h-1zM91 247h1v1h-1zM102 247h1v1h-1zM104 247h3v1h-3zM108 247h1v1h-1zM112 247h1v1h-1zM24 246h1v1h-1zM59 246h1v1h-1zM66 246h1v1h-1zM73 246h1v1h-1zM86 246h1v1h-1zM93 246h2v1h-2zM105 246h2v1h-2zM108 246h1v1h-1zM112 246h1v1h-1zM0 245h1v1h-1zM11 245h1v1h-1zM21 245h1v1h-1zM30 245h1v1h-1zM42 245h1v1h-1zM53 245h1v1h-1zM57 245h1v1h-1zM59 245h1v1h-1zM64 245h1v1h-1zM71 245h1v1h-1zM80 245h1v1h-1zM85 245h2v1h-2zM91 245h2v1h-2zM112 245h1v1h-1zM0 244h1v1h-1zM11 244h1v1h-1zM23 244h1v1h-1zM30 244h2v1h-2zM38 244h2v1h-2zM42 244h1v1h-1zM50 244h1v1h-1zM54 244h1v1h-1zM57 244h2v1h-2zM71 244h1v1h-1zM91 244h1v1h-1zM96 244h1v1h-1zM125 244h1v1h-1zM135 244h1v1h-1zM140 244h1v1h-1zM145 244h1v1h-1zM0 243h1v1h-1zM8 243h1v1h-1zM41 243h1v1h-1zM50 243h1v1h-1zM61 243h1v1h-1zM63 243h3v1h-3zM82 243h1v1h-1zM91 243h1v1h-1zM94 243h1v1h-1zM112 243h1v1h-1zM3 242h1v1h-1zM36 242h2v1h-2zM39 242h1v1h-1zM58 242h1v1h-1zM75 242h2v1h-2zM80 242h1v1h-1zM89 242h1v1h-1zM91 242h1v1h-1zM96 242h1v1h-1zM102 242h1v1h-1zM6 241h1v1h-1zM20 241h1v1h-1zM31 241h1v1h-1zM43 241h2v1h-2zM47 241h1v1h-1zM52 241h1v1h-1zM72 241h3v1h-3zM78 241h1v1h-1zM97 241h2v1h-2zM11 240h1v1h-1zM14 240h1v1h-1zM27 240h1v1h-1zM34 240h1v1h-1zM41 240h1v1h-1zM51 240h1v1h-1zM53 240h1v1h-1zM64 240h1v1h-1zM73 240h3v1h-3zM77 240h1v1h-1zM85 240h1v1h-1zM104 240h1v1h-1zM106 240h1v1h-1zM130 240h1v1h-1zM135 240h1v1h-1zM5 239h1v1h-1zM36 239h1v1h-1zM50 239h1v1h-1zM57 239h1v1h-1zM64 239h1v1h-1zM66 239h3v1h-3zM80 239h1v1h-1zM88 239h1v1h-1zM105 239h1v1h-1zM135 239h1v1h-1zM4 238h1v1h-1zM7 238h1v1h-1zM31 238h1v1h-1zM45 238h1v1h-1zM64 238h2v1h-2zM68 238h1v1h-1zM72 238h1v1h-1zM78 238h2v1h-2zM82 238h1v1h-1zM85 238h1v1h-1zM93 238h1v1h-1zM100 238h1v1h-1zM120 238h1v1h-1zM11 237h1v1h-1zM17 237h1v1h-1zM20 237h2v1h-2zM27 237h2v1h-2zM31 237h1v1h-1zM36 237h1v1h-1zM44 237h1v1h-1zM46 237h1v1h-1zM48 237h1v1h-1zM58 237h1v1h-1zM79 237h1v1h-1zM81 237h1v1h-1zM87 237h1v1h-1zM91 237h1v1h-1zM110 237h1v1h-1zM2 236h1v1h-1zM10 236h1v1h-1zM13 236h1v1h-1zM17 236h1v1h-1zM31 236h1v1h-1zM52 236h1v1h-1zM97 236h2v1h-2zM103 236h1v1h-1zM114 236h1v1h-1zM130 236h1v1h-1zM6 235h1v1h-1zM14 235h1v1h-1zM23 235h1v1h-1zM40 235h1v1h-1zM45 235h1v1h-1zM62 235h1v1h-1zM69 235h1v1h-1zM71 235h1v1h-1zM73 235h1v1h-1zM76 235h1v1h-1zM83 235h1v1h-1zM98 235h2v1h-2zM105 235h1v1h-1zM135 235h1v1h-1zM3 234h1v1h-1zM7 234h1v1h-1zM11 234h1v1h-1zM34 234h1v1h-1zM59 234h1v1h-1zM70 234h1v1h-1zM89 234h1v1h-1zM91 234h1v1h-1zM20 233h3v1h-3zM31 233h1v1h-1zM36 233h1v1h-1zM40 233h1v1h-1zM57 233h1v1h-1zM66 233h2v1h-2zM69 233h1v1h-1zM72 233h1v1h-1zM125 233h1v1h-1zM26 232h2v1h-2zM29 232h1v1h-1zM33 232h1v1h-1zM46 232h1v1h-1zM54 232h3v1h-3zM68 232h2v1h-2zM86 232h1v1h-1zM94 232h1v1h-1zM103 232h1v1h-1zM105 232h1v1h-1zM150 232h1v1h-1zM12 231h1v1h-1zM24 231h1v1h-1zM29 231h1v1h-1zM59 231h1v1h-1zM68 231h2v1h-2zM72 231h1v1h-1zM74 231h2v1h-2zM77 231h1v1h-1zM81 231h2v1h-2zM101 231h1v1h-1zM118 231h1v1h-1zM4 230h1v1h-1zM21 230h1v1h-1zM24 230h1v1h-1zM28 230h1v1h-1zM40 230h1v1h-1zM50 230h1v1h-1zM55 230h1v1h-1zM70 230h1v1h-1zM75 230h1v1h-1zM84 230h1v1h-1zM91 230h1v1h-1zM104 230h1v1h-1zM0 229h1v1h-1zM3 229h2v1h-2zM30 229h2v1h-2zM33 229h1v1h-1zM45 229h1v1h-1zM53 229h2v1h-2zM62 229h1v1h-1zM65 229h1v1h-1zM72 229h1v1h-1zM76 229h2v1h-2zM79 229h1v1h-1zM84 229h1v1h-1zM89 229h2v1h-2zM96 229h1v1h-1zM2 228h1v1h-1zM16 228h1v1h-1zM32 228h1v1h-1zM39 228h1v1h-1zM51 228h1v1h-1zM55 228h1v1h-1zM68 228h1v1h-1zM76 228h1v1h-1zM87 228h1v1h-1zM99 228h1v1h-1zM120 228h1v1h-1zM2 227h1v1h-1zM5 227h1v1h-1zM10 227h1v1h-1zM29 227h2v1h-2zM37 227h3v1h-3zM57 227h1v1h-1zM68 227h1v1h-1zM71 227h1v1h-1zM82 227h1v1h-1zM84 227h1v1h-1zM92 227h1v1h-1zM99 227h1v1h-1zM101 227h1v1h-1zM105 227h1v1h-1zM5 226h1v1h-1zM7 226h1v1h-1zM12 226h1v1h-1zM17 226h2v1h-2zM21 226h1v1h-1zM31 226h1v1h-1zM41 226h1v1h-1zM52 226h1v1h-1zM58 226h1v1h-1zM61 226h1v1h-1zM76 226h1v1h-1zM91 226h1v1h-1zM98 226h1v1h-1zM105 226h1v1h-1zM1 225h1v1h-1zM5 225h2v1h-2zM8 225h1v1h-1zM10 225h2v1h-2zM17 225h1v1h-1zM39 225h1v1h-1zM44 225h1v1h-1zM56 225h1v1h-1zM59 225h1v1h-1zM65 225h1v1h-1zM70 225h1v1h-1zM72 225h1v1h-1zM82 225h1v1h-1zM84 225h1v1h-1zM110 225h1v1h-1zM145 225h1v1h-1zM0 224h1v1h-1zM11 224h2v1h-2zM16 224h2v1h-2zM37 224h1v1h-1zM39 224h1v1h-1zM45 224h1v1h-1zM50 224h1v1h-1zM69 224h1v1h-1zM71 224h1v1h-1zM77 224h1v1h-1zM83 224h2v1h-2zM86 224h1v1h-1zM93 224h1v1h-1zM104 224h1v1h-1zM140 224h1v1h-1zM0 223h2v1h-2zM7 223h1v1h-1zM43 223h1v1h-1zM45 223h1v1h-1zM64 223h1v1h-1zM66 223h1v1h-1zM68 223h2v1h-2zM83 223h1v1h-1zM93 223h1v1h-1zM108 223h1v1h-1zM145 223h1v1h-1zM3 222h1v1h-1zM12 222h1v1h-1zM16 222h1v1h-1zM18 222h1v1h-1zM51 222h1v1h-1zM55 222h1v1h-1zM57 222h1v1h-1zM65 222h1v1h-1zM68 222h1v1h-1zM71 222h1v1h-1zM87 222h1v1h-1zM92 222h1v1h-1zM94 222h1v1h-1zM105 222h1v1h-1zM114 222h1v1h-1zM3 221h1v1h-1zM12 221h2v1h-2zM15 221h1v1h-1zM17 221h1v1h-1zM19 221h2v1h-2zM28 221h1v1h-1zM38 221h1v1h-1zM51 221h1v1h-1zM58 221h1v1h-1zM64 221h1v1h-1zM73 221h1v1h-1zM91 221h1v1h-1zM120 221h1v1h-1zM0 220h1v1h-1zM21 220h1v1h-1zM24 220h1v1h-1zM29 220h1v1h-1zM33 220h1v1h-1zM49 220h2v1h-2zM53 220h1v1h-1zM65 220h1v1h-1zM68 220h1v1h-1zM70 220h3v1h-3zM75 220h1v1h-1zM86 220h1v1h-1zM88 220h1v1h-1zM105 220h1v1h-1zM1 219h1v1h-1zM17 219h1v1h-1zM28 219h1v1h-1zM36 219h1v1h-1zM48 219h1v1h-1zM78 219h1v1h-1zM82 219h1v1h-1zM84 219h1v1h-1zM95 219h1v1h-1zM99 219h1v1h-1zM108 219h1v1h-1zM114 219h1v1h-1zM2 218h1v1h-1zM6 218h1v1h-1zM23 218h2v1h-2zM35 218h1v1h-1zM46 218h1v1h-1zM69 218h1v1h-1zM81 218h1v1h-1zM88 218h1v1h-1zM92 218h1v1h-1zM99 218h1v1h-1zM104 218h1v1h-1zM125 218h1v1h-1zM3 217h1v1h-1zM17 217h1v1h-1zM26 217h1v1h-1zM34 217h1v1h-1zM45 217h1v1h-1zM61 217h1v1h-1zM66 217h1v1h-1zM68 217h1v1h-1zM71 217h1v1h-1zM75 217h1v1h-1zM85 217h1v1h-1zM92 217h2v1h-2zM97 217h1v1h-1zM102 217h1v1h-1zM25 216h1v1h-1zM28 216h1v1h-1zM32 216h1v1h-1zM38 216h1v1h-1zM57 216h1v1h-1zM68 216h1v1h-1zM96 216h1v1h-1zM102 216h1v1h-1zM108 216h1v1h-1zM116 216h1v1h-1zM7 215h2v1h-2zM32 215h1v1h-1zM52 215h1v1h-1zM57 215h2v1h-2zM64 215h1v1h-1zM68 215h3v1h-3zM75 215h1v1h-1zM86 215h1v1h-1zM90 215h1v1h-1zM101 215h1v1h-1zM103 215h1v1h-1zM112 215h1v1h-1zM135 215h1v1h-1zM2 214h2v1h-2zM16 214h1v1h-1zM21 214h1v1h-1zM30 214h1v1h-1zM46 214h1v1h-1zM49 214h1v1h-1zM51 214h2v1h-2zM55 214h1v1h-1zM60 214h3v1h-3zM67 214h1v1h-1zM72 214h1v1h-1zM90 214h2v1h-2zM94 214h1v1h-1zM97 214h1v1h-1zM103 214h1v1h-1zM118 214h1v1h-1zM11 213h1v1h-1zM23 213h1v1h-1zM26 213h1v1h-1zM34 213h1v1h-1zM36 213h1v1h-1zM41 213h1v1h-1zM49 213h1v1h-1zM70 213h1v1h-1zM78 213h1v1h-1zM85 213h1v1h-1zM88 213h1v1h-1zM91 213h1v1h-1zM94 213h1v1h-1zM98 213h1v1h-1zM103 213h1v1h-1zM110 213h1v1h-1zM9 212h1v1h-1zM21 212h1v1h-1zM23 212h1v1h-1zM32 212h1v1h-1zM41 212h2v1h-2zM46 212h1v1h-1zM57 212h1v1h-1zM59 212h1v1h-1zM62 212h2v1h-2zM72 212h1v1h-1zM90 212h1v1h-1zM99 212h1v1h-1zM104 212h1v1h-1zM6 211h2v1h-2zM9 211h1v1h-1zM23 211h1v1h-1zM28 211h1v1h-1zM32 211h1v1h-1zM36 211h1v1h-1zM47 211h1v1h-1zM53 211h1v1h-1zM58 211h1v1h-1zM68 211h1v1h-1zM78 211h1v1h-1zM82 211h1v1h-1zM106 211h1v1h-1zM4 210h2v1h-2zM18 210h1v1h-1zM28 210h1v1h-1zM39 210h1v1h-1zM50 210h1v1h-1zM57 210h1v1h-1zM60 210h1v1h-1zM64 210h1v1h-1zM69 210h1v1h-1zM75 210h1v1h-1zM78 210h1v1h-1zM80 210h1v1h-1zM82 210h1v1h-1zM89 210h1v1h-1zM105 210h1v1h-1zM1 209h1v1h-1zM5 209h2v1h-2zM9 209h1v1h-1zM16 209h1v1h-1zM25 209h1v1h-1zM28 209h1v1h-1zM34 209h1v1h-1zM38 209h1v1h-1zM40 209h2v1h-2zM48 209h1v1h-1zM50 209h1v1h-1zM52 209h1v1h-1zM58 209h1v1h-1zM66 209h1v1h-1zM79 209h2v1h-2zM86 209h1v1h-1zM88 209h1v1h-1zM102 209h1v1h-1zM105 209h1v1h-1zM112 209h1v1h-1zM120 209h1v1h-1zM14 208h1v1h-1zM18 208h1v1h-1zM51 208h1v1h-1zM56 208h2v1h-2zM68 208h1v1h-1zM80 208h1v1h-1zM82 208h1v1h-1zM95 208h2v1h-2zM99 208h2v1h-2zM103 208h1v1h-1zM106 208h1v1h-1zM120 208h1v1h-1zM140 208h1v1h-1zM1 207h1v1h-1zM51 207h1v1h-1zM53 207h1v1h-1zM59 207h1v1h-1zM66 207h1v1h-1zM68 207h1v1h-1zM73 207h1v1h-1zM75 207h1v1h-1zM79 207h1v1h-1zM98 207h1v1h-1zM112 207h1v1h-1zM2 206h1v1h-1zM20 206h1v1h-1zM28 206h2v1h-2zM42 206h1v1h-1zM44 206h1v1h-1zM55 206h1v1h-1zM58 206h1v1h-1zM60 206h1v1h-1zM70 206h1v1h-1zM75 206h2v1h-2zM78 206h1v1h-1zM86 206h1v1h-1zM94 206h1v1h-1zM13 205h1v1h-1zM16 205h1v1h-1zM27 205h1v1h-1zM33 205h1v1h-1zM48 205h1v1h-1zM51 205h1v1h-1zM58 205h1v1h-1zM69 205h1v1h-1zM75 205h1v1h-1zM84 205h1v1h-1zM92 205h1v1h-1zM94 205h2v1h-2zM118 205h1v1h-1zM34 204h1v1h-1zM41 204h1v1h-1zM49 204h1v1h-1zM57 204h1v1h-1zM59 204h2v1h-2zM64 204h1v1h-1zM75 204h1v1h-1zM78 204h1v1h-1zM85 204h1v1h-1zM97 204h1v1h-1zM112 204h1v1h-1zM125 204h1v1h-1zM6 203h1v1h-1zM10 203h1v1h-1zM23 203h1v1h-1zM27 203h1v1h-1zM29 203h1v1h-1zM47 203h2v1h-2zM59 203h1v1h-1zM61 203h1v1h-1zM75 203h1v1h-1zM82 203h1v1h-1zM116 203h1v1h-1zM118 203h1v1h-1zM145 203h1v1h-1zM15 202h1v1h-1zM31 202h1v1h-1zM33 202h2v1h-2zM39 202h3v1h-3zM46 202h1v1h-1zM57 202h1v1h-1zM59 202h1v1h-1zM69 202h1v1h-1zM74 202h2v1h-2zM78 202h1v1h-1zM85 202h1v1h-1zM96 202h1v1h-1zM4 201h1v1h-1zM12 201h2v1h-2zM29 201h1v1h-1zM31 201h1v1h-1zM33 201h1v1h-1zM50 201h1v1h-1zM54 201h1v1h-1zM56 201h1v1h-1zM59 201h1v1h-1zM62 201h1v1h-1zM75 201h1v1h-1zM94 201h3v1h-3zM102 201h1v1h-1zM104 201h1v1h-1zM7 200h1v1h-1zM11 200h1v1h-1zM13 200h1v1h-1zM18 200h2v1h-2zM39 200h1v1h-1zM53 200h1v1h-1zM55 200h1v1h-1zM82 200h1v1h-1zM88 200h1v1h-1zM92 200h1v1h-1zM105 200h1v1h-1zM118 200h1v1h-1zM130 200h1v1h-1zM135 200h1v1h-1zM2 199h1v1h-1zM4 199h1v1h-1zM11 199h1v1h-1zM15 199h1v1h-1zM17 199h1v1h-1zM24 199h1v1h-1zM40 199h1v1h-1zM100 199h1v1h-1zM150 199h1v1h-1zM3 198h1v1h-1zM32 198h1v1h-1zM67 198h1v1h-1zM74 198h1v1h-1zM85 198h1v1h-1zM91 198h1v1h-1zM94 198h1v1h-1zM98 198h1v1h-1zM104 198h1v1h-1zM150 198h1v1h-1zM2 197h1v1h-1zM31 197h1v1h-1zM35 197h1v1h-1zM48 197h2v1h-2zM56 197h1v1h-1zM58 197h1v1h-1zM71 197h3v1h-3zM80 197h1v1h-1zM102 197h2v1h-2zM114 197h1v1h-1zM116 197h1v1h-1zM145 197h1v1h-1zM14 196h1v1h-1zM21 196h1v1h-1zM27 196h1v1h-1zM34 196h1v1h-1zM52 196h3v1h-3zM56 196h1v1h-1zM66 196h1v1h-1zM69 196h1v1h-1zM74 196h1v1h-1zM93 196h1v1h-1zM97 196h1v1h-1zM99 196h1v1h-1zM105 196h1v1h-1zM135 196h1v1h-1zM145 196h1v1h-1zM150 196h1v1h-1zM16 195h1v1h-1zM19 195h1v1h-1zM23 195h1v1h-1zM31 195h1v1h-1zM47 195h1v1h-1zM54 195h1v1h-1zM62 195h1v1h-1zM64 195h1v1h-1zM73 195h1v1h-1zM75 195h1v1h-1zM79 195h1v1h-1zM87 195h1v1h-1zM125 195h1v1h-1zM12 194h1v1h-1zM28 194h1v1h-1zM42 194h2v1h-2zM54 194h1v1h-1zM56 194h1v1h-1zM63 194h1v1h-1zM72 194h1v1h-1zM80 194h1v1h-1zM84 194h1v1h-1zM93 194h1v1h-1zM99 194h1v1h-1zM103 194h1v1h-1zM10 193h1v1h-1zM39 193h1v1h-1zM42 193h1v1h-1zM68 193h1v1h-1zM75 193h1v1h-1zM77 193h3v1h-3zM81 193h2v1h-2zM87 193h1v1h-1zM100 193h1v1h-1zM110 193h1v1h-1zM135 193h1v1h-1zM12 192h1v1h-1zM27 192h1v1h-1zM35 192h1v1h-1zM38 192h1v1h-1zM45 192h1v1h-1zM67 192h1v1h-1zM73 192h1v1h-1zM75 192h1v1h-1zM80 192h1v1h-1zM108 192h1v1h-1zM110 192h1v1h-1zM14 191h1v1h-1zM18 191h1v1h-1zM28 191h1v1h-1zM33 191h1v1h-1zM55 191h1v1h-1zM58 191h1v1h-1zM62 191h1v1h-1zM80 191h1v1h-1zM86 191h3v1h-3zM90 191h1v1h-1zM92 191h1v1h-1zM106 191h1v1h-1zM5 190h1v1h-1zM7 190h1v1h-1zM27 190h1v1h-1zM37 190h2v1h-2zM42 190h1v1h-1zM51 190h1v1h-1zM66 190h1v1h-1zM79 190h1v1h-1zM89 190h1v1h-1zM106 190h1v1h-1zM135 190h1v1h-1zM8 189h1v1h-1zM25 189h1v1h-1zM45 189h1v1h-1zM57 189h2v1h-2zM62 189h1v1h-1zM64 189h2v1h-2zM68 189h1v1h-1zM74 189h1v1h-1zM77 189h1v1h-1zM120 189h1v1h-1zM125 189h1v1h-1zM1 188h1v1h-1zM16 188h1v1h-1zM18 188h1v1h-1zM35 188h1v1h-1zM46 188h1v1h-1zM50 188h2v1h-2zM63 188h1v1h-1zM66 188h1v1h-1zM72 188h1v1h-1zM74 188h1v1h-1zM80 188h1v1h-1zM105 188h1v1h-1zM108 188h1v1h-1zM110 188h1v1h-1zM116 188h1v1h-1zM6 187h1v1h-1zM8 187h1v1h-1zM15 187h1v1h-1zM25 187h1v1h-1zM29 187h1v1h-1zM33 187h2v1h-2zM39 187h1v1h-1zM50 187h1v1h-1zM57 187h2v1h-2zM60 187h1v1h-1zM64 187h1v1h-1zM75 187h1v1h-1zM81 187h2v1h-2zM86 187h1v1h-1zM88 187h1v1h-1zM99 187h1v1h-1zM106 187h1v1h-1zM108 187h1v1h-1zM110 187h1v1h-1zM125 187h1v1h-1zM16 186h1v1h-1zM22 186h2v1h-2zM31 186h1v1h-1zM33 186h1v1h-1zM45 186h1v1h-1zM56 186h1v1h-1zM61 186h1v1h-1zM66 186h1v1h-1zM76 186h1v1h-1zM81 186h2v1h-2zM85 186h1v1h-1zM88 186h1v1h-1zM103 186h1v1h-1zM125 186h1v1h-1zM3 185h1v1h-1zM16 185h1v1h-1zM21 185h1v1h-1zM24 185h1v1h-1zM55 185h1v1h-1zM63 185h1v1h-1zM65 185h1v1h-1zM67 185h1v1h-1zM70 185h1v1h-1zM82 185h1v1h-1zM110 185h1v1h-1zM114 185h1v1h-1zM118 185h1v1h-1zM4 184h1v1h-1zM12 184h1v1h-1zM24 184h1v1h-1zM29 184h1v1h-1zM33 184h1v1h-1zM51 184h1v1h-1zM54 184h1v1h-1zM71 184h2v1h-2zM76 184h1v1h-1zM82 184h1v1h-1zM84 184h2v1h-2zM89 184h1v1h-1zM97 184h1v1h-1zM114 184h1v1h-1zM3 183h1v1h-1zM10 183h1v1h-1zM22 183h1v1h-1zM24 183h1v1h-1zM36 183h1v1h-1zM39 183h1v1h-1zM47 183h1v1h-1zM56 183h1v1h-1zM58 183h1v1h-1zM60 183h1v1h-1zM62 183h1v1h-1zM74 183h1v1h-1zM80 183h1v1h-1zM86 183h1v1h-1zM100 183h1v1h-1zM103 183h1v1h-1zM106 183h1v1h-1zM20 182h1v1h-1zM32 182h1v1h-1zM42 182h1v1h-1zM49 182h1v1h-1zM51 182h2v1h-2zM71 182h1v1h-1zM75 182h1v1h-1zM83 182h1v1h-1zM102 182h1v1h-1zM8 181h1v1h-1zM12 181h1v1h-1zM14 181h2v1h-2zM18 181h2v1h-2zM30 181h1v1h-1zM46 181h1v1h-1zM48 181h1v1h-1zM53 181h1v1h-1zM62 181h1v1h-1zM68 181h2v1h-2zM97 181h2v1h-2zM103 181h1v1h-1zM7 180h1v1h-1zM17 180h1v1h-1zM25 180h1v1h-1zM34 180h1v1h-1zM53 180h2v1h-2zM57 180h1v1h-1zM59 180h1v1h-1zM81 180h1v1h-1zM84 180h2v1h-2zM99 180h1v1h-1zM150 180h1v1h-1zM5 179h2v1h-2zM11 179h1v1h-1zM18 179h1v1h-1zM20 179h1v1h-1zM22 179h1v1h-1zM38 179h1v1h-1zM41 179h1v1h-1zM45 179h2v1h-2zM53 179h1v1h-1zM58 179h2v1h-2zM78 179h1v1h-1zM91 179h2v1h-2zM95 179h2v1h-2zM98 179h1v1h-1zM3 178h2v1h-2zM23 178h1v1h-1zM26 178h2v1h-2zM34 178h1v1h-1zM41 178h2v1h-2zM46 178h1v1h-1zM57 178h1v1h-1zM67 178h1v1h-1zM84 178h1v1h-1zM95 178h1v1h-1zM99 178h1v1h-1zM1 177h2v1h-2zM25 177h1v1h-1zM31 177h1v1h-1zM34 177h1v1h-1zM42 177h1v1h-1zM45 177h1v1h-1zM51 177h1v1h-1zM58 177h1v1h-1zM70 177h1v1h-1zM74 177h1v1h-1zM83 177h1v1h-1zM97 177h1v1h-1zM114 177h1v1h-1zM145 177h1v1h-1zM11 176h1v1h-1zM20 176h1v1h-1zM45 176h1v1h-1zM56 176h2v1h-2zM66 176h1v1h-1zM70 176h1v1h-1zM72 176h1v1h-1zM76 176h1v1h-1zM91 176h1v1h-1zM94 176h1v1h-1zM99 176h2v1h-2zM102 176h1v1h-1zM114 176h1v1h-1zM150 176h1v1h-1zM1 175h1v1h-1zM8 175h1v1h-1zM15 175h1v1h-1zM17 175h1v1h-1zM24 175h1v1h-1zM27 175h1v1h-1zM37 175h2v1h-2zM41 175h2v1h-2zM47 175h1v1h-1zM65 175h1v1h-1zM68 175h1v1h-1zM70 175h2v1h-2zM74 175h1v1h-1zM85 175h1v1h-1zM89 175h1v1h-1zM102 175h1v1h-1zM140 175h1v1h-1zM18 174h1v1h-1zM26 174h1v1h-1zM30 174h1v1h-1zM51 174h1v1h-1zM58 174h1v1h-1zM73 174h1v1h-1zM99 174h1v1h-1zM140 174h1v1h-1zM7 173h1v1h-1zM18 173h1v1h-1zM50 173h1v1h-1zM56 173h2v1h-2zM67 173h1v1h-1zM69 173h1v1h-1zM73 173h2v1h-2zM82 173h2v1h-2zM85 173h1v1h-1zM3 172h1v1h-1zM10 172h1v1h-1zM15 172h1v1h-1zM39 172h1v1h-1zM55 172h1v1h-1zM59 172h1v1h-1zM62 172h1v1h-1zM79 172h1v1h-1zM86 172h1v1h-1zM97 172h1v1h-1zM105 172h1v1h-1zM114 172h1v1h-1zM6 171h1v1h-1zM27 171h1v1h-1zM61 171h2v1h-2zM66 171h1v1h-1zM76 171h1v1h-1zM84 171h1v1h-1zM92 171h1v1h-1zM100 171h1v1h-1zM102 171h1v1h-1zM105 171h1v1h-1zM3 170h1v1h-1zM7 170h1v1h-1zM15 170h1v1h-1zM20 170h1v1h-1zM29 170h1v1h-1zM36 170h2v1h-2zM48 170h2v1h-2zM61 170h1v1h-1zM71 170h1v1h-1zM0 169h1v1h-1zM4 169h1v1h-1zM25 169h1v1h-1zM38 169h1v1h-1zM42 169h1v1h-1zM46 169h1v1h-1zM60 169h1v1h-1zM80 169h1v1h-1zM84 169h1v1h-1zM87 169h1v1h-1zM93 169h1v1h-1zM118 169h1v1h-1zM145 169h1v1h-1zM7 168h1v1h-1zM21 168h1v1h-1zM28 168h1v1h-1zM41 168h1v1h-1zM46 168h1v1h-1zM56 168h1v1h-1zM60 168h1v1h-1zM66 168h1v1h-1zM71 168h1v1h-1zM73 168h1v1h-1zM79 168h1v1h-1zM83 168h1v1h-1zM88 168h1v1h-1zM93 168h1v1h-1zM112 168h1v1h-1zM5 167h1v1h-1zM19 167h1v1h-1zM21 167h2v1h-2zM26 167h1v1h-1zM34 167h1v1h-1zM38 167h1v1h-1zM51 167h1v1h-1zM53 167h1v1h-1zM58 167h1v1h-1zM66 167h1v1h-1zM75 167h1v1h-1zM81 167h2v1h-2zM86 167h1v1h-1zM95 167h1v1h-1zM98 167h2v1h-2zM114 167h1v1h-1zM116 167h1v1h-1zM1 166h2v1h-2zM34 166h1v1h-1zM39 166h1v1h-1zM54 166h1v1h-1zM74 166h1v1h-1zM77 166h1v1h-1zM79 166h1v1h-1zM84 166h1v1h-1zM87 166h1v1h-1zM140 166h1v1h-1zM6 165h1v1h-1zM10 165h1v1h-1zM26 165h1v1h-1zM32 165h1v1h-1zM35 165h1v1h-1zM41 165h1v1h-1zM45 165h3v1h-3zM51 165h1v1h-1zM59 165h1v1h-1zM80 165h1v1h-1zM85 165h1v1h-1zM88 165h1v1h-1zM90 165h1v1h-1zM96 165h1v1h-1zM103 165h1v1h-1zM114 165h1v1h-1zM19 164h1v1h-1zM28 164h2v1h-2zM39 164h1v1h-1zM47 164h1v1h-1zM53 164h1v1h-1zM55 164h1v1h-1zM59 164h1v1h-1zM71 164h2v1h-2zM83 164h1v1h-1zM87 164h1v1h-1zM90 164h2v1h-2zM94 164h1v1h-1zM104 164h1v1h-1zM106 164h1v1h-1zM15 163h1v1h-1zM22 163h1v1h-1zM24 163h1v1h-1zM48 163h2v1h-2zM58 163h1v1h-1zM80 163h1v1h-1zM82 163h1v1h-1zM94 163h2v1h-2zM5 162h1v1h-1zM15 162h1v1h-1zM28 162h1v1h-1zM31 162h1v1h-1zM53 162h1v1h-1zM65 162h1v1h-1zM86 162h1v1h-1zM92 162h1v1h-1zM97 162h1v1h-1zM1 161h1v1h-1zM4 161h1v1h-1zM23 161h1v1h-1zM28 161h1v1h-1zM38 161h2v1h-2zM41 161h1v1h-1zM45 161h1v1h-1zM53 161h2v1h-2zM68 161h1v1h-1zM74 161h2v1h-2zM79 161h1v1h-1zM112 161h1v1h-1zM19 160h2v1h-2zM28 160h1v1h-1zM30 160h1v1h-1zM32 160h1v1h-1zM50 160h2v1h-2zM65 160h1v1h-1zM79 160h1v1h-1zM88 160h1v1h-1zM102 160h1v1h-1zM108 160h1v1h-1zM140 160h1v1h-1zM145 160h1v1h-1zM7 159h1v1h-1zM60 159h1v1h-1zM64 159h1v1h-1zM79 159h1v1h-1zM85 159h1v1h-1zM93 159h1v1h-1zM103 159h1v1h-1zM8 158h1v1h-1zM13 158h1v1h-1zM28 158h1v1h-1zM38 158h2v1h-2zM48 158h1v1h-1zM57 158h2v1h-2zM61 158h2v1h-2zM68 158h1v1h-1zM79 158h1v1h-1zM92 158h1v1h-1zM97 158h1v1h-1zM99 158h1v1h-1zM103 158h1v1h-1zM116 158h1v1h-1zM0 157h2v1h-2zM16 157h1v1h-1zM20 157h1v1h-1zM30 157h1v1h-1zM45 157h1v1h-1zM49 157h1v1h-1zM52 157h1v1h-1zM67 157h2v1h-2zM76 157h1v1h-1zM79 157h2v1h-2zM90 157h3v1h-3zM105 157h1v1h-1zM118 157h1v1h-1zM130 157h1v1h-1zM140 157h1v1h-1zM8 156h1v1h-1zM33 156h1v1h-1zM50 156h1v1h-1zM54 156h1v1h-1zM71 156h1v1h-1zM91 156h1v1h-1zM97 156h1v1h-1zM120 156h1v1h-1zM2 155h1v1h-1zM5 155h2v1h-2zM28 155h1v1h-1zM33 155h2v1h-2zM36 155h2v1h-2zM49 155h2v1h-2zM53 155h2v1h-2zM65 155h3v1h-3zM70 155h1v1h-1zM74 155h1v1h-1zM81 155h1v1h-1zM95 155h1v1h-1zM8 154h1v1h-1zM15 154h1v1h-1zM50 154h1v1h-1zM73 154h1v1h-1zM78 154h2v1h-2zM88 154h1v1h-1zM90 154h2v1h-2zM103 154h1v1h-1zM140 154h1v1h-1zM2 153h1v1h-1zM6 153h1v1h-1zM38 153h1v1h-1zM41 153h1v1h-1zM54 153h1v1h-1zM68 153h1v1h-1zM97 153h1v1h-1zM116 153h1v1h-1zM4 152h1v1h-1zM19 152h1v1h-1zM28 152h1v1h-1zM33 152h1v1h-1zM54 152h1v1h-1zM58 152h2v1h-2zM70 152h2v1h-2zM84 152h1v1h-1zM91 152h4v1h-4zM98 152h1v1h-1zM106 152h1v1h-1zM114 152h1v1h-1zM3 151h1v1h-1zM14 151h1v1h-1zM27 151h1v1h-1zM48 151h1v1h-1zM55 151h1v1h-1zM85 151h1v1h-1zM99 151h1v1h-1zM102 151h1v1h-1zM2 150h1v1h-1zM5 150h1v1h-1zM19 150h1v1h-1zM24 150h1v1h-1zM32 150h2v1h-2zM43 150h1v1h-1zM47 150h1v1h-1zM53 150h1v1h-1zM59 150h1v1h-1zM61 150h1v1h-1zM72 150h1v1h-1zM118 150h1v1h-1zM130 150h1v1h-1zM30 149h2v1h-2zM38 149h1v1h-1zM44 149h1v1h-1zM46 149h1v1h-1zM54 149h1v1h-1zM61 149h1v1h-1zM66 149h3v1h-3zM71 149h1v1h-1zM76 149h1v1h-1zM91 149h1v1h-1zM97 149h2v1h-2zM100 149h1v1h-1zM140 149h1v1h-1zM5 148h1v1h-1zM7 148h1v1h-1zM19 148h1v1h-1zM30 148h1v1h-1zM32 148h1v1h-1zM46 148h2v1h-2zM55 148h1v1h-1zM58 148h1v1h-1zM61 148h1v1h-1zM75 148h1v1h-1zM85 148h1v1h-1zM87 148h1v1h-1zM93 148h1v1h-1zM97 148h1v1h-1zM103 148h1v1h-1zM110 148h1v1h-1zM150 148h1v1h-1zM1 147h1v1h-1zM6 147h1v1h-1zM24 147h1v1h-1zM28 147h1v1h-1zM34 147h1v1h-1zM38 147h1v1h-1zM44 147h1v1h-1zM61 147h1v1h-1zM64 147h1v1h-1zM74 147h1v1h-1zM83 147h1v1h-1zM88 147h1v1h-1zM95 147h1v1h-1zM97 147h1v1h-1zM20 146h2v1h-2zM30 146h1v1h-1zM34 146h1v1h-1zM37 146h2v1h-2zM52 146h1v1h-1zM57 146h3v1h-3zM62 146h1v1h-1zM72 146h1v1h-1zM86 146h1v1h-1zM94 146h1v1h-1zM105 146h1v1h-1zM29 145h1v1h-1zM64 145h1v1h-1zM101 145h1v1h-1zM120 145h1v1h-1zM8 144h1v1h-1zM10 144h1v1h-1zM29 144h1v1h-1zM36 144h1v1h-1zM41 144h1v1h-1zM49 144h2v1h-2zM55 144h1v1h-1zM59 144h1v1h-1zM65 144h1v1h-1zM78 144h1v1h-1zM82 144h2v1h-2zM91 144h1v1h-1zM99 144h1v1h-1zM101 144h1v1h-1zM103 144h1v1h-1zM5 143h1v1h-1zM21 143h1v1h-1zM30 143h1v1h-1zM32 143h2v1h-2zM53 143h1v1h-1zM55 143h1v1h-1zM62 143h1v1h-1zM73 143h1v1h-1zM82 143h1v1h-1zM89 143h1v1h-1zM91 143h1v1h-1zM145 143h1v1h-1zM13 142h1v1h-1zM15 142h1v1h-1zM18 142h1v1h-1zM30 142h1v1h-1zM33 142h1v1h-1zM36 142h3v1h-3zM44 142h2v1h-2zM51 142h1v1h-1zM62 142h1v1h-1zM68 142h3v1h-3zM73 142h2v1h-2zM76 142h1v1h-1zM98 142h1v1h-1zM112 142h1v1h-1zM120 142h1v1h-1zM7 141h1v1h-1zM9 141h1v1h-1zM20 141h1v1h-1zM24 141h1v1h-1zM30 141h1v1h-1zM39 141h1v1h-1zM41 141h1v1h-1zM45 141h1v1h-1zM56 141h1v1h-1zM62 141h1v1h-1zM64 141h1v1h-1zM91 141h1v1h-1zM104 141h2v1h-2zM145 141h1v1h-1zM10 140h3v1h-3zM22 140h2v1h-2zM29 140h1v1h-1zM31 140h1v1h-1zM36 140h1v1h-1zM48 140h4v1h-4zM55 140h1v1h-1zM85 140h1v1h-1zM91 140h1v1h-1zM95 140h1v1h-1zM106 140h1v1h-1zM7 139h1v1h-1zM16 139h1v1h-1zM24 139h1v1h-1zM27 139h2v1h-2zM30 139h1v1h-1zM42 139h1v1h-1zM46 139h1v1h-1zM72 139h2v1h-2zM78 139h2v1h-2zM82 139h1v1h-1zM84 139h1v1h-1zM89 139h1v1h-1zM94 139h2v1h-2zM97 139h1v1h-1zM7 138h1v1h-1zM18 138h1v1h-1zM40 138h1v1h-1zM44 138h2v1h-2zM58 138h2v1h-2zM62 138h1v1h-1zM70 138h1v1h-1zM83 138h1v1h-1zM105 138h1v1h-1zM0 137h1v1h-1zM19 137h1v1h-1zM26 137h1v1h-1zM33 137h1v1h-1zM49 137h1v1h-1zM52 137h1v1h-1zM56 137h1v1h-1zM61 137h1v1h-1zM145 137h1v1h-1zM6 136h1v1h-1zM23 136h1v1h-1zM31 136h1v1h-1zM34 136h1v1h-1zM42 136h1v1h-1zM45 136h1v1h-1zM48 136h2v1h-2zM53 136h1v1h-1zM66 136h1v1h-1zM70 136h1v1h-1zM72 136h2v1h-2zM95 136h1v1h-1zM112 136h1v1h-1zM140 136h1v1h-1zM2 135h2v1h-2zM6 135h2v1h-2zM11 135h1v1h-1zM13 135h1v1h-1zM17 135h1v1h-1zM20 135h1v1h-1zM30 135h2v1h-2zM39 135h1v1h-1zM43 135h1v1h-1zM50 135h1v1h-1zM55 135h2v1h-2zM65 135h2v1h-2zM79 135h1v1h-1zM84 135h1v1h-1zM88 135h1v1h-1zM92 135h1v1h-1zM100 135h1v1h-1zM102 135h1v1h-1zM106 135h1v1h-1zM150 135h1v1h-1zM7 134h1v1h-1zM21 134h1v1h-1zM27 134h1v1h-1zM30 134h2v1h-2zM36 134h2v1h-2zM58 134h1v1h-1zM78 134h1v1h-1zM84 134h1v1h-1zM89 134h1v1h-1zM98 134h1v1h-1zM3 133h1v1h-1zM7 133h1v1h-1zM13 133h1v1h-1zM21 133h1v1h-1zM38 133h1v1h-1zM41 133h1v1h-1zM49 133h1v1h-1zM68 133h1v1h-1zM99 133h1v1h-1zM130 133h1v1h-1zM19 132h1v1h-1zM26 132h1v1h-1zM31 132h1v1h-1zM40 132h1v1h-1zM45 132h1v1h-1zM48 132h1v1h-1zM53 132h1v1h-1zM59 132h1v1h-1zM69 132h2v1h-2zM87 132h1v1h-1zM99 132h3v1h-3zM9 131h1v1h-1zM28 131h1v1h-1zM33 131h1v1h-1zM36 131h1v1h-1zM53 131h1v1h-1zM59 131h1v1h-1zM70 131h1v1h-1zM72 131h2v1h-2zM78 131h1v1h-1zM99 131h1v1h-1zM114 131h1v1h-1zM130 131h1v1h-1zM145 131h1v1h-1zM2 130h1v1h-1zM4 130h2v1h-2zM15 130h2v1h-2zM24 130h1v1h-1zM39 130h1v1h-1zM41 130h1v1h-1zM44 130h1v1h-1zM47 130h1v1h-1zM50 130h1v1h-1zM53 130h2v1h-2zM61 130h2v1h-2zM66 130h2v1h-2zM91 130h1v1h-1zM101 130h1v1h-1zM125 130h1v1h-1zM26 129h1v1h-1zM30 129h1v1h-1zM36 129h1v1h-1zM54 129h2v1h-2zM71 129h2v1h-2zM78 129h1v1h-1zM93 129h1v1h-1zM110 129h1v1h-1zM0 128h1v1h-1zM12 128h1v1h-1zM15 128h1v1h-1zM19 128h2v1h-2zM35 128h1v1h-1zM49 128h1v1h-1zM60 128h1v1h-1zM73 128h2v1h-2zM83 128h2v1h-2zM87 128h1v1h-1zM93 128h1v1h-1zM114 128h1v1h-1zM120 128h1v1h-1zM125 128h1v1h-1zM1 127h1v1h-1zM13 127h1v1h-1zM63 127h1v1h-1zM71 127h1v1h-1zM93 127h1v1h-1zM130 127h1v1h-1zM9 126h1v1h-1zM12 126h1v1h-1zM28 126h1v1h-1zM32 126h1v1h-1zM42 126h1v1h-1zM45 126h1v1h-1zM55 126h2v1h-2zM60 126h1v1h-1zM72 126h1v1h-1zM76 126h1v1h-1zM81 126h1v1h-1zM91 126h1v1h-1zM101 126h1v1h-1zM116 126h1v1h-1zM150 126h1v1h-1zM14 125h1v1h-1zM16 125h1v1h-1zM26 125h1v1h-1zM28 125h2v1h-2zM45 125h1v1h-1zM51 125h1v1h-1zM55 125h1v1h-1zM64 125h1v1h-1zM79 125h2v1h-2zM85 125h2v1h-2zM101 125h2v1h-2zM140 125h1v1h-1zM3 124h1v1h-1zM5 124h1v1h-1zM17 124h1v1h-1zM26 124h1v1h-1zM31 124h1v1h-1zM57 124h1v1h-1zM61 124h2v1h-2zM64 124h3v1h-3zM73 124h1v1h-1zM79 124h1v1h-1zM81 124h1v1h-1zM83 124h2v1h-2zM87 124h3v1h-3zM93 124h1v1h-1zM99 124h3v1h-3zM38 123h1v1h-1zM57 123h1v1h-1zM67 123h1v1h-1zM114 123h1v1h-1zM118 123h1v1h-1zM1 122h2v1h-2zM15 122h2v1h-2zM22 122h1v1h-1zM24 122h1v1h-1zM27 122h1v1h-1zM29 122h1v1h-1zM42 122h2v1h-2zM55 122h1v1h-1zM59 122h1v1h-1zM64 122h1v1h-1zM66 122h1v1h-1zM70 122h1v1h-1zM86 122h1v1h-1zM104 122h1v1h-1zM0 121h1v1h-1zM17 121h1v1h-1zM23 121h2v1h-2zM39 121h1v1h-1zM44 121h1v1h-1zM62 121h1v1h-1zM68 121h1v1h-1zM71 121h1v1h-1zM83 121h1v1h-1zM85 121h2v1h-2zM99 121h1v1h-1zM7 120h1v1h-1zM12 120h1v1h-1zM28 120h1v1h-1zM42 120h1v1h-1zM79 120h1v1h-1zM83 120h1v1h-1zM21 119h1v1h-1zM39 119h1v1h-1zM74 119h1v1h-1zM87 119h1v1h-1zM89 119h2v1h-2zM92 119h1v1h-1zM97 119h1v1h-1zM103 119h1v1h-1zM1 118h1v1h-1zM22 118h1v1h-1zM24 118h2v1h-2zM35 118h2v1h-2zM51 118h1v1h-1zM55 118h2v1h-2zM60 118h1v1h-1zM72 118h1v1h-1zM75 118h1v1h-1zM91 118h1v1h-1zM105 118h1v1h-1zM140 118h1v1h-1zM2 117h1v1h-1zM10 117h2v1h-2zM16 117h1v1h-1zM18 117h1v1h-1zM21 117h1v1h-1zM35 117h2v1h-2zM48 117h1v1h-1zM52 117h1v1h-1zM56 117h1v1h-1zM59 117h1v1h-1zM68 117h2v1h-2zM71 117h2v1h-2zM74 117h1v1h-1zM101 117h1v1h-1zM22 116h2v1h-2zM33 116h1v1h-1zM60 116h1v1h-1zM65 116h1v1h-1zM69 116h1v1h-1zM78 116h1v1h-1zM81 116h1v1h-1zM83 116h1v1h-1zM92 116h1v1h-1zM108 116h1v1h-1zM3 115h1v1h-1zM10 115h1v1h-1zM15 115h1v1h-1zM18 115h1v1h-1zM22 115h1v1h-1zM28 115h2v1h-2zM47 115h2v1h-2zM53 115h1v1h-1zM56 115h1v1h-1zM63 115h1v1h-1zM69 115h2v1h-2zM72 115h1v1h-1zM74 115h2v1h-2zM81 115h1v1h-1zM83 115h1v1h-1zM86 115h1v1h-1zM89 115h2v1h-2zM94 115h1v1h-1zM103 115h2v1h-2zM5 114h2v1h-2zM32 114h1v1h-1zM47 114h1v1h-1zM59 114h1v1h-1zM62 114h1v1h-1zM66 114h1v1h-1zM74 114h1v1h-1zM81 114h1v1h-1zM83 114h2v1h-2zM93 114h1v1h-1zM95 114h1v1h-1zM110 114h1v1h-1zM13 113h1v1h-1zM19 113h1v1h-1zM34 113h1v1h-1zM37 113h1v1h-1zM55 113h1v1h-1zM65 113h1v1h-1zM72 113h1v1h-1zM84 113h3v1h-3zM91 113h1v1h-1zM99 113h1v1h-1zM101 113h2v1h-2zM106 113h1v1h-1zM108 113h1v1h-1zM150 113h1v1h-1zM1 112h1v1h-1zM28 112h1v1h-1zM33 112h2v1h-2zM38 112h1v1h-1zM43 112h2v1h-2zM49 112h1v1h-1zM53 112h1v1h-1zM74 112h1v1h-1zM77 112h1v1h-1zM86 112h1v1h-1zM103 112h2v1h-2zM106 112h1v1h-1zM120 112h1v1h-1zM24 111h1v1h-1zM29 111h1v1h-1zM40 111h1v1h-1zM53 111h1v1h-1zM57 111h2v1h-2zM77 111h1v1h-1zM81 111h1v1h-1zM86 111h1v1h-1zM88 111h1v1h-1zM90 111h1v1h-1zM95 111h1v1h-1zM114 111h1v1h-1zM12 110h1v1h-1zM21 110h1v1h-1zM30 110h1v1h-1zM50 110h2v1h-2zM74 110h1v1h-1zM88 110h1v1h-1zM94 110h1v1h-1zM99 110h1v1h-1zM112 110h1v1h-1zM118 110h1v1h-1zM150 110h1v1h-1zM5 109h1v1h-1zM9 109h2v1h-2zM14 109h1v1h-1zM18 109h1v1h-1zM25 109h1v1h-1zM35 109h1v1h-1zM56 109h4v1h-4zM77 109h1v1h-1zM81 109h1v1h-1zM83 109h1v1h-1zM87 109h1v1h-1zM91 109h1v1h-1zM97 109h1v1h-1zM101 109h2v1h-2zM106 109h1v1h-1zM3 108h1v1h-1zM9 108h1v1h-1zM26 108h1v1h-1zM28 108h1v1h-1zM34 108h1v1h-1zM42 108h1v1h-1zM45 108h1v1h-1zM49 108h1v1h-1zM62 108h1v1h-1zM80 108h1v1h-1zM82 108h1v1h-1zM85 108h1v1h-1zM105 108h1v1h-1zM2 107h1v1h-1zM5 107h1v1h-1zM13 107h1v1h-1zM27 107h1v1h-1zM34 107h1v1h-1zM37 107h1v1h-1zM44 107h3v1h-3zM57 107h1v1h-1zM68 107h1v1h-1zM73 107h1v1h-1zM82 107h1v1h-1zM114 107h1v1h-1zM118 107h1v1h-1zM140 107h1v1h-1zM7 106h2v1h-2zM16 106h1v1h-1zM23 106h1v1h-1zM25 106h1v1h-1zM33 106h1v1h-1zM41 106h1v1h-1zM63 106h1v1h-1zM68 106h1v1h-1zM78 106h1v1h-1zM112 106h1v1h-1zM3 105h1v1h-1zM21 105h1v1h-1zM42 105h1v1h-1zM59 105h1v1h-1zM62 105h1v1h-1zM65 105h1v1h-1zM68 105h1v1h-1zM72 105h1v1h-1zM80 105h1v1h-1zM95 105h2v1h-2zM106 105h1v1h-1zM110 105h1v1h-1zM118 105h1v1h-1zM0 104h2v1h-2zM9 104h1v1h-1zM32 104h1v1h-1zM34 104h1v1h-1zM45 104h1v1h-1zM67 104h1v1h-1zM70 104h1v1h-1zM88 104h1v1h-1zM106 104h1v1h-1zM125 104h1v1h-1zM1 103h1v1h-1zM5 103h1v1h-1zM21 103h2v1h-2zM36 103h1v1h-1zM53 103h1v1h-1zM69 103h1v1h-1zM72 103h1v1h-1zM78 103h1v1h-1zM85 103h1v1h-1zM88 103h1v1h-1zM94 103h1v1h-1zM96 103h1v1h-1zM102 103h1v1h-1zM104 103h1v1h-1zM135 103h1v1h-1zM18 102h1v1h-1zM34 102h1v1h-1zM37 102h1v1h-1zM44 102h1v1h-1zM52 102h1v1h-1zM55 102h1v1h-1zM63 102h1v1h-1zM91 102h1v1h-1zM16 101h1v1h-1zM23 101h1v1h-1zM32 101h1v1h-1zM38 101h3v1h-3zM46 101h1v1h-1zM50 101h1v1h-1zM52 101h1v1h-1zM61 101h2v1h-2zM66 101h1v1h-1zM69 101h1v1h-1zM75 101h1v1h-1zM84 101h1v1h-1zM96 101h2v1h-2zM120 101h1v1h-1zM135 101h1v1h-1zM11 100h1v1h-1zM22 100h2v1h-2zM26 100h1v1h-1zM39 100h2v1h-2zM58 100h2v1h-2zM64 100h1v1h-1zM69 100h1v1h-1zM74 100h1v1h-1zM77 100h1v1h-1zM83 100h1v1h-1zM98 100h1v1h-1zM104 100h1v1h-1zM108 100h1v1h-1zM120 100h1v1h-1zM145 100h1v1h-1zM4 99h2v1h-2zM12 99h1v1h-1zM28 99h1v1h-1zM32 99h1v1h-1zM47 99h1v1h-1zM50 99h1v1h-1zM77 99h2v1h-2zM82 99h1v1h-1zM84 99h1v1h-1zM88 99h1v1h-1zM90 99h1v1h-1zM25 98h1v1h-1zM27 98h1v1h-1zM34 98h1v1h-1zM40 98h1v1h-1zM45 98h4v1h-4zM53 98h1v1h-1zM64 98h1v1h-1zM66 98h1v1h-1zM71 98h1v1h-1zM76 98h1v1h-1zM83 98h1v1h-1zM96 98h1v1h-1zM101 98h1v1h-1zM105 98h1v1h-1zM114 98h1v1h-1zM125 98h1v1h-1zM20 97h1v1h-1zM50 97h1v1h-1zM59 97h2v1h-2zM64 97h1v1h-1zM69 97h1v1h-1zM85 97h2v1h-2zM90 97h1v1h-1zM105 97h1v1h-1zM110 97h1v1h-1zM13 96h1v1h-1zM22 96h1v1h-1zM26 96h1v1h-1zM30 96h1v1h-1zM36 96h2v1h-2zM44 96h1v1h-1zM47 96h1v1h-1zM52 96h1v1h-1zM61 96h1v1h-1zM72 96h1v1h-1zM85 96h1v1h-1zM89 96h1v1h-1zM94 96h2v1h-2zM101 96h1v1h-1zM2 95h1v1h-1zM8 95h1v1h-1zM27 95h1v1h-1zM32 95h2v1h-2zM35 95h2v1h-2zM39 95h3v1h-3zM44 95h1v1h-1zM56 95h1v1h-1zM60 95h1v1h-1zM63 95h1v1h-1zM67 95h1v1h-1zM69 95h1v1h-1zM85 95h1v1h-1zM102 95h1v1h-1zM104 95h1v1h-1zM110 95h1v1h-1zM112 95h1v1h-1zM120 95h1v1h-1zM3 94h1v1h-1zM18 94h1v1h-1zM26 94h1v1h-1zM41 94h2v1h-2zM49 94h1v1h-1zM54 94h3v1h-3zM62 94h1v1h-1zM84 94h1v1h-1zM98 94h1v1h-1zM2 93h1v1h-1zM5 93h1v1h-1zM29 93h1v1h-1zM43 93h1v1h-1zM54 93h1v1h-1zM57 93h1v1h-1zM73 93h1v1h-1zM84 93h1v1h-1zM102 93h1v1h-1zM17 92h1v1h-1zM27 92h1v1h-1zM53 92h1v1h-1zM59 92h1v1h-1zM87 92h1v1h-1zM108 92h1v1h-1zM114 92h1v1h-1zM0 91h1v1h-1zM2 91h1v1h-1zM30 91h1v1h-1zM41 91h1v1h-1zM50 91h1v1h-1zM69 91h1v1h-1zM86 91h1v1h-1zM90 91h1v1h-1zM100 91h2v1h-2zM104 91h2v1h-2zM108 91h1v1h-1zM116 91h1v1h-1zM7 90h1v1h-1zM9 90h1v1h-1zM27 90h1v1h-1zM42 90h1v1h-1zM46 90h1v1h-1zM48 90h2v1h-2zM57 90h2v1h-2zM66 90h1v1h-1zM82 90h1v1h-1zM94 90h1v1h-1zM1 89h1v1h-1zM5 89h1v1h-1zM9 89h1v1h-1zM37 89h1v1h-1zM47 89h4v1h-4zM58 89h1v1h-1zM63 89h1v1h-1zM66 89h1v1h-1zM72 89h1v1h-1zM85 89h1v1h-1zM92 89h1v1h-1zM97 89h2v1h-2zM101 89h1v1h-1zM112 89h1v1h-1zM17 88h2v1h-2zM26 88h1v1h-1zM82 88h1v1h-1zM84 88h1v1h-1zM98 88h1v1h-1zM101 88h1v1h-1zM11 87h1v1h-1zM25 87h1v1h-1zM28 87h1v1h-1zM37 87h1v1h-1zM48 87h2v1h-2zM55 87h1v1h-1zM59 87h1v1h-1zM71 87h1v1h-1zM75 87h1v1h-1zM92 87h1v1h-1zM103 87h1v1h-1zM106 87h1v1h-1zM116 87h1v1h-1zM145 87h1v1h-1zM1 86h1v1h-1zM10 86h1v1h-1zM32 86h1v1h-1zM34 86h1v1h-1zM40 86h1v1h-1zM50 86h1v1h-1zM52 86h1v1h-1zM54 86h1v1h-1zM56 86h1v1h-1zM69 86h1v1h-1zM71 86h1v1h-1zM82 86h2v1h-2zM90 86h1v1h-1zM92 86h1v1h-1zM100 86h1v1h-1zM105 86h1v1h-1zM30 85h1v1h-1zM47 85h1v1h-1zM52 85h1v1h-1zM55 85h1v1h-1zM65 85h1v1h-1zM71 85h1v1h-1zM95 85h2v1h-2zM106 85h1v1h-1zM9 84h2v1h-2zM21 84h3v1h-3zM28 84h1v1h-1zM33 84h1v1h-1zM36 84h2v1h-2zM47 84h1v1h-1zM51 84h2v1h-2zM54 84h2v1h-2zM58 84h1v1h-1zM69 84h1v1h-1zM71 84h1v1h-1zM74 84h1v1h-1zM78 84h2v1h-2zM81 84h1v1h-1zM85 84h1v1h-1zM90 84h1v1h-1zM93 84h1v1h-1zM114 84h1v1h-1zM120 84h1v1h-1zM125 84h1v1h-1zM9 83h1v1h-1zM18 83h1v1h-1zM66 83h1v1h-1zM70 83h1v1h-1zM76 83h1v1h-1zM86 83h1v1h-1zM91 83h2v1h-2zM101 83h2v1h-2zM6 82h1v1h-1zM33 82h1v1h-1zM36 82h1v1h-1zM53 82h1v1h-1zM57 82h1v1h-1zM84 82h1v1h-1zM86 82h2v1h-2zM97 82h1v1h-1zM0 81h1v1h-1zM3 81h1v1h-1zM16 81h1v1h-1zM35 81h1v1h-1zM37 81h2v1h-2zM46 81h1v1h-1zM49 81h2v1h-2zM52 81h1v1h-1zM71 81h1v1h-1zM76 81h1v1h-1zM78 81h1v1h-1zM87 81h1v1h-1zM93 81h1v1h-1zM95 81h1v1h-1zM100 81h1v1h-1zM110 81h1v1h-1zM2 80h1v1h-1zM12 80h2v1h-2zM20 80h1v1h-1zM22 80h1v1h-1zM29 80h1v1h-1zM33 80h1v1h-1zM43 80h1v1h-1zM58 80h1v1h-1zM62 80h1v1h-1zM68 80h1v1h-1zM70 80h1v1h-1zM98 80h1v1h-1zM105 80h1v1h-1zM108 80h1v1h-1zM120 80h1v1h-1zM1 79h4v1h-4zM15 79h3v1h-3zM29 79h1v1h-1zM33 79h1v1h-1zM37 79h1v1h-1zM41 79h1v1h-1zM44 79h1v1h-1zM46 79h1v1h-1zM49 79h1v1h-1zM54 79h2v1h-2zM67 79h1v1h-1zM89 79h1v1h-1zM93 79h1v1h-1zM95 79h1v1h-1zM97 79h1v1h-1zM103 79h2v1h-2zM112 79h1v1h-1zM116 79h1v1h-1zM150 79h1v1h-1zM52 78h1v1h-1zM55 78h2v1h-2zM61 78h1v1h-1zM80 78h1v1h-1zM91 78h1v1h-1zM97 78h1v1h-1zM103 78h1v1h-1zM125 78h1v1h-1zM130 78h1v1h-1zM10 77h2v1h-2zM14 77h1v1h-1zM23 77h1v1h-1zM25 77h2v1h-2zM42 77h2v1h-2zM51 77h1v1h-1zM60 77h2v1h-2zM65 77h1v1h-1zM71 77h1v1h-1zM94 77h1v1h-1zM96 77h1v1h-1zM98 77h1v1h-1zM150 77h1v1h-1zM13 76h1v1h-1zM17 76h1v1h-1zM22 76h1v1h-1zM27 76h1v1h-1zM54 76h1v1h-1zM61 76h1v1h-1zM66 76h1v1h-1zM83 76h1v1h-1zM90 76h1v1h-1zM94 76h1v1h-1zM97 76h1v1h-1zM108 76h1v1h-1zM110 76h1v1h-1zM112 76h1v1h-1zM114 76h1v1h-1zM135 76h1v1h-1zM23 75h1v1h-1zM50 75h1v1h-1zM63 75h1v1h-1zM68 75h1v1h-1zM71 75h1v1h-1zM78 75h1v1h-1zM91 75h1v1h-1zM93 75h1v1h-1zM104 75h1v1h-1zM106 75h1v1h-1zM150 75h1v1h-1zM6 74h3v1h-3zM12 74h1v1h-1zM17 74h1v1h-1zM29 74h3v1h-3zM33 74h1v1h-1zM42 74h1v1h-1zM86 74h1v1h-1zM91 74h1v1h-1zM94 74h1v1h-1zM99 74h1v1h-1zM2 73h1v1h-1zM28 73h1v1h-1zM31 73h1v1h-1zM37 73h1v1h-1zM47 73h1v1h-1zM51 73h1v1h-1zM55 73h1v1h-1zM63 73h1v1h-1zM76 73h1v1h-1zM101 73h2v1h-2zM150 73h1v1h-1zM0 72h1v1h-1zM19 72h1v1h-1zM27 72h1v1h-1zM36 72h1v1h-1zM45 72h1v1h-1zM75 72h1v1h-1zM96 72h1v1h-1zM98 72h2v1h-2zM110 72h1v1h-1zM1 71h1v1h-1zM11 71h1v1h-1zM23 71h1v1h-1zM25 71h1v1h-1zM30 71h1v1h-1zM43 71h2v1h-2zM48 71h1v1h-1zM55 71h1v1h-1zM60 71h1v1h-1zM66 71h2v1h-2zM75 71h1v1h-1zM95 71h1v1h-1zM145 71h1v1h-1zM2 70h1v1h-1zM12 70h1v1h-1zM14 70h1v1h-1zM25 70h1v1h-1zM31 70h3v1h-3zM43 70h2v1h-2zM49 70h1v1h-1zM55 70h1v1h-1zM63 70h1v1h-1zM65 70h1v1h-1zM83 70h1v1h-1zM91 70h1v1h-1zM110 70h1v1h-1zM10 69h1v1h-1zM20 69h1v1h-1zM41 69h1v1h-1zM43 69h2v1h-2zM54 69h1v1h-1zM60 69h1v1h-1zM62 69h1v1h-1zM66 69h1v1h-1zM95 69h1v1h-1zM101 69h1v1h-1zM104 69h1v1h-1zM8 68h1v1h-1zM10 68h1v1h-1zM27 68h1v1h-1zM31 68h1v1h-1zM38 68h1v1h-1zM40 68h2v1h-2zM71 68h1v1h-1zM74 68h1v1h-1zM77 68h1v1h-1zM98 68h1v1h-1zM114 68h1v1h-1zM2 67h1v1h-1zM13 67h1v1h-1zM17 67h1v1h-1zM30 67h1v1h-1zM37 67h1v1h-1zM45 67h1v1h-1zM48 67h1v1h-1zM61 67h1v1h-1zM63 67h1v1h-1zM70 67h1v1h-1zM76 67h1v1h-1zM83 67h1v1h-1zM88 67h1v1h-1zM100 67h2v1h-2zM2 66h1v1h-1zM8 66h1v1h-1zM12 66h1v1h-1zM16 66h1v1h-1zM31 66h1v1h-1zM39 66h1v1h-1zM70 66h1v1h-1zM73 66h1v1h-1zM90 66h1v1h-1zM95 66h1v1h-1zM110 66h1v1h-1zM2 65h1v1h-1zM8 65h1v1h-1zM23 65h1v1h-1zM25 65h1v1h-1zM28 65h1v1h-1zM41 65h1v1h-1zM45 65h1v1h-1zM63 65h1v1h-1zM78 65h1v1h-1zM85 65h1v1h-1zM93 65h1v1h-1zM108 65h1v1h-1zM130 65h1v1h-1zM7 64h1v1h-1zM11 64h1v1h-1zM31 64h1v1h-1zM34 64h1v1h-1zM61 64h2v1h-2zM71 64h1v1h-1zM103 64h1v1h-1zM105 64h1v1h-1zM112 64h1v1h-1zM125 64h1v1h-1zM5 63h1v1h-1zM15 63h1v1h-1zM23 63h1v1h-1zM36 63h1v1h-1zM38 63h1v1h-1zM49 63h1v1h-1zM55 63h1v1h-1zM60 63h1v1h-1zM68 63h1v1h-1zM80 63h1v1h-1zM98 63h1v1h-1zM100 63h1v1h-1zM125 63h1v1h-1zM140 63h1v1h-1zM0 62h1v1h-1zM8 62h1v1h-1zM22 62h2v1h-2zM41 62h1v1h-1zM44 62h1v1h-1zM74 62h1v1h-1zM95 62h1v1h-1zM13 61h1v1h-1zM21 61h1v1h-1zM38 61h1v1h-1zM41 61h2v1h-2zM51 61h1v1h-1zM70 61h1v1h-1zM74 61h2v1h-2zM79 61h1v1h-1zM94 61h1v1h-1zM104 61h1v1h-1zM145 61h1v1h-1zM26 60h1v1h-1zM31 60h1v1h-1zM33 60h2v1h-2zM48 60h1v1h-1zM56 60h1v1h-1zM59 60h1v1h-1zM78 60h1v1h-1zM88 60h1v1h-1zM94 60h2v1h-2zM97 60h1v1h-1zM100 60h2v1h-2zM118 60h1v1h-1zM1 59h3v1h-3zM8 59h1v1h-1zM33 59h1v1h-1zM61 59h1v1h-1zM78 59h1v1h-1zM96 59h1v1h-1zM100 59h1v1h-1zM102 59h1v1h-1zM110 59h1v1h-1zM8 58h1v1h-1zM12 58h2v1h-2zM42 58h1v1h-1zM44 58h1v1h-1zM47 58h1v1h-1zM55 58h1v1h-1zM64 58h1v1h-1zM69 58h1v1h-1zM74 58h1v1h-1zM79 58h1v1h-1zM84 58h1v1h-1zM90 58h1v1h-1zM93 58h1v1h-1zM106 58h1v1h-1zM5 57h3v1h-3zM32 57h1v1h-1zM34 57h1v1h-1zM42 57h1v1h-1zM44 57h1v1h-1zM52 57h1v1h-1zM54 57h1v1h-1zM68 57h1v1h-1zM70 57h2v1h-2zM88 57h1v1h-1zM94 57h2v1h-2zM102 57h1v1h-1zM105 57h1v1h-1zM145 57h1v1h-1zM150 57h1v1h-1zM1 56h1v1h-1zM12 56h1v1h-1zM19 56h1v1h-1zM21 56h1v1h-1zM29 56h1v1h-1zM32 56h1v1h-1zM46 56h1v1h-1zM52 56h1v1h-1zM77 56h1v1h-1zM80 56h2v1h-2zM96 56h1v1h-1zM108 56h1v1h-1zM0 55h3v1h-3zM9 55h1v1h-1zM16 55h2v1h-2zM31 55h1v1h-1zM33 55h1v1h-1zM42 55h1v1h-1zM56 55h2v1h-2zM60 55h1v1h-1zM63 55h1v1h-1zM95 55h1v1h-1zM102 55h2v1h-2zM9 54h1v1h-1zM21 54h1v1h-1zM29 54h2v1h-2zM36 54h1v1h-1zM38 54h5v1h-5zM49 54h1v1h-1zM51 54h1v1h-1zM64 54h1v1h-1zM69 54h1v1h-1zM79 54h1v1h-1zM81 54h1v1h-1zM85 54h1v1h-1zM87 54h1v1h-1zM100 54h1v1h-1zM120 54h1v1h-1zM25 53h2v1h-2zM33 53h1v1h-1zM40 53h1v1h-1zM45 53h1v1h-1zM47 53h2v1h-2zM54 53h1v1h-1zM59 53h1v1h-1zM68 53h1v1h-1zM72 53h1v1h-1zM76 53h1v1h-1zM99 53h1v1h-1zM102 53h1v1h-1zM112 53h1v1h-1zM6 52h2v1h-2zM13 52h1v1h-1zM22 52h1v1h-1zM39 52h1v1h-1zM43 52h2v1h-2zM50 52h1v1h-1zM54 52h1v1h-1zM56 52h1v1h-1zM59 52h1v1h-1zM62 52h2v1h-2zM75 52h1v1h-1zM79 52h1v1h-1zM90 52h2v1h-2zM98 52h1v1h-1zM108 52h1v1h-1zM125 52h1v1h-1zM17 51h1v1h-1zM32 51h1v1h-1zM48 51h1v1h-1zM60 51h1v1h-1zM62 51h1v1h-1zM71 51h1v1h-1zM73 51h1v1h-1zM80 51h1v1h-1zM86 51h1v1h-1zM104 51h1v1h-1zM120 51h1v1h-1zM6 50h1v1h-1zM8 50h1v1h-1zM15 50h2v1h-2zM26 50h3v1h-3zM37 50h2v1h-2zM41 50h1v1h-1zM52 50h1v1h-1zM55 50h1v1h-1zM57 50h2v1h-2zM60 50h2v1h-2zM91 50h1v1h-1zM95 50h1v1h-1zM97 50h1v1h-1zM101 50h1v1h-1zM114 50h1v1h-1zM150 50h1v1h-1zM10 49h1v1h-1zM27 49h1v1h-1zM31 49h2v1h-2zM42 49h1v1h-1zM47 49h1v1h-1zM90 49h1v1h-1zM103 49h1v1h-1zM108 49h1v1h-1zM120 49h1v1h-1zM130 49h1v1h-1zM140 49h1v1h-1zM0 48h1v1h-1zM5 48h1v1h-1zM8 48h1v1h-1zM25 48h1v1h-1zM30 48h1v1h-1zM39 48h2v1h-2zM42 48h1v1h-1zM57 48h1v1h-1zM82 48h3v1h-3zM87 48h1v1h-1zM104 48h1v1h-1zM110 48h1v1h-1zM8 47h1v1h-1zM21 47h1v1h-1zM29 47h3v1h-3zM36 47h1v1h-1zM40 47h1v1h-1zM55 47h1v1h-1zM81 47h1v1h-1zM94 47h1v1h-1zM106 47h1v1h-1zM110 47h1v1h-1zM125 47h1v1h-1zM2 46h1v1h-1zM10 46h1v1h-1zM16 46h1v1h-1zM33 46h1v1h-1zM47 46h1v1h-1zM59 46h1v1h-1zM66 46h1v1h-1zM74 46h1v1h-1zM82 46h3v1h-3zM89 46h1v1h-1zM112 46h1v1h-1zM125 46h1v1h-1zM150 46h1v1h-1zM14 45h1v1h-1zM23 45h1v1h-1zM39 45h1v1h-1zM49 45h1v1h-1zM93 45h1v1h-1zM97 45h1v1h-1zM11 44h1v1h-1zM44 44h2v1h-2zM48 44h1v1h-1zM50 44h1v1h-1zM66 44h1v1h-1zM92 44h1v1h-1zM102 44h1v1h-1zM110 44h1v1h-1zM12 43h1v1h-1zM15 43h1v1h-1zM17 43h1v1h-1zM75 43h1v1h-1zM82 43h1v1h-1zM98 43h1v1h-1zM100 43h1v1h-1zM105 43h1v1h-1zM116 43h1v1h-1zM118 43h1v1h-1zM4 42h2v1h-2zM10 42h1v1h-1zM16 42h1v1h-1zM31 42h1v1h-1zM33 42h1v1h-1zM50 42h1v1h-1zM53 42h2v1h-2zM70 42h1v1h-1zM73 42h1v1h-1zM84 42h2v1h-2zM88 42h1v1h-1zM95 42h2v1h-2zM104 42h1v1h-1zM1 41h1v1h-1zM35 41h1v1h-1zM48 41h1v1h-1zM55 41h1v1h-1zM59 41h1v1h-1zM61 41h1v1h-1zM68 41h1v1h-1zM78 41h1v1h-1zM84 41h1v1h-1zM86 41h1v1h-1zM91 41h1v1h-1zM99 41h1v1h-1zM150 41h1v1h-1zM15 40h1v1h-1zM26 40h1v1h-1zM65 40h1v1h-1zM69 40h1v1h-1zM73 40h1v1h-1zM84 40h1v1h-1zM92 40h1v1h-1zM116 40h1v1h-1zM11 39h1v1h-1zM14 39h1v1h-1zM35 39h1v1h-1zM41 39h1v1h-1zM48 39h1v1h-1zM50 39h1v1h-1zM54 39h1v1h-1zM63 39h1v1h-1zM67 39h1v1h-1zM93 39h1v1h-1zM99 39h1v1h-1zM104 39h1v1h-1zM2 38h1v1h-1zM24 38h1v1h-1zM26 38h1v1h-1zM28 38h1v1h-1zM30 38h1v1h-1zM37 38h1v1h-1zM56 38h2v1h-2zM64 38h1v1h-1zM81 38h1v1h-1zM83 38h1v1h-1zM125 38h1v1h-1zM15 37h1v1h-1zM21 37h1v1h-1zM31 37h1v1h-1zM43 37h2v1h-2zM50 37h1v1h-1zM53 37h2v1h-2zM57 37h1v1h-1zM61 37h1v1h-1zM64 37h1v1h-1zM100 37h1v1h-1zM104 37h1v1h-1zM110 37h1v1h-1zM114 37h1v1h-1zM23 36h1v1h-1zM26 36h1v1h-1zM35 36h1v1h-1zM45 36h1v1h-1zM50 36h1v1h-1zM71 36h1v1h-1zM75 36h1v1h-1zM82 36h5v1h-5zM102 36h1v1h-1zM125 36h1v1h-1zM8 35h1v1h-1zM13 35h1v1h-1zM26 35h1v1h-1zM37 35h1v1h-1zM42 35h1v1h-1zM65 35h1v1h-1zM90 35h1v1h-1zM97 35h2v1h-2zM110 35h1v1h-1zM118 35h1v1h-1zM0 34h2v1h-2zM3 34h2v1h-2zM10 34h1v1h-1zM22 34h1v1h-1zM26 34h1v1h-1zM31 34h1v1h-1zM40 34h1v1h-1zM45 34h1v1h-1zM49 34h1v1h-1zM94 34h1v1h-1zM114 34h1v1h-1zM150 34h1v1h-1zM5 33h1v1h-1zM9 33h1v1h-1zM26 33h1v1h-1zM38 33h1v1h-1zM62 33h1v1h-1zM65 33h1v1h-1zM73 33h1v1h-1zM75 33h1v1h-1zM77 33h2v1h-2zM14 32h1v1h-1zM18 32h1v1h-1zM27 32h1v1h-1zM30 32h2v1h-2zM36 32h1v1h-1zM45 32h1v1h-1zM56 32h1v1h-1zM71 32h1v1h-1zM77 32h1v1h-1zM95 32h2v1h-2zM98 32h1v1h-1zM100 32h1v1h-1zM104 32h2v1h-2zM114 32h1v1h-1zM140 32h1v1h-1zM145 32h1v1h-1zM14 31h1v1h-1zM16 31h1v1h-1zM35 31h1v1h-1zM69 31h1v1h-1zM92 31h1v1h-1zM145 31h1v1h-1zM13 30h1v1h-1zM26 30h2v1h-2zM44 30h1v1h-1zM49 30h1v1h-1zM55 30h1v1h-1zM57 30h1v1h-1zM64 30h1v1h-1zM80 30h1v1h-1zM92 30h1v1h-1zM99 30h1v1h-1zM102 30h2v1h-2zM125 30h1v1h-1zM1 29h1v1h-1zM37 29h1v1h-1zM46 29h1v1h-1zM49 29h1v1h-1zM55 29h1v1h-1zM61 29h1v1h-1zM64 29h1v1h-1zM68 29h1v1h-1zM72 29h1v1h-1zM74 29h1v1h-1zM81 29h1v1h-1zM84 29h1v1h-1zM92 29h1v1h-1zM140 29h1v1h-1zM20 28h2v1h-2zM35 28h1v1h-1zM48 28h1v1h-1zM51 28h1v1h-1zM61 28h2v1h-2zM70 28h2v1h-2zM92 28h1v1h-1zM94 28h1v1h-1zM102 28h1v1h-1zM104 28h1v1h-1zM120 28h1v1h-1zM1 27h1v1h-1zM3 27h1v1h-1zM7 27h1v1h-1zM23 27h1v1h-1zM25 27h1v1h-1zM33 27h1v1h-1zM46 27h1v1h-1zM54 27h2v1h-2zM70 27h1v1h-1zM78 27h1v1h-1zM98 27h1v1h-1zM125 27h1v1h-1zM130 27h1v1h-1zM140 27h1v1h-1zM13 26h1v1h-1zM20 26h1v1h-1zM55 26h1v1h-1zM60 26h1v1h-1zM73 26h1v1h-1zM78 26h1v1h-1zM95 26h1v1h-1zM101 26h1v1h-1zM110 26h1v1h-1zM3 25h1v1h-1zM33 25h2v1h-2zM48 25h1v1h-1zM75 25h1v1h-1zM77 25h1v1h-1zM79 25h1v1h-1zM81 25h1v1h-1zM83 25h1v1h-1zM100 25h1v1h-1zM6 24h1v1h-1zM45 24h1v1h-1zM48 24h1v1h-1zM60 24h1v1h-1zM64 24h1v1h-1zM87 24h2v1h-2zM5 23h2v1h-2zM32 23h1v1h-1zM36 23h2v1h-2zM50 23h1v1h-1zM60 23h1v1h-1zM62 23h1v1h-1zM76 23h1v1h-1zM79 23h1v1h-1zM88 23h1v1h-1zM106 23h1v1h-1zM140 23h1v1h-1zM20 22h2v1h-2zM27 22h1v1h-1zM29 22h2v1h-2zM39 22h1v1h-1zM42 22h1v1h-1zM54 22h1v1h-1zM56 22h1v1h-1zM62 22h1v1h-1zM65 22h3v1h-3zM75 22h1v1h-1zM80 22h1v1h-1zM91 22h1v1h-1zM101 22h1v1h-1zM130 22h1v1h-1zM26 21h1v1h-1zM28 21h1v1h-1zM35 21h1v1h-1zM45 21h1v1h-1zM48 21h2v1h-2zM56 21h1v1h-1zM65 21h1v1h-1zM95 21h1v1h-1zM106 21h1v1h-1zM19 20h2v1h-2zM44 20h1v1h-1zM46 20h1v1h-1zM49 20h1v1h-1zM62 20h1v1h-1zM67 20h1v1h-1zM69 20h1v1h-1zM92 20h2v1h-2zM100 20h1v1h-1zM118 20h1v1h-1zM23 19h2v1h-2zM33 19h1v1h-1zM46 19h1v1h-1zM57 19h1v1h-1zM67 19h1v1h-1zM72 19h1v1h-1zM76 19h1v1h-1zM79 19h2v1h-2zM82 19h1v1h-1zM105 19h1v1h-1zM110 19h1v1h-1zM150 19h1v1h-1zM3 18h1v1h-1zM10 18h1v1h-1zM20 18h1v1h-1zM25 18h1v1h-1zM34 18h1v1h-1zM51 18h1v1h-1zM56 18h1v1h-1zM79 18h2v1h-2zM90 18h2v1h-2zM95 18h1v1h-1zM102 18h1v1h-1zM106 18h1v1h-1zM125 18h1v1h-1zM25 17h1v1h-1zM37 17h1v1h-1zM55 17h1v1h-1zM69 17h1v1h-1zM82 17h1v1h-1zM88 17h1v1h-1zM103 17h1v1h-1zM5 16h1v1h-1zM20 16h1v1h-1zM41 16h1v1h-1zM46 16h2v1h-2zM53 16h1v1h-1zM56 16h1v1h-1zM63 16h1v1h-1zM67 16h2v1h-2zM71 16h1v1h-1zM108 16h1v1h-1zM150 16h1v1h-1zM5 15h1v1h-1zM10 15h1v1h-1zM22 15h1v1h-1zM26 15h1v1h-1zM37 15h1v1h-1zM52 15h2v1h-2zM55 15h1v1h-1zM60 15h1v1h-1zM84 15h1v1h-1zM99 15h1v1h-1zM104 15h1v1h-1zM12 14h2v1h-2zM19 14h1v1h-1zM23 14h1v1h-1zM26 14h1v1h-1zM39 14h1v1h-1zM45 14h1v1h-1zM48 14h1v1h-1zM56 14h1v1h-1zM70 14h1v1h-1zM100 14h1v1h-1zM104 14h1v1h-1zM8 13h1v1h-1zM30 13h1v1h-1zM40 13h1v1h-1zM47 13h1v1h-1zM56 13h1v1h-1zM66 13h1v1h-1zM77 13h1v1h-1zM86 13h1v1h-1zM90 13h1v1h-1zM130 13h1v1h-1zM150 13h1v1h-1zM22 12h1v1h-1zM31 12h1v1h-1zM35 12h1v1h-1zM39 12h1v1h-1zM41 12h1v1h-1zM43 12h1v1h-1zM49 12h2v1h-2zM72 12h1v1h-1zM74 12h1v1h-1zM85 12h1v1h-1zM94 12h1v1h-1zM116 12h1v1h-1zM0 11h1v1h-1zM29 11h1v1h-1zM45 11h2v1h-2zM51 11h1v1h-1zM56 11h1v1h-1zM69 11h1v1h-1zM72 11h1v1h-1zM86 11h1v1h-1zM91 11h2v1h-2zM103 11h1v1h-1zM110 11h1v1h-1zM16 10h1v1h-1zM32 10h1v1h-1zM39 10h1v1h-1zM42 10h1v1h-1zM63 10h1v1h-1zM68 10h1v1h-1zM108 10h1v1h-1zM8 9h1v1h-1zM16 9h1v1h-1zM23 9h1v1h-1zM25 9h1v1h-1zM29 9h1v1h-1zM48 9h1v1h-1zM53 9h3v1h-3zM58 9h1v1h-1zM60 9h1v1h-1zM73 9h1v1h-1zM85 9h1v1h-1zM99 9h1v1h-1zM103 9h1v1h-1zM145 9h1v1h-1zM150 9h1v1h-1zM2 8h1v1h-1zM22 8h1v1h-1zM63 8h1v1h-1zM70 8h1v1h-1zM73 8h1v1h-1zM80 8h1v1h-1zM83 8h1v1h-1zM85 8h1v1h-1zM97 8h1v1h-1zM105 8h1v1h-1zM5 7h1v1h-1zM22 7h1v1h-1zM27 7h1v1h-1zM42 7h1v1h-1zM48 7h1v1h-1zM54 7h1v1h-1zM56 7h1v1h-1zM58 7h1v1h-1zM61 7h1v1h-1zM65 7h1v1h-1zM67 7h1v1h-1zM70 7h1v1h-1zM77 7h1v1h-1zM79 7h1v1h-1zM86 7h2v1h-2zM89 7h1v1h-1zM95 7h1v1h-1zM102 7h1v1h-1zM116 7h1v1h-1zM12 6h1v1h-1zM35 6h2v1h-2zM45 6h1v1h-1zM52 6h1v1h-1zM55 6h1v1h-1zM60 6h1v1h-1zM64 6h1v1h-1zM79 6h1v1h-1zM81 6h1v1h-1zM97 6h1v1h-1zM112 6h1v1h-1zM130 6h1v1h-1zM6 5h2v1h-2zM13 5h1v1h-1zM32 5h1v1h-1zM39 5h1v1h-1zM53 5h1v1h-1zM56 5h1v1h-1zM62 5h1v1h-1zM78 5h1v1h-1zM80 5h1v1h-1zM86 5h1v1h-1zM93 5h1v1h-1zM95 5h1v1h-1zM102 5h1v1h-1zM104 5h1v1h-1zM1 4h1v1h-1zM23 4h1v1h-1zM30 4h3v1h-3zM42 4h1v1h-1zM59 4h1v1h-1zM69 4h1v1h-1zM82 4h1v1h-1zM99 4h1v1h-1zM114 4h1v1h-1zM145 4h1v1h-1zM0 3h1v1h-1zM3 3h2v1h-2zM26 3h1v1h-1zM40 3h1v1h-1zM44 3h1v1h-1zM48 3h1v1h-1zM56 3h1v1h-1zM58 3h1v1h-1zM60 3h1v1h-1zM71 3h1v1h-1zM80 3h1v1h-1zM85 3h1v1h-1zM98 3h1v1h-1zM5 2h1v1h-1zM11 2h1v1h-1zM20 2h1v1h-1zM23 2h1v1h-1zM34 2h1v1h-1zM36 2h1v1h-1zM44 2h1v1h-1zM46 2h1v1h-1zM48 2h1v1h-1zM54 2h1v1h-1zM56 2h1v1h-1zM59 2h1v1h-1zM69 2h1v1h-1zM72 2h1v1h-1zM80 2h1v1h-1zM118 2h1v1h-1zM130 2h1v1h-1zM18 1h1v1h-1zM20 1h1v1h-1zM55 1h2v1h-2zM70 1h1v1h-1zM89 1h2v1h-2zM92 1h1v1h-1zM103 1h1v1h-1zM130 1h1v1h-1zM12 0h1v1h-1zM16 0h1v1h-1zM23 0h1v1h-1zM26 0h3v1h-3zM32 0h1v1h-1zM41 0h4v1h-4zM46 0h1v1h-1zM49 0h1v1h-1zM54 0h1v1h-1zM59 0h2v1h-2zM62 0h1v1h-1zM64 0h1v1h-1zM87 0h2v1h-2zM99 0h1v1h-1zM104 0h1v1h-1z"/>
<path fill="#472f7d" d="M8 394h1v1h-1zM14 394h1v1h-1zM22 394h1v1h-1zM22 393h1v1h-1zM61 393h1v1h-1zM69 393h1v1h-1zM83 393h1v1h-1zM101 393h1v1h-1zM7 392h1v1h-1zM15 392h1v1h-1zM17 392h1v1h-1zM24 392h1v1h-1zM34 392h1v1h-1zM49 392h1v1h-1zM78 392h1v1h-1zM84 392h1v1h-1zM17 391h1v1h-1zM26 391h1v1h-1zM33 391h1v1h-1zM69 391h1v1h-1zM85 391h1v1h-1zM103 391h1v1h-1zM150 391h1v1h-1zM20 390h1v1h-1zM26 390h1v1h-1zM28 390h1v1h-1zM70 390h1v1h-1zM76 390h1v1h-1zM83 390h1v1h-1zM105 390h1v1h-1zM145 390h1v1h-1zM9 389h2v1h-2zM28 389h1v1h-1zM30 389h1v1h-1zM34 389h1v1h-1zM45 389h1v1h-1zM54 389h1v1h-1zM61 389h1v1h-1zM66 389h1v1h-1zM69 389h1v1h-1zM80 389h1v1h-1zM108 389h1v1h-1zM114 389h1v1h-1zM120 389h1v1h-1zM150 389h1v1h-1zM2 388h1v1h-1zM17 388h1v1h-1zM19 388h1v1h-1zM25 388h1v1h-1zM34 388h1v1h-1zM41 388h2v1h-2zM72 388h1v1h-1zM84 388h1v1h-1zM92 388h1v1h-1zM135 388h1v1h-1zM140 388h1v1h-1zM145 388h1v1h-1zM6 387h1v1h-1zM19 387h1v1h-1zM53 387h1v1h-1zM65 387h1v1h-1zM78 386h1v1h-1zM53 385h1v1h-1zM86 385h1v1h-1zM118 385h1v1h-1zM150 385h1v1h-1zM52 384h1v1h-1zM2 383h1v1h-1zM47 383h1v1h-1zM54 383h1v1h-1zM60 383h1v1h-1zM64 383h1v1h-1zM27 382h1v1h-1zM40 382h1v1h-1zM42 382h1v1h-1zM49 382h1v1h-1zM51 382h1v1h-1zM85 382h1v1h-1zM112 382h1v1h-1zM0 381h1v1h-1zM8 381h1v1h-1zM48 381h1v1h-1zM52 381h1v1h-1zM72 381h1v1h-1zM95 381h1v1h-1zM38 380h2v1h-2zM50 380h1v1h-1zM145 380h1v1h-1zM10 379h1v1h-1zM30 379h1v1h-1zM40 379h1v1h-1zM101 379h1v1h-1zM112 379h1v1h-1zM15 378h1v1h-1zM32 378h1v1h-1zM73 378h1v1h-1zM79 378h1v1h-1zM96 378h1v1h-1zM103 378h1v1h-1zM116 378h1v1h-1zM31 377h1v1h-1zM44 377h1v1h-1zM68 377h1v1h-1zM76 377h3v1h-3zM92 377h1v1h-1zM19 376h1v1h-1zM27 376h1v1h-1zM70 376h1v1h-1zM11 375h1v1h-1zM17 375h1v1h-1zM35 375h1v1h-1zM37 374h1v1h-1zM40 374h1v1h-1zM48 374h1v1h-1zM58 374h1v1h-1zM75 374h1v1h-1zM89 374h1v1h-1zM98 374h1v1h-1zM106 374h1v1h-1zM120 374h1v1h-1zM2 373h1v1h-1zM20 373h1v1h-1zM49 373h1v1h-1zM52 373h1v1h-1zM68 373h2v1h-2zM83 373h1v1h-1zM92 373h1v1h-1zM95 373h1v1h-1zM97 373h1v1h-1zM0 372h1v1h-1zM24 372h2v1h-2zM31 372h1v1h-1zM48 372h2v1h-2zM74 372h1v1h-1zM78 372h1v1h-1zM91 372h2v1h-2zM125 372h1v1h-1zM1 371h1v1h-1zM7 371h1v1h-1zM27 371h1v1h-1zM42 371h1v1h-1zM78 371h1v1h-1zM125 371h1v1h-1zM2 370h1v1h-1zM15 370h1v1h-1zM35 370h1v1h-1zM67 370h1v1h-1zM28 369h1v1h-1zM37 369h1v1h-1zM39 369h1v1h-1zM52 369h1v1h-1zM79 369h1v1h-1zM36 368h1v1h-1zM42 368h1v1h-1zM58 368h1v1h-1zM82 368h1v1h-1zM125 368h1v1h-1zM9 367h1v1h-1zM18 367h1v1h-1zM23 367h1v1h-1zM35 367h1v1h-1zM42 367h1v1h-1zM84 367h1v1h-1zM90 367h1v1h-1zM17 366h1v1h-1zM42 366h2v1h-2zM49 366h1v1h-1zM62 366h1v1h-1zM84 366h1v1h-1zM90 366h1v1h-1zM3 365h1v1h-1zM39 365h1v1h-1zM56 365h1v1h-1zM34 364h1v1h-1zM74 364h1v1h-1zM103 364h3v1h-3zM5 363h1v1h-1zM43 363h1v1h-1zM61 363h1v1h-1zM72 363h1v1h-1zM120 363h1v1h-1zM140 363h1v1h-1zM150 363h1v1h-1zM1 362h1v1h-1zM3 362h1v1h-1zM54 362h1v1h-1zM60 362h1v1h-1zM80 362h2v1h-2zM42 361h1v1h-1zM48 361h1v1h-1zM61 361h1v1h-1zM66 361h1v1h-1zM87 361h1v1h-1zM114 361h1v1h-1zM0 360h1v1h-1zM34 360h1v1h-1zM74 360h3v1h-3zM106 360h1v1h-1zM108 360h1v1h-1zM145 360h1v1h-1zM23 359h1v1h-1zM28 359h1v1h-1zM23 358h1v1h-1zM28 358h1v1h-1zM38 358h1v1h-1zM40 358h1v1h-1zM49 358h1v1h-1zM6 357h1v1h-1zM38 357h1v1h-1zM45 357h1v1h-1zM55 356h1v1h-1zM67 356h1v1h-1zM79 356h1v1h-1zM97 356h1v1h-1zM120 356h1v1h-1zM21 355h1v1h-1zM32 355h1v1h-1zM71 355h1v1h-1zM77 355h2v1h-2zM3 354h1v1h-1zM7 354h1v1h-1zM15 354h1v1h-1zM26 354h1v1h-1zM63 354h1v1h-1zM78 354h1v1h-1zM95 354h1v1h-1zM1 353h1v1h-1zM18 353h1v1h-1zM110 353h1v1h-1zM112 353h1v1h-1zM24 352h1v1h-1zM41 352h1v1h-1zM50 352h1v1h-1zM53 352h1v1h-1zM0 351h1v1h-1zM7 351h1v1h-1zM39 351h1v1h-1zM44 351h1v1h-1zM104 351h1v1h-1zM18 350h1v1h-1zM112 350h1v1h-1zM3 349h1v1h-1zM22 349h1v1h-1zM33 349h1v1h-1zM38 349h1v1h-1zM89 349h1v1h-1zM93 349h1v1h-1zM114 349h1v1h-1zM29 348h1v1h-1zM44 348h1v1h-1zM112 348h1v1h-1zM15 347h1v1h-1zM46 347h1v1h-1zM49 347h1v1h-1zM71 347h1v1h-1zM96 347h1v1h-1zM110 347h1v1h-1zM12 346h1v1h-1zM30 346h1v1h-1zM33 346h1v1h-1zM84 346h1v1h-1zM1 345h1v1h-1zM13 345h1v1h-1zM23 345h1v1h-1zM69 345h1v1h-1zM87 345h1v1h-1zM90 345h1v1h-1zM118 345h1v1h-1zM8 344h1v1h-1zM10 344h1v1h-1zM41 344h2v1h-2zM71 344h1v1h-1zM5 343h1v1h-1zM33 343h1v1h-1zM84 343h1v1h-1zM110 343h1v1h-1zM28 342h2v1h-2zM34 342h2v1h-2zM95 342h2v1h-2zM101 342h1v1h-1zM3 341h1v1h-1zM9 341h2v1h-2zM24 341h1v1h-1zM42 341h1v1h-1zM46 341h1v1h-1zM93 341h2v1h-2zM7 340h1v1h-1zM28 340h1v1h-1zM36 340h1v1h-1zM48 340h1v1h-1zM69 340h1v1h-1zM150 340h1v1h-1zM15 339h1v1h-1zM28 339h1v1h-1zM42 339h1v1h-1zM49 339h1v1h-1zM64 339h1v1h-1zM71 339h1v1h-1zM95 339h1v1h-1zM125 339h1v1h-1zM35 338h1v1h-1zM60 338h2v1h-2zM66 338h1v1h-1zM68 338h1v1h-1zM78 338h2v1h-2zM140 338h1v1h-1zM17 337h1v1h-1zM22 337h1v1h-1zM101 337h1v1h-1zM105 337h1v1h-1zM33 336h1v1h-1zM40 336h2v1h-2zM82 336h1v1h-1zM93 336h1v1h-1zM13 335h1v1h-1zM50 335h1v1h-1zM60 335h1v1h-1zM62 335h1v1h-1zM101 335h1v1h-1zM108 335h1v1h-1zM11 334h1v1h-1zM16 334h1v1h-1zM38 334h1v1h-1zM59 334h1v1h-1zM4 333h1v1h-1zM39 333h1v1h-1zM45 333h1v1h-1zM48 333h1v1h-1zM65 333h1v1h-1zM69 333h1v1h-1zM125 333h1v1h-1zM10 332h1v1h-1zM14 332h1v1h-1zM32 332h1v1h-1zM39 332h1v1h-1zM64 332h1v1h-1zM112 332h1v1h-1zM13 331h1v1h-1zM17 331h1v1h-1zM21 331h1v1h-1zM35 331h1v1h-1zM38 331h1v1h-1zM41 331h1v1h-1zM1 330h1v1h-1zM17 330h1v1h-1zM65 330h2v1h-2zM7 329h2v1h-2zM42 329h1v1h-1zM58 329h2v1h-2zM100 329h1v1h-1zM83 328h1v1h-1zM104 328h1v1h-1zM6 327h1v1h-1zM18 327h1v1h-1zM32 327h1v1h-1zM56 327h1v1h-1zM60 327h1v1h-1zM80 327h1v1h-1zM7 326h1v1h-1zM9 326h1v1h-1zM14 326h1v1h-1zM28 326h1v1h-1zM31 326h1v1h-1zM54 326h1v1h-1zM69 326h1v1h-1zM74 326h1v1h-1zM91 326h1v1h-1zM103 326h1v1h-1zM145 326h1v1h-1zM36 325h1v1h-1zM38 325h1v1h-1zM66 325h1v1h-1zM87 325h1v1h-1zM114 325h1v1h-1zM28 324h1v1h-1zM33 324h1v1h-1zM67 324h1v1h-1zM80 324h1v1h-1zM16 323h1v1h-1zM45 323h1v1h-1zM49 323h1v1h-1zM55 323h1v1h-1zM0 322h1v1h-1zM7 322h1v1h-1zM15 322h1v1h-1zM22 322h1v1h-1zM32 322h1v1h-1zM53 322h1v1h-1zM72 322h2v1h-2zM93 322h1v1h-1zM103 322h1v1h-1zM112 322h1v1h-1zM23 321h1v1h-1zM41 321h1v1h-1zM46 321h1v1h-1zM50 321h1v1h-1zM52 321h1v1h-1zM70 321h1v1h-1zM1 320h1v1h-1zM8 320h1v1h-1zM32 320h1v1h-1zM69 320h1v1h-1zM79 320h1v1h-1zM91 320h1v1h-1zM94 320h1v1h-1zM98 320h1v1h-1zM110 320h1v1h-1zM14 319h1v1h-1zM20 319h2v1h-2zM30 319h1v1h-1zM46 319h1v1h-1zM49 319h1v1h-1zM74 319h1v1h-1zM77 319h1v1h-1zM84 319h1v1h-1zM87 319h1v1h-1zM96 319h2v1h-2zM16 318h1v1h-1zM29 318h1v1h-1zM49 318h1v1h-1zM75 318h1v1h-1zM140 318h1v1h-1zM10 317h1v1h-1zM72 317h1v1h-1zM87 317h1v1h-1zM91 317h1v1h-1zM43 316h1v1h-1zM102 316h1v1h-1zM110 316h1v1h-1zM38 315h1v1h-1zM42 315h1v1h-1zM65 315h1v1h-1zM81 315h1v1h-1zM22 314h1v1h-1zM25 314h1v1h-1zM38 314h1v1h-1zM87 314h1v1h-1zM103 314h1v1h-1zM36 313h1v1h-1zM20 312h1v1h-1zM24 312h1v1h-1zM31 312h1v1h-1zM49 312h1v1h-1zM59 312h1v1h-1zM80 312h1v1h-1zM14 311h1v1h-1zM55 311h1v1h-1zM65 311h1v1h-1zM67 311h1v1h-1zM102 311h1v1h-1zM13 310h1v1h-1zM16 310h1v1h-1zM38 310h1v1h-1zM65 310h1v1h-1zM67 310h1v1h-1zM74 310h1v1h-1zM95 310h1v1h-1zM99 310h1v1h-1zM116 310h1v1h-1zM23 309h2v1h-2zM63 309h1v1h-1zM78 309h1v1h-1zM88 309h1v1h-1zM110 309h1v1h-1zM16 308h1v1h-1zM80 308h1v1h-1zM41 307h1v1h-1zM43 307h1v1h-1zM49 307h1v1h-1zM97 307h1v1h-1zM116 307h1v1h-1zM32 306h1v1h-1zM62 306h1v1h-1zM85 306h1v1h-1zM108 306h1v1h-1zM110 306h1v1h-1zM14 305h1v1h-1zM36 305h1v1h-1zM69 305h1v1h-1zM83 305h1v1h-1zM97 305h1v1h-1zM118 305h1v1h-1zM23 304h1v1h-1zM30 304h1v1h-1zM36 304h1v1h-1zM64 304h1v1h-1zM102 304h1v1h-1zM125 304h1v1h-1zM11 303h1v1h-1zM58 303h1v1h-1zM76 303h1v1h-1zM85 303h1v1h-1zM97 303h1v1h-1zM14 302h2v1h-2zM66 302h1v1h-1zM79 302h1v1h-1zM3 301h1v1h-1zM20 301h1v1h-1zM57 301h1v1h-1zM91 301h1v1h-1zM102 301h1v1h-1zM10 300h1v1h-1zM49 300h1v1h-1zM24 299h1v1h-1zM29 299h1v1h-1zM76 299h1v1h-1zM84 299h1v1h-1zM102 299h1v1h-1zM3 298h1v1h-1zM5 298h1v1h-1zM98 298h1v1h-1zM110 298h1v1h-1zM28 297h1v1h-1zM35 297h1v1h-1zM62 297h1v1h-1zM70 297h1v1h-1zM10 296h1v1h-1zM67 296h1v1h-1zM71 296h1v1h-1zM75 296h1v1h-1zM88 296h1v1h-1zM2 295h1v1h-1zM10 295h1v1h-1zM27 295h1v1h-1zM58 295h1v1h-1zM11 294h1v1h-1zM29 294h2v1h-2zM38 294h1v1h-1zM90 294h1v1h-1zM97 294h1v1h-1zM6 293h1v1h-1zM21 293h2v1h-2zM60 293h1v1h-1zM68 293h1v1h-1zM6 292h1v1h-1zM23 292h1v1h-1zM25 292h1v1h-1zM86 292h2v1h-2zM1 291h1v1h-1zM36 291h1v1h-1zM46 291h3v1h-3zM59 291h1v1h-1zM85 291h1v1h-1zM87 291h1v1h-1zM94 291h1v1h-1zM114 291h1v1h-1zM55 290h1v1h-1zM70 290h1v1h-1zM75 290h1v1h-1zM92 290h1v1h-1zM1 289h1v1h-1zM7 289h1v1h-1zM46 289h1v1h-1zM67 289h1v1h-1zM70 289h1v1h-1zM86 289h1v1h-1zM90 289h1v1h-1zM12 288h1v1h-1zM46 288h1v1h-1zM59 288h1v1h-1zM71 288h1v1h-1zM85 288h1v1h-1zM103 288h1v1h-1zM15 287h1v1h-1zM29 287h1v1h-1zM49 287h1v1h-1zM57 287h1v1h-1zM80 287h1v1h-1zM9 286h1v1h-1zM29 286h1v1h-1zM41 286h1v1h-1zM48 286h1v1h-1zM54 286h1v1h-1zM77 286h1v1h-1zM79 286h1v1h-1zM85 286h1v1h-1zM15 285h1v1h-1zM30 285h1v1h-1zM61 285h1v1h-1zM102 285h1v1h-1zM108 285h1v1h-1zM31 284h1v1h-1zM41 284h1v1h-1zM44 284h1v1h-1zM54 284h1v1h-1zM71 284h1v1h-1zM81 284h1v1h-1zM22 283h1v1h-1zM29 283h1v1h-1zM58 283h1v1h-1zM73 283h1v1h-1zM7 282h1v1h-1zM19 282h1v1h-1zM25 282h1v1h-1zM33 282h1v1h-1zM37 282h1v1h-1zM50 282h1v1h-1zM68 282h1v1h-1zM106 282h1v1h-1zM112 282h1v1h-1zM15 281h1v1h-1zM27 281h1v1h-1zM40 281h1v1h-1zM63 281h1v1h-1zM72 281h1v1h-1zM112 281h1v1h-1zM12 280h1v1h-1zM27 280h1v1h-1zM52 280h1v1h-1zM10 279h1v1h-1zM33 279h1v1h-1zM54 279h1v1h-1zM118 279h1v1h-1zM15 278h1v1h-1zM78 278h4v1h-4zM93 278h1v1h-1zM4 277h1v1h-1zM13 277h1v1h-1zM27 277h1v1h-1zM34 277h1v1h-1zM40 277h1v1h-1zM54 277h1v1h-1zM63 277h1v1h-1zM92 277h1v1h-1zM10 276h1v1h-1zM16 276h1v1h-1zM22 276h1v1h-1zM77 276h1v1h-1zM89 276h1v1h-1zM125 276h1v1h-1zM12 275h1v1h-1zM48 275h1v1h-1zM54 275h1v1h-1zM60 275h1v1h-1zM85 275h1v1h-1zM120 275h1v1h-1zM125 275h1v1h-1zM6 274h1v1h-1zM10 274h1v1h-1zM35 274h1v1h-1zM43 274h1v1h-1zM46 274h1v1h-1zM57 274h1v1h-1zM94 274h1v1h-1zM125 274h1v1h-1zM130 274h1v1h-1zM7 273h1v1h-1zM35 273h1v1h-1zM54 273h1v1h-1zM9 272h1v1h-1zM45 272h1v1h-1zM56 272h1v1h-1zM68 272h1v1h-1zM114 272h1v1h-1zM150 272h1v1h-1zM28 271h3v1h-3zM32 271h1v1h-1zM51 271h1v1h-1zM69 271h1v1h-1zM36 270h1v1h-1zM72 270h1v1h-1zM0 269h1v1h-1zM6 269h1v1h-1zM64 269h1v1h-1zM112 269h1v1h-1zM8 268h1v1h-1zM42 268h1v1h-1zM63 268h2v1h-2zM76 268h1v1h-1zM125 268h1v1h-1zM26 267h1v1h-1zM30 267h1v1h-1zM31 266h1v1h-1zM45 266h2v1h-2zM67 266h1v1h-1zM87 266h2v1h-2zM11 265h1v1h-1zM72 265h1v1h-1zM75 265h1v1h-1zM85 265h1v1h-1zM99 265h1v1h-1zM114 265h1v1h-1zM14 264h1v1h-1zM57 264h1v1h-1zM66 264h1v1h-1zM92 264h1v1h-1zM104 264h1v1h-1zM135 264h1v1h-1zM3 263h1v1h-1zM15 263h1v1h-1zM42 263h1v1h-1zM47 263h1v1h-1zM30 262h2v1h-2zM39 262h1v1h-1zM48 262h1v1h-1zM62 262h1v1h-1zM105 262h1v1h-1zM23 261h1v1h-1zM35 261h1v1h-1zM38 261h1v1h-1zM65 261h1v1h-1zM74 261h1v1h-1zM102 261h1v1h-1zM110 261h1v1h-1zM26 260h1v1h-1zM45 260h1v1h-1zM2 259h1v1h-1zM12 259h1v1h-1zM56 259h1v1h-1zM100 259h1v1h-1zM103 259h1v1h-1zM15 258h1v1h-1zM52 258h1v1h-1zM70 258h1v1h-1zM2 257h1v1h-1zM31 257h1v1h-1zM79 257h1v1h-1zM11 256h1v1h-1zM18 256h1v1h-1zM23 256h1v1h-1zM47 256h1v1h-1zM75 256h1v1h-1zM8 255h1v1h-1zM41 255h1v1h-1zM45 255h2v1h-2zM61 255h1v1h-1zM108 255h1v1h-1zM44 254h2v1h-2zM56 254h2v1h-2zM87 254h1v1h-1zM92 254h1v1h-1zM32 253h1v1h-1zM49 253h1v1h-1zM55 253h1v1h-1zM61 253h1v1h-1zM88 253h2v1h-2zM125 253h1v1h-1zM21 252h2v1h-2zM37 252h1v1h-1zM41 252h1v1h-1zM48 252h1v1h-1zM76 252h1v1h-1zM25 251h1v1h-1zM77 251h1v1h-1zM84 251h1v1h-1zM87 251h1v1h-1zM1 250h1v1h-1zM15 250h1v1h-1zM110 250h1v1h-1zM0 249h1v1h-1zM28 249h1v1h-1zM44 249h1v1h-1zM72 249h1v1h-1zM78 249h1v1h-1zM81 249h1v1h-1zM3 248h1v1h-1zM18 248h1v1h-1zM23 248h1v1h-1zM31 248h2v1h-2zM36 248h1v1h-1zM83 248h1v1h-1zM97 248h1v1h-1zM102 248h1v1h-1zM108 248h1v1h-1zM2 247h1v1h-1zM20 247h1v1h-1zM35 247h1v1h-1zM45 247h1v1h-1zM78 247h1v1h-1zM3 246h1v1h-1zM45 246h1v1h-1zM69 246h1v1h-1zM88 246h1v1h-1zM7 245h1v1h-1zM54 245h1v1h-1zM74 245h1v1h-1zM99 245h1v1h-1zM35 244h1v1h-1zM48 244h1v1h-1zM55 244h1v1h-1zM114 244h1v1h-1zM2 243h1v1h-1zM43 243h1v1h-1zM76 243h1v1h-1zM88 243h1v1h-1zM2 242h1v1h-1zM38 242h1v1h-1zM52 242h1v1h-1zM61 242h2v1h-2zM64 242h1v1h-1zM21 241h1v1h-1zM27 241h1v1h-1zM48 241h1v1h-1zM50 241h1v1h-1zM60 241h1v1h-1zM75 241h1v1h-1zM17 240h1v1h-1zM25 240h1v1h-1zM70 240h1v1h-1zM6 239h1v1h-1zM43 239h1v1h-1zM46 239h1v1h-1zM73 239h1v1h-1zM89 239h1v1h-1zM2 238h1v1h-1zM6 238h1v1h-1zM44 238h1v1h-1zM108 238h1v1h-1zM32 237h1v1h-1zM52 237h1v1h-1zM70 237h1v1h-1zM73 237h1v1h-1zM120 237h1v1h-1zM12 236h1v1h-1zM34 236h1v1h-1zM44 236h1v1h-1zM50 236h1v1h-1zM69 236h1v1h-1zM79 236h1v1h-1zM5 235h1v1h-1zM43 235h1v1h-1zM67 235h1v1h-1zM94 235h1v1h-1zM0 234h1v1h-1zM31 234h1v1h-1zM51 234h1v1h-1zM61 234h1v1h-1zM69 234h1v1h-1zM73 234h1v1h-1zM120 234h1v1h-1zM70 233h1v1h-1zM99 233h1v1h-1zM118 233h1v1h-1zM150 233h1v1h-1zM14 232h1v1h-1zM34 232h1v1h-1zM39 232h2v1h-2zM48 232h1v1h-1zM57 232h1v1h-1zM74 232h1v1h-1zM97 232h1v1h-1zM140 232h1v1h-1zM26 231h2v1h-2zM54 231h1v1h-1zM93 231h1v1h-1zM97 231h1v1h-1zM110 231h1v1h-1zM15 230h1v1h-1zM23 230h1v1h-1zM56 230h1v1h-1zM71 230h1v1h-1zM96 230h2v1h-2zM26 229h1v1h-1zM60 229h2v1h-2zM64 229h1v1h-1zM75 229h1v1h-1zM59 228h1v1h-1zM27 227h1v1h-1zM48 227h1v1h-1zM55 227h1v1h-1zM65 227h1v1h-1zM85 227h1v1h-1zM91 227h1v1h-1zM100 227h1v1h-1zM118 227h1v1h-1zM1 226h2v1h-2zM4 226h1v1h-1zM27 226h1v1h-1zM145 226h1v1h-1zM32 225h1v1h-1zM38 225h1v1h-1zM40 225h2v1h-2zM46 225h1v1h-1zM52 225h1v1h-1zM64 225h1v1h-1zM52 224h1v1h-1zM125 224h1v1h-1zM24 223h1v1h-1zM36 223h1v1h-1zM41 223h1v1h-1zM84 223h1v1h-1zM69 222h1v1h-1zM4 221h1v1h-1zM54 221h1v1h-1zM65 221h1v1h-1zM98 221h1v1h-1zM6 220h1v1h-1zM77 220h1v1h-1zM95 220h1v1h-1zM150 220h1v1h-1zM4 219h1v1h-1zM12 219h1v1h-1zM19 219h1v1h-1zM22 219h1v1h-1zM71 219h1v1h-1zM86 219h1v1h-1zM3 218h1v1h-1zM18 218h1v1h-1zM21 218h1v1h-1zM26 218h1v1h-1zM49 218h1v1h-1zM57 218h2v1h-2zM70 218h1v1h-1zM73 218h1v1h-1zM80 218h1v1h-1zM1 217h1v1h-1zM43 217h1v1h-1zM59 217h1v1h-1zM86 217h1v1h-1zM98 217h1v1h-1zM100 217h1v1h-1zM2 216h1v1h-1zM31 216h1v1h-1zM37 216h1v1h-1zM41 216h1v1h-1zM46 216h1v1h-1zM49 216h1v1h-1zM112 216h1v1h-1zM15 215h1v1h-1zM29 215h1v1h-1zM44 215h1v1h-1zM95 215h1v1h-1zM4 214h1v1h-1zM14 214h1v1h-1zM24 214h1v1h-1zM26 214h1v1h-1zM41 214h1v1h-1zM71 214h1v1h-1zM82 214h1v1h-1zM3 213h1v1h-1zM6 213h1v1h-1zM27 213h1v1h-1zM33 213h1v1h-1zM76 213h1v1h-1zM0 212h1v1h-1zM69 212h1v1h-1zM116 212h1v1h-1zM22 211h1v1h-1zM81 211h1v1h-1zM150 211h1v1h-1zM9 210h1v1h-1zM38 210h1v1h-1zM74 210h1v1h-1zM87 210h1v1h-1zM103 210h1v1h-1zM37 209h1v1h-1zM57 209h1v1h-1zM64 209h1v1h-1zM72 209h1v1h-1zM83 209h2v1h-2zM45 208h2v1h-2zM61 208h1v1h-1zM69 208h1v1h-1zM110 208h1v1h-1zM16 207h1v1h-1zM20 207h1v1h-1zM40 207h1v1h-1zM51 206h1v1h-1zM82 206h1v1h-1zM114 206h1v1h-1zM23 205h1v1h-1zM28 205h1v1h-1zM50 205h1v1h-1zM68 205h1v1h-1zM76 205h1v1h-1zM145 205h1v1h-1zM3 204h1v1h-1zM12 204h1v1h-1zM20 204h1v1h-1zM130 204h1v1h-1zM9 203h1v1h-1zM21 203h1v1h-1zM31 203h1v1h-1zM76 203h1v1h-1zM101 203h1v1h-1zM112 203h1v1h-1zM28 202h1v1h-1zM90 202h1v1h-1zM9 201h1v1h-1zM34 201h1v1h-1zM39 201h1v1h-1zM41 201h2v1h-2zM78 201h1v1h-1zM97 201h1v1h-1zM125 201h1v1h-1zM14 200h1v1h-1zM62 200h1v1h-1zM47 199h1v1h-1zM57 199h1v1h-1zM66 199h1v1h-1zM71 199h1v1h-1zM81 199h1v1h-1zM97 199h1v1h-1zM15 198h1v1h-1zM72 198h1v1h-1zM83 198h1v1h-1zM39 197h1v1h-1zM62 197h1v1h-1zM66 197h1v1h-1zM75 197h1v1h-1zM110 197h1v1h-1zM17 196h1v1h-1zM64 196h1v1h-1zM77 196h1v1h-1zM85 196h1v1h-1zM140 196h1v1h-1zM4 195h1v1h-1zM28 195h1v1h-1zM41 195h1v1h-1zM46 195h1v1h-1zM84 195h1v1h-1zM118 195h1v1h-1zM6 194h1v1h-1zM11 194h1v1h-1zM49 194h1v1h-1zM77 194h1v1h-1zM82 194h1v1h-1zM97 194h1v1h-1zM108 194h1v1h-1zM51 193h1v1h-1zM60 193h2v1h-2zM13 192h1v1h-1zM70 192h1v1h-1zM78 192h1v1h-1zM22 191h1v1h-1zM25 191h1v1h-1zM47 191h1v1h-1zM85 191h1v1h-1zM145 191h1v1h-1zM61 190h1v1h-1zM67 190h1v1h-1zM33 189h1v1h-1zM36 189h1v1h-1zM47 189h1v1h-1zM5 188h2v1h-2zM28 188h2v1h-2zM34 188h1v1h-1zM44 188h1v1h-1zM48 188h1v1h-1zM69 188h1v1h-1zM43 187h1v1h-1zM45 187h1v1h-1zM52 187h1v1h-1zM54 187h1v1h-1zM72 187h1v1h-1zM79 187h1v1h-1zM6 186h1v1h-1zM11 186h1v1h-1zM17 186h1v1h-1zM48 186h1v1h-1zM86 186h1v1h-1zM90 186h1v1h-1zM100 186h1v1h-1zM108 186h1v1h-1zM15 185h1v1h-1zM42 185h1v1h-1zM58 185h1v1h-1zM66 185h1v1h-1zM98 185h2v1h-2zM14 184h2v1h-2zM102 184h1v1h-1zM23 183h1v1h-1zM28 183h1v1h-1zM43 183h2v1h-2zM50 183h1v1h-1zM82 183h1v1h-1zM85 183h1v1h-1zM102 183h1v1h-1zM5 182h1v1h-1zM84 182h2v1h-2zM130 182h1v1h-1zM2 181h1v1h-1zM50 181h1v1h-1zM77 181h1v1h-1zM108 181h1v1h-1zM13 180h1v1h-1zM51 180h2v1h-2zM56 180h1v1h-1zM73 180h1v1h-1zM100 180h1v1h-1zM0 179h1v1h-1zM34 179h1v1h-1zM37 179h1v1h-1zM106 179h1v1h-1zM140 179h1v1h-1zM15 178h1v1h-1zM24 178h1v1h-1zM32 178h1v1h-1zM45 178h1v1h-1zM56 178h1v1h-1zM70 178h1v1h-1zM83 178h1v1h-1zM85 178h1v1h-1zM90 178h1v1h-1zM43 177h1v1h-1zM65 177h1v1h-1zM28 176h1v1h-1zM9 175h1v1h-1zM53 175h1v1h-1zM72 175h1v1h-1zM84 175h1v1h-1zM10 174h1v1h-1zM13 174h1v1h-1zM59 174h2v1h-2zM66 174h1v1h-1zM71 174h1v1h-1zM81 174h1v1h-1zM6 173h1v1h-1zM16 173h1v1h-1zM28 173h1v1h-1zM35 173h1v1h-1zM46 173h1v1h-1zM76 173h1v1h-1zM118 173h1v1h-1zM6 172h1v1h-1zM40 172h1v1h-1zM49 172h1v1h-1zM71 172h1v1h-1zM28 171h1v1h-1zM32 171h1v1h-1zM50 171h1v1h-1zM56 171h1v1h-1zM67 171h1v1h-1zM4 170h1v1h-1zM23 170h1v1h-1zM26 170h1v1h-1zM32 170h1v1h-1zM34 170h1v1h-1zM85 170h1v1h-1zM108 170h1v1h-1zM16 169h1v1h-1zM26 169h1v1h-1zM28 169h1v1h-1zM49 169h2v1h-2zM53 169h1v1h-1zM57 169h1v1h-1zM97 169h1v1h-1zM99 169h1v1h-1zM25 168h1v1h-1zM39 168h2v1h-2zM62 168h1v1h-1zM96 168h1v1h-1zM130 168h1v1h-1zM6 167h1v1h-1zM16 167h1v1h-1zM23 167h1v1h-1zM29 167h1v1h-1zM40 167h1v1h-1zM57 167h1v1h-1zM61 167h1v1h-1zM88 167h1v1h-1zM97 167h1v1h-1zM51 166h1v1h-1zM135 166h1v1h-1zM43 165h1v1h-1zM50 165h1v1h-1zM7 164h1v1h-1zM30 164h2v1h-2zM40 164h1v1h-1zM49 164h2v1h-2zM57 164h1v1h-1zM62 164h1v1h-1zM75 164h1v1h-1zM28 163h1v1h-1zM32 163h1v1h-1zM38 163h1v1h-1zM75 163h1v1h-1zM81 163h1v1h-1zM98 163h1v1h-1zM110 163h1v1h-1zM11 162h2v1h-2zM16 162h1v1h-1zM32 162h1v1h-1zM34 162h1v1h-1zM45 162h1v1h-1zM59 162h1v1h-1zM76 162h1v1h-1zM95 162h1v1h-1zM78 161h1v1h-1zM91 161h1v1h-1zM120 161h1v1h-1zM39 160h1v1h-1zM49 160h1v1h-1zM76 160h2v1h-2zM86 160h1v1h-1zM28 159h1v1h-1zM31 159h1v1h-1zM59 159h1v1h-1zM81 159h1v1h-1zM84 159h1v1h-1zM92 159h1v1h-1zM97 159h1v1h-1zM5 158h1v1h-1zM7 158h1v1h-1zM51 158h1v1h-1zM65 158h1v1h-1zM5 157h1v1h-1zM8 157h1v1h-1zM15 157h1v1h-1zM28 157h1v1h-1zM57 157h1v1h-1zM70 157h1v1h-1zM2 156h1v1h-1zM12 156h1v1h-1zM67 156h1v1h-1zM8 155h1v1h-1zM13 155h1v1h-1zM35 155h1v1h-1zM47 155h1v1h-1zM56 155h1v1h-1zM71 155h1v1h-1zM85 155h1v1h-1zM92 155h1v1h-1zM96 155h1v1h-1zM120 155h1v1h-1zM7 154h1v1h-1zM12 154h1v1h-1zM48 154h2v1h-2zM58 154h1v1h-1zM66 154h1v1h-1zM112 154h1v1h-1zM17 153h1v1h-1zM27 153h1v1h-1zM35 153h1v1h-1zM51 153h1v1h-1zM71 153h1v1h-1zM91 153h1v1h-1zM31 152h1v1h-1zM40 152h1v1h-1zM42 152h1v1h-1zM87 152h1v1h-1zM11 151h1v1h-1zM15 151h1v1h-1zM22 151h1v1h-1zM35 151h1v1h-1zM41 151h1v1h-1zM60 151h1v1h-1zM67 151h1v1h-1zM6 150h1v1h-1zM14 150h1v1h-1zM36 150h1v1h-1zM63 150h3v1h-3zM67 150h1v1h-1zM86 150h1v1h-1zM90 150h2v1h-2zM93 150h1v1h-1zM27 149h1v1h-1zM39 149h1v1h-1zM81 149h1v1h-1zM105 149h1v1h-1zM16 148h1v1h-1zM29 148h1v1h-1zM40 148h1v1h-1zM50 148h1v1h-1zM72 148h1v1h-1zM91 148h1v1h-1zM94 148h1v1h-1zM108 148h1v1h-1zM67 147h1v1h-1zM78 147h1v1h-1zM140 147h1v1h-1zM27 146h1v1h-1zM36 146h1v1h-1zM44 146h1v1h-1zM54 146h1v1h-1zM60 146h1v1h-1zM76 146h1v1h-1zM100 146h1v1h-1zM0 145h1v1h-1zM2 145h1v1h-1zM20 145h1v1h-1zM28 145h1v1h-1zM31 145h2v1h-2zM46 145h1v1h-1zM51 145h1v1h-1zM60 145h1v1h-1zM81 145h1v1h-1zM7 144h1v1h-1zM21 144h1v1h-1zM28 144h1v1h-1zM38 144h1v1h-1zM44 144h1v1h-1zM85 144h1v1h-1zM114 144h1v1h-1zM28 143h1v1h-1zM81 143h1v1h-1zM41 142h1v1h-1zM47 142h1v1h-1zM66 142h1v1h-1zM91 142h2v1h-2zM116 142h1v1h-1zM3 141h1v1h-1zM26 141h1v1h-1zM28 141h1v1h-1zM54 141h1v1h-1zM86 141h1v1h-1zM130 141h1v1h-1zM8 140h1v1h-1zM19 140h1v1h-1zM27 140h1v1h-1zM66 140h1v1h-1zM68 140h1v1h-1zM13 139h1v1h-1zM31 139h1v1h-1zM49 139h2v1h-2zM63 139h1v1h-1zM66 139h1v1h-1zM68 139h1v1h-1zM76 139h2v1h-2zM90 139h1v1h-1zM9 138h1v1h-1zM24 138h2v1h-2zM43 138h1v1h-1zM49 138h1v1h-1zM80 138h1v1h-1zM99 138h1v1h-1zM101 138h1v1h-1zM7 137h1v1h-1zM13 137h1v1h-1zM30 137h1v1h-1zM42 137h1v1h-1zM44 137h1v1h-1zM53 137h1v1h-1zM57 137h1v1h-1zM63 137h1v1h-1zM7 136h1v1h-1zM29 136h1v1h-1zM59 136h1v1h-1zM64 136h1v1h-1zM76 136h1v1h-1zM21 135h1v1h-1zM28 135h1v1h-1zM36 135h1v1h-1zM40 135h1v1h-1zM45 135h2v1h-2zM58 135h1v1h-1zM63 135h1v1h-1zM75 135h1v1h-1zM83 135h1v1h-1zM43 134h1v1h-1zM48 134h1v1h-1zM64 134h1v1h-1zM82 134h1v1h-1zM0 133h1v1h-1zM8 133h1v1h-1zM39 133h1v1h-1zM92 133h1v1h-1zM8 132h1v1h-1zM29 132h1v1h-1zM39 132h1v1h-1zM46 132h1v1h-1zM6 131h1v1h-1zM19 131h1v1h-1zM32 131h1v1h-1zM49 131h1v1h-1zM71 131h1v1h-1zM97 131h1v1h-1zM105 131h1v1h-1zM3 130h1v1h-1zM55 130h1v1h-1zM70 130h1v1h-1zM73 130h2v1h-2zM3 129h1v1h-1zM24 129h1v1h-1zM60 129h1v1h-1zM63 129h1v1h-1zM74 129h3v1h-3zM13 128h1v1h-1zM36 128h2v1h-2zM81 128h2v1h-2zM112 128h1v1h-1zM0 127h1v1h-1zM11 127h1v1h-1zM23 127h1v1h-1zM31 127h2v1h-2zM45 127h1v1h-1zM84 127h1v1h-1zM1 126h1v1h-1zM62 126h1v1h-1zM64 126h1v1h-1zM95 126h1v1h-1zM48 125h1v1h-1zM54 125h1v1h-1zM83 125h1v1h-1zM93 125h1v1h-1zM39 124h1v1h-1zM59 124h1v1h-1zM104 124h1v1h-1zM6 123h1v1h-1zM28 123h1v1h-1zM43 123h1v1h-1zM46 123h1v1h-1zM72 123h1v1h-1zM103 123h1v1h-1zM110 123h1v1h-1zM3 122h1v1h-1zM12 122h1v1h-1zM48 122h1v1h-1zM60 122h1v1h-1zM74 122h2v1h-2zM6 121h3v1h-3zM12 121h1v1h-1zM45 121h1v1h-1zM63 121h1v1h-1zM93 121h1v1h-1zM98 121h1v1h-1zM145 121h1v1h-1zM16 120h1v1h-1zM72 120h2v1h-2zM48 119h1v1h-1zM6 118h1v1h-1zM8 118h1v1h-1zM23 118h1v1h-1zM42 118h1v1h-1zM46 118h2v1h-2zM69 118h1v1h-1zM73 118h2v1h-2zM114 118h1v1h-1zM13 117h1v1h-1zM45 117h1v1h-1zM7 116h1v1h-1zM21 116h1v1h-1zM87 116h1v1h-1zM99 116h1v1h-1zM49 115h1v1h-1zM8 114h1v1h-1zM14 114h1v1h-1zM39 114h1v1h-1zM51 114h1v1h-1zM2 113h1v1h-1zM12 113h1v1h-1zM62 113h2v1h-2zM90 113h1v1h-1zM3 112h1v1h-1zM15 112h1v1h-1zM19 112h1v1h-1zM27 112h1v1h-1zM52 112h1v1h-1zM82 112h1v1h-1zM101 112h1v1h-1zM105 112h1v1h-1zM10 111h1v1h-1zM28 111h1v1h-1zM47 111h2v1h-2zM116 111h1v1h-1zM11 110h1v1h-1zM16 110h1v1h-1zM28 110h1v1h-1zM48 110h1v1h-1zM52 110h1v1h-1zM56 110h1v1h-1zM12 109h2v1h-2zM20 109h1v1h-1zM24 109h1v1h-1zM69 109h1v1h-1zM82 109h1v1h-1zM90 109h1v1h-1zM135 109h1v1h-1zM18 108h1v1h-1zM31 108h1v1h-1zM65 108h1v1h-1zM79 108h1v1h-1zM130 108h1v1h-1zM71 107h1v1h-1zM88 107h1v1h-1zM31 106h1v1h-1zM38 106h1v1h-1zM62 106h1v1h-1zM69 106h1v1h-1zM76 106h1v1h-1zM88 106h1v1h-1zM135 106h1v1h-1zM7 105h1v1h-1zM39 105h1v1h-1zM49 105h2v1h-2zM66 105h1v1h-1zM6 104h1v1h-1zM18 104h1v1h-1zM27 104h1v1h-1zM49 104h2v1h-2zM18 103h2v1h-2zM41 103h1v1h-1zM47 103h1v1h-1zM55 103h1v1h-1zM76 103h1v1h-1zM93 103h1v1h-1zM130 103h1v1h-1zM40 102h1v1h-1zM61 102h2v1h-2zM68 102h1v1h-1zM76 102h1v1h-1zM81 102h1v1h-1zM21 101h1v1h-1zM88 101h1v1h-1zM10 100h1v1h-1zM21 100h1v1h-1zM33 100h1v1h-1zM89 100h1v1h-1zM118 100h1v1h-1zM14 99h1v1h-1zM31 99h1v1h-1zM42 99h1v1h-1zM46 99h1v1h-1zM55 99h1v1h-1zM98 99h1v1h-1zM1 98h1v1h-1zM56 98h1v1h-1zM95 98h1v1h-1zM135 98h1v1h-1zM13 97h1v1h-1zM27 97h1v1h-1zM48 97h1v1h-1zM57 97h2v1h-2zM70 97h1v1h-1zM74 97h1v1h-1zM140 97h1v1h-1zM1 96h2v1h-2zM49 96h1v1h-1zM56 96h1v1h-1zM1 95h1v1h-1zM22 95h1v1h-1zM58 95h1v1h-1zM72 95h2v1h-2zM118 95h1v1h-1zM2 94h1v1h-1zM70 94h1v1h-1zM80 94h1v1h-1zM105 94h1v1h-1zM1 93h1v1h-1zM50 93h1v1h-1zM39 92h1v1h-1zM41 92h1v1h-1zM1 91h1v1h-1zM8 91h1v1h-1zM49 91h1v1h-1zM65 91h1v1h-1zM1 90h1v1h-1zM17 90h1v1h-1zM23 90h1v1h-1zM36 90h1v1h-1zM39 90h1v1h-1zM55 90h1v1h-1zM72 90h1v1h-1zM87 90h1v1h-1zM2 89h1v1h-1zM17 89h1v1h-1zM23 89h1v1h-1zM57 89h1v1h-1zM76 89h1v1h-1zM2 88h1v1h-1zM37 88h1v1h-1zM49 88h1v1h-1zM74 88h1v1h-1zM83 88h1v1h-1zM2 87h1v1h-1zM9 87h1v1h-1zM12 87h1v1h-1zM26 87h1v1h-1zM76 87h1v1h-1zM78 87h1v1h-1zM96 87h1v1h-1zM74 86h1v1h-1zM116 86h1v1h-1zM2 85h1v1h-1zM35 85h1v1h-1zM63 85h1v1h-1zM66 85h1v1h-1zM41 84h1v1h-1zM60 84h1v1h-1zM99 84h2v1h-2zM2 83h1v1h-1zM7 83h1v1h-1zM14 83h1v1h-1zM20 83h1v1h-1zM36 83h1v1h-1zM69 83h1v1h-1zM72 83h1v1h-1zM74 83h2v1h-2zM140 83h1v1h-1zM8 82h1v1h-1zM26 82h1v1h-1zM60 82h1v1h-1zM92 82h1v1h-1zM1 81h2v1h-2zM18 81h1v1h-1zM27 81h1v1h-1zM32 81h1v1h-1zM86 81h1v1h-1zM8 80h1v1h-1zM39 80h1v1h-1zM42 80h1v1h-1zM48 80h1v1h-1zM52 80h1v1h-1zM57 80h1v1h-1zM66 80h1v1h-1zM101 80h1v1h-1zM10 79h1v1h-1zM57 79h1v1h-1zM88 79h1v1h-1zM105 79h1v1h-1zM110 79h1v1h-1zM2 78h1v1h-1zM60 78h1v1h-1zM71 78h1v1h-1zM22 77h1v1h-1zM48 77h1v1h-1zM50 77h1v1h-1zM85 77h1v1h-1zM110 77h1v1h-1zM2 76h1v1h-1zM26 76h1v1h-1zM36 76h1v1h-1zM42 76h1v1h-1zM145 76h1v1h-1zM24 74h1v1h-1zM36 74h1v1h-1zM59 74h1v1h-1zM65 74h1v1h-1zM93 74h1v1h-1zM110 74h1v1h-1zM1 73h1v1h-1zM70 73h1v1h-1zM145 73h1v1h-1zM6 72h1v1h-1zM49 72h1v1h-1zM101 72h1v1h-1zM33 71h1v1h-1zM40 71h2v1h-2zM52 71h1v1h-1zM69 71h1v1h-1zM98 71h1v1h-1zM1 70h1v1h-1zM15 70h1v1h-1zM39 70h1v1h-1zM48 70h1v1h-1zM74 70h1v1h-1zM81 70h1v1h-1zM86 70h1v1h-1zM102 70h1v1h-1zM145 70h1v1h-1zM0 69h3v1h-3zM19 69h1v1h-1zM67 69h1v1h-1zM1 68h2v1h-2zM36 68h1v1h-1zM47 68h1v1h-1zM50 68h2v1h-2zM90 68h1v1h-1zM95 68h1v1h-1zM101 68h2v1h-2zM15 67h1v1h-1zM24 67h1v1h-1zM31 67h1v1h-1zM112 67h1v1h-1zM145 67h1v1h-1zM25 66h1v1h-1zM59 66h1v1h-1zM65 66h1v1h-1zM118 66h1v1h-1zM0 65h2v1h-2zM7 65h1v1h-1zM26 65h1v1h-1zM4 64h1v1h-1zM42 64h1v1h-1zM77 64h1v1h-1zM90 64h1v1h-1zM101 64h1v1h-1zM145 64h1v1h-1zM41 63h1v1h-1zM59 63h1v1h-1zM66 63h1v1h-1zM85 63h1v1h-1zM28 62h1v1h-1zM54 62h1v1h-1zM64 62h1v1h-1zM140 62h1v1h-1zM1 61h1v1h-1zM3 61h1v1h-1zM6 61h1v1h-1zM20 61h1v1h-1zM49 61h2v1h-2zM60 61h1v1h-1zM78 61h1v1h-1zM93 61h1v1h-1zM99 61h1v1h-1zM0 60h1v1h-1zM3 60h1v1h-1zM14 60h1v1h-1zM36 60h1v1h-1zM54 60h1v1h-1zM82 60h1v1h-1zM112 60h1v1h-1zM13 59h1v1h-1zM31 59h1v1h-1zM40 59h1v1h-1zM44 59h1v1h-1zM56 59h1v1h-1zM59 59h1v1h-1zM73 59h1v1h-1zM77 59h1v1h-1zM1 58h1v1h-1zM6 58h1v1h-1zM60 58h1v1h-1zM72 58h1v1h-1zM85 58h1v1h-1zM1 57h1v1h-1zM33 57h1v1h-1zM48 57h1v1h-1zM86 57h1v1h-1zM98 57h1v1h-1zM130 57h1v1h-1zM34 56h1v1h-1zM47 56h1v1h-1zM87 56h1v1h-1zM90 56h1v1h-1zM3 55h1v1h-1zM36 55h1v1h-1zM75 55h1v1h-1zM84 55h1v1h-1zM88 55h1v1h-1zM98 55h1v1h-1zM7 54h2v1h-2zM13 54h1v1h-1zM16 54h1v1h-1zM20 54h1v1h-1zM47 54h2v1h-2zM56 54h1v1h-1zM9 53h1v1h-1zM77 53h1v1h-1zM104 53h1v1h-1zM108 53h1v1h-1zM35 52h1v1h-1zM37 52h1v1h-1zM96 52h1v1h-1zM110 52h1v1h-1zM13 51h1v1h-1zM22 51h1v1h-1zM49 51h2v1h-2zM66 51h1v1h-1zM70 51h1v1h-1zM24 50h1v1h-1zM77 50h1v1h-1zM108 50h1v1h-1zM26 49h1v1h-1zM62 49h1v1h-1zM75 49h1v1h-1zM7 48h1v1h-1zM73 48h2v1h-2zM76 48h1v1h-1zM120 48h1v1h-1zM20 47h1v1h-1zM22 47h1v1h-1zM39 47h1v1h-1zM53 47h1v1h-1zM101 47h1v1h-1zM114 47h1v1h-1zM145 47h1v1h-1zM25 46h1v1h-1zM42 46h1v1h-1zM49 46h1v1h-1zM54 46h1v1h-1zM70 46h3v1h-3zM46 45h2v1h-2zM64 45h1v1h-1zM82 45h1v1h-1zM86 45h1v1h-1zM9 44h1v1h-1zM36 44h1v1h-1zM39 44h1v1h-1zM96 44h1v1h-1zM0 43h1v1h-1zM10 43h1v1h-1zM36 43h1v1h-1zM42 43h1v1h-1zM88 43h1v1h-1zM140 43h1v1h-1zM3 42h1v1h-1zM15 42h1v1h-1zM26 42h1v1h-1zM35 42h1v1h-1zM42 42h1v1h-1zM64 42h1v1h-1zM66 42h1v1h-1zM110 42h1v1h-1zM39 41h1v1h-1zM50 41h1v1h-1zM64 41h1v1h-1zM135 41h1v1h-1zM41 40h1v1h-1zM60 40h1v1h-1zM9 39h1v1h-1zM15 39h1v1h-1zM24 39h1v1h-1zM47 39h1v1h-1zM73 39h1v1h-1zM94 39h2v1h-2zM105 39h1v1h-1zM21 38h1v1h-1zM48 38h1v1h-1zM66 38h1v1h-1zM72 38h2v1h-2zM80 38h1v1h-1zM84 38h1v1h-1zM101 38h3v1h-3zM58 37h1v1h-1zM73 37h1v1h-1zM99 37h1v1h-1zM60 36h1v1h-1zM70 36h1v1h-1zM78 36h1v1h-1zM95 36h1v1h-1zM2 35h1v1h-1zM15 35h1v1h-1zM59 35h1v1h-1zM104 35h1v1h-1zM2 34h1v1h-1zM81 34h1v1h-1zM84 34h1v1h-1zM89 34h1v1h-1zM47 33h3v1h-3zM59 33h1v1h-1zM72 33h1v1h-1zM26 32h1v1h-1zM48 32h1v1h-1zM84 32h1v1h-1zM38 31h1v1h-1zM75 31h3v1h-3zM21 30h1v1h-1zM41 30h1v1h-1zM60 30h1v1h-1zM16 29h1v1h-1zM63 29h1v1h-1zM67 29h1v1h-1zM71 29h1v1h-1zM89 29h1v1h-1zM103 29h1v1h-1zM15 28h1v1h-1zM56 28h1v1h-1zM2 27h1v1h-1zM42 27h1v1h-1zM67 27h2v1h-2zM97 27h1v1h-1zM120 27h1v1h-1zM2 26h1v1h-1zM15 26h1v1h-1zM33 26h1v1h-1zM45 26h1v1h-1zM70 26h1v1h-1zM86 26h2v1h-2zM6 25h1v1h-1zM14 25h1v1h-1zM28 25h1v1h-1zM58 25h1v1h-1zM69 25h1v1h-1zM90 25h1v1h-1zM99 25h1v1h-1zM101 25h1v1h-1zM12 24h2v1h-2zM24 24h1v1h-1zM70 24h1v1h-1zM18 23h1v1h-1zM29 23h1v1h-1zM97 23h1v1h-1zM104 23h1v1h-1zM52 22h1v1h-1zM88 22h1v1h-1zM53 21h1v1h-1zM60 21h1v1h-1zM62 21h1v1h-1zM71 21h1v1h-1zM3 20h1v1h-1zM35 20h1v1h-1zM40 20h1v1h-1zM54 20h1v1h-1zM56 20h1v1h-1zM64 20h1v1h-1zM82 20h1v1h-1zM86 20h1v1h-1zM0 19h1v1h-1zM4 19h1v1h-1zM14 19h1v1h-1zM56 19h1v1h-1zM66 19h1v1h-1zM97 19h1v1h-1zM125 19h1v1h-1zM14 18h1v1h-1zM26 18h1v1h-1zM49 18h1v1h-1zM52 18h1v1h-1zM61 18h1v1h-1zM69 18h1v1h-1zM73 18h3v1h-3zM83 18h1v1h-1zM101 18h1v1h-1zM10 17h1v1h-1zM33 17h1v1h-1zM56 17h1v1h-1zM83 17h1v1h-1zM30 16h1v1h-1zM43 16h1v1h-1zM54 16h1v1h-1zM84 16h1v1h-1zM100 16h1v1h-1zM114 16h1v1h-1zM13 15h1v1h-1zM83 15h1v1h-1zM55 14h1v1h-1zM120 14h1v1h-1zM70 13h1v1h-1zM33 12h1v1h-1zM60 12h1v1h-1zM62 12h1v1h-1zM23 11h1v1h-1zM50 11h1v1h-1zM71 11h1v1h-1zM90 11h1v1h-1zM104 11h2v1h-2zM0 9h1v1h-1zM30 9h1v1h-1zM50 9h1v1h-1zM56 9h1v1h-1zM72 9h1v1h-1zM84 9h1v1h-1zM90 9h1v1h-1zM140 9h1v1h-1zM14 8h1v1h-1zM37 8h1v1h-1zM43 8h1v1h-1zM41 7h1v1h-1zM55 7h1v1h-1zM73 7h1v1h-1zM91 7h1v1h-1zM118 7h1v1h-1zM29 6h1v1h-1zM51 6h1v1h-1zM56 6h1v1h-1zM61 6h1v1h-1zM86 6h1v1h-1zM88 6h1v1h-1zM15 5h1v1h-1zM23 5h1v1h-1zM67 5h1v1h-1zM2 4h1v1h-1zM14 4h1v1h-1zM22 4h1v1h-1zM46 4h1v1h-1zM2 3h1v1h-1zM25 3h1v1h-1zM83 3h1v1h-1zM30 2h1v1h-1zM37 2h1v1h-1zM40 2h2v1h-2zM65 2h1v1h-1zM71 2h1v1h-1zM87 2h1v1h-1zM2 1h1v1h-1zM15 1h1v1h-1zM42 1h1v1h-1zM60 1h1v1h-1zM67 1h1v1h-1zM99 1h1v1h-1zM108 1h1v1h-1zM3 0h1v1h-1zM25 0h1v1h-1zM37 0h2v1h-2zM63 0h1v1h-1zM73 0h1v1h-1zM76 0h1v1h-1zM82 0h1v1h-1z"/>
<path fill="#443983" d="M3 403h1v1h-1zM18 394h1v1h-1zM46 394h1v1h-1zM48 394h1v1h-1zM51 394h2v1h-2zM75 394h1v1h-1zM13 393h1v1h-1zM40 393h1v1h-1zM65 393h1v1h-1zM3 392h1v1h-1zM20 392h2v1h-2zM28 392h1v1h-1zM31 392h1v1h-1zM38 392h1v1h-1zM48 392h1v1h-1zM90 392h1v1h-1zM8 391h1v1h-1zM25 391h1v1h-1zM39 391h1v1h-1zM43 391h1v1h-1zM57 391h2v1h-2zM78 391h1v1h-1zM81 391h1v1h-1zM91 391h1v1h-1zM93 391h1v1h-1zM120 391h1v1h-1zM140 391h1v1h-1zM8 390h1v1h-1zM12 390h1v1h-1zM19 390h1v1h-1zM25 390h1v1h-1zM38 390h1v1h-1zM47 390h1v1h-1zM50 390h1v1h-1zM57 390h2v1h-2zM65 390h1v1h-1zM67 390h1v1h-1zM87 390h2v1h-2zM21 389h1v1h-1zM32 389h1v1h-1zM36 389h1v1h-1zM39 389h1v1h-1zM58 389h1v1h-1zM74 389h1v1h-1zM76 389h1v1h-1zM82 389h1v1h-1zM89 389h1v1h-1zM145 389h1v1h-1zM0 388h1v1h-1zM6 388h1v1h-1zM12 388h1v1h-1zM27 388h1v1h-1zM54 388h1v1h-1zM69 388h1v1h-1zM77 388h3v1h-3zM95 388h1v1h-1zM99 387h1v1h-1zM69 386h1v1h-1zM12 385h1v1h-1zM98 385h1v1h-1zM5 384h1v1h-1zM61 384h1v1h-1zM75 384h1v1h-1zM80 384h1v1h-1zM46 383h1v1h-1zM108 383h1v1h-1zM18 382h1v1h-1zM60 382h1v1h-1zM41 381h1v1h-1zM73 381h1v1h-1zM15 379h1v1h-1zM26 379h1v1h-1zM99 379h1v1h-1zM118 379h1v1h-1zM37 378h2v1h-2zM48 378h1v1h-1zM65 378h1v1h-1zM78 378h1v1h-1zM94 378h1v1h-1zM10 377h1v1h-1zM20 376h1v1h-1zM12 375h1v1h-1zM55 373h1v1h-1zM53 372h1v1h-1zM55 372h1v1h-1zM39 371h1v1h-1zM63 371h1v1h-1zM91 371h1v1h-1zM45 370h1v1h-1zM88 370h1v1h-1zM0 369h2v1h-2zM1 368h1v1h-1zM4 368h1v1h-1zM39 368h1v1h-1zM34 367h1v1h-1zM52 367h1v1h-1zM98 367h1v1h-1zM19 365h1v1h-1zM29 365h1v1h-1zM15 364h1v1h-1zM29 364h1v1h-1zM43 364h1v1h-1zM68 364h1v1h-1zM108 364h1v1h-1zM13 363h1v1h-1zM25 362h1v1h-1zM29 362h1v1h-1zM38 361h1v1h-1zM58 361h1v1h-1zM75 361h1v1h-1zM91 361h1v1h-1zM20 360h1v1h-1zM63 360h1v1h-1zM140 360h1v1h-1zM12 359h1v1h-1zM63 359h2v1h-2zM71 359h1v1h-1zM9 358h1v1h-1zM31 358h1v1h-1zM114 358h1v1h-1zM48 357h1v1h-1zM72 357h1v1h-1zM4 355h1v1h-1zM20 355h1v1h-1zM11 354h1v1h-1zM28 354h1v1h-1zM57 354h1v1h-1zM77 354h1v1h-1zM32 353h1v1h-1zM38 353h1v1h-1zM81 353h1v1h-1zM1 350h1v1h-1zM6 350h2v1h-2zM27 350h1v1h-1zM38 350h1v1h-1zM65 350h1v1h-1zM77 350h1v1h-1zM47 349h1v1h-1zM8 348h1v1h-1zM27 348h1v1h-1zM42 348h1v1h-1zM125 348h1v1h-1zM66 347h1v1h-1zM79 347h1v1h-1zM38 345h1v1h-1zM71 345h1v1h-1zM118 344h1v1h-1zM77 342h1v1h-1zM15 341h1v1h-1zM95 341h1v1h-1zM98 341h1v1h-1zM15 340h1v1h-1zM23 340h1v1h-1zM61 340h1v1h-1zM72 340h1v1h-1zM38 338h1v1h-1zM97 338h1v1h-1zM105 338h1v1h-1zM114 338h1v1h-1zM8 336h1v1h-1zM19 336h1v1h-1zM60 336h1v1h-1zM43 335h1v1h-1zM67 335h1v1h-1zM90 335h1v1h-1zM118 335h1v1h-1zM66 334h1v1h-1zM73 334h1v1h-1zM82 334h1v1h-1zM29 333h1v1h-1zM106 333h1v1h-1zM49 331h1v1h-1zM54 331h1v1h-1zM82 331h1v1h-1zM23 330h1v1h-1zM28 330h1v1h-1zM39 330h1v1h-1zM44 330h1v1h-1zM54 330h1v1h-1zM59 330h1v1h-1zM22 329h1v1h-1zM28 329h1v1h-1zM98 329h1v1h-1zM150 329h1v1h-1zM33 328h1v1h-1zM42 328h2v1h-2zM97 328h1v1h-1zM0 327h1v1h-1zM67 327h1v1h-1zM75 327h1v1h-1zM43 325h1v1h-1zM56 325h1v1h-1zM101 325h1v1h-1zM116 325h1v1h-1zM74 324h1v1h-1zM34 323h1v1h-1zM44 323h1v1h-1zM51 323h1v1h-1zM59 323h1v1h-1zM79 323h2v1h-2zM52 322h1v1h-1zM61 322h1v1h-1zM66 322h1v1h-1zM47 321h1v1h-1zM51 321h1v1h-1zM125 321h1v1h-1zM27 320h1v1h-1zM63 320h1v1h-1zM82 320h1v1h-1zM85 319h1v1h-1zM116 319h1v1h-1zM27 318h1v1h-1zM37 318h1v1h-1zM56 316h1v1h-1zM20 315h1v1h-1zM20 314h1v1h-1zM39 313h1v1h-1zM50 313h1v1h-1zM50 312h1v1h-1zM78 312h1v1h-1zM5 310h2v1h-2zM22 310h1v1h-1zM58 310h1v1h-1zM68 310h1v1h-1zM67 309h1v1h-1zM72 309h1v1h-1zM75 308h1v1h-1zM62 307h1v1h-1zM64 307h1v1h-1zM6 306h1v1h-1zM11 306h1v1h-1zM34 306h1v1h-1zM67 306h1v1h-1zM100 306h1v1h-1zM76 305h1v1h-1zM71 304h1v1h-1zM18 302h1v1h-1zM20 302h1v1h-1zM34 302h1v1h-1zM62 302h1v1h-1zM13 301h1v1h-1zM64 300h1v1h-1zM30 299h1v1h-1zM50 299h1v1h-1zM18 298h1v1h-1zM36 298h1v1h-1zM48 298h1v1h-1zM77 297h1v1h-1zM89 297h1v1h-1zM41 296h1v1h-1zM57 296h1v1h-1zM97 296h1v1h-1zM120 296h1v1h-1zM75 295h1v1h-1zM101 295h1v1h-1zM45 294h1v1h-1zM102 293h1v1h-1zM1 292h1v1h-1zM70 291h1v1h-1zM135 291h1v1h-1zM42 290h1v1h-1zM52 290h1v1h-1zM68 290h1v1h-1zM93 290h1v1h-1zM120 290h1v1h-1zM5 289h1v1h-1zM9 289h1v1h-1zM15 289h1v1h-1zM24 289h1v1h-1zM96 289h1v1h-1zM34 288h1v1h-1zM64 287h1v1h-1zM74 287h1v1h-1zM34 286h1v1h-1zM56 286h1v1h-1zM71 286h1v1h-1zM68 285h1v1h-1zM9 284h1v1h-1zM88 284h1v1h-1zM35 283h1v1h-1zM56 282h1v1h-1zM92 282h1v1h-1zM34 281h1v1h-1zM42 281h1v1h-1zM69 280h1v1h-1zM26 279h1v1h-1zM97 277h1v1h-1zM14 276h1v1h-1zM48 276h1v1h-1zM75 276h1v1h-1zM58 274h1v1h-1zM11 273h1v1h-1zM55 273h1v1h-1zM66 273h1v1h-1zM69 273h1v1h-1zM80 273h1v1h-1zM79 272h1v1h-1zM88 272h1v1h-1zM101 272h1v1h-1zM36 271h1v1h-1zM66 271h1v1h-1zM81 271h1v1h-1zM4 270h1v1h-1zM70 269h1v1h-1zM114 269h1v1h-1zM44 268h1v1h-1zM64 267h1v1h-1zM64 266h1v1h-1zM72 266h2v1h-2zM14 265h1v1h-1zM41 265h1v1h-1zM57 265h1v1h-1zM89 264h1v1h-1zM46 263h1v1h-1zM63 263h1v1h-1zM64 262h1v1h-1zM46 261h1v1h-1zM84 261h2v1h-2zM2 260h1v1h-1zM1 258h2v1h-2zM19 258h1v1h-1zM49 258h1v1h-1zM81 258h1v1h-1zM116 258h1v1h-1zM150 258h1v1h-1zM57 257h1v1h-1zM63 257h1v1h-1zM1 256h1v1h-1zM57 256h1v1h-1zM44 255h1v1h-1zM57 255h1v1h-1zM2 254h1v1h-1zM29 254h1v1h-1zM37 254h1v1h-1zM65 254h1v1h-1zM67 254h1v1h-1zM15 253h1v1h-1zM82 253h1v1h-1zM1 252h1v1h-1zM57 252h1v1h-1zM84 252h1v1h-1zM97 252h1v1h-1zM2 251h2v1h-2zM6 251h1v1h-1zM44 251h1v1h-1zM67 251h1v1h-1zM130 251h1v1h-1zM2 250h1v1h-1zM2 249h1v1h-1zM84 249h1v1h-1zM54 248h1v1h-1zM63 248h1v1h-1zM92 248h1v1h-1zM1 247h1v1h-1zM6 247h1v1h-1zM11 247h1v1h-1zM52 247h1v1h-1zM73 247h1v1h-1zM114 247h1v1h-1zM150 247h1v1h-1zM15 246h1v1h-1zM2 244h1v1h-1zM19 244h1v1h-1zM6 243h1v1h-1zM35 243h1v1h-1zM57 243h1v1h-1zM140 243h1v1h-1zM27 242h1v1h-1zM118 242h1v1h-1zM36 241h1v1h-1zM39 241h1v1h-1zM99 240h1v1h-1zM12 239h1v1h-1zM21 239h1v1h-1zM23 239h1v1h-1zM62 239h1v1h-1zM69 239h1v1h-1zM110 239h1v1h-1zM38 238h1v1h-1zM0 237h1v1h-1zM4 237h1v1h-1zM95 237h1v1h-1zM1 236h1v1h-1zM1 235h2v1h-2zM48 234h3v1h-3zM1 233h1v1h-1zM140 233h1v1h-1zM2 232h1v1h-1zM13 232h1v1h-1zM31 232h1v1h-1zM79 232h1v1h-1zM82 232h1v1h-1zM96 232h1v1h-1zM2 231h1v1h-1zM46 231h1v1h-1zM45 230h1v1h-1zM51 230h1v1h-1zM125 229h1v1h-1zM56 228h1v1h-1zM58 228h1v1h-1zM8 227h1v1h-1zM25 227h1v1h-1zM52 227h1v1h-1zM70 226h1v1h-1zM15 225h1v1h-1zM27 225h1v1h-1zM46 224h1v1h-1zM26 223h1v1h-1zM47 220h1v1h-1zM51 220h1v1h-1zM84 220h1v1h-1zM90 220h2v1h-2zM135 220h1v1h-1zM57 219h1v1h-1zM63 219h1v1h-1zM68 219h1v1h-1zM76 219h1v1h-1zM85 219h1v1h-1zM38 217h1v1h-1zM8 216h1v1h-1zM84 216h1v1h-1zM4 215h1v1h-1zM22 215h1v1h-1zM79 215h1v1h-1zM31 214h1v1h-1zM64 214h1v1h-1zM69 214h1v1h-1zM74 214h1v1h-1zM81 214h1v1h-1zM20 213h1v1h-1zM35 213h1v1h-1zM1 211h1v1h-1zM106 210h1v1h-1zM28 208h1v1h-1zM38 208h1v1h-1zM25 207h1v1h-1zM46 207h1v1h-1zM6 206h1v1h-1zM35 206h1v1h-1zM13 204h1v1h-1zM92 204h1v1h-1zM4 203h1v1h-1zM24 203h1v1h-1zM120 203h1v1h-1zM55 202h1v1h-1zM85 201h1v1h-1zM59 200h1v1h-1zM28 198h1v1h-1zM15 197h1v1h-1zM29 197h1v1h-1zM94 197h1v1h-1zM125 197h1v1h-1zM2 196h1v1h-1zM13 196h1v1h-1zM19 196h1v1h-1zM28 196h1v1h-1zM55 195h1v1h-1zM69 195h1v1h-1zM16 194h1v1h-1zM30 194h1v1h-1zM69 194h1v1h-1zM1 193h1v1h-1zM28 193h1v1h-1zM62 193h1v1h-1zM101 193h1v1h-1zM28 192h1v1h-1zM4 190h1v1h-1zM8 190h1v1h-1zM28 190h1v1h-1zM28 189h1v1h-1zM20 188h1v1h-1zM78 188h1v1h-1zM135 188h1v1h-1zM17 187h1v1h-1zM28 187h1v1h-1zM36 187h1v1h-1zM59 187h1v1h-1zM90 187h1v1h-1zM55 186h1v1h-1zM135 186h1v1h-1zM6 185h1v1h-1zM17 185h1v1h-1zM28 185h1v1h-1zM17 184h1v1h-1zM31 184h1v1h-1zM47 184h1v1h-1zM20 183h1v1h-1zM41 183h1v1h-1zM9 182h1v1h-1zM28 182h1v1h-1zM16 181h2v1h-2zM25 181h1v1h-1zM28 181h1v1h-1zM76 181h1v1h-1zM28 180h1v1h-1zM69 180h1v1h-1zM83 180h1v1h-1zM101 180h2v1h-2zM50 179h1v1h-1zM81 179h1v1h-1zM135 179h1v1h-1zM13 178h1v1h-1zM28 178h1v1h-1zM67 177h1v1h-1zM82 177h1v1h-1zM88 177h1v1h-1zM150 177h1v1h-1zM46 176h2v1h-2zM13 175h1v1h-1zM23 175h1v1h-1zM28 175h1v1h-1zM45 175h1v1h-1zM60 175h1v1h-1zM28 174h1v1h-1zM67 174h1v1h-1zM70 174h1v1h-1zM14 173h1v1h-1zM90 173h1v1h-1zM34 172h1v1h-1zM40 171h1v1h-1zM25 170h1v1h-1zM47 169h1v1h-1zM27 167h2v1h-2zM62 167h1v1h-1zM93 167h1v1h-1zM18 166h1v1h-1zM8 165h2v1h-2zM49 165h1v1h-1zM72 165h1v1h-1zM74 164h1v1h-1zM27 163h1v1h-1zM51 163h1v1h-1zM68 163h1v1h-1zM40 162h1v1h-1zM22 161h1v1h-1zM40 160h1v1h-1zM30 159h1v1h-1zM38 159h1v1h-1zM49 159h1v1h-1zM23 158h1v1h-1zM27 158h1v1h-1zM34 158h2v1h-2zM22 157h1v1h-1zM82 157h1v1h-1zM114 157h1v1h-1zM9 156h1v1h-1zM65 156h1v1h-1zM60 155h1v1h-1zM28 154h1v1h-1zM81 154h1v1h-1zM0 153h1v1h-1zM28 153h1v1h-1zM39 153h1v1h-1zM14 152h1v1h-1zM30 152h1v1h-1zM31 151h1v1h-1zM90 151h1v1h-1zM28 150h1v1h-1zM45 150h1v1h-1zM60 150h1v1h-1zM71 150h1v1h-1zM12 149h1v1h-1zM40 149h1v1h-1zM31 148h1v1h-1zM39 148h1v1h-1zM49 147h1v1h-1zM70 147h1v1h-1zM103 147h1v1h-1zM28 146h1v1h-1zM39 146h2v1h-2zM42 146h1v1h-1zM90 146h1v1h-1zM112 146h1v1h-1zM40 145h1v1h-1zM80 145h1v1h-1zM64 144h1v1h-1zM31 143h1v1h-1zM40 143h1v1h-1zM58 143h1v1h-1zM84 143h1v1h-1zM28 142h2v1h-2zM56 142h1v1h-1zM86 142h1v1h-1zM88 142h1v1h-1zM33 141h1v1h-1zM68 141h1v1h-1zM71 141h1v1h-1zM85 141h1v1h-1zM29 139h1v1h-1zM8 138h1v1h-1zM31 138h1v1h-1zM82 138h1v1h-1zM28 137h1v1h-1zM59 137h1v1h-1zM82 137h1v1h-1zM100 137h1v1h-1zM91 136h1v1h-1zM114 136h1v1h-1zM63 134h1v1h-1zM93 134h1v1h-1zM106 134h1v1h-1zM12 133h1v1h-1zM86 132h1v1h-1zM145 132h1v1h-1zM21 131h1v1h-1zM25 131h1v1h-1zM41 131h1v1h-1zM64 131h1v1h-1zM27 130h1v1h-1zM99 130h1v1h-1zM6 129h1v1h-1zM19 129h1v1h-1zM68 129h1v1h-1zM73 129h1v1h-1zM114 129h1v1h-1zM22 128h1v1h-1zM38 128h1v1h-1zM44 128h1v1h-1zM10 127h1v1h-1zM81 127h1v1h-1zM35 126h1v1h-1zM3 125h1v1h-1zM5 125h1v1h-1zM25 125h1v1h-1zM74 125h1v1h-1zM106 125h1v1h-1zM38 124h1v1h-1zM49 123h2v1h-2zM83 123h1v1h-1zM37 122h1v1h-1zM41 122h1v1h-1zM94 122h1v1h-1zM88 121h1v1h-1zM6 120h1v1h-1zM24 120h1v1h-1zM49 120h1v1h-1zM82 120h1v1h-1zM88 120h1v1h-1zM6 119h1v1h-1zM62 119h1v1h-1zM32 118h2v1h-2zM43 118h1v1h-1zM67 118h1v1h-1zM41 117h1v1h-1zM50 117h1v1h-1zM81 117h1v1h-1zM6 116h1v1h-1zM29 116h1v1h-1zM41 116h1v1h-1zM11 115h1v1h-1zM44 115h1v1h-1zM5 113h1v1h-1zM94 113h1v1h-1zM35 112h1v1h-1zM88 112h1v1h-1zM23 111h1v1h-1zM45 111h1v1h-1zM49 110h1v1h-1zM60 110h1v1h-1zM34 109h1v1h-1zM73 109h1v1h-1zM90 106h1v1h-1zM110 106h1v1h-1zM140 106h1v1h-1zM19 104h1v1h-1zM40 104h1v1h-1zM53 104h1v1h-1zM4 103h1v1h-1zM27 103h1v1h-1zM58 103h1v1h-1zM75 103h1v1h-1zM1 101h1v1h-1zM13 101h1v1h-1zM0 100h1v1h-1zM30 100h1v1h-1zM63 100h1v1h-1zM1 99h1v1h-1zM60 99h1v1h-1zM28 98h1v1h-1zM81 98h1v1h-1zM28 97h1v1h-1zM89 97h1v1h-1zM41 96h1v1h-1zM57 96h1v1h-1zM100 96h1v1h-1zM10 95h1v1h-1zM34 94h1v1h-1zM78 94h1v1h-1zM33 93h1v1h-1zM69 93h1v1h-1zM82 93h2v1h-2zM110 93h1v1h-1zM2 92h1v1h-1zM49 92h1v1h-1zM71 92h2v1h-2zM56 91h1v1h-1zM76 91h2v1h-2zM2 90h1v1h-1zM60 90h1v1h-1zM41 89h1v1h-1zM54 88h1v1h-1zM64 88h1v1h-1zM99 88h1v1h-1zM1 87h1v1h-1zM57 87h1v1h-1zM15 86h1v1h-1zM22 86h1v1h-1zM64 86h1v1h-1zM66 86h1v1h-1zM41 85h1v1h-1zM68 85h1v1h-1zM2 84h1v1h-1zM1 82h1v1h-1zM72 82h1v1h-1zM120 82h1v1h-1zM135 82h1v1h-1zM11 81h1v1h-1zM24 81h1v1h-1zM1 80h1v1h-1zM19 80h1v1h-1zM71 80h1v1h-1zM106 80h1v1h-1zM0 79h1v1h-1zM24 79h1v1h-1zM16 78h1v1h-1zM42 78h2v1h-2zM1 77h1v1h-1zM0 76h2v1h-2zM99 76h1v1h-1zM1 75h2v1h-2zM2 74h1v1h-1zM49 74h1v1h-1zM55 74h2v1h-2zM49 73h1v1h-1zM1 72h1v1h-1zM55 72h1v1h-1zM2 71h1v1h-1zM59 71h1v1h-1zM42 70h1v1h-1zM22 69h1v1h-1zM52 68h1v1h-1zM1 67h1v1h-1zM10 67h1v1h-1zM1 66h1v1h-1zM42 66h1v1h-1zM99 66h1v1h-1zM24 65h1v1h-1zM55 65h1v1h-1zM57 65h1v1h-1zM24 64h2v1h-2zM32 64h1v1h-1zM76 64h1v1h-1zM1 63h1v1h-1zM47 63h1v1h-1zM1 62h2v1h-2zM32 62h3v1h-3zM2 61h1v1h-1zM36 61h1v1h-1zM39 61h1v1h-1zM53 61h1v1h-1zM1 60h1v1h-1zM53 59h1v1h-1zM101 59h1v1h-1zM2 58h1v1h-1zM31 58h1v1h-1zM8 56h1v1h-1zM61 56h1v1h-1zM100 56h1v1h-1zM26 55h1v1h-1zM53 55h1v1h-1zM62 55h1v1h-1zM31 54h1v1h-1zM2 53h1v1h-1zM55 53h1v1h-1zM15 52h1v1h-1zM20 52h1v1h-1zM36 52h1v1h-1zM47 52h1v1h-1zM21 51h1v1h-1zM54 51h1v1h-1zM64 51h1v1h-1zM87 51h1v1h-1zM48 50h2v1h-2zM64 50h1v1h-1zM57 49h1v1h-1zM65 49h1v1h-1zM70 49h1v1h-1zM64 48h2v1h-2zM1 47h1v1h-1zM105 47h1v1h-1zM88 46h1v1h-1zM110 46h1v1h-1zM56 45h1v1h-1zM4 44h1v1h-1zM53 44h1v1h-1zM59 44h1v1h-1zM64 44h1v1h-1zM9 43h1v1h-1zM31 43h1v1h-1zM47 43h1v1h-1zM62 42h1v1h-1zM67 42h1v1h-1zM18 41h1v1h-1zM47 41h1v1h-1zM36 40h1v1h-1zM66 40h1v1h-1zM10 39h1v1h-1zM55 39h1v1h-1zM96 38h1v1h-1zM66 37h1v1h-1zM3 36h1v1h-1zM17 36h1v1h-1zM47 35h1v1h-1zM54 35h1v1h-1zM73 35h1v1h-1zM87 35h1v1h-1zM112 34h1v1h-1zM17 33h1v1h-1zM71 33h1v1h-1zM84 33h1v1h-1zM68 32h1v1h-1zM21 31h1v1h-1zM43 30h1v1h-1zM48 30h1v1h-1zM74 30h1v1h-1zM18 28h1v1h-1zM76 28h1v1h-1zM6 27h1v1h-1zM19 27h1v1h-1zM39 27h1v1h-1zM81 27h1v1h-1zM50 26h1v1h-1zM82 26h1v1h-1zM92 26h1v1h-1zM13 25h1v1h-1zM63 25h1v1h-1zM20 24h2v1h-2zM43 24h2v1h-2zM75 24h1v1h-1zM104 24h1v1h-1zM14 23h2v1h-2zM40 23h1v1h-1zM45 23h1v1h-1zM1 22h1v1h-1zM33 22h1v1h-1zM70 22h1v1h-1zM0 21h1v1h-1zM37 21h1v1h-1zM110 21h1v1h-1zM112 21h1v1h-1zM4 20h1v1h-1zM12 20h1v1h-1zM14 20h1v1h-1zM73 20h1v1h-1zM64 19h1v1h-1zM69 19h1v1h-1zM11 18h1v1h-1zM21 18h1v1h-1zM36 18h1v1h-1zM42 18h1v1h-1zM72 18h1v1h-1zM12 17h1v1h-1zM15 17h1v1h-1zM52 17h1v1h-1zM19 16h1v1h-1zM70 15h1v1h-1zM6 14h1v1h-1zM125 14h1v1h-1zM19 13h1v1h-1zM43 13h1v1h-1zM18 12h1v1h-1zM34 12h1v1h-1zM18 11h1v1h-1zM28 11h1v1h-1zM35 11h1v1h-1zM49 11h1v1h-1zM93 11h1v1h-1zM11 10h1v1h-1zM15 10h1v1h-1zM112 10h1v1h-1zM6 8h1v1h-1zM9 8h1v1h-1zM57 8h1v1h-1zM78 8h1v1h-1zM3 7h1v1h-1zM15 7h1v1h-1zM43 7h1v1h-1zM48 6h1v1h-1zM24 5h1v1h-1zM29 5h1v1h-1zM61 5h1v1h-1zM15 4h1v1h-1zM25 4h1v1h-1zM64 3h1v1h-1zM67 3h2v1h-2zM15 2h1v1h-1zM22 2h1v1h-1zM62 2h1v1h-1zM68 2h1v1h-1zM91 2h1v1h-1zM1 1h1v1h-1zM13 1h1v1h-1zM79 1h1v1h-1zM19 0h1v1h-1zM24 0h1v1h-1zM75 0h1v1h-1zM78 0h2v1h-2z"/>
<path fill="#414487" d="M12 394h1v1h-1zM77 394h1v1h-1zM7 393h1v1h-1zM9 393h1v1h-1zM18 393h1v1h-1zM27 393h1v1h-1zM31 393h1v1h-1zM79 393h1v1h-1zM94 393h1v1h-1zM40 392h1v1h-1zM42 392h1v1h-1zM145 392h1v1h-1zM13 391h1v1h-1zM31 391h1v1h-1zM40 391h1v1h-1zM42 391h1v1h-1zM45 391h1v1h-1zM80 391h1v1h-1zM108 391h1v1h-1zM114 391h1v1h-1zM135 391h1v1h-1zM4 390h1v1h-1zM13 390h1v1h-1zM29 390h1v1h-1zM34 390h1v1h-1zM69 390h1v1h-1zM112 390h1v1h-1zM116 390h1v1h-1zM125 390h1v1h-1zM135 390h1v1h-1zM11 389h2v1h-2zM18 389h1v1h-1zM27 389h1v1h-1zM50 389h1v1h-1zM56 389h1v1h-1zM70 389h1v1h-1zM97 389h1v1h-1zM102 389h2v1h-2zM125 389h1v1h-1zM140 389h1v1h-1zM4 388h1v1h-1zM9 388h1v1h-1zM11 388h1v1h-1zM30 388h1v1h-1zM57 388h1v1h-1zM68 388h1v1h-1zM83 388h1v1h-1zM89 388h1v1h-1zM93 388h1v1h-1zM120 388h1v1h-1zM48 387h1v1h-1zM110 387h1v1h-1zM125 387h1v1h-1zM125 386h1v1h-1zM42 385h1v1h-1zM79 384h1v1h-1zM69 383h1v1h-1zM78 383h1v1h-1zM31 378h1v1h-1zM25 376h1v1h-1zM29 376h1v1h-1zM10 372h1v1h-1zM52 368h1v1h-1zM23 363h1v1h-1zM38 363h1v1h-1zM4 360h1v1h-1zM10 360h1v1h-1zM40 360h1v1h-1zM38 359h1v1h-1zM70 359h1v1h-1zM150 358h1v1h-1zM4 356h1v1h-1zM69 356h1v1h-1zM4 354h1v1h-1zM16 353h1v1h-1zM38 352h1v1h-1zM38 351h1v1h-1zM81 348h1v1h-1zM135 348h1v1h-1zM23 347h1v1h-1zM91 347h1v1h-1zM49 346h1v1h-1zM4 345h1v1h-1zM63 344h1v1h-1zM19 343h1v1h-1zM76 342h1v1h-1zM38 340h1v1h-1zM11 338h1v1h-1zM14 336h1v1h-1zM30 335h1v1h-1zM26 333h1v1h-1zM38 332h1v1h-1zM26 331h2v1h-2zM110 331h1v1h-1zM50 329h1v1h-1zM66 327h1v1h-1zM65 324h1v1h-1zM68 324h1v1h-1zM16 320h1v1h-1zM50 320h1v1h-1zM56 319h1v1h-1zM28 318h1v1h-1zM66 318h1v1h-1zM9 316h1v1h-1zM37 315h1v1h-1zM56 313h1v1h-1zM10 311h1v1h-1zM44 311h1v1h-1zM46 308h1v1h-1zM60 306h1v1h-1zM7 305h1v1h-1zM18 305h1v1h-1zM42 302h1v1h-1zM9 300h1v1h-1zM19 299h1v1h-1zM41 299h1v1h-1zM59 299h1v1h-1zM78 297h1v1h-1zM46 293h2v1h-2zM90 293h1v1h-1zM39 291h1v1h-1zM11 289h1v1h-1zM38 287h1v1h-1zM50 287h1v1h-1zM73 287h1v1h-1zM13 285h1v1h-1zM35 282h1v1h-1zM88 279h1v1h-1zM114 273h1v1h-1zM48 271h1v1h-1zM100 270h1v1h-1zM104 269h1v1h-1zM1 268h1v1h-1zM43 267h1v1h-1zM62 267h2v1h-2zM33 266h1v1h-1zM15 265h1v1h-1zM15 261h1v1h-1zM57 261h1v1h-1zM57 260h1v1h-1zM78 259h1v1h-1zM21 257h1v1h-1zM2 256h1v1h-1zM58 256h1v1h-1zM1 255h1v1h-1zM54 255h1v1h-1zM66 254h1v1h-1zM57 253h1v1h-1zM2 252h1v1h-1zM65 252h1v1h-1zM57 250h1v1h-1zM1 246h2v1h-2zM6 246h1v1h-1zM3 244h1v1h-1zM6 244h1v1h-1zM1 242h1v1h-1zM7 242h1v1h-1zM24 242h1v1h-1zM46 242h1v1h-1zM1 240h1v1h-1zM21 240h1v1h-1zM1 239h2v1h-2zM42 239h1v1h-1zM63 239h1v1h-1zM22 238h1v1h-1zM53 238h1v1h-1zM6 236h1v1h-1zM21 236h1v1h-1zM2 234h1v1h-1zM96 234h1v1h-1zM2 233h1v1h-1zM43 233h1v1h-1zM84 232h1v1h-1zM1 231h1v1h-1zM6 231h1v1h-1zM1 230h2v1h-2zM44 230h1v1h-1zM36 229h1v1h-1zM1 228h1v1h-1zM2 225h1v1h-1zM19 223h1v1h-1zM37 223h1v1h-1zM8 221h1v1h-1zM86 221h1v1h-1zM0 219h1v1h-1zM36 217h2v1h-2zM66 216h1v1h-1zM5 215h1v1h-1zM41 215h1v1h-1zM150 213h1v1h-1zM42 211h1v1h-1zM75 211h1v1h-1zM26 210h1v1h-1zM2 209h2v1h-2zM43 207h1v1h-1zM71 205h1v1h-1zM18 204h1v1h-1zM28 204h1v1h-1zM28 203h1v1h-1zM28 201h1v1h-1zM8 200h1v1h-1zM28 200h1v1h-1zM58 200h1v1h-1zM8 199h1v1h-1zM28 199h1v1h-1zM24 197h1v1h-1zM28 197h1v1h-1zM118 196h1v1h-1zM12 195h1v1h-1zM50 195h1v1h-1zM17 194h1v1h-1zM17 190h1v1h-1zM30 188h1v1h-1zM94 188h1v1h-1zM28 186h1v1h-1zM40 186h1v1h-1zM44 186h1v1h-1zM20 185h1v1h-1zM28 184h1v1h-1zM17 183h1v1h-1zM11 180h1v1h-1zM70 180h1v1h-1zM28 179h1v1h-1zM28 177h1v1h-1zM39 177h1v1h-1zM57 175h1v1h-1zM24 174h1v1h-1zM42 173h1v1h-1zM14 172h1v1h-1zM61 172h1v1h-1zM58 171h1v1h-1zM2 169h1v1h-1zM62 169h1v1h-1zM8 167h1v1h-1zM14 165h1v1h-1zM39 163h1v1h-1zM79 162h1v1h-1zM70 160h1v1h-1zM71 158h1v1h-1zM90 158h1v1h-1zM28 156h1v1h-1zM57 156h1v1h-1zM38 155h1v1h-1zM65 153h3v1h-3zM86 153h1v1h-1zM9 152h1v1h-1zM36 152h1v1h-1zM28 151h1v1h-1zM70 150h1v1h-1zM28 148h1v1h-1zM77 144h1v1h-1zM31 142h1v1h-1zM1 141h1v1h-1zM28 140h1v1h-1zM52 140h1v1h-1zM41 139h1v1h-1zM28 138h1v1h-1zM30 138h1v1h-1zM28 134h1v1h-1zM96 132h1v1h-1zM6 130h1v1h-1zM10 125h1v1h-1zM56 125h1v1h-1zM92 125h1v1h-1zM6 124h1v1h-1zM42 124h1v1h-1zM6 122h1v1h-1zM34 118h1v1h-1zM135 114h1v1h-1zM71 111h1v1h-1zM52 108h1v1h-1zM18 106h1v1h-1zM3 104h1v1h-1zM28 101h1v1h-1zM42 101h1v1h-1zM1 97h1v1h-1zM51 97h1v1h-1zM98 95h1v1h-1zM30 94h1v1h-1zM48 94h1v1h-1zM77 94h1v1h-1zM1 92h1v1h-1zM11 92h1v1h-1zM43 92h1v1h-1zM61 91h1v1h-1zM59 90h1v1h-1zM1 88h1v1h-1zM35 87h1v1h-1zM1 85h1v1h-1zM19 85h1v1h-1zM60 85h1v1h-1zM67 85h1v1h-1zM13 83h1v1h-1zM35 82h1v1h-1zM7 79h1v1h-1zM42 79h1v1h-1zM24 78h1v1h-1zM50 76h1v1h-1zM42 75h1v1h-1zM1 74h1v1h-1zM60 74h1v1h-1zM26 73h1v1h-1zM42 72h1v1h-1zM48 72h1v1h-1zM108 72h1v1h-1zM42 71h1v1h-1zM24 69h1v1h-1zM59 68h1v1h-1zM91 67h1v1h-1zM6 66h1v1h-1zM24 66h1v1h-1zM58 65h1v1h-1zM6 64h1v1h-1zM24 62h1v1h-1zM120 62h1v1h-1zM34 59h1v1h-1zM62 57h1v1h-1zM36 56h1v1h-1zM42 56h1v1h-1zM26 54h1v1h-1zM62 53h1v1h-1zM36 51h1v1h-1zM14 50h1v1h-1zM36 50h1v1h-1zM140 47h1v1h-1zM36 46h1v1h-1zM18 43h1v1h-1zM61 43h1v1h-1zM41 42h1v1h-1zM47 42h1v1h-1zM74 41h1v1h-1zM27 40h1v1h-1zM42 40h1v1h-1zM47 40h1v1h-1zM47 37h1v1h-1zM16 35h1v1h-1zM80 35h1v1h-1zM39 34h1v1h-1zM46 33h1v1h-1zM3 30h1v1h-1zM71 30h1v1h-1zM56 29h1v1h-1zM34 27h1v1h-1zM64 25h1v1h-1zM61 20h1v1h-1zM15 19h1v1h-1zM17 19h1v1h-1zM61 19h1v1h-1zM120 18h1v1h-1zM17 17h3v1h-3zM24 17h1v1h-1zM61 17h1v1h-1zM102 16h1v1h-1zM15 15h1v1h-1zM18 15h2v1h-2zM18 14h1v1h-1zM19 12h1v1h-1zM97 11h1v1h-1zM6 10h1v1h-1zM14 10h1v1h-1zM18 10h1v1h-1zM24 10h1v1h-1zM43 10h1v1h-1zM14 9h1v1h-1zM19 9h1v1h-1zM11 8h1v1h-1zM18 8h2v1h-2zM26 8h1v1h-1zM14 7h1v1h-1zM2 6h1v1h-1zM19 6h1v1h-1zM140 6h1v1h-1zM14 5h1v1h-1zM24 4h1v1h-1zM18 3h1v1h-1zM2 2h1v1h-1zM14 2h1v1h-1zM19 2h1v1h-1zM25 2h1v1h-1zM17 1h1v1h-1z"/>
<path fill="#3d4d8a" d="M7 394h1v1h-1zM15 394h1v1h-1zM21 394h1v1h-1zM56 394h1v1h-1zM60 394h1v1h-1zM10 393h2v1h-2zM15 393h1v1h-1zM17 393h1v1h-1zM21 393h1v1h-1zM25 393h2v1h-2zM34 393h1v1h-1zM43 393h1v1h-1zM11 392h1v1h-1zM18 392h1v1h-1zM73 392h1v1h-1zM102 392h1v1h-1zM150 392h1v1h-1zM7 391h1v1h-1zM24 391h1v1h-1zM47 391h1v1h-1zM54 391h1v1h-1zM62 391h1v1h-1zM65 391h1v1h-1zM76 391h1v1h-1zM79 391h1v1h-1zM99 391h1v1h-1zM112 391h1v1h-1zM17 390h1v1h-1zM43 390h1v1h-1zM90 390h1v1h-1zM110 390h1v1h-1zM4 389h1v1h-1zM14 389h1v1h-1zM16 389h1v1h-1zM22 389h1v1h-1zM29 389h1v1h-1zM42 389h1v1h-1zM85 389h1v1h-1zM106 389h1v1h-1zM110 389h1v1h-1zM135 389h1v1h-1zM1 388h1v1h-1zM16 388h1v1h-1zM18 388h1v1h-1zM29 388h1v1h-1zM38 388h2v1h-2zM46 388h1v1h-1zM62 388h1v1h-1zM65 388h1v1h-1zM75 388h2v1h-2zM80 388h1v1h-1zM100 388h2v1h-2zM104 388h2v1h-2zM110 388h1v1h-1zM112 388h1v1h-1zM1 384h1v1h-1zM7 380h1v1h-1zM18 379h1v1h-1zM48 379h1v1h-1zM104 377h1v1h-1zM0 374h1v1h-1zM10 370h1v1h-1zM3 367h1v1h-1zM22 363h1v1h-1zM29 363h1v1h-1zM10 362h1v1h-1zM23 362h1v1h-1zM45 362h1v1h-1zM6 360h1v1h-1zM29 360h1v1h-1zM29 359h1v1h-1zM69 359h1v1h-1zM4 358h1v1h-1zM30 356h1v1h-1zM38 356h1v1h-1zM38 355h1v1h-1zM38 354h1v1h-1zM4 349h1v1h-1zM3 348h1v1h-1zM38 346h1v1h-1zM61 345h1v1h-1zM83 345h1v1h-1zM4 344h1v1h-1zM4 343h1v1h-1zM53 343h1v1h-1zM7 342h1v1h-1zM13 342h1v1h-1zM38 342h1v1h-1zM69 342h1v1h-1zM91 342h1v1h-1zM26 341h1v1h-1zM118 341h1v1h-1zM9 337h1v1h-1zM48 328h1v1h-1zM37 324h1v1h-1zM56 323h1v1h-1zM20 322h1v1h-1zM56 320h1v1h-1zM48 316h1v1h-1zM40 314h1v1h-1zM20 313h1v1h-1zM9 306h1v1h-1zM82 305h1v1h-1zM12 301h1v1h-1zM55 297h1v1h-1zM29 296h1v1h-1zM14 290h1v1h-1zM44 290h1v1h-1zM2 289h1v1h-1zM81 289h1v1h-1zM13 287h1v1h-1zM26 287h1v1h-1zM95 282h1v1h-1zM2 281h1v1h-1zM67 276h1v1h-1zM68 274h1v1h-1zM104 273h1v1h-1zM24 272h1v1h-1zM39 271h1v1h-1zM57 269h1v1h-1zM57 268h1v1h-1zM42 267h1v1h-1zM6 263h1v1h-1zM57 262h1v1h-1zM57 259h1v1h-1zM20 257h1v1h-1zM86 257h1v1h-1zM1 251h1v1h-1zM32 246h1v1h-1zM110 245h1v1h-1zM11 242h1v1h-1zM2 241h1v1h-1zM6 240h1v1h-1zM1 237h1v1h-1zM6 237h1v1h-1zM6 234h1v1h-1zM6 230h1v1h-1zM6 228h1v1h-1zM6 227h1v1h-1zM130 227h1v1h-1zM48 225h1v1h-1zM40 224h1v1h-1zM33 223h1v1h-1zM8 219h1v1h-1zM9 214h1v1h-1zM39 214h1v1h-1zM12 213h2v1h-2zM120 213h1v1h-1zM74 211h1v1h-1zM37 205h1v1h-1zM8 202h1v1h-1zM75 199h1v1h-1zM17 195h1v1h-1zM8 193h1v1h-1zM17 193h1v1h-1zM27 191h1v1h-1zM18 190h1v1h-1zM81 184h1v1h-1zM61 176h1v1h-1zM118 174h1v1h-1zM56 170h1v1h-1zM1 169h1v1h-1zM40 169h1v1h-1zM40 165h1v1h-1zM63 165h1v1h-1zM13 164h1v1h-1zM13 161h1v1h-1zM72 161h2v1h-2zM40 157h1v1h-1zM40 156h1v1h-1zM40 155h1v1h-1zM40 154h1v1h-1zM7 153h1v1h-1zM40 153h1v1h-1zM40 151h1v1h-1zM31 147h1v1h-1zM40 147h1v1h-1zM31 144h1v1h-1zM89 141h1v1h-1zM53 139h1v1h-1zM6 133h1v1h-1zM10 132h1v1h-1zM34 130h1v1h-1zM58 129h1v1h-1zM34 127h1v1h-1zM40 126h1v1h-1zM89 123h1v1h-1zM12 119h1v1h-1zM41 118h1v1h-1zM86 114h1v1h-1zM112 111h1v1h-1zM35 107h1v1h-1zM35 106h1v1h-1zM45 105h1v1h-1zM49 103h1v1h-1zM65 103h1v1h-1zM35 99h1v1h-1zM8 97h1v1h-1zM35 97h1v1h-1zM28 92h1v1h-1zM24 91h1v1h-1zM24 90h1v1h-1zM41 90h1v1h-1zM145 84h1v1h-1zM18 82h1v1h-1zM73 81h1v1h-1zM45 80h1v1h-1zM24 77h1v1h-1zM41 77h1v1h-1zM135 77h1v1h-1zM24 75h1v1h-1zM52 75h1v1h-1zM64 75h1v1h-1zM42 73h1v1h-1zM71 72h1v1h-1zM26 71h2v1h-2zM96 71h1v1h-1zM6 70h1v1h-1zM35 70h1v1h-1zM6 69h1v1h-1zM53 68h1v1h-1zM40 67h1v1h-1zM23 66h1v1h-1zM53 64h1v1h-1zM42 63h1v1h-1zM24 61h1v1h-1zM29 61h1v1h-1zM24 60h1v1h-1zM53 60h1v1h-1zM53 58h1v1h-1zM36 49h1v1h-1zM51 49h1v1h-1zM10 48h1v1h-1zM65 46h1v1h-1zM36 45h1v1h-1zM36 42h1v1h-1zM36 41h1v1h-1zM73 41h1v1h-1zM39 39h1v1h-1zM73 36h1v1h-1zM36 35h1v1h-1zM70 35h1v1h-1zM18 34h1v1h-1zM16 33h1v1h-1zM33 33h1v1h-1zM70 32h1v1h-1zM15 31h1v1h-1zM14 29h2v1h-2zM17 29h2v1h-2zM16 28h1v1h-1zM14 27h2v1h-2zM82 27h1v1h-1zM14 26h1v1h-1zM3 24h2v1h-2zM14 24h1v1h-1zM17 23h1v1h-1zM16 22h1v1h-1zM18 21h1v1h-1zM61 21h1v1h-1zM15 20h1v1h-1zM16 19h1v1h-1zM16 17h1v1h-1zM7 16h1v1h-1zM15 16h1v1h-1zM17 15h1v1h-1zM87 15h1v1h-1zM24 13h1v1h-1zM75 13h1v1h-1zM15 12h1v1h-1zM6 11h1v1h-1zM14 11h2v1h-2zM19 11h1v1h-1zM18 9h1v1h-1zM39 9h1v1h-1zM44 7h1v1h-1zM13 6h1v1h-1zM18 6h1v1h-1zM20 4h1v1h-1zM17 3h1v1h-1zM24 3h1v1h-1zM24 2h1v1h-1zM17 0h1v1h-1z"/>
<path fill="#39568c" d="M5 404h1v1h-1zM12 393h1v1h-1zM30 393h1v1h-1zM41 393h2v1h-2zM53 393h1v1h-1zM63 393h1v1h-1zM4 392h1v1h-1zM33 392h1v1h-1zM66 392h1v1h-1zM72 392h1v1h-1zM77 392h1v1h-1zM140 392h1v1h-1zM110 391h1v1h-1zM116 391h1v1h-1zM118 391h1v1h-1zM99 390h1v1h-1zM59 389h1v1h-1zM78 389h1v1h-1zM99 389h1v1h-1zM118 389h1v1h-1zM13 388h1v1h-1zM31 388h1v1h-1zM43 388h1v1h-1zM56 388h1v1h-1zM58 388h1v1h-1zM64 388h1v1h-1zM73 388h1v1h-1zM81 388h1v1h-1zM112 387h1v1h-1zM114 387h1v1h-1zM118 387h1v1h-1zM120 387h1v1h-1zM10 366h1v1h-1zM11 365h1v1h-1zM38 362h1v1h-1zM38 360h1v1h-1zM4 359h1v1h-1zM4 346h1v1h-1zM38 341h1v1h-1zM38 339h1v1h-1zM26 338h1v1h-1zM38 337h1v1h-1zM38 335h1v1h-1zM38 330h1v1h-1zM38 329h1v1h-1zM38 328h1v1h-1zM33 322h1v1h-1zM3 314h1v1h-1zM3 312h1v1h-1zM56 311h1v1h-1zM3 306h1v1h-1zM18 304h1v1h-1zM1 300h1v1h-1zM55 291h1v1h-1zM81 286h1v1h-1zM39 284h1v1h-1zM49 281h1v1h-1zM39 277h1v1h-1zM42 277h1v1h-1zM2 270h1v1h-1zM49 267h1v1h-1zM106 266h1v1h-1zM1 254h1v1h-1zM1 253h1v1h-1zM1 249h1v1h-1zM30 248h1v1h-1zM26 246h1v1h-1zM26 245h1v1h-1zM56 245h1v1h-1zM20 243h1v1h-1zM20 242h1v1h-1zM1 241h1v1h-1zM88 237h1v1h-1zM6 233h1v1h-1zM30 233h1v1h-1zM6 229h1v1h-1zM1 227h1v1h-1zM91 223h1v1h-1zM15 209h1v1h-1zM88 203h1v1h-1zM23 197h1v1h-1zM46 192h1v1h-1zM97 176h1v1h-1zM58 172h1v1h-1zM40 166h1v1h-1zM40 163h1v1h-1zM49 162h1v1h-1zM7 155h1v1h-1zM7 151h1v1h-1zM40 150h1v1h-1zM25 149h1v1h-1zM28 149h1v1h-1zM92 149h1v1h-1zM55 137h1v1h-1zM6 134h1v1h-1zM2 132h1v1h-1zM34 131h1v1h-1zM34 129h1v1h-1zM34 128h1v1h-1zM6 127h1v1h-1zM6 126h1v1h-1zM6 125h1v1h-1zM34 122h1v1h-1zM49 118h1v1h-1zM65 117h1v1h-1zM72 116h1v1h-1zM24 86h1v1h-1zM10 85h1v1h-1zM26 83h1v1h-1zM35 83h1v1h-1zM49 80h1v1h-1zM35 78h1v1h-1zM35 77h1v1h-1zM6 68h1v1h-1zM6 67h1v1h-1zM53 67h1v1h-1zM53 66h1v1h-1zM36 64h1v1h-1zM24 63h1v1h-1zM6 62h1v1h-1zM24 59h1v1h-1zM53 57h1v1h-1zM36 48h1v1h-1zM16 41h1v1h-1zM22 40h1v1h-1zM49 39h1v1h-1zM36 38h1v1h-1zM14 37h1v1h-1zM36 37h1v1h-1zM24 36h1v1h-1zM36 36h1v1h-1zM17 34h1v1h-1zM18 33h1v1h-1zM17 30h1v1h-1zM14 28h1v1h-1zM16 26h1v1h-1zM15 25h1v1h-1zM18 25h1v1h-1zM14 22h2v1h-2zM61 22h1v1h-1zM14 21h2v1h-2zM24 18h1v1h-1zM87 18h1v1h-1zM14 16h1v1h-1zM6 15h1v1h-1zM35 15h1v1h-1zM18 13h1v1h-1zM14 12h1v1h-1zM24 12h1v1h-1zM17 11h1v1h-1zM17 10h1v1h-1zM19 10h1v1h-1zM15 9h1v1h-1zM15 6h1v1h-1zM24 6h1v1h-1zM2 5h1v1h-1zM18 5h2v1h-2zM14 3h1v1h-1zM16 3h1v1h-1zM19 3h1v1h-1zM6 2h1v1h-1zM13 2h1v1h-1zM6 1h1v1h-1zM48 0h1v1h-1z"/>
<path fill="#355f8d" d="M28 404h2v1h-2zM32 404h1v1h-1zM35 404h1v1h-1zM63 404h1v1h-1zM73 404h1v1h-1zM85 404h1v1h-1zM140 393h1v1h-1zM108 392h1v1h-1zM110 392h1v1h-1zM116 392h1v1h-1zM135 392h1v1h-1zM125 391h1v1h-1zM79 390h1v1h-1zM81 390h1v1h-1zM106 390h1v1h-1zM130 390h1v1h-1zM84 389h1v1h-1zM86 389h1v1h-1zM94 389h1v1h-1zM130 386h1v1h-1zM130 384h1v1h-1zM4 351h1v1h-1zM26 339h1v1h-1zM56 322h1v1h-1zM56 314h1v1h-1zM3 308h1v1h-1zM9 307h1v1h-1zM9 303h1v1h-1zM2 288h1v1h-1zM39 286h1v1h-1zM2 283h1v1h-1zM2 280h1v1h-1zM39 270h1v1h-1zM26 244h1v1h-1zM1 238h1v1h-1zM30 232h1v1h-1zM1 229h1v1h-1zM1 224h1v1h-1zM37 222h1v1h-1zM8 217h1v1h-1zM8 201h1v1h-1zM8 191h1v1h-1zM7 156h1v1h-1zM7 150h1v1h-1zM41 121h1v1h-1zM41 114h1v1h-1zM41 113h1v1h-1zM6 106h1v1h-1zM6 102h1v1h-1zM24 92h1v1h-1zM24 87h1v1h-1zM24 82h1v1h-1zM35 79h1v1h-1zM35 76h1v1h-1zM24 71h1v1h-1zM24 68h1v1h-1zM53 65h1v1h-1zM6 60h1v1h-1zM6 59h1v1h-1zM36 53h1v1h-1zM17 40h1v1h-1zM36 39h1v1h-1zM18 35h1v1h-1zM24 35h1v1h-1zM6 34h1v1h-1zM18 31h1v1h-1zM17 28h1v1h-1zM15 24h2v1h-2zM18 24h1v1h-1zM17 21h1v1h-1zM18 20h1v1h-1zM18 19h1v1h-1zM18 18h2v1h-2zM6 16h1v1h-1zM87 16h1v1h-1zM15 13h1v1h-1zM87 13h1v1h-1zM24 11h1v1h-1zM24 9h1v1h-1zM17 8h1v1h-1zM6 7h1v1h-1zM18 7h1v1h-1zM24 7h1v1h-1zM13 4h1v1h-1zM6 3h1v1h-1zM13 0h1v1h-1z"/>
<path fill="#31688e" d="M16 404h1v1h-1zM19 404h1v1h-1zM22 404h1v1h-1zM34 404h1v1h-1zM37 404h1v1h-1zM40 404h1v1h-1zM47 404h1v1h-1zM55 404h1v1h-1zM59 404h1v1h-1zM89 404h1v1h-1zM10 392h1v1h-1zM16 392h1v1h-1zM35 392h1v1h-1zM52 392h1v1h-1zM60 392h2v1h-2zM71 392h1v1h-1zM29 391h1v1h-1zM35 391h1v1h-1zM37 391h1v1h-1zM61 391h1v1h-1zM97 391h1v1h-1zM130 391h1v1h-1zM21 390h1v1h-1zM35 390h1v1h-1zM39 390h1v1h-1zM53 390h1v1h-1zM62 390h1v1h-1zM86 390h1v1h-1zM95 390h1v1h-1zM38 389h1v1h-1zM43 389h1v1h-1zM79 389h1v1h-1zM100 389h1v1h-1zM74 388h1v1h-1zM87 388h1v1h-1zM94 388h1v1h-1zM130 388h1v1h-1zM130 383h1v1h-1zM10 367h1v1h-1zM10 359h1v1h-1zM4 352h1v1h-1zM4 347h1v1h-1zM26 344h1v1h-1zM56 324h1v1h-1zM56 321h1v1h-1zM3 317h1v1h-1zM9 317h1v1h-1zM9 314h1v1h-1zM3 313h1v1h-1zM9 313h1v1h-1zM56 312h1v1h-1zM3 311h1v1h-1zM39 293h1v1h-1zM2 290h1v1h-1zM39 285h1v1h-1zM2 282h1v1h-1zM39 278h1v1h-1zM2 277h1v1h-1zM2 273h1v1h-1zM39 272h1v1h-1zM18 251h1v1h-1zM18 250h1v1h-1zM18 249h1v1h-1zM26 243h1v1h-1zM26 240h1v1h-1zM23 237h1v1h-1zM40 227h1v1h-1zM40 226h1v1h-1zM35 224h1v1h-1zM35 223h1v1h-1zM40 223h1v1h-1zM8 220h1v1h-1zM40 220h1v1h-1zM8 209h1v1h-1zM8 188h1v1h-1zM25 158h1v1h-1zM25 154h1v1h-1zM25 142h1v1h-1zM34 121h1v1h-1zM41 119h1v1h-1zM6 101h1v1h-1zM6 99h1v1h-1zM35 98h1v1h-1zM6 96h1v1h-1zM6 94h1v1h-1zM24 84h1v1h-1zM24 83h1v1h-1zM35 73h1v1h-1zM35 72h1v1h-1zM16 40h1v1h-1zM6 35h1v1h-1zM24 32h1v1h-1zM16 27h2v1h-2zM16 25h2v1h-2zM16 23h1v1h-1zM18 22h1v1h-1zM87 19h1v1h-1zM17 18h1v1h-1zM6 17h1v1h-1zM17 16h1v1h-1zM24 16h1v1h-1zM24 15h1v1h-1zM6 13h1v1h-1zM6 9h1v1h-1zM17 9h1v1h-1zM13 7h1v1h-1zM17 7h1v1h-1zM17 6h1v1h-1zM19 4h1v1h-1z"/>
<path fill="#2d708e" d="M4 404h1v1h-1zM8 404h1v1h-1zM10 404h1v1h-1zM14 404h1v1h-1zM18 404h1v1h-1zM20 404h1v1h-1zM24 404h1v1h-1zM27 404h1v1h-1zM39 404h1v1h-1zM41 404h2v1h-2zM51 404h1v1h-1zM56 404h1v1h-1zM61 404h1v1h-1zM66 404h3v1h-3zM71 404h1v1h-1zM88 404h1v1h-1zM98 404h2v1h-2zM102 404h1v1h-1zM28 394h1v1h-1zM35 394h1v1h-1zM39 394h1v1h-1zM45 394h1v1h-1zM71 394h1v1h-1zM80 394h1v1h-1zM150 394h1v1h-1zM75 393h1v1h-1zM85 393h1v1h-1zM108 393h1v1h-1zM145 393h1v1h-1zM150 393h1v1h-1zM6 392h1v1h-1zM29 392h1v1h-1zM41 392h1v1h-1zM59 392h1v1h-1zM67 392h1v1h-1zM87 392h1v1h-1zM99 392h1v1h-1zM103 392h1v1h-1zM114 392h1v1h-1zM27 391h1v1h-1zM30 391h1v1h-1zM64 391h1v1h-1zM66 391h1v1h-1zM68 391h1v1h-1zM75 391h1v1h-1zM89 391h1v1h-1zM102 391h1v1h-1zM104 391h2v1h-2zM37 390h1v1h-1zM52 390h1v1h-1zM74 390h1v1h-1zM41 389h1v1h-1zM96 389h1v1h-1zM130 389h1v1h-1zM21 388h1v1h-1zM61 388h1v1h-1zM10 368h1v1h-1zM10 365h1v1h-1zM4 364h1v1h-1zM4 362h1v1h-1zM4 361h1v1h-1zM26 334h1v1h-1zM26 332h1v1h-1zM3 320h1v1h-1zM9 320h1v1h-1zM56 317h1v1h-1zM9 310h1v1h-1zM39 294h1v1h-1zM2 287h1v1h-1zM39 287h1v1h-1zM2 284h1v1h-1zM2 278h1v1h-1zM2 274h1v1h-1zM2 269h1v1h-1zM17 255h1v1h-1zM17 254h1v1h-1zM26 242h1v1h-1zM23 238h1v1h-1zM28 236h1v1h-1zM28 235h1v1h-1zM33 228h1v1h-1zM40 221h1v1h-1zM8 218h1v1h-1zM8 212h1v1h-1zM8 210h1v1h-1zM8 197h1v1h-1zM7 161h1v1h-1zM25 156h1v1h-1zM25 151h1v1h-1zM6 105h1v1h-1zM35 100h1v1h-1zM35 75h1v1h-1zM35 74h1v1h-1zM53 63h1v1h-1zM16 36h1v1h-1zM16 30h1v1h-1zM16 18h1v1h-1zM87 14h1v1h-1zM17 12h1v1h-1zM17 4h1v1h-1z"/>
<path fill="#2a788e" d="M7 404h1v1h-1zM11 404h2v1h-2zM15 404h1v1h-1zM17 404h1v1h-1zM25 404h1v1h-1zM43 404h2v1h-2zM48 404h1v1h-1zM50 404h1v1h-1zM58 404h1v1h-1zM80 404h2v1h-2zM84 404h1v1h-1zM91 404h1v1h-1zM108 404h1v1h-1zM4 394h1v1h-1zM17 394h1v1h-1zM25 394h1v1h-1zM27 394h1v1h-1zM32 394h1v1h-1zM54 394h1v1h-1zM59 394h1v1h-1zM61 394h1v1h-1zM64 394h1v1h-1zM66 394h1v1h-1zM70 394h1v1h-1zM85 394h1v1h-1zM91 394h1v1h-1zM96 394h1v1h-1zM105 394h1v1h-1zM8 393h1v1h-1zM54 393h1v1h-1zM58 393h1v1h-1zM66 393h1v1h-1zM71 393h1v1h-1zM91 393h1v1h-1zM100 393h1v1h-1zM110 393h1v1h-1zM9 392h1v1h-1zM30 392h1v1h-1zM36 392h1v1h-1zM39 392h1v1h-1zM44 392h1v1h-1zM53 392h1v1h-1zM57 392h1v1h-1zM62 392h1v1h-1zM75 392h1v1h-1zM98 392h1v1h-1zM112 392h1v1h-1zM120 392h1v1h-1zM130 392h1v1h-1zM11 391h1v1h-1zM53 391h1v1h-1zM59 391h1v1h-1zM92 391h1v1h-1zM94 391h1v1h-1zM96 391h1v1h-1zM22 390h1v1h-1zM41 390h1v1h-1zM85 390h1v1h-1zM102 390h1v1h-1zM92 389h1v1h-1zM105 389h1v1h-1zM26 388h1v1h-1zM82 388h1v1h-1zM103 388h1v1h-1zM130 385h1v1h-1zM10 364h1v1h-1zM4 363h1v1h-1zM4 353h1v1h-1zM4 350h1v1h-1zM4 348h1v1h-1zM26 340h1v1h-1zM9 305h1v1h-1zM9 302h1v1h-1zM2 286h1v1h-1zM39 279h1v1h-1zM2 271h1v1h-1zM16 257h1v1h-1zM26 247h1v1h-1zM26 241h1v1h-1zM24 237h1v1h-1zM32 231h1v1h-1zM40 229h1v1h-1zM25 155h1v1h-1zM25 150h1v1h-1zM7 149h1v1h-1zM25 145h1v1h-1zM34 124h1v1h-1zM35 105h1v1h-1zM35 71h1v1h-1zM16 39h1v1h-1zM16 38h1v1h-1zM24 33h1v1h-1zM16 20h1v1h-1z"/>
<path fill="#27808e" d="M6 404h1v1h-1zM23 404h1v1h-1zM33 404h1v1h-1zM38 404h1v1h-1zM62 404h1v1h-1zM69 404h1v1h-1zM74 404h1v1h-1zM77 404h1v1h-1zM83 404h1v1h-1zM93 404h1v1h-1zM100 404h2v1h-2zM104 404h1v1h-1zM6 394h1v1h-1zM42 394h1v1h-1zM72 394h1v1h-1zM76 394h1v1h-1zM84 394h1v1h-1zM98 394h1v1h-1zM4 393h1v1h-1zM44 393h1v1h-1zM70 393h1v1h-1zM88 393h2v1h-2zM93 393h1v1h-1zM99 393h1v1h-1zM118 393h1v1h-1zM14 392h1v1h-1zM22 392h1v1h-1zM92 392h1v1h-1zM118 392h1v1h-1zM3 391h1v1h-1zM6 391h1v1h-1zM21 391h2v1h-2zM36 391h1v1h-1zM41 391h1v1h-1zM49 391h2v1h-2zM90 391h1v1h-1zM64 390h1v1h-1zM93 390h1v1h-1zM33 389h1v1h-1zM93 389h1v1h-1zM130 387h1v1h-1zM10 363h1v1h-1zM26 346h1v1h-1zM26 343h1v1h-1zM26 337h1v1h-1zM26 336h1v1h-1zM9 315h1v1h-1zM3 305h1v1h-1zM39 290h1v1h-1zM39 276h1v1h-1zM39 273h1v1h-1zM19 247h1v1h-1zM19 246h1v1h-1zM24 238h1v1h-1zM26 237h1v1h-1zM34 225h1v1h-1zM7 162h1v1h-1zM7 160h1v1h-1zM25 159h1v1h-1zM25 143h1v1h-1zM25 141h1v1h-1zM34 125h1v1h-1zM35 103h1v1h-1zM35 101h1v1h-1zM16 37h1v1h-1zM24 34h1v1h-1z"/>
<path fill="#23888e" d="M9 404h1v1h-1zM13 404h1v1h-1zM21 404h1v1h-1zM26 404h1v1h-1zM30 404h2v1h-2zM36 404h1v1h-1zM45 404h2v1h-2zM52 404h1v1h-1zM57 404h1v1h-1zM60 404h1v1h-1zM82 404h1v1h-1zM90 404h1v1h-1zM92 404h1v1h-1zM95 404h2v1h-2zM103 404h1v1h-1zM105 404h1v1h-1zM135 404h1v1h-1zM140 404h1v1h-1zM9 394h1v1h-1zM13 394h1v1h-1zM29 394h1v1h-1zM38 394h1v1h-1zM41 394h1v1h-1zM93 394h1v1h-1zM140 394h1v1h-1zM145 394h1v1h-1zM20 393h1v1h-1zM24 393h1v1h-1zM39 393h1v1h-1zM47 393h1v1h-1zM80 393h1v1h-1zM87 393h1v1h-1zM103 393h1v1h-1zM26 392h1v1h-1zM47 392h1v1h-1zM55 392h1v1h-1zM68 392h1v1h-1zM70 392h1v1h-1zM82 392h1v1h-1zM101 392h1v1h-1zM125 392h1v1h-1zM9 391h1v1h-1zM12 391h1v1h-1zM16 391h1v1h-1zM32 391h1v1h-1zM71 391h1v1h-1zM14 390h1v1h-1zM54 390h1v1h-1zM73 390h1v1h-1zM75 390h1v1h-1zM98 390h1v1h-1zM13 389h1v1h-1zM52 388h1v1h-1zM9 319h1v1h-1zM9 318h1v1h-1zM9 312h1v1h-1zM3 307h1v1h-1zM9 304h1v1h-1zM39 289h1v1h-1zM39 282h1v1h-1zM2 275h1v1h-1zM39 275h1v1h-1zM39 269h1v1h-1zM16 258h1v1h-1zM25 238h2v1h-2zM25 237h1v1h-1zM27 235h1v1h-1zM29 234h1v1h-1zM31 231h1v1h-1zM32 230h1v1h-1zM40 228h1v1h-1zM33 227h1v1h-1zM34 224h1v1h-1zM34 223h1v1h-1zM8 207h1v1h-1zM25 144h1v1h-1zM34 126h1v1h-1zM34 119h1v1h-1zM6 109h1v1h-1zM6 97h1v1h-1zM24 88h1v1h-1zM24 85h1v1h-1zM16 34h1v1h-1zM6 28h1v1h-1z"/>
<path fill="#21918c" d="M49 404h1v1h-1zM70 404h1v1h-1zM79 404h1v1h-1zM86 404h1v1h-1zM114 404h1v1h-1zM120 404h1v1h-1zM5 394h1v1h-1zM16 394h1v1h-1zM36 394h1v1h-1zM43 394h1v1h-1zM47 394h1v1h-1zM63 394h1v1h-1zM69 394h1v1h-1zM82 394h1v1h-1zM87 394h1v1h-1zM116 394h1v1h-1zM32 393h1v1h-1zM46 393h1v1h-1zM49 393h1v1h-1zM51 393h1v1h-1zM114 393h1v1h-1zM5 392h1v1h-1zM8 392h1v1h-1zM12 392h2v1h-2zM25 392h1v1h-1zM27 392h1v1h-1zM46 392h1v1h-1zM51 392h1v1h-1zM56 392h1v1h-1zM58 392h1v1h-1zM64 392h1v1h-1zM93 392h1v1h-1zM97 392h1v1h-1zM105 392h1v1h-1zM19 391h2v1h-2zM28 391h1v1h-1zM38 391h1v1h-1zM52 391h1v1h-1zM77 391h1v1h-1zM83 391h1v1h-1zM46 390h1v1h-1zM63 390h1v1h-1zM80 390h1v1h-1zM94 390h1v1h-1zM100 390h1v1h-1zM103 390h2v1h-2zM15 389h1v1h-1zM73 389h1v1h-1zM3 315h1v1h-1zM3 309h1v1h-1zM3 302h1v1h-1zM2 279h1v1h-1zM27 236h1v1h-1zM29 235h1v1h-1zM40 222h1v1h-1zM8 211h1v1h-1zM8 206h1v1h-1zM8 203h1v1h-1zM7 157h1v1h-1zM25 152h1v1h-1zM7 147h1v1h-1zM35 104h1v1h-1zM6 100h1v1h-1zM6 91h1v1h-1zM6 43h1v1h-1zM6 29h1v1h-1z"/>
<path fill="#1f988b" d="M53 404h2v1h-2zM64 404h2v1h-2zM75 404h2v1h-2zM78 404h1v1h-1zM94 404h1v1h-1zM118 404h1v1h-1zM145 404h1v1h-1zM1 402h1v1h-1zM1 395h1v1h-1zM11 394h1v1h-1zM19 394h1v1h-1zM34 394h1v1h-1zM40 394h1v1h-1zM55 394h1v1h-1zM94 394h1v1h-1zM114 394h1v1h-1zM36 393h2v1h-2zM55 393h2v1h-2zM68 393h1v1h-1zM74 393h1v1h-1zM96 393h1v1h-1zM112 393h1v1h-1zM116 393h1v1h-1zM120 393h1v1h-1zM135 393h1v1h-1zM37 392h1v1h-1zM54 392h1v1h-1zM65 392h1v1h-1zM79 392h2v1h-2zM104 392h1v1h-1zM23 391h1v1h-1zM34 391h1v1h-1zM56 391h1v1h-1zM73 391h1v1h-1zM95 391h1v1h-1zM98 391h1v1h-1zM100 391h1v1h-1zM96 390h2v1h-2zM23 389h1v1h-1zM71 389h1v1h-1zM81 389h1v1h-1zM2 272h1v1h-1zM25 153h1v1h-1zM7 152h1v1h-1zM25 147h1v1h-1zM7 146h1v1h-1zM6 108h1v1h-1zM6 92h1v1h-1zM24 89h1v1h-1zM6 42h1v1h-1zM6 41h1v1h-1zM6 40h1v1h-1zM6 33h1v1h-1zM6 31h1v1h-1zM6 30h1v1h-1z"/>
<path fill="#1fa188" d="M72 404h1v1h-1zM97 404h1v1h-1zM23 394h2v1h-2zM26 394h1v1h-1zM33 394h1v1h-1zM44 394h1v1h-1zM49 394h2v1h-2zM68 394h1v1h-1zM101 394h1v1h-1zM106 394h1v1h-1zM120 394h1v1h-1zM135 394h1v1h-1zM45 393h1v1h-1zM50 393h1v1h-1zM86 393h1v1h-1zM45 392h1v1h-1zM50 392h1v1h-1zM63 392h1v1h-1zM74 392h1v1h-1zM83 392h1v1h-1zM94 392h1v1h-1zM106 392h1v1h-1zM46 391h1v1h-1zM51 391h1v1h-1zM84 391h1v1h-1zM87 391h2v1h-2zM3 316h1v1h-1zM3 303h1v1h-1zM25 148h1v1h-1zM25 146h1v1h-1zM6 107h1v1h-1zM6 44h1v1h-1zM6 38h1v1h-1z"/>
<path fill="#22a884" d="M87 404h1v1h-1zM106 404h1v1h-1zM110 404h1v1h-1zM20 394h1v1h-1zM30 394h1v1h-1zM58 394h1v1h-1zM81 394h1v1h-1zM23 393h1v1h-1zM38 393h1v1h-1zM48 393h1v1h-1zM76 393h2v1h-2zM82 393h1v1h-1zM105 393h1v1h-1zM125 393h1v1h-1zM130 393h1v1h-1zM69 392h1v1h-1zM81 392h1v1h-1zM100 392h1v1h-1zM60 391h1v1h-1zM70 391h1v1h-1zM74 391h1v1h-1zM3 319h1v1h-1zM3 318h1v1h-1zM6 98h1v1h-1zM6 39h1v1h-1z"/>
<path fill="#2ab07f" d="M116 404h1v1h-1zM125 404h1v1h-1zM9 403h1v1h-1zM21 403h1v1h-1zM46 403h1v1h-1zM105 403h1v1h-1zM57 394h1v1h-1zM74 394h1v1h-1zM110 394h1v1h-1zM112 394h1v1h-1zM118 394h1v1h-1zM28 393h1v1h-1zM35 393h1v1h-1zM52 393h1v1h-1zM57 393h1v1h-1zM59 393h1v1h-1zM64 393h1v1h-1zM78 393h1v1h-1zM76 392h1v1h-1zM85 392h1v1h-1zM89 392h1v1h-1zM91 392h1v1h-1zM95 392h2v1h-2zM101 391h1v1h-1zM8 213h1v1h-1zM6 103h1v1h-1z"/>
<path fill="#35b779" d="M112 404h1v1h-1zM130 404h1v1h-1zM150 404h1v1h-1zM8 403h1v1h-1zM10 403h1v1h-1zM22 403h1v1h-1zM34 403h1v1h-1zM44 403h1v1h-1zM84 403h1v1h-1zM95 403h1v1h-1zM150 395h1v1h-1zM62 394h1v1h-1zM73 394h1v1h-1zM83 394h1v1h-1zM89 394h1v1h-1zM95 394h1v1h-1zM100 394h1v1h-1zM84 393h1v1h-1z"/>
<path fill="#44bf70" d="M4 403h1v1h-1zM13 403h1v1h-1zM29 403h2v1h-2zM140 395h1v1h-1zM67 394h1v1h-1zM79 394h1v1h-1zM90 394h1v1h-1zM99 394h1v1h-1zM103 394h1v1h-1zM73 393h1v1h-1zM98 393h1v1h-1zM8 208h1v1h-1zM8 205h1v1h-1z"/>
<path fill="#54c568" d="M6 403h1v1h-1zM11 403h1v1h-1zM19 403h1v1h-1zM27 403h1v1h-1zM36 403h1v1h-1zM38 403h2v1h-2zM41 403h1v1h-1zM45 403h1v1h-1zM53 403h1v1h-1zM97 403h1v1h-1zM145 395h1v1h-1zM65 394h1v1h-1zM78 394h1v1h-1zM88 394h1v1h-1zM97 394h1v1h-1zM102 394h1v1h-1zM108 394h1v1h-1z"/>
<path fill="#67cc5c" d="M5 403h1v1h-1zM7 403h1v1h-1zM23 403h4v1h-4zM37 403h1v1h-1zM49 403h1v1h-1zM61 403h1v1h-1zM66 403h1v1h-1zM86 403h1v1h-1zM86 394h1v1h-1zM81 393h1v1h-1zM102 393h1v1h-1z"/>
<path fill="#7ad151" d="M12 403h1v1h-1zM14 403h1v1h-1zM18 403h1v1h-1zM20 403h1v1h-1zM58 403h1v1h-1zM99 403h1v1h-1zM103 403h1v1h-1zM0 402h1v1h-1zM2 402h1v1h-1zM0 395h1v1h-1zM2 395h1v1h-1zM92 394h1v1h-1zM104 394h1v1h-1zM90 393h1v1h-1zM97 393h1v1h-1zM106 393h1v1h-1z"/>
<path fill="#90d743" d="M15 403h3v1h-3zM28 403h1v1h-1zM31 403h1v1h-1zM56 403h1v1h-1zM80 403h1v1h-1zM89 403h1v1h-1z"/>
<path fill="#fde725" d="M32 403h2v1h-2zM35 403h1v1h-1zM40 403h1v1h-1zM42 403h2v1h-2zM47 403h2v1h-2zM50 403h3v1h-3zM54 403h2v1h-2zM57 403h1v1h-1zM59 403h2v1h-2zM62 403h4v1h-4zM67 403h13v1h-13zM81 403h3v1h-3zM85 403h1v1h-1zM87 403h2v1h-2zM90 403h5v1h-5zM96 403h1v1h-1zM98 403h1v1h-1zM100 403h3v1h-3zM104 403h1v1h-1zM106 403h1v1h-1zM108 403h1v1h-1zM110 403h1v1h-1zM112 403h1v1h-1zM114 403h1v1h-1zM116 403h1v1h-1zM118 403h1v1h-1zM120 403h1v1h-1zM125 403h1v1h-1zM130 403h1v1h-1zM135 403h1v1h-1zM140 403h1v1h-1zM145 403h1v1h-1zM150 403h1v1h-1zM3 402h104v1h-104zM108 402h1v1h-1zM110 402h1v1h-1zM112 402h1v1h-1zM114 402h1v1h-1zM116 402h1v1h-1zM118 402h1v1h-1zM120 402h1v1h-1zM125 402h1v1h-1zM130 402h1v1h-1zM135 402h1v1h-1zM140 402h1v1h-1zM145 402h1v1h-1zM150 402h1v1h-1zM0 401h107v1h-107zM108 401h1v1h-1zM110 401h1v1h-1zM112 401h1v1h-1zM114 401h1v1h-1zM116 401h1v1h-1zM118 401h1v1h-1zM120 401h1v1h-1zM125 401h1v1h-1zM130 401h1v1h-1zM135 401h1v1h-1zM140 401h1v1h-1zM145 401h1v1h-1zM150 401h1v1h-1zM0 400h107v1h-107zM108 400h1v1h-1zM110 400h1v1h-1zM112 400h1v1h-1zM114 400h1v1h-1zM116 400h1v1h-1zM118 400h1v1h-1zM120 400h1v1h-1zM125 400h1v1h-1zM130 400h1v1h-1zM135 400h1v1h-1zM140 400h1v1h-1zM145 400h1v1h-1zM150 400h1v1h-1zM0 399h107v1h-107zM108 399h1v1h-1zM110 399h1v1h-1zM112 399h1v1h-1zM114 399h1v1h-1zM116 399h1v1h-1zM118 399h1v1h-1zM120 399h1v1h-1zM125 399h1v1h-1zM130 399h1v1h-1zM135 399h1v1h-1zM140 399h1v1h-1zM145 399h1v1h-1zM150 399h1v1h-1zM0 398h107v1h-107zM108 398h1v1h-1zM110 398h1v1h-1zM112 398h1v1h-1zM114 398h1v1h-1zM116 398h1v1h-1zM118 398h1v1h-1zM120 398h1v1h-1zM125 398h1v1h-1zM130 398h1v1h-1zM135 398h1v1h-1zM140 398h1v1h-1zM145 398h1v1h-1zM150 398h1v1h-1zM0 397h107v1h-107zM108 397h1v1h-1zM110 397h1v1h-1zM112 397h1v1h-1zM114 397h1v1h-1zM116 397h1v1h-1zM118 397h1v1h-1zM120 397h1v1h-1zM125 397h1v1h-1zM130 397h1v1h-1zM135 397h1v1h-1zM140 397h1v1h-1zM145 397h1v1h-1zM150 397h1v1h-1zM0 396h107v1h-107zM108 396h1v1h-1zM110 396h1v1h-1zM112 396h1v1h-1zM114 396h1v1h-1zM116 396h1v1h-1zM118 396h1v1h-1zM120 396h1v1h-1zM125 396h1v1h-1zM130 396h1v1h-1zM135 396h1v1h-1zM140 396h1v1h-1zM145 396h1v1h-1zM150 396h1v1h-1zM3 395h104v1h-104zM108 395h1v1h-1zM110 395h1v1h-1zM112 395h1v1h-1zM114 395h1v1h-1zM116 395h1v1h-1zM118 395h1v1h-1zM120 395h1v1h-1zM125 395h1v1h-1zM130 395h1v1h-1zM135 395h1v1h-1zM125 394h1v1h-1zM130 394h1v1h-1z"/>
</g>
<rect x="98.4" y="85.3" width="864.00" height="737.20" fill="none" stroke="#000" stroke-width="1.1"/>
<rect x="1016.7" y="85.3" width="35.90" height="737.20" fill="url(#vir)"/>
<rect x="1016.7" y="85.3" width="35.90" height="737.20" fill="none" stroke="#000" stroke-width="1.1"/>
<path d="M179.40 822.50v4.86M287.46 822.50v4.86M395.52 822.50v4.86M503.58 822.50v4.86M611.64 822.50v4.86M719.70 822.50v4.86M827.76 822.50v4.86M935.82 822.50v4.86M98.40 810.50h-4.86M98.40 689.62h-4.86M98.40 568.75h-4.86M98.40 447.88h-4.86M98.40 327.00h-4.86M98.40 206.12h-4.86M98.40 85.25h-4.86M1052.60 822.50h4.86M1052.60 699.63h4.86M1052.60 576.77h4.86M1052.60 453.90h4.86M1052.60 331.03h4.86M1052.60 208.17h4.86M1052.60 85.30h4.86" stroke="#000" stroke-width="1.1" fill="none"/>
<g font-size="22.2">
<text x="172.02" y="848" textLength="12.96" lengthAdjust="spacingAndGlyphs">2</text><text x="280.08" y="848" textLength="12.96" lengthAdjust="spacingAndGlyphs">4</text><text x="388.14" y="848" textLength="12.96" lengthAdjust="spacingAndGlyphs">6</text><text x="496.20" y="848" textLength="12.96" lengthAdjust="spacingAndGlyphs">8</text><text x="597.78" y="848" textLength="25.92" lengthAdjust="spacingAndGlyphs">10</text><text x="705.84" y="848" textLength="25.92" lengthAdjust="spacingAndGlyphs">12</text><text x="813.90" y="848" textLength="25.92" lengthAdjust="spacingAndGlyphs">14</text><text x="921.96" y="848" textLength="25.92" lengthAdjust="spacingAndGlyphs">16</text>
<text x="74.34" y="818.00" textLength="12.96" lengthAdjust="spacingAndGlyphs">0</text><text x="48.42" y="697.12" textLength="38.88" lengthAdjust="spacingAndGlyphs">100</text><text x="48.42" y="576.25" textLength="38.88" lengthAdjust="spacingAndGlyphs">200</text><text x="48.42" y="455.38" textLength="38.88" lengthAdjust="spacingAndGlyphs">300</text><text x="48.42" y="334.50" textLength="38.88" lengthAdjust="spacingAndGlyphs">400</text><text x="48.42" y="213.62" textLength="38.88" lengthAdjust="spacingAndGlyphs">500</text><text x="48.42" y="92.75" textLength="38.88" lengthAdjust="spacingAndGlyphs">600</text>
<text x="1062" y="830.00" textLength="12.96" lengthAdjust="spacingAndGlyphs">0</text><text x="1062" y="707.13" textLength="12.96" lengthAdjust="spacingAndGlyphs">5</text><text x="1062" y="584.27" textLength="25.92" lengthAdjust="spacingAndGlyphs">10</text><text x="1062" y="461.40" textLength="25.92" lengthAdjust="spacingAndGlyphs">15</text><text x="1062" y="338.53" textLength="25.92" lengthAdjust="spacingAndGlyphs">20</text><text x="1062" y="215.67" textLength="25.92" lengthAdjust="spacingAndGlyphs">25</text><text x="1062" y="92.80" textLength="25.92" lengthAdjust="spacingAndGlyphs">30</text>
</g>
<g font-size="22.5">
<text x="440.4" y="873.7" textLength="176.8" lengthAdjust="spacingAndGlyphs">Frequency (MHz)</text>
<text transform="translate(38,549.7) rotate(-90)" textLength="190.7" lengthAdjust="spacingAndGlyphs">Virtual range (km)</text>
<text transform="translate(1108.9,501.5) rotate(-90)" textLength="94.0" lengthAdjust="spacingAndGlyphs">SNR (dB)</text>
</g>
</svg>
</body></html>
